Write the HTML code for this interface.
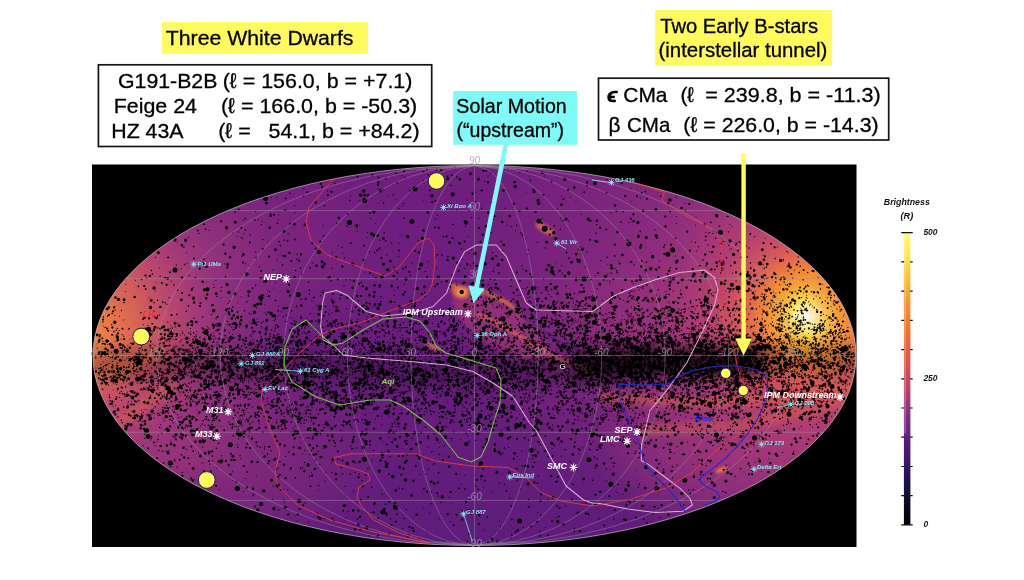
<!DOCTYPE html>
<html><head><meta charset="utf-8"><title>Sky map</title>
<style>
html,body{margin:0;padding:0;background:#fff;}
svg{display:block}
text{font-family:"Liberation Sans","DejaVu Sans",sans-serif;}
.mt text{stroke:#000;stroke-width:0.3px}
.big{font-size:20px;fill:#000}
.wl{font-weight:bold;font-style:italic;font-size:9px;fill:#fff}
.cl{font-style:italic;font-weight:bold;font-size:6px;fill:#7eeeee}
.gl{font-style:italic;font-size:10px;fill:#a79aa8;opacity:0.8}
.cb{font-style:italic;font-weight:bold;font-size:8.5px;fill:#111}
</style></head><body>
<svg width="1024" height="580" viewBox="0 0 1024 580">
<defs>
<clipPath id="ell"><ellipse cx="474.5" cy="355.5" rx="381.5" ry="190"/></clipPath>
<radialGradient id="sun" gradientUnits="userSpaceOnUse" cx="809" cy="316" r="250">
<stop offset="0" stop-color="#fffff4"/>
<stop offset="0.024" stop-color="#fffcc8"/>
<stop offset="0.05" stop-color="#fff080"/>
<stop offset="0.082" stop-color="#fcd448"/>
<stop offset="0.125" stop-color="#f8a832"/>
<stop offset="0.19" stop-color="#f08238"/>
<stop offset="0.27" stop-color="#dc5e58" stop-opacity="0.95"/>
<stop offset="0.38" stop-color="#c0466e" stop-opacity="0.85"/>
<stop offset="0.55" stop-color="#a83878" stop-opacity="0.6"/>
<stop offset="0.75" stop-color="#96307c" stop-opacity="0.3"/>
<stop offset="1" stop-color="#8a2c80" stop-opacity="0"/>
</radialGradient>
<radialGradient id="lglow" gradientUnits="userSpaceOnUse" cx="70" cy="322" r="235">
<stop offset="0" stop-color="#f89038"/>
<stop offset="0.15" stop-color="#f08040"/>
<stop offset="0.3" stop-color="#e06850" stop-opacity="0.97"/>
<stop offset="0.45" stop-color="#c24c6c" stop-opacity="0.88"/>
<stop offset="0.65" stop-color="#a03a7c" stop-opacity="0.58"/>
<stop offset="1" stop-color="#80287e" stop-opacity="0"/>
</radialGradient>
<linearGradient id="base" x1="0" y1="0" x2="0" y2="1">
<stop offset="0" stop-color="#701e7f"/>
<stop offset="0.5" stop-color="#6a1d7d"/>
<stop offset="1" stop-color="#5e1c7a"/>
</linearGradient>
<linearGradient id="band" x1="0" y1="0" x2="0" y2="1">
<stop offset="0" stop-color="#000" stop-opacity="0"/>
<stop offset="0.45" stop-color="#000" stop-opacity="0.45"/>
<stop offset="0.6" stop-color="#000" stop-opacity="0.45"/>
<stop offset="1" stop-color="#000" stop-opacity="0"/>
</linearGradient>
<linearGradient id="cbar" x1="0" y1="1" x2="0" y2="0">
<stop offset="0" stop-color="#000004"/>
<stop offset="0.08" stop-color="#0c0a24"/>
<stop offset="0.18" stop-color="#2a1260"/>
<stop offset="0.28" stop-color="#541a80"/>
<stop offset="0.38" stop-color="#8a2c80"/>
<stop offset="0.46" stop-color="#bc3e6c"/>
<stop offset="0.54" stop-color="#dc5048"/>
<stop offset="0.64" stop-color="#ec6a30"/>
<stop offset="0.75" stop-color="#f59030"/>
<stop offset="0.86" stop-color="#fbc63c"/>
<stop offset="0.94" stop-color="#fdec5a"/>
<stop offset="1" stop-color="#fff87a"/>
</linearGradient>
<filter id="bl3" x="-50%" y="-50%" width="200%" height="200%"><feGaussianBlur stdDeviation="3"/></filter>
<filter id="bl2" x="-50%" y="-50%" width="200%" height="200%"><feGaussianBlur stdDeviation="1.6"/></filter>
<filter id="bl6" x="-50%" y="-50%" width="200%" height="200%"><feGaussianBlur stdDeviation="6"/></filter>
<filter id="bld" filterUnits="userSpaceOnUse" x="80" y="150" width="790" height="410"><feGaussianBlur stdDeviation="0.35"/></filter>
<filter id="blb" filterUnits="userSpaceOnUse" x="60" y="280" width="830" height="160"><feGaussianBlur stdDeviation="7"/></filter>
<g id="st"><path d="M-3.9 0H3.9M0 -3.9V3.9M-2.8 -2.8L2.8 2.8M-2.8 2.8L2.8 -2.8" stroke-width="1.1" fill="none"/><circle r="1.7" stroke="none"/></g>
<g id="cs"><path d="M-3.3 0H3.3M0 -3.3V3.3M-2.5 -2.5L2.5 2.5M-2.5 2.5L2.5 -2.5" stroke-width="0.8" fill="none"/><circle r="1.4" stroke="none"/></g>
</defs>
<rect width="1024" height="580" fill="#fff"/>
<rect x="92" y="164.5" width="764.5" height="382.5" fill="#000"/>

<g clip-path="url(#ell)">
<rect x="90" y="160" width="770" height="390" fill="url(#base)"/>
<rect x="90" y="160" width="770" height="390" fill="url(#lglow)"/>
<radialGradient id="rg1"><stop offset="0" stop-color="#b03c7a" stop-opacity="0.5"/><stop offset="0.5" stop-color="#b03c7a" stop-opacity="0.3"/><stop offset="1" stop-color="#b03c7a" stop-opacity="0"/></radialGradient>
<ellipse cx="180" cy="455" rx="210" ry="120" fill="url(#rg1)"/>
<radialGradient id="rg2"><stop offset="0" stop-color="#c04474" stop-opacity="0.6"/><stop offset="0.5" stop-color="#c04474" stop-opacity="0.36"/><stop offset="1" stop-color="#c04474" stop-opacity="0"/></radialGradient>
<ellipse cx="760" cy="445" rx="170" ry="95" fill="url(#rg2)"/>
<radialGradient id="rg3"><stop offset="0" stop-color="#a0327c" stop-opacity="0.45"/><stop offset="0.5" stop-color="#a0327c" stop-opacity="0.27"/><stop offset="1" stop-color="#a0327c" stop-opacity="0"/></radialGradient>
<ellipse cx="650" cy="325" rx="150" ry="70" fill="url(#rg3)"/>
<radialGradient id="rg4"><stop offset="0" stop-color="#b23e7a" stop-opacity="0.5"/><stop offset="0.5" stop-color="#b23e7a" stop-opacity="0.3"/><stop offset="1" stop-color="#b23e7a" stop-opacity="0"/></radialGradient>
<ellipse cx="800" cy="300" rx="360" ry="250" fill="url(#rg4)"/>
<radialGradient id="rg5"><stop offset="0" stop-color="#a83a7c" stop-opacity="0.35"/><stop offset="0.5" stop-color="#a83a7c" stop-opacity="0.21"/><stop offset="1" stop-color="#a83a7c" stop-opacity="0"/></radialGradient>
<ellipse cx="200" cy="250" rx="200" ry="110" fill="url(#rg5)"/>
<rect x="90" y="160" width="770" height="390" fill="url(#sun)"/>
<radialGradient id="rg6"><stop offset="0" stop-color="#f08838" stop-opacity="0.8"/><stop offset="0.5" stop-color="#f08838" stop-opacity="0.48"/><stop offset="1" stop-color="#f08838" stop-opacity="0"/></radialGradient>
<ellipse cx="856" cy="285" rx="60" ry="75" fill="url(#rg6)"/>
<g filter="url(#bl2)" fill="none" stroke-linecap="round">
<ellipse cx="500" cy="325" rx="55" ry="22" transform="rotate(32 500 325)" fill="#b84078" opacity="0.45"/>
<path d="M452 285.5 L487 293 L508 303 L520 315" stroke="#e8783c" stroke-width="4" opacity="0.8"/>
<path d="M485 295 L518 313 L538 328.6 L557 340 L580 352" stroke="#2c1a70" stroke-width="2.4" opacity="0.75"/>
<path d="M479 315 L504.5 326.6 L522 338.4 L541.6 350 L561 360 L592 371.6" stroke="#e0685a" stroke-width="4.5" opacity="0.7"/>
<ellipse cx="460" cy="292.5" rx="9" ry="5.5" transform="rotate(20 460 292.5)" fill="#e87840" opacity="0.8"/>
<ellipse cx="461.5" cy="292.5" rx="4.5" ry="3.2" fill="#fbaa30" opacity="0.95"/>
<path d="M427 343 L438 350" stroke="#e8784a" stroke-width="4" opacity="0.8"/>
<ellipse cx="545" cy="229" rx="11" ry="4" transform="rotate(30 545 229)" fill="#e0704a" opacity="0.8"/>
<ellipse cx="721" cy="470" rx="6" ry="2" transform="rotate(-25 721 470)" fill="#f58a30" opacity="0.95"/>
</g>
<g filter="url(#bl3)">
<path d="M600 392 L700 398 L800 392 L856 380 L856 392 L800 404 L700 408 L600 402 Z" fill="#d8604c" opacity="0.55"/>
<path d="M640 425 L740 420 L850 395 L850 405 L740 432 L640 436 Z" fill="#d8604c" opacity="0.45"/>
<path d="M92 372 L130 360 L160 350 L170 356 L130 372 L95 385 Z" fill="#e87838" opacity="0.55"/>
<path d="M110 420 L170 380 L180 388 L120 430 Z" fill="#e06a48" opacity="0.4"/>
</g>
<path d="M90.0 364.0L100.0 364.0L110.0 364.0L120.0 364.0L130.0 364.0L140.0 364.0L150.0 364.0L160.0 364.1L170.0 364.3L180.0 364.4L190.0 364.5L200.0 364.7L210.0 364.8L220.0 364.9L230.0 365.1L240.0 365.2L250.0 365.3L260.0 365.5L270.0 365.6L280.0 365.7L290.0 365.9L300.0 366.0L310.0 366.4L320.0 366.8L330.0 367.2L340.0 367.6L350.0 368.0L360.0 368.4L370.0 368.8L380.0 369.2L390.0 369.6L400.0 370.0L410.0 370.4L420.0 370.8L430.0 371.1L440.0 371.5L450.0 371.9L460.0 372.2L470.0 372.6L480.0 373.0L490.0 372.4L500.0 371.8L510.0 371.1L520.0 370.5L530.0 369.9L540.0 369.2L550.0 368.6L560.0 368.0L570.0 367.0L580.0 366.0L590.0 365.0L600.0 364.0L610.0 363.0L620.0 362.8L630.0 362.6L640.0 362.4L650.0 362.2L660.0 362.0L670.0 362.0L680.0 362.0L690.0 362.0L700.0 362.0L710.0 362.0L720.0 362.0L730.0 361.7L740.0 361.3L750.0 361.0L760.0 360.7L770.0 360.3L780.0 360.0L790.0 359.9L800.0 359.8L810.0 359.6L820.0 359.5L830.0 359.4L840.0 359.2L850.0 359.1L860.0 359.0" stroke="#000" stroke-width="30" fill="none" opacity="0.22" filter="url(#blb)"/>
<path d="M575.0 366.5L585.0 365.5L595.0 364.5L605.0 363.5L615.0 362.9L625.0 362.7L635.0 362.5L645.0 362.3L655.0 362.1L665.0 362.0L675.0 362.0L685.0 362.0L695.0 362.0L705.0 362.0L715.0 362.0L725.0 361.8L735.0 361.5L745.0 361.2L755.0 360.8L765.0 360.5" stroke="#000" stroke-width="26" fill="none" opacity="0.62" filter="url(#blb)"/>
<g filter="url(#bld)">
<path d="M747.8 350.8h0M685.1 321.1h0M260.7 400.0h0M715.3 437.0h0M178.6 363.2h0M824.1 340.3h0M554.2 361.0h0M502.1 366.8h0M777.7 339.3h0M326.0 389.0h0M326.9 391.7h0M393.7 412.4h0M716.5 316.9h0M713.3 319.8h0M357.2 387.2h0M270.4 351.0h0M257.2 319.2h0M254.6 368.0h0M182.5 378.3h0M242.7 419.1h0M209.3 365.1h0M450.3 391.5h0M262.2 221.1h0M714.8 358.9h0M407.2 351.7h0M648.6 363.2h0M478.4 338.1h0M480.0 338.8h0M439.7 447.4h0M647.8 333.2h0M476.9 341.4h0M563.7 329.2h0M276.9 197.3h0M553.0 341.7h0M568.5 320.8h0M771.4 373.6h0M662.1 370.1h0M666.4 352.6h0M667.4 355.1h0M778.7 306.7h0M390.3 429.4h0M498.2 386.0h0M402.7 404.3h0M635.3 380.3h0M667.8 359.5h0M564.7 377.1h0M435.7 353.3h0M791.2 364.7h0M767.9 277.9h0M477.2 359.6h0M808.4 333.5h0M306.3 409.7h0M679.3 365.9h0M828.1 404.6h0M231.9 391.8h0M419.7 474.4h0M703.3 366.7h0M620.7 361.4h0M795.6 401.1h0M784.7 384.2h0M538.7 311.4h0M806.1 400.8h0M378.2 380.6h0M528.5 384.6h0M532.1 388.1h0M780.9 430.8h0M622.5 363.6h0M277.2 419.4h0M478.7 343.8h0M616.0 383.0h0M295.4 432.1h0M293.8 431.3h0M195.7 377.7h0M530.9 341.1h0M696.6 333.3h0M144.2 409.5h0M813.2 355.2h0M636.1 423.6h0M786.3 394.4h0M475.2 380.6h0M478.6 384.2h0M217.4 411.6h0M468.8 357.0h0M631.2 201.5h0M501.5 359.2h0M819.5 327.4h0M170.8 325.3h0M764.4 347.0h0M776.9 379.7h0M517.8 295.5h0M680.5 272.7h0M645.3 379.4h0M715.9 370.1h0M709.0 370.7h0M757.6 345.5h0M375.0 223.2h0M671.1 349.7h0M107.8 371.3h0M103.4 372.3h0M642.7 404.6h0M643.8 404.0h0M644.4 402.9h0M645.6 402.1h0M635.2 331.5h0M761.6 471.2h0M546.8 308.6h0M777.0 320.1h0M547.4 425.5h0M321.4 399.4h0M316.6 401.5h0M216.8 358.2h0M535.9 359.5h0M386.6 358.1h0M850.6 344.5h0M247.6 367.8h0M743.1 364.6h0M845.7 335.4h0M531.3 318.7h0M234.0 374.9h0M258.1 220.0h0M418.8 435.2h0M714.3 385.2h0M196.7 403.2h0M199.0 402.0h0M198.9 399.7h0M664.1 311.0h0M397.3 426.3h0M492.2 428.6h0M399.6 392.6h0M301.7 372.8h0M405.7 342.6h0M447.1 209.4h0M211.5 364.5h0M296.4 377.4h0M298.3 375.2h0M294.1 378.3h0M229.3 315.2h0M826.0 330.1h0M417.8 392.2h0M732.7 356.4h0M395.9 199.6h0M572.3 379.3h0M286.9 356.5h0M813.7 345.1h0M773.7 379.1h0M779.6 377.3h0M777.4 377.7h0M740.8 375.7h0M812.9 402.7h0M814.6 402.7h0M127.8 345.2h0M131.7 345.1h0M630.7 345.5h0M418.6 394.1h0M543.3 305.8h0M726.5 355.7h0M522.6 369.1h0M289.5 342.1h0M481.2 382.3h0M731.4 413.9h0M780.9 363.0h0M811.1 371.2h0M249.0 374.2h0M611.0 368.8h0M280.4 373.2h0M277.9 371.6h0M290.9 334.4h0M463.7 318.7h0M492.4 328.1h0M492.9 327.6h0M798.9 342.3h0M798.4 343.2h0M754.8 360.0h0M755.7 353.7h0M675.4 350.6h0M443.1 383.7h0M522.7 313.7h0M707.5 388.2h0M840.8 353.7h0M373.5 358.4h0M177.4 357.6h0M718.9 328.5h0M746.2 308.7h0M745.9 310.4h0M402.6 356.9h0M637.1 363.5h0M631.8 362.6h0M542.7 341.9h0M312.6 344.9h0M693.4 350.6h0M638.2 337.3h0M558.2 301.2h0M216.8 468.1h0M569.9 197.0h0M112.2 369.2h0M110.8 370.4h0M278.2 391.6h0M500.9 318.4h0M453.8 380.0h0M455.6 380.1h0M203.9 354.8h0M280.0 490.3h0M507.4 367.8h0M554.6 275.5h0M452.6 372.9h0M606.7 298.7h0M286.4 408.1h0M395.3 392.7h0M463.8 340.5h0M448.4 380.0h0M700.7 380.1h0M801.4 355.4h0M685.4 417.1h0M364.1 384.9h0M359.0 383.8h0M363.0 385.7h0M228.1 324.3h0M670.0 328.3h0M631.9 408.3h0M233.3 326.9h0M309.0 387.1h0M765.8 384.6h0M585.4 317.7h0M584.6 312.8h0M586.7 314.4h0M127.0 358.3h0M415.0 301.4h0M545.2 527.5h0M560.1 323.8h0M677.3 370.2h0M776.0 347.0h0M360.7 362.3h0M366.3 361.6h0M361.0 359.6h0M754.2 295.0h0M745.2 343.9h0M659.6 296.0h0M467.4 435.3h0M110.9 401.6h0M110.9 404.4h0M113.2 406.7h0M277.6 457.9h0M643.6 377.7h0M465.7 374.5h0M642.1 315.5h0M641.9 317.5h0M728.4 341.4h0M560.1 407.5h0M186.5 372.5h0M264.3 386.4h0M275.2 343.2h0M401.3 359.8h0M726.3 397.4h0M640.1 365.1h0M696.2 393.6h0M299.6 380.2h0M623.4 300.4h0M694.1 398.1h0M234.7 351.0h0M805.4 353.8h0M553.3 407.7h0M554.7 405.7h0M558.9 414.0h0M743.0 362.4h0M852.7 365.6h0M446.8 339.9h0M770.8 409.8h0M773.5 411.7h0M697.0 377.1h0M784.7 372.4h0M346.1 349.2h0M761.0 342.2h0M416.1 397.1h0M825.5 347.7h0M343.7 377.9h0M526.6 323.6h0M174.1 375.3h0M505.3 427.5h0M774.8 309.3h0M777.6 308.6h0M656.5 294.9h0M817.0 354.9h0M821.2 351.0h0M263.7 380.2h0M260.4 372.6h0M264.5 376.6h0M526.8 343.5h0M528.8 342.2h0M297.1 296.0h0M617.2 374.5h0M443.5 324.1h0M282.2 346.6h0M160.5 354.2h0M161.9 351.5h0M163.7 357.3h0M372.4 367.9h0M157.2 441.3h0M451.2 503.8h0M459.9 341.7h0M457.6 343.7h0M417.7 333.4h0M809.5 305.2h0M697.5 349.3h0M700.0 348.8h0M823.9 421.3h0M611.8 332.2h0M321.4 353.1h0M723.4 388.8h0M779.9 406.8h0M553.9 332.7h0M552.0 335.3h0M731.1 372.9h0M654.6 355.5h0M656.3 354.2h0M656.1 356.8h0M326.9 425.3h0M330.2 426.6h0M536.4 412.5h0M625.7 366.8h0M213.0 365.0h0M618.5 359.5h0M511.4 477.2h0M732.8 346.9h0M453.4 359.4h0M326.8 363.7h0M703.0 395.6h0M810.1 362.1h0M810.1 358.2h0M589.9 392.1h0M162.8 375.5h0M116.4 382.0h0M117.8 380.5h0M696.7 251.2h0M566.5 319.2h0M758.9 380.3h0M177.2 242.2h0M189.1 338.5h0M737.0 389.1h0M634.0 429.4h0M432.3 378.8h0M488.0 176.0h0M607.4 325.9h0M494.6 399.9h0M372.1 355.4h0M500.6 526.4h0M554.1 379.1h0M736.3 373.4h0M606.0 381.3h0M650.1 399.3h0M113.5 383.7h0M659.7 363.2h0M827.8 319.1h0M562.4 374.9h0M707.8 426.8h0M706.7 429.5h0M571.7 336.1h0M676.1 357.5h0M563.0 355.3h0M623.8 367.6h0M777.6 247.2h0M257.7 405.9h0M187.7 368.1h0M483.8 367.0h0M624.7 429.6h0M211.8 349.5h0M822.3 395.3h0M652.8 317.2h0M187.4 362.4h0M496.2 300.6h0M347.5 392.3h0M294.0 350.9h0M504.4 360.4h0M705.2 336.1h0M169.1 364.5h0M670.2 310.7h0M456.6 365.6h0M739.0 408.3h0M294.6 367.2h0M501.9 370.9h0M573.0 376.9h0M697.9 366.9h0M578.4 375.6h0M198.7 346.2h0M601.0 423.4h0M277.0 394.1h0M278.2 412.4h0M245.1 421.8h0M248.6 420.1h0M517.9 301.8h0M511.2 301.8h0M831.4 416.3h0M208.6 377.1h0M144.2 373.5h0M267.9 241.3h0M579.0 352.2h0M608.0 317.1h0M552.1 448.4h0M404.0 340.4h0M405.5 340.1h0M616.2 348.4h0M756.5 437.3h0M303.1 341.3h0M479.0 332.3h0M472.8 338.8h0M492.8 349.2h0M754.4 380.0h0M580.3 357.8h0M709.1 315.2h0M424.2 295.1h0M631.9 357.9h0M726.5 371.8h0M810.0 322.8h0M673.7 204.7h0M761.4 379.8h0M567.7 378.3h0M541.9 351.9h0M783.7 379.9h0M668.0 359.8h0M611.3 349.8h0M259.6 380.6h0M764.1 298.2h0M761.4 301.2h0M381.7 416.0h0M652.8 353.1h0M652.4 355.0h0M802.3 372.5h0M185.3 352.0h0M693.7 330.0h0M690.8 331.9h0M837.1 399.6h0M759.2 381.2h0M592.9 358.4h0M414.9 170.5h0M558.5 346.3h0M556.3 349.0h0M253.9 391.3h0M377.7 346.6h0M157.1 368.4h0M277.4 371.5h0M671.5 280.2h0M641.8 348.2h0M617.8 369.4h0M641.1 362.2h0M628.0 351.5h0M198.2 414.0h0M557.7 408.5h0M388.3 384.8h0M832.6 311.1h0M421.5 335.3h0M452.2 391.8h0M636.1 365.9h0M636.3 367.5h0M636.1 367.0h0M112.9 372.9h0M584.0 322.9h0M587.9 320.8h0M799.2 342.5h0M642.0 312.9h0M786.7 348.7h0M790.9 348.8h0M618.5 352.4h0M296.2 357.0h0M507.6 169.2h0M160.4 382.8h0M697.2 340.1h0M316.4 386.1h0M741.5 397.7h0M668.7 328.1h0M370.0 387.9h0M557.9 321.7h0M728.9 358.0h0M595.9 183.0h0M562.4 272.8h0M618.7 260.5h0M583.4 349.2h0M797.8 351.1h0M835.0 382.2h0M721.9 360.8h0M733.1 291.0h0M556.1 316.0h0M669.8 341.9h0M807.3 337.9h0M558.7 410.4h0M558.5 407.7h0M557.8 407.9h0M125.7 413.9h0M131.8 411.5h0M672.8 349.0h0M735.8 333.9h0M768.1 365.2h0M307.4 323.8h0M306.1 321.0h0M771.5 357.8h0M641.1 381.1h0M462.8 327.2h0M494.3 280.1h0M177.0 367.7h0M556.5 262.2h0M670.9 309.5h0M818.4 396.3h0M188.1 386.3h0M416.7 360.7h0M653.2 398.0h0M174.1 401.6h0M239.6 417.1h0M682.6 390.1h0M146.5 366.6h0M115.6 405.3h0M365.4 366.5h0M612.7 409.2h0M610.1 409.0h0M772.8 297.1h0M789.0 322.5h0M718.2 342.4h0M714.3 343.4h0M553.5 306.5h0M610.6 317.6h0M215.1 366.0h0M409.7 397.4h0M407.1 399.7h0M590.4 352.6h0M588.3 353.2h0M686.9 371.7h0M670.2 430.9h0M810.3 383.0h0M326.1 201.1h0M764.4 369.2h0M563.5 301.9h0M321.8 387.1h0M160.5 352.0h0M784.6 289.8h0M701.6 308.4h0M706.1 310.3h0M524.7 323.1h0M347.8 405.9h0M754.1 447.0h0M837.6 409.5h0M578.8 416.8h0M369.7 367.6h0M369.7 370.4h0M258.1 397.5h0M209.4 407.6h0M515.7 384.3h0M518.2 382.1h0M670.5 391.2h0M303.5 403.9h0M776.7 330.7h0M456.2 398.7h0M382.5 441.7h0M564.6 347.9h0M172.7 378.7h0M838.9 324.0h0M808.5 348.9h0M567.8 364.3h0M732.8 359.8h0M238.4 411.8h0M454.9 408.3h0M236.4 363.2h0M641.0 358.2h0M638.3 356.4h0M638.6 356.6h0M643.1 355.5h0M674.4 384.1h0M623.5 356.6h0M625.6 357.6h0M597.4 355.5h0M209.9 426.1h0M234.3 355.3h0M235.3 355.4h0M645.8 447.6h0M226.9 337.9h0M618.4 297.1h0M614.9 297.8h0M290.6 407.1h0M605.8 399.4h0M585.4 348.6h0M567.2 366.1h0M607.1 365.6h0M468.8 379.9h0M791.4 364.4h0M710.0 364.3h0M143.3 324.7h0M136.5 402.2h0M636.3 470.6h0M560.2 374.1h0M242.4 381.1h0M238.7 379.2h0M141.3 416.7h0M679.6 362.0h0M580.3 303.6h0M708.4 367.3h0M709.5 370.0h0M709.3 370.6h0M629.5 505.3h0M164.9 413.7h0M339.3 361.0h0M708.1 365.2h0M817.6 379.1h0M817.1 377.6h0M816.3 375.8h0M680.6 349.0h0M262.3 410.4h0M805.4 389.1h0M812.5 427.1h0M246.0 394.4h0M239.7 394.7h0M596.4 331.8h0M516.8 312.3h0M592.3 369.1h0M599.8 361.3h0M601.2 360.3h0M256.0 344.2h0M840.3 375.5h0M161.0 412.4h0M663.3 346.6h0M466.5 367.3h0M675.9 360.5h0M668.9 301.5h0M370.3 369.7h0M373.7 369.6h0M276.5 335.7h0M818.7 401.7h0M519.3 355.4h0M511.3 351.5h0M574.7 344.9h0M533.9 424.0h0M418.7 353.6h0M193.4 343.1h0M763.3 386.1h0M137.3 383.1h0M729.9 224.4h0M616.0 382.1h0M186.5 252.8h0M472.6 317.8h0M475.6 316.9h0M471.8 318.1h0M219.5 353.2h0M592.2 385.1h0M218.9 339.1h0M206.1 382.9h0M636.4 365.1h0M506.0 408.3h0M507.2 343.7h0M387.7 342.2h0M194.1 355.9h0M197.4 358.3h0M200.0 354.0h0M616.9 377.6h0M589.0 335.9h0M522.9 352.7h0M399.4 401.8h0M149.8 350.1h0M394.2 359.9h0M393.8 362.3h0M398.4 359.7h0M471.4 377.3h0M809.4 379.7h0M433.2 330.9h0M430.6 333.5h0M433.2 334.3h0M185.4 428.5h0M814.4 329.2h0M704.2 391.4h0M729.3 366.9h0M756.7 353.1h0M366.6 398.8h0M502.8 382.8h0M241.8 425.9h0M234.2 426.5h0M318.8 424.5h0M538.8 378.3h0M766.2 415.5h0M759.7 376.9h0M755.4 378.7h0M763.5 376.8h0M330.3 368.8h0M611.6 377.0h0M626.6 321.9h0M324.0 409.7h0M245.3 366.4h0M442.7 455.9h0M761.9 392.3h0M275.6 384.2h0M710.5 361.6h0M122.2 346.1h0M693.2 464.4h0M712.1 354.1h0M766.4 404.3h0M762.1 403.9h0M767.0 406.5h0M767.7 406.2h0M349.5 354.0h0M593.2 391.2h0M209.7 361.9h0M320.2 242.2h0M732.8 343.4h0M648.2 375.9h0M788.2 386.1h0M306.7 411.7h0M304.8 410.7h0M433.1 465.0h0M694.7 356.1h0M553.1 444.6h0M517.5 456.5h0M691.5 351.4h0M313.5 373.3h0M421.8 365.1h0M370.9 365.7h0M369.2 368.2h0M280.5 431.1h0M187.1 263.5h0M785.6 358.5h0M312.0 407.6h0M649.0 396.8h0M647.9 395.3h0M538.6 378.2h0M513.1 369.3h0M757.6 365.2h0M578.7 336.9h0M563.4 405.5h0M666.9 306.9h0M248.1 391.8h0M326.0 364.7h0M629.9 372.2h0M251.1 314.7h0M599.6 338.1h0M598.9 518.2h0M556.9 290.6h0M800.5 359.5h0M692.0 345.4h0M469.1 398.3h0M782.5 392.2h0M779.5 391.7h0M774.5 388.9h0M535.6 428.5h0M808.9 421.7h0M757.0 361.8h0M768.0 347.4h0M487.2 381.5h0M318.6 362.5h0M490.7 343.8h0M690.2 359.0h0M736.2 368.1h0M732.8 345.0h0M300.9 437.3h0M503.9 325.3h0M503.0 324.3h0M708.4 341.4h0M408.2 322.4h0M411.5 321.3h0M626.5 441.3h0M198.6 394.5h0M781.5 325.6h0M782.2 326.6h0M538.4 361.3h0M153.7 387.3h0M811.6 363.5h0M779.7 359.8h0M553.1 367.0h0M551.4 365.7h0M550.4 364.1h0M552.6 362.5h0M739.2 353.4h0M486.1 417.9h0M164.9 364.3h0M496.7 379.1h0M497.5 376.6h0M553.4 266.6h0M590.5 305.6h0M595.3 305.6h0M592.3 307.1h0M609.2 362.6h0M384.8 376.5h0M383.8 377.9h0M602.4 300.7h0M523.2 326.2h0M522.9 329.6h0M643.1 327.0h0M158.3 435.6h0M146.9 364.9h0M209.0 360.5h0M401.1 352.5h0M395.6 351.7h0M635.4 353.6h0M602.2 365.2h0M344.4 390.0h0M725.3 328.9h0M709.3 362.7h0M240.4 458.8h0M228.3 414.8h0M168.7 350.7h0M356.9 323.7h0M357.4 322.7h0M357.0 321.8h0M540.9 358.2h0M543.2 360.1h0M647.2 389.1h0M406.1 347.4h0M537.8 452.2h0M278.1 306.1h0M788.6 394.1h0M242.6 395.1h0M507.0 308.0h0M688.2 432.4h0M241.0 390.6h0M537.8 512.5h0M599.3 367.0h0M164.9 430.5h0M623.7 370.2h0M316.7 369.2h0M309.6 366.0h0M560.6 332.9h0M773.0 302.4h0M774.2 302.4h0M719.7 388.8h0M700.9 362.2h0M420.0 371.6h0M687.6 442.1h0M714.8 399.3h0M215.3 381.6h0M211.3 389.1h0M808.7 286.5h0M425.3 351.0h0M527.8 338.8h0M525.9 335.2h0M647.9 328.7h0M655.2 329.2h0M650.9 330.1h0M653.0 327.0h0M721.1 368.0h0M724.3 367.0h0M721.8 367.9h0M392.5 337.0h0M790.9 399.9h0M154.9 345.4h0M153.0 344.2h0M159.5 344.9h0M569.5 294.9h0M503.4 324.8h0M208.5 403.6h0M478.7 402.4h0M670.1 362.2h0M181.5 416.8h0M704.9 417.6h0M613.1 378.8h0M791.0 364.1h0M795.1 363.5h0M811.5 387.0h0M498.2 347.4h0M224.5 361.7h0M804.4 390.2h0M802.4 393.7h0M389.4 368.8h0M625.8 331.1h0M475.5 358.8h0M654.0 335.5h0M662.1 340.4h0M209.1 230.4h0M473.5 378.8h0M471.6 382.1h0M714.7 350.6h0M716.6 353.8h0M280.4 388.5h0M643.0 377.3h0M592.5 295.5h0M226.1 367.8h0M207.4 326.6h0M204.9 328.5h0M749.8 419.8h0M371.4 389.4h0M165.1 398.5h0M685.0 203.4h0M424.3 411.7h0M144.0 341.6h0M463.6 387.8h0M237.9 406.2h0M717.8 351.1h0M664.5 363.6h0M234.4 411.8h0M454.4 402.0h0M105.8 327.2h0M107.1 329.9h0M103.3 326.1h0M760.3 391.0h0M804.2 317.6h0M770.4 404.2h0M763.2 356.2h0M593.8 348.6h0M592.4 349.6h0M614.5 381.7h0M627.1 361.0h0M800.2 310.5h0M554.4 364.3h0M227.1 311.8h0M546.9 380.4h0M770.0 339.4h0M770.6 336.3h0M662.9 415.8h0M639.9 370.3h0M638.4 366.4h0M217.1 395.1h0M640.4 432.0h0M715.4 337.2h0M711.9 340.0h0M687.9 359.3h0M814.8 344.3h0M602.3 345.5h0M750.7 353.3h0M804.9 340.8h0M585.1 267.3h0M402.5 528.6h0M846.8 367.9h0M783.5 340.7h0M224.6 401.0h0M218.3 382.0h0M471.5 417.3h0M718.0 417.6h0M604.9 340.6h0M477.4 319.0h0M757.9 402.4h0M790.0 360.9h0M493.8 379.4h0M741.8 355.6h0M671.4 343.8h0M515.6 364.1h0M394.7 365.5h0M416.3 346.5h0M575.9 202.2h0M666.9 360.6h0M715.4 329.0h0M714.8 328.1h0M754.3 361.5h0M351.4 408.3h0M525.4 303.2h0M530.5 301.0h0M617.2 380.4h0M612.7 379.5h0M256.4 354.1h0M778.6 330.4h0M776.3 327.1h0M543.5 341.6h0M671.4 325.5h0M658.2 357.2h0M314.2 369.8h0M312.2 371.0h0M574.8 336.4h0M572.4 336.5h0M607.0 371.4h0M695.3 352.8h0M331.2 462.6h0M493.4 268.1h0M610.1 378.7h0M819.9 350.0h0M491.0 316.4h0M488.0 317.6h0M819.9 325.0h0M394.4 339.2h0M818.7 328.3h0M800.1 415.1h0M445.1 435.4h0M755.2 291.2h0M748.5 288.3h0M751.1 290.5h0M696.6 349.0h0M767.5 334.3h0M551.7 318.8h0M506.8 333.6h0M359.6 225.2h0M293.8 358.1h0M698.7 370.2h0M203.5 343.6h0M200.9 343.6h0M202.8 345.6h0M672.3 373.0h0M673.3 373.5h0M674.9 372.7h0M329.9 398.5h0M467.2 236.9h0M515.6 385.6h0M796.8 387.8h0M835.2 347.5h0M533.8 357.5h0M534.9 354.6h0M620.6 324.2h0M594.1 348.0h0M593.3 350.4h0M755.3 369.4h0M345.6 386.3h0M534.7 309.9h0M535.0 312.9h0M535.9 311.7h0M538.1 310.8h0M830.9 330.7h0M398.2 377.0h0M316.6 429.8h0M756.1 350.1h0M729.3 337.7h0M471.4 394.5h0M596.7 398.5h0M597.1 398.5h0M607.0 281.0h0M720.1 394.2h0M643.8 334.1h0M650.7 333.7h0M573.7 360.6h0M128.8 356.5h0M678.0 352.1h0M479.1 394.1h0M783.8 392.4h0M384.1 377.9h0M461.0 439.3h0M640.4 344.3h0M664.8 358.4h0M500.0 326.3h0M493.9 346.7h0M678.1 323.4h0M678.4 327.8h0M741.8 360.4h0M697.4 354.2h0M677.8 317.7h0M631.3 357.9h0M449.7 386.5h0M173.8 339.5h0M180.3 335.2h0M175.6 336.8h0M429.1 195.5h0M297.8 350.1h0M578.3 360.7h0M211.2 375.7h0M338.5 245.8h0M600.3 357.5h0M600.9 359.4h0M595.5 354.4h0M705.2 366.7h0M703.9 367.3h0M773.5 358.1h0M647.4 354.1h0M710.1 319.6h0M641.5 346.2h0M272.9 500.1h0M764.3 383.3h0M405.3 392.5h0M667.2 356.1h0M715.2 382.3h0M514.0 358.9h0M689.0 395.3h0M418.0 331.2h0M433.2 352.9h0M433.1 349.9h0M433.7 352.6h0M423.7 385.6h0M424.0 382.5h0M238.5 371.9h0M653.7 382.6h0M805.5 362.6h0M826.8 360.3h0M768.8 458.6h0M215.4 355.0h0M324.2 351.5h0M476.1 192.1h0M656.9 391.7h0M586.5 345.6h0M279.4 346.4h0M629.7 348.1h0M622.2 333.7h0M586.1 392.0h0M688.9 375.6h0M693.5 378.6h0M689.2 374.8h0M692.4 373.7h0M486.6 232.0h0M301.8 373.3h0M224.5 365.1h0M803.1 310.5h0M176.1 355.9h0M597.7 345.6h0M349.6 332.2h0M387.6 353.1h0M447.0 380.3h0M624.8 357.6h0M183.1 405.4h0M319.9 404.0h0M691.4 418.5h0M378.5 351.3h0M680.1 377.7h0M542.9 381.2h0M702.8 364.4h0M623.1 494.6h0M248.4 427.6h0M251.8 428.3h0M674.2 453.3h0M125.1 394.6h0M347.0 367.3h0M701.0 401.3h0M762.3 345.6h0M664.2 312.3h0M801.0 368.5h0M737.5 351.7h0M731.9 323.7h0M786.1 312.3h0M756.7 372.1h0M664.2 362.4h0M488.0 388.7h0M731.0 350.4h0M731.5 346.9h0M393.5 346.4h0M394.7 345.2h0M201.9 349.7h0M424.9 370.9h0M537.3 422.1h0M695.5 325.9h0M317.9 367.0h0M538.2 369.4h0M158.4 369.1h0M601.6 375.4h0M603.1 373.4h0M725.7 380.9h0M280.7 409.3h0M627.6 386.5h0M608.9 368.2h0M499.4 521.2h0M776.7 361.9h0M752.9 354.5h0M749.6 351.3h0M789.1 394.1h0M179.9 348.2h0M182.3 350.3h0M802.5 323.0h0M574.8 375.4h0M660.6 382.3h0M462.2 411.7h0M707.4 346.7h0M238.4 361.8h0M822.7 302.5h0M500.2 388.7h0M832.3 325.4h0M322.8 424.7h0M471.0 419.5h0M470.5 421.3h0M466.4 420.9h0M607.6 339.3h0M610.4 338.3h0M607.5 340.4h0M395.3 355.5h0M392.3 354.1h0M398.2 357.7h0M529.4 289.9h0M525.7 288.7h0M597.3 426.6h0M793.2 383.5h0M393.9 290.0h0M352.3 352.9h0M624.9 340.5h0M103.1 341.8h0M641.9 355.8h0M556.7 237.8h0M483.7 487.7h0M235.2 359.2h0M487.0 377.2h0M255.3 368.4h0M161.4 357.7h0M162.8 359.0h0M225.9 314.4h0M574.5 378.0h0M496.9 389.8h0M334.9 366.6h0M835.2 333.8h0M828.7 346.4h0M250.8 343.2h0M247.4 344.3h0M818.9 422.1h0M373.7 275.4h0M652.2 363.6h0M619.8 413.7h0M292.5 361.1h0M397.4 419.7h0M561.7 195.8h0M498.6 376.5h0M501.8 374.4h0M574.5 382.6h0M578.8 359.6h0M582.7 361.1h0M579.3 357.5h0M581.9 358.8h0M579.6 359.0h0M704.7 376.9h0M203.7 369.8h0M499.3 352.9h0M499.8 356.1h0M834.7 331.1h0M810.4 360.4h0M618.1 395.9h0M542.4 396.5h0M713.0 412.5h0M303.6 382.0h0M187.5 408.7h0M564.5 347.8h0M562.0 345.7h0M250.1 360.2h0M317.4 338.6h0M294.9 383.2h0M106.2 378.4h0M780.8 341.1h0M818.8 362.0h0M287.5 360.5h0M619.5 377.1h0M605.7 331.1h0M263.9 360.5h0M292.9 335.2h0M289.2 375.8h0M639.9 385.8h0M541.8 350.9h0M536.9 348.6h0M462.1 259.4h0M196.3 371.5h0M191.8 373.6h0M837.1 319.3h0M849.3 362.6h0M621.3 404.5h0M315.8 384.8h0M416.8 384.9h0M562.2 274.6h0M322.5 376.4h0M401.3 359.6h0M404.9 358.0h0M405.6 359.0h0M514.5 336.4h0M512.3 335.2h0M536.9 343.1h0M658.8 382.8h0M364.1 449.9h0M806.7 295.6h0M807.2 298.3h0M551.0 296.5h0M256.9 418.1h0M258.5 415.3h0M319.1 369.2h0M792.0 408.6h0M672.9 345.3h0M588.1 337.7h0M761.6 375.8h0M802.2 355.2h0M267.6 290.3h0M402.4 206.1h0M808.3 361.9h0M808.3 364.5h0M691.1 379.0h0M686.8 374.8h0M111.7 352.7h0M718.3 324.6h0M733.5 415.0h0M222.0 366.7h0M585.9 325.2h0M505.2 378.3h0M410.7 409.5h0M820.0 406.1h0M604.0 358.1h0M753.6 347.4h0M758.0 352.2h0M356.8 367.6h0M733.6 347.7h0M728.1 344.1h0M275.7 373.1h0M616.2 357.7h0M428.4 447.4h0M609.9 352.6h0M684.9 412.5h0M812.3 337.7h0M557.2 208.8h0M834.1 338.9h0M677.1 359.0h0M504.9 366.9h0M243.7 491.5h0M470.9 373.6h0M467.5 370.3h0M696.2 369.3h0M263.9 387.5h0M733.2 352.4h0M353.3 491.3h0M499.1 371.5h0M651.2 382.8h0M801.4 418.9h0M663.6 343.0h0M442.8 350.3h0M492.5 305.0h0M354.9 356.1h0M356.1 358.1h0M726.3 411.5h0M728.6 414.4h0M572.6 382.7h0M421.8 433.1h0M334.1 395.4h0M744.0 472.1h0M378.1 373.6h0M284.7 383.3h0M283.2 382.0h0M197.0 360.9h0M692.9 403.3h0M709.5 385.2h0M421.1 393.4h0M205.9 357.5h0M203.4 358.1h0M747.7 341.1h0M521.5 400.6h0M141.2 357.9h0M705.2 381.8h0M646.4 379.0h0M781.1 379.8h0M842.9 384.0h0M840.9 380.6h0M276.0 342.1h0M571.0 411.8h0M762.5 364.0h0M380.9 328.3h0M320.2 358.3h0M248.0 412.5h0M405.1 343.2h0M176.3 376.6h0M233.5 369.0h0M490.9 369.8h0M513.0 385.7h0M505.9 374.7h0M515.3 230.9h0M637.0 299.2h0M637.5 300.4h0M427.6 378.1h0M192.4 373.6h0M627.9 333.9h0M783.3 311.4h0M342.3 437.7h0M573.4 356.9h0M706.6 331.4h0M448.7 378.2h0M148.8 434.4h0M501.4 316.0h0M500.1 317.3h0M179.2 402.7h0M181.9 401.5h0M181.6 400.9h0M203.4 343.2h0M192.3 372.5h0M194.9 369.7h0M273.0 485.9h0M726.4 351.5h0M797.9 316.8h0M795.4 319.6h0M640.6 198.0h0M832.6 365.1h0M173.2 418.5h0M656.3 326.3h0M789.2 335.6h0M138.8 402.1h0M130.0 339.2h0M407.5 235.8h0M558.8 360.0h0M805.0 336.2h0M302.4 454.0h0M534.6 382.0h0M795.4 411.5h0M413.3 378.2h0M815.1 353.8h0M719.5 348.8h0M242.9 391.0h0M647.1 351.6h0M601.0 342.4h0M641.5 347.7h0M634.2 346.5h0M568.9 399.0h0M98.1 351.2h0M297.1 331.8h0M646.0 400.3h0M165.2 354.2h0M783.1 398.5h0M380.3 399.2h0M228.3 375.3h0M155.0 350.8h0M313.9 378.1h0M365.5 409.1h0M254.7 372.3h0M367.4 339.4h0M540.2 304.8h0M844.3 389.1h0M639.9 413.3h0M790.5 332.9h0M523.5 352.9h0M115.5 382.1h0M799.0 341.1h0M142.5 390.1h0M694.0 405.8h0M840.4 342.8h0M733.5 410.8h0M576.6 391.2h0M194.1 347.2h0M668.7 279.1h0M610.5 379.0h0M531.3 337.4h0M420.8 338.8h0M195.4 348.9h0M616.4 404.0h0M381.2 249.6h0M669.6 339.8h0M783.0 311.2h0M595.3 353.1h0M273.2 371.7h0M281.0 426.6h0M276.8 421.8h0M157.7 380.7h0M675.1 277.4h0M223.1 341.6h0M669.8 361.8h0M562.2 396.3h0M176.5 377.2h0M303.7 341.1h0M294.8 430.7h0M451.0 318.2h0M308.4 359.8h0M601.3 360.2h0M605.0 363.9h0M283.9 341.4h0M162.8 413.8h0M255.4 346.7h0M543.1 376.9h0M537.1 378.9h0M396.9 380.2h0M363.7 384.7h0M362.6 380.7h0M231.7 309.8h0M166.3 340.1h0M584.5 335.7h0M332.3 409.5h0M445.3 396.5h0M290.9 385.7h0M280.4 339.9h0M280.5 341.4h0M638.4 390.7h0M630.2 341.9h0M630.1 345.4h0M737.0 347.4h0M583.9 300.5h0M345.5 382.6h0M295.8 372.7h0M839.9 374.4h0M393.5 329.8h0M757.0 394.3h0M690.3 377.0h0M750.4 337.6h0M758.0 339.1h0M751.5 339.3h0M728.7 216.7h0M813.8 383.0h0M222.1 388.3h0M543.0 385.4h0M539.2 382.3h0M529.3 381.4h0M498.2 379.3h0M496.6 377.1h0M482.8 391.2h0M749.2 342.5h0M370.6 337.6h0M357.1 231.6h0M131.5 343.7h0M513.3 339.1h0M822.3 392.5h0M524.7 345.8h0M831.1 319.5h0M722.5 420.3h0M575.4 354.3h0M576.8 356.6h0M232.6 480.4h0M438.4 429.9h0M417.7 387.7h0M415.7 387.3h0M416.5 321.0h0M744.6 362.7h0M298.6 409.2h0M399.2 413.8h0M835.3 301.2h0M572.8 358.1h0M652.2 475.4h0M338.7 329.4h0M430.9 386.5h0M434.1 389.5h0M644.8 331.7h0M636.8 330.8h0M585.8 375.4h0M793.9 370.8h0M270.9 370.1h0M351.1 280.1h0M598.8 333.0h0M486.2 256.0h0M700.2 341.9h0M124.4 374.0h0M472.9 375.9h0M468.7 377.1h0M643.5 423.4h0M641.9 429.8h0M244.7 358.7h0M240.8 358.5h0M245.4 357.3h0M723.8 354.6h0M278.8 214.8h0M417.8 414.3h0M419.3 411.4h0M424.6 414.9h0M417.9 324.1h0M445.8 314.8h0M674.9 372.6h0M757.9 352.2h0M851.0 365.4h0M307.3 358.5h0M475.4 474.8h0M255.6 368.0h0M373.5 454.3h0M304.9 368.8h0M594.3 382.5h0M716.0 357.7h0M615.8 380.3h0M735.1 310.9h0M282.2 351.6h0M123.9 413.6h0M318.9 365.9h0M667.7 381.4h0M627.8 363.7h0M285.6 456.5h0M212.6 385.1h0M211.1 385.1h0M220.3 391.5h0M151.0 381.4h0M152.9 384.5h0M743.0 368.1h0M573.3 303.2h0M435.6 257.1h0M381.0 366.8h0M181.0 385.7h0M199.3 337.5h0M637.8 370.7h0M129.5 366.8h0M350.6 446.8h0M636.9 380.7h0M378.5 364.3h0M504.0 395.3h0M853.8 361.0h0M390.6 339.2h0M794.0 345.2h0M620.6 362.2h0M621.5 360.1h0M603.0 337.4h0M449.4 314.0h0M173.9 346.1h0M289.6 513.3h0M587.0 327.2h0M655.1 318.6h0M126.2 426.4h0M343.1 253.1h0M668.9 375.6h0M620.9 324.8h0M121.3 360.1h0M124.4 360.3h0M738.9 291.8h0M644.8 371.4h0M214.2 392.6h0M852.7 366.9h0M788.0 252.8h0M267.9 404.1h0M626.7 337.0h0M657.7 383.1h0M739.7 390.8h0M526.1 532.8h0M702.1 418.2h0M340.1 384.0h0M777.1 342.0h0M778.5 339.4h0M777.0 341.5h0M690.2 357.5h0M778.7 343.8h0M307.9 382.4h0M307.7 387.7h0M802.2 406.3h0M332.0 312.7h0M668.8 303.1h0M684.1 360.5h0M725.6 291.0h0M587.4 306.3h0M633.5 353.6h0M707.4 355.0h0M682.8 369.7h0M676.0 346.2h0M673.7 330.4h0M457.6 399.7h0M770.8 381.5h0M686.2 345.2h0M600.2 350.8h0M383.7 352.7h0M660.5 364.2h0M661.8 359.3h0M309.6 358.5h0M689.8 399.3h0M687.6 395.8h0M294.6 381.2h0M409.0 379.7h0M323.5 378.4h0M360.3 436.3h0M406.2 401.1h0M712.1 295.6h0M827.9 400.2h0M582.2 358.5h0M663.5 378.6h0M632.4 373.2h0M508.1 363.0h0M600.7 366.6h0M710.3 411.4h0M188.6 392.6h0M626.9 384.0h0M625.8 386.0h0M691.3 241.6h0M686.3 406.6h0M235.0 381.7h0M277.2 357.7h0M729.1 378.1h0M794.5 380.6h0M731.4 417.4h0M625.9 382.6h0M629.8 377.1h0M664.4 340.8h0M825.5 355.6h0M409.8 452.2h0M281.7 393.6h0M573.3 400.9h0M520.9 315.6h0M520.7 315.6h0M626.3 371.9h0M617.8 374.5h0M177.1 357.7h0M394.8 349.5h0M677.4 343.7h0M112.4 327.9h0M730.0 364.9h0M768.9 343.5h0M609.5 367.5h0M438.2 365.7h0M843.4 316.2h0M671.0 352.7h0M662.6 368.6h0M187.2 416.3h0M194.9 417.4h0M785.0 357.1h0M232.4 316.3h0M552.9 394.2h0M588.4 331.7h0M356.0 388.7h0M303.0 396.5h0M691.3 331.8h0M431.6 392.1h0M433.3 393.3h0M586.6 388.5h0M329.6 394.8h0M326.5 393.1h0M325.1 394.3h0M604.8 370.5h0M249.8 417.9h0M190.7 334.4h0M634.8 382.9h0M679.7 356.8h0M678.6 358.6h0M211.7 334.3h0M459.7 349.7h0M415.8 330.6h0M412.3 328.8h0M439.4 385.3h0M437.6 387.7h0M267.7 401.5h0M802.1 317.4h0M621.3 386.7h0M637.6 372.7h0M543.8 377.3h0M582.1 420.9h0M747.8 355.3h0M367.1 332.6h0M595.9 414.1h0M140.6 333.2h0M191.8 366.4h0M282.4 366.2h0M283.8 362.9h0M216.6 373.3h0M294.3 359.9h0M372.0 376.8h0M743.8 435.9h0M630.2 369.9h0M642.7 301.4h0M229.4 359.2h0M146.8 387.7h0M505.2 382.8h0M715.0 231.6h0M776.4 381.4h0M307.3 333.8h0M223.2 352.4h0M217.1 345.3h0M123.6 320.0h0M272.6 368.0h0M305.7 355.2h0M371.2 512.6h0M628.9 222.6h0M185.3 370.4h0M680.5 355.7h0M834.7 354.3h0M838.5 355.6h0M831.5 350.8h0M834.8 351.5h0M833.1 357.5h0M692.4 367.9h0M841.0 365.0h0M701.8 346.8h0M704.3 347.2h0M853.1 357.8h0M615.1 356.9h0M663.4 352.7h0M533.7 291.0h0M140.9 382.0h0M382.7 393.6h0M788.6 405.6h0M436.6 341.8h0M335.4 362.1h0M327.7 391.1h0M852.7 353.4h0M135.4 359.6h0M186.7 385.9h0M443.3 331.3h0M266.9 368.9h0M160.0 379.5h0M160.1 382.4h0M473.9 361.7h0M730.5 426.0h0M521.7 338.9h0M234.2 329.4h0M747.3 348.1h0M161.0 357.4h0M276.6 386.5h0M745.9 319.5h0M542.7 375.4h0M628.3 430.2h0M448.7 380.2h0M715.1 356.4h0M405.2 343.9h0M409.4 340.8h0M404.9 344.7h0M412.6 413.7h0M409.0 411.7h0M102.2 341.0h0M124.8 395.1h0M187.4 342.9h0M559.5 444.5h0M328.8 400.1h0M703.3 388.7h0M175.7 461.7h0M715.2 352.0h0M208.6 367.2h0M201.3 368.5h0M203.4 368.9h0M751.9 422.5h0M213.3 284.6h0M551.0 394.1h0M613.8 486.3h0M245.4 478.5h0M324.1 331.7h0M705.7 369.0h0M359.4 359.4h0M304.3 323.3h0M299.4 323.2h0M658.4 316.4h0M660.9 316.1h0M607.9 355.5h0M543.8 366.0h0M712.0 372.1h0M819.4 391.2h0M275.5 406.3h0M684.0 312.3h0M222.4 374.2h0M533.7 358.0h0M526.5 362.7h0M222.4 381.6h0M225.5 381.8h0M199.6 349.4h0M526.2 192.2h0M288.0 338.6h0M197.9 381.7h0M446.8 426.8h0M172.3 410.3h0M585.9 335.4h0M198.1 359.8h0M672.7 391.5h0M673.5 394.4h0M113.6 375.4h0M118.9 372.5h0M404.1 284.2h0M122.7 357.0h0M185.0 368.2h0M185.3 369.4h0M184.4 367.7h0M695.4 363.2h0M366.7 237.4h0M523.1 394.0h0M712.3 346.7h0M792.9 353.5h0M420.8 361.3h0M528.7 382.9h0M532.0 382.5h0M430.9 337.9h0M432.7 337.1h0M723.6 294.1h0M706.1 354.5h0M608.0 383.2h0M384.6 332.2h0M639.9 371.2h0M715.3 363.3h0M617.6 382.5h0M495.4 373.0h0M204.9 419.1h0M332.7 373.4h0M360.4 434.1h0M749.3 384.8h0M611.1 370.1h0M504.4 326.8h0M435.9 357.5h0M654.9 343.7h0M294.3 366.2h0M800.8 308.3h0M787.5 406.4h0M644.7 443.1h0M262.1 327.9h0M592.9 414.2h0M841.4 383.0h0M750.8 415.2h0M748.7 416.9h0M763.0 394.7h0M634.2 348.5h0M103.1 361.8h0M775.9 355.3h0M418.0 362.4h0M426.9 361.8h0M424.5 363.6h0M544.8 176.0h0M423.1 370.5h0M523.1 324.6h0M277.9 346.4h0M329.8 372.6h0M315.7 351.8h0M723.6 360.4h0M193.7 287.4h0M257.9 344.7h0M258.3 343.6h0M261.3 340.4h0M747.9 464.5h0M390.7 373.4h0M501.3 429.6h0M313.2 437.3h0M262.7 351.7h0M205.0 393.1h0M644.5 364.9h0M718.8 394.3h0M572.7 393.0h0M690.2 302.3h0M414.5 322.5h0M413.5 327.0h0M762.2 309.5h0M148.7 382.3h0M601.5 404.5h0M607.6 405.6h0M560.9 334.3h0M387.3 384.0h0M212.4 346.3h0M770.7 380.4h0M296.4 358.2h0M237.2 444.5h0M316.9 305.3h0M219.1 344.7h0M556.9 318.5h0M617.0 492.7h0M211.8 406.8h0M818.0 396.2h0M644.9 352.3h0M624.6 381.1h0M168.3 413.2h0M530.5 374.5h0M757.4 317.8h0M136.5 355.2h0M138.9 352.8h0M139.8 354.5h0M139.8 352.7h0M841.1 333.7h0M541.1 414.0h0M630.8 351.4h0M137.7 360.8h0M462.0 393.0h0M798.9 428.4h0M287.0 371.8h0M780.9 328.4h0M781.2 324.8h0M780.7 327.3h0M836.4 351.8h0M796.3 383.6h0M484.3 265.6h0M489.9 364.3h0M263.7 369.6h0M135.6 414.8h0M626.9 369.4h0M363.2 366.4h0M780.4 310.1h0M603.8 357.1h0M574.9 308.0h0M819.3 331.4h0M817.1 329.4h0M684.9 393.5h0M419.5 375.6h0M603.2 399.9h0M606.0 401.3h0M579.6 317.4h0M504.6 365.7h0M500.8 365.4h0M117.1 390.7h0M668.3 332.4h0M670.8 331.4h0M458.6 325.7h0M743.5 370.5h0M612.3 352.1h0M659.8 390.7h0M464.7 475.2h0M520.5 329.9h0M523.0 333.8h0M844.1 331.4h0M675.4 256.0h0M474.1 340.3h0M728.9 402.7h0M673.6 343.6h0M840.2 336.0h0M217.5 407.1h0M571.2 355.0h0M566.8 357.5h0M570.6 355.7h0M614.0 446.6h0M161.5 382.9h0M157.8 387.8h0M631.1 351.1h0M674.9 354.1h0M675.0 353.7h0M574.7 377.2h0M444.8 377.5h0M495.1 350.6h0M398.5 392.2h0M817.8 358.3h0M761.4 425.7h0M139.9 376.0h0M486.1 264.6h0M198.3 370.1h0M429.9 365.6h0M637.0 354.2h0M635.3 357.4h0M700.6 280.9h0M664.3 338.7h0M193.3 363.5h0M224.9 384.3h0M133.0 363.8h0M661.5 357.5h0M660.3 352.9h0M691.4 355.4h0M306.4 392.6h0M460.6 265.8h0M748.1 446.9h0M523.4 379.5h0M420.9 302.6h0M681.6 360.2h0M208.3 327.8h0M821.0 349.1h0M817.8 349.5h0M601.2 392.5h0M665.4 371.8h0M566.9 339.8h0M637.7 349.6h0M517.3 353.9h0M413.9 354.6h0M682.7 406.3h0M680.9 401.6h0M680.1 404.8h0M681.4 405.2h0M493.8 334.0h0M494.4 336.9h0M256.0 360.3h0M775.8 293.4h0M453.2 413.0h0M451.0 416.5h0M160.0 348.8h0M502.2 390.5h0M252.4 381.0h0M297.1 405.3h0M361.6 349.6h0M355.4 325.8h0M580.8 253.8h0M363.6 439.0h0M350.2 196.0h0M341.3 355.2h0M342.4 356.5h0M788.5 369.4h0M423.1 508.6h0M780.8 432.3h0M415.1 357.7h0M652.6 344.0h0M624.7 408.0h0M729.8 349.5h0M180.0 395.4h0M362.6 438.8h0M790.2 366.5h0M506.6 388.6h0M670.7 395.2h0M670.2 381.1h0M294.5 359.2h0M329.4 315.8h0M301.9 333.5h0M368.6 308.6h0M265.2 331.0h0M356.0 412.5h0M271.5 276.6h0M751.0 381.6h0M752.4 382.9h0M249.8 321.8h0M278.5 346.1h0M449.2 497.4h0M541.4 385.9h0M570.2 316.3h0M750.3 467.0h0M356.4 346.1h0M675.1 361.1h0M602.4 336.4h0M450.4 354.8h0M152.0 414.1h0M208.8 348.4h0M215.5 365.7h0M427.9 261.8h0M366.4 341.3h0M583.4 372.7h0M641.9 391.2h0M373.2 395.3h0M501.6 381.5h0M474.4 350.3h0M472.2 351.2h0M474.5 353.1h0M761.3 370.1h0M724.4 329.9h0M795.3 322.0h0M416.1 363.3h0M710.0 348.3h0M546.1 385.4h0M604.4 384.5h0M112.2 376.0h0M185.8 339.6h0M541.0 322.8h0M723.4 376.7h0M720.7 377.6h0M722.8 377.9h0M723.9 377.3h0M268.8 364.2h0M322.9 448.8h0M611.7 387.6h0M666.8 294.4h0M665.9 295.1h0M462.0 388.6h0M717.3 364.4h0M694.1 474.2h0M359.3 389.3h0M359.9 389.3h0M329.8 360.6h0M449.1 321.2h0M427.8 373.7h0M600.8 418.9h0M601.6 419.2h0M268.5 373.9h0M618.1 349.2h0M534.0 380.0h0M118.3 356.1h0M628.5 368.8h0M761.3 338.3h0M609.5 383.4h0M579.5 333.6h0M713.8 385.8h0M569.2 364.2h0M241.0 237.4h0M690.2 356.6h0M688.0 358.8h0M276.7 402.6h0M273.1 402.9h0M697.0 396.0h0M293.5 366.6h0M610.0 284.0h0M332.9 324.6h0M536.0 299.7h0M577.3 416.2h0M729.1 367.2h0M817.9 405.6h0M665.6 374.2h0M666.3 368.9h0M296.8 386.6h0M294.0 389.2h0M296.1 385.8h0M290.7 402.0h0M181.4 369.8h0M499.2 381.1h0M787.7 337.6h0M695.5 225.2h0M704.5 375.6h0M205.2 409.1h0M728.8 341.6h0M731.5 342.9h0M789.2 327.2h0M815.2 360.4h0M748.4 339.9h0M740.4 336.7h0M351.4 449.2h0M132.9 403.9h0M536.1 387.0h0M539.5 383.1h0M628.3 362.3h0M648.2 349.9h0M326.5 393.0h0M584.3 360.4h0M195.7 432.6h0M167.5 364.5h0M793.4 331.9h0M811.8 416.8h0M237.4 302.7h0M175.4 339.2h0M705.3 338.1h0M349.5 345.6h0M694.6 370.9h0M694.1 368.0h0M122.5 375.9h0M680.0 356.6h0M147.0 409.9h0M515.2 352.2h0M517.4 357.3h0M474.0 363.6h0M472.3 365.3h0M277.6 368.5h0M720.8 337.8h0M175.0 373.1h0M179.6 372.7h0M181.3 370.2h0M618.8 326.7h0M492.5 540.2h0M220.3 369.1h0M760.4 343.4h0M203.1 353.1h0M325.0 480.9h0M723.3 394.5h0M699.8 385.9h0M383.3 342.6h0M728.1 357.1h0M364.2 263.5h0M165.1 379.6h0M277.0 259.6h0M664.6 336.1h0M446.5 365.6h0M301.0 443.0h0M393.4 379.7h0M366.4 394.9h0M117.3 338.8h0M121.1 339.0h0M115.1 341.4h0M201.5 403.8h0M200.9 400.0h0M202.6 399.4h0M105.5 374.9h0M359.7 200.4h0M826.6 394.2h0M335.4 412.0h0M481.6 454.1h0M635.8 363.5h0M606.2 416.5h0M607.6 416.0h0M677.5 378.9h0M316.6 409.4h0M223.2 361.7h0M371.5 396.0h0M568.2 364.7h0M561.6 265.8h0M620.8 439.1h0M431.5 332.6h0M848.8 345.8h0M846.7 346.6h0M846.0 346.3h0M680.2 366.8h0M839.4 373.4h0M842.2 372.7h0M538.5 360.6h0M371.4 375.8h0M548.4 358.9h0M612.4 353.5h0M195.3 406.1h0M451.8 441.0h0M243.7 233.9h0M413.5 416.9h0M415.4 314.0h0M826.4 423.2h0M738.3 404.7h0M741.8 405.7h0M833.3 301.7h0M123.9 383.1h0M822.4 284.3h0M343.5 385.7h0M566.7 343.5h0M747.8 349.3h0M749.0 349.0h0M331.4 383.8h0M294.5 205.6h0M626.6 347.2h0M668.2 345.2h0M620.8 340.9h0M633.9 498.6h0M662.4 346.1h0M218.0 381.0h0M214.6 382.9h0M763.6 399.2h0M702.5 373.7h0M701.7 374.3h0M737.4 371.9h0M374.1 348.7h0M323.0 373.3h0M635.2 341.8h0M781.9 358.7h0M656.8 366.2h0M665.2 426.2h0M505.3 358.9h0M501.0 359.9h0M230.6 376.7h0M809.0 388.9h0M633.4 283.7h0M709.6 251.5h0M519.5 414.4h0M718.4 337.9h0M849.4 367.7h0M759.6 306.3h0M244.2 352.2h0M330.7 370.2h0M329.0 373.0h0M287.6 382.6h0M642.3 326.1h0M152.8 388.7h0M700.1 341.9h0M720.0 400.6h0M630.7 404.1h0M780.5 366.7h0M578.5 453.6h0M672.5 358.0h0M124.2 367.4h0M231.3 327.1h0M206.7 282.3h0M797.2 359.4h0M796.1 359.0h0M794.6 357.9h0M792.0 357.1h0M754.7 297.4h0M753.6 297.9h0M672.0 329.4h0M388.1 409.7h0M191.4 362.1h0M190.4 361.9h0M116.5 374.4h0M119.8 374.9h0M834.3 344.5h0M836.3 343.9h0M350.6 394.8h0M630.8 188.8h0M596.3 376.0h0M600.6 376.3h0M176.1 360.8h0M619.7 494.7h0M261.5 326.7h0M429.7 350.4h0M265.8 345.8h0M579.7 304.0h0M579.1 303.7h0M579.8 304.5h0M224.1 390.3h0M535.1 343.7h0M532.5 343.3h0M535.5 344.8h0M526.7 360.6h0M618.2 391.2h0M680.5 410.3h0M143.3 425.5h0M293.9 321.9h0M518.0 354.9h0M196.9 409.9h0M510.1 301.7h0M506.1 299.0h0M558.0 361.9h0M150.4 440.2h0M281.0 311.8h0M235.9 361.7h0M311.1 340.5h0M307.7 337.7h0M311.5 340.9h0M827.2 297.6h0M489.0 360.3h0M631.6 316.3h0M631.4 318.9h0M532.1 344.0h0M824.5 423.5h0M829.3 421.7h0M447.8 402.3h0M629.5 429.4h0M691.9 425.7h0M455.3 385.6h0M406.8 345.9h0M683.4 347.0h0M390.4 404.6h0M393.1 403.9h0M394.8 403.2h0M113.3 389.8h0M775.3 350.9h0M788.2 389.5h0M792.1 389.0h0M432.5 370.5h0M569.4 385.5h0M242.6 359.2h0M471.1 403.3h0M848.9 377.3h0M565.5 331.7h0M540.2 320.7h0M450.6 521.6h0M554.6 353.7h0M324.5 372.8h0M640.2 350.5h0M573.2 322.3h0M575.3 320.6h0M574.9 322.4h0M686.2 357.9h0M770.5 364.9h0M837.0 340.8h0M649.2 429.0h0M653.9 424.2h0M789.2 283.6h0M706.5 396.0h0M795.4 355.5h0M800.6 353.8h0M798.5 353.1h0M802.6 352.1h0M371.5 379.7h0M374.7 382.4h0M666.7 407.6h0M720.6 366.3h0M740.1 400.8h0M633.6 361.4h0M470.4 277.6h0M473.9 349.2h0M745.2 403.7h0M375.5 407.3h0M376.9 405.8h0M699.9 331.2h0M700.1 329.2h0M699.4 331.5h0M138.8 363.5h0M592.5 412.2h0M496.7 362.4h0M521.3 432.0h0M507.5 407.6h0M504.4 408.6h0M501.4 409.4h0M171.8 382.2h0M492.5 352.9h0M280.0 381.5h0M775.4 277.4h0M574.1 359.4h0M643.4 368.9h0M640.6 370.6h0M713.9 423.9h0M506.7 277.3h0M737.2 350.2h0M341.3 424.5h0M544.1 362.6h0M189.2 420.5h0M149.6 418.6h0M150.2 417.9h0M681.3 352.5h0M305.9 391.1h0M574.6 529.7h0M439.8 388.3h0M553.8 313.7h0M554.1 311.9h0M554.7 315.5h0M610.7 366.3h0M734.1 345.7h0M737.5 345.8h0M369.5 314.2h0M561.1 395.4h0M772.3 369.6h0M410.3 355.1h0M553.7 359.8h0M555.0 275.5h0M752.2 386.9h0M749.1 387.8h0M752.5 389.6h0M734.4 378.8h0M343.2 361.0h0M349.1 363.9h0M385.9 369.7h0M650.3 342.8h0M566.0 403.4h0M618.8 413.5h0M771.8 377.4h0M327.3 338.2h0M573.0 306.2h0M410.0 338.8h0M772.0 341.4h0M566.3 343.2h0M428.6 385.4h0M137.9 364.6h0M415.8 389.6h0M408.7 386.8h0M153.7 408.2h0M518.5 367.4h0M512.6 368.4h0M822.2 358.0h0M221.3 370.7h0M559.4 403.6h0M611.6 361.6h0M585.3 370.5h0M588.3 364.5h0M586.5 368.7h0M583.6 365.9h0M368.8 377.7h0M816.4 396.4h0M773.5 398.8h0M588.9 369.7h0M344.6 495.2h0M743.5 281.4h0M211.3 421.8h0M665.5 361.5h0M399.8 377.0h0M310.4 417.8h0M119.4 316.2h0M341.0 343.8h0M676.2 223.3h0M146.9 353.1h0M697.7 426.0h0M590.5 353.7h0M504.6 169.5h0M551.5 363.9h0M463.0 345.9h0M353.5 342.0h0M350.9 330.7h0M248.9 435.9h0M740.1 409.7h0M413.5 372.3h0M407.1 369.7h0M346.3 518.0h0M756.9 338.0h0M434.1 386.3h0M650.1 367.4h0M679.6 356.3h0M502.7 375.8h0M213.1 346.8h0M353.1 372.3h0M578.3 293.7h0M758.0 355.1h0M180.0 384.3h0M392.2 357.7h0M262.5 453.3h0M730.7 367.9h0M733.2 362.2h0M646.3 366.7h0M674.9 358.4h0M673.0 358.8h0M761.2 322.3h0M577.6 344.5h0M578.0 347.8h0M97.0 343.9h0M847.1 337.8h0M786.9 362.1h0M784.0 362.9h0M786.6 360.3h0M755.8 359.5h0M172.1 335.6h0M168.4 332.0h0M170.6 332.9h0M503.7 364.4h0M150.5 329.6h0M144.3 332.5h0M713.8 374.2h0M279.4 339.8h0M373.1 393.7h0M251.9 362.7h0M851.3 355.9h0M231.8 361.8h0M241.1 296.8h0M528.6 371.4h0M419.3 379.7h0M423.0 379.7h0M453.3 369.7h0M423.0 371.5h0M421.0 375.2h0M831.2 321.5h0M727.8 309.6h0M593.2 182.3h0M278.6 367.3h0M831.0 306.6h0M570.9 294.8h0M420.4 420.3h0M419.4 423.1h0M738.6 359.0h0M177.9 389.5h0M174.5 393.9h0M345.6 402.6h0M257.7 379.4h0M485.3 293.1h0M369.2 331.2h0M364.6 371.4h0M582.9 360.5h0M626.8 327.4h0M725.9 334.8h0M125.3 291.6h0M181.4 268.5h0M370.5 405.6h0M746.1 357.7h0M717.3 385.2h0M835.3 333.1h0M472.9 365.8h0M717.6 265.9h0M579.0 365.9h0M575.3 368.2h0M574.8 366.3h0M577.1 358.6h0M598.4 307.8h0M483.2 530.2h0M422.8 201.1h0M301.7 273.1h0M675.5 363.5h0M672.3 363.4h0M177.3 323.1h0M603.2 372.7h0M156.2 282.2h0M800.8 417.2h0M841.7 367.0h0M575.2 381.0h0M705.8 378.5h0M457.9 372.1h0M809.7 358.7h0M785.6 411.4h0M249.5 266.0h0M283.1 362.8h0M354.5 333.3h0M763.1 255.6h0M567.1 384.5h0M791.2 341.8h0M270.7 336.9h0M642.3 396.7h0M512.4 331.3h0M176.0 389.3h0M689.7 366.6h0M310.4 391.2h0M310.5 392.5h0M311.7 393.0h0M573.7 365.8h0M745.3 376.5h0M372.3 371.3h0M275.8 428.3h0M412.6 380.7h0M222.1 358.3h0M445.3 426.0h0M442.8 427.8h0M796.5 350.3h0M795.8 349.3h0M599.5 348.6h0M646.5 389.0h0M237.9 422.1h0M697.1 377.1h0M706.0 373.2h0M578.3 329.2h0M579.6 326.4h0M582.0 326.2h0M388.8 359.2h0M485.2 325.0h0M614.2 409.1h0M770.3 323.7h0M155.3 291.1h0M612.1 365.4h0M607.9 264.3h0M429.0 319.4h0M728.1 419.8h0M801.4 311.9h0M603.8 366.0h0M305.2 416.8h0M634.2 366.0h0M611.1 507.6h0M375.2 387.2h0M376.3 384.7h0M558.1 391.4h0M555.4 397.0h0M471.4 383.4h0M583.4 354.9h0M252.5 371.1h0M208.6 355.7h0M630.6 338.7h0M491.6 313.1h0M340.8 323.5h0M338.2 323.0h0M616.2 397.6h0M614.0 400.4h0M519.9 387.0h0M486.9 390.2h0M617.0 393.5h0M381.7 424.8h0M614.6 357.3h0M729.5 389.8h0M727.2 389.9h0M761.2 384.9h0M646.7 430.4h0M611.1 352.1h0M561.7 365.1h0M606.8 383.1h0M704.1 344.1h0M707.5 344.1h0M706.5 340.2h0M440.7 370.1h0M249.7 355.6h0M252.4 358.5h0M816.8 331.8h0M730.4 382.9h0M732.1 383.0h0M730.0 382.5h0M701.5 363.9h0M692.6 348.0h0M335.1 306.9h0M333.6 306.2h0M396.2 328.4h0M674.5 309.8h0M677.6 311.8h0M672.8 311.0h0M661.9 349.5h0M585.6 383.6h0M614.1 393.6h0M345.0 369.2h0M677.3 464.4h0M640.2 386.1h0M804.9 346.8h0M326.0 407.8h0M205.7 409.2h0M266.1 383.3h0M804.6 304.4h0M667.4 371.8h0M534.9 343.2h0M535.5 341.1h0M733.9 371.0h0M714.6 379.9h0M681.9 367.1h0M610.1 343.8h0M366.2 380.3h0M386.1 363.7h0M667.6 346.2h0M379.5 355.8h0M416.8 363.7h0M468.0 306.4h0M722.4 259.7h0M711.9 381.5h0M745.8 358.4h0M221.0 426.2h0M362.4 379.4h0M713.6 473.1h0M460.3 359.5h0M589.4 358.0h0M114.1 401.8h0M610.6 357.4h0M617.4 347.6h0M612.1 348.4h0M175.9 406.7h0M190.6 328.5h0M281.5 336.7h0M628.1 404.0h0M631.8 403.7h0M738.3 353.0h0M686.0 423.1h0M292.2 349.0h0M293.9 348.3h0M296.3 350.5h0M291.3 343.9h0M650.1 378.6h0M629.0 341.0h0M624.0 342.1h0M621.1 342.3h0M485.8 298.0h0M454.1 361.0h0M410.4 369.0h0M151.9 373.7h0M302.6 373.2h0M677.8 393.1h0M354.0 384.2h0M246.5 326.3h0M496.6 381.3h0M823.6 335.8h0M184.7 383.7h0M147.3 331.1h0M630.1 356.1h0M626.5 355.5h0M625.2 357.6h0M846.2 391.2h0M789.5 359.5h0M141.6 345.3h0M144.7 342.6h0M613.5 420.9h0M606.4 480.9h0M629.7 335.6h0M515.2 475.4h0M174.5 349.2h0M408.6 373.1h0M641.1 377.5h0M637.5 375.8h0M637.1 381.3h0M127.8 404.4h0M151.2 330.5h0M152.9 330.8h0M542.2 218.7h0M636.9 286.5h0M642.9 288.5h0M640.9 287.7h0M727.1 362.3h0M380.0 247.5h0M293.5 340.3h0M100.8 355.0h0M561.1 324.8h0M785.8 370.3h0M423.1 180.8h0M224.1 328.0h0M234.5 362.0h0M621.5 319.9h0M256.3 442.8h0M704.3 318.0h0M710.2 402.1h0M171.7 393.2h0M517.0 339.5h0M520.6 333.5h0M747.0 373.6h0M587.2 366.6h0M713.4 352.2h0M590.5 380.6h0M491.3 350.2h0M318.9 323.3h0M523.4 369.0h0M184.6 335.1h0M240.4 397.2h0M696.5 369.9h0M321.0 344.5h0M138.2 328.7h0M610.5 358.1h0M615.0 353.5h0M198.3 362.9h0M214.9 372.4h0M794.6 400.0h0M231.1 360.8h0M523.7 365.6h0M435.1 378.0h0M447.3 367.6h0M760.8 424.3h0M173.0 390.0h0M543.4 310.0h0M624.8 351.8h0M213.4 361.3h0M666.6 370.0h0M238.2 387.5h0M249.0 382.8h0M323.0 225.6h0M735.8 357.0h0M461.4 483.9h0M793.4 451.4h0M803.4 394.6h0M760.2 365.1h0M202.8 385.7h0M206.6 383.1h0M209.5 386.2h0M682.7 392.3h0M561.8 346.7h0M387.4 323.3h0M387.3 324.6h0M210.8 357.8h0M241.3 421.3h0M284.1 500.8h0M529.3 359.3h0M671.2 408.1h0M801.5 322.2h0M762.8 344.3h0M718.5 408.8h0M716.3 406.9h0M714.3 407.1h0M711.1 407.8h0M633.2 351.8h0M690.3 357.0h0M363.0 401.0h0M684.1 370.0h0M366.7 369.0h0M416.6 404.9h0M542.9 360.7h0M432.9 375.7h0M514.1 356.3h0M598.0 377.2h0M773.1 411.2h0M751.9 358.5h0M251.5 379.4h0M719.4 382.8h0M404.0 356.4h0M494.0 308.1h0M710.1 443.3h0M711.7 441.2h0M560.3 400.6h0M359.1 313.8h0M154.9 442.6h0M755.6 334.6h0M689.0 343.8h0M690.0 345.9h0M691.8 346.3h0M703.0 344.4h0M635.5 374.3h0M680.4 290.4h0M582.5 483.1h0M528.6 325.3h0M533.4 327.7h0M163.4 327.6h0M555.0 375.0h0M669.8 409.6h0M673.0 405.5h0M433.4 351.0h0M585.2 309.1h0M586.9 308.6h0M489.6 467.8h0M301.1 344.2h0M728.8 336.5h0M682.3 343.1h0M507.2 342.9h0M830.4 349.1h0M828.7 349.9h0M818.2 277.4h0M540.4 434.9h0M730.2 365.3h0M199.8 390.2h0M636.4 343.4h0M114.9 315.5h0M665.2 325.5h0M783.8 314.5h0M690.5 396.1h0M687.1 393.1h0M599.3 353.4h0M603.8 352.3h0M138.2 374.5h0M709.1 348.3h0M284.8 502.7h0M163.1 418.3h0M461.2 357.1h0M571.7 336.7h0M852.3 360.0h0M845.8 364.1h0M757.9 434.8h0M604.6 383.6h0M591.5 350.7h0M590.6 351.4h0M482.1 349.4h0M154.2 418.0h0M353.2 377.5h0M687.9 374.4h0M618.5 376.5h0M584.0 360.8h0M734.8 362.2h0M618.6 365.2h0M557.1 344.9h0M393.9 365.3h0M755.5 370.9h0M609.8 367.0h0M491.8 492.7h0M277.6 386.4h0M817.9 363.8h0M152.9 324.0h0M775.3 417.5h0M423.1 403.8h0M475.0 326.8h0M631.1 373.0h0M673.7 378.1h0M583.7 279.1h0M389.0 416.2h0M464.4 268.5h0M682.5 409.5h0M575.7 318.9h0M721.0 391.6h0M500.3 394.8h0M728.5 386.2h0M458.4 320.4h0M571.5 297.8h0M557.8 331.8h0M540.1 364.6h0M614.5 359.4h0M542.3 333.2h0M423.9 383.6h0M702.0 490.0h0M435.7 366.7h0M641.5 361.2h0M160.6 379.8h0M260.6 382.1h0M820.3 373.8h0M738.0 373.7h0M739.3 375.0h0M606.7 351.9h0M603.5 354.0h0M294.7 516.3h0M539.8 377.6h0M791.1 267.1h0M293.9 373.1h0M614.0 353.1h0M768.8 287.4h0M162.9 391.6h0M794.6 373.7h0M797.4 375.7h0M794.3 270.2h0M431.3 356.3h0M687.7 392.7h0M283.7 361.7h0M547.8 407.0h0M220.3 350.1h0M451.1 343.3h0M450.3 344.3h0M753.7 442.8h0M688.0 392.1h0M794.7 333.2h0M568.5 383.1h0M573.2 385.3h0M103.1 389.6h0M541.3 357.0h0M293.8 360.0h0M412.8 414.8h0M628.4 317.3h0M566.8 375.4h0M175.8 413.1h0M707.7 375.9h0M266.3 296.3h0M670.5 335.2h0M368.9 303.1h0M367.0 303.2h0M765.1 285.3h0M135.5 280.3h0M336.1 373.5h0M626.5 398.7h0M510.3 379.8h0M701.3 414.8h0M513.3 207.1h0M622.4 330.5h0M622.3 329.8h0M582.2 400.3h0M576.2 403.1h0M586.4 403.0h0M770.9 361.1h0M414.3 300.6h0M327.7 383.7h0M321.1 390.6h0M200.2 337.0h0M148.8 371.1h0M136.0 371.8h0M730.1 386.2h0M558.1 322.2h0M836.1 331.5h0M253.0 322.7h0M729.0 386.3h0M660.3 384.4h0M657.8 385.9h0M659.0 383.7h0M250.1 351.7h0M248.7 357.3h0M816.2 296.2h0M631.6 307.2h0M600.8 360.6h0M425.3 375.2h0M766.6 368.3h0M452.2 210.0h0M786.3 312.6h0M828.1 353.2h0M815.7 352.1h0M818.0 349.5h0M640.9 276.8h0M505.5 364.7h0M639.9 358.7h0M265.3 361.3h0M718.8 387.0h0M729.6 333.4h0M591.2 399.8h0M812.0 360.2h0M297.4 521.0h0M245.6 272.6h0M231.7 308.8h0M547.0 315.3h0M696.0 352.6h0M721.7 355.3h0M716.9 355.9h0M469.9 306.7h0M718.9 385.5h0M644.8 349.5h0M304.9 450.4h0M399.1 208.8h0M315.2 359.9h0M290.1 317.7h0M275.8 346.9h0M333.6 348.1h0M660.1 463.3h0M585.3 502.2h0M289.8 416.0h0M267.3 352.0h0M266.9 348.9h0M328.7 376.1h0M336.9 353.5h0M633.5 325.3h0M624.8 376.7h0M733.9 407.1h0M733.5 403.3h0M739.3 408.8h0M740.2 406.8h0M653.6 332.8h0M422.9 373.7h0M542.0 332.6h0M787.5 414.7h0M446.0 350.7h0M694.6 357.3h0M645.2 346.1h0M613.8 323.5h0M749.6 361.1h0M650.7 350.2h0M650.6 373.7h0M654.5 372.7h0M428.2 375.1h0M141.5 410.5h0M176.3 361.4h0M642.3 346.1h0M638.8 349.0h0M639.7 347.7h0M614.6 353.7h0M807.0 375.5h0M417.1 382.1h0M430.3 374.6h0M426.5 372.4h0M221.7 298.0h0M574.0 363.9h0M351.9 365.4h0M212.1 336.8h0M239.6 326.9h0M349.7 399.1h0M486.1 368.1h0M121.5 400.3h0M640.4 387.3h0M629.7 362.6h0M121.2 374.0h0M704.5 359.8h0M762.7 371.7h0M148.2 331.3h0M477.8 362.0h0M659.0 367.2h0M659.3 368.9h0M273.8 288.1h0M689.5 373.9h0M530.7 353.2h0M441.6 393.9h0M187.8 360.3h0M414.2 370.3h0M537.9 451.5h0M167.5 363.1h0M684.0 383.1h0M678.3 381.6h0M207.6 360.8h0M248.2 378.1h0M813.8 349.0h0M812.4 348.5h0M507.6 225.6h0M228.7 339.4h0M604.5 319.1h0M214.8 429.9h0M215.0 431.1h0M756.6 345.9h0M527.8 389.2h0M243.0 220.3h0M159.6 370.2h0M156.3 371.3h0M584.4 365.9h0M125.9 284.6h0M630.6 394.7h0M801.1 324.1h0M806.8 322.6h0M277.2 366.0h0M484.5 351.0h0M263.3 376.9h0M651.7 396.5h0M106.6 342.6h0M739.8 354.0h0M469.7 380.2h0M439.7 419.1h0M568.4 221.1h0M598.3 519.3h0M696.9 335.6h0M626.6 389.9h0M395.1 371.9h0M397.6 373.4h0M399.6 369.9h0M839.1 353.4h0M394.2 382.1h0M382.3 365.2h0M128.6 370.5h0M216.4 376.3h0M259.6 363.0h0M332.5 373.2h0M695.5 309.1h0M204.3 339.4h0M169.7 344.6h0M169.1 374.2h0M260.6 341.8h0M726.3 364.3h0M289.9 334.6h0M795.0 362.6h0M798.4 365.2h0M676.0 300.9h0M690.4 311.4h0M356.9 501.6h0M409.0 348.0h0M669.7 347.0h0M619.1 369.6h0M788.2 379.7h0M450.0 343.6h0M697.9 352.7h0M692.5 384.4h0M198.0 428.8h0M537.7 392.6h0M556.5 320.2h0M174.3 409.3h0M793.9 338.7h0M256.3 475.9h0M118.4 373.7h0M345.6 386.5h0M573.5 357.7h0M572.3 358.8h0M232.4 232.9h0M304.3 370.3h0M568.7 372.6h0M677.6 351.5h0M266.3 419.4h0M634.2 299.4h0M360.6 382.3h0M375.3 419.0h0M358.7 345.2h0M805.6 401.1h0M801.6 402.3h0M494.9 385.4h0M503.5 386.7h0M349.8 279.6h0M400.9 328.0h0M400.1 330.4h0M397.9 331.4h0M400.2 331.2h0M401.4 409.6h0M623.0 351.1h0M165.7 389.4h0M112.5 356.3h0M116.0 355.2h0M543.5 381.1h0M672.3 365.0h0M642.6 377.3h0M677.7 381.2h0M406.4 369.3h0M659.0 347.1h0M251.4 323.3h0M252.7 323.5h0M171.2 355.8h0M170.5 356.8h0M140.8 348.4h0M522.8 288.5h0M358.5 376.1h0M811.4 372.1h0M729.3 365.7h0M214.8 362.8h0M783.6 377.5h0M269.3 336.0h0M484.0 394.9h0M644.1 414.3h0M689.0 308.1h0M551.2 317.7h0M705.3 369.5h0M755.1 462.4h0M218.0 382.9h0M278.7 219.4h0M481.0 479.4h0M663.8 321.6h0M198.6 453.1h0M649.2 361.4h0M606.7 360.6h0M495.5 295.8h0M516.8 356.3h0M410.5 386.9h0M344.9 396.4h0M553.4 338.6h0M678.1 378.8h0M681.6 376.7h0M676.5 377.3h0M611.9 380.4h0M736.1 385.2h0M739.5 383.2h0M232.6 471.8h0M413.2 373.7h0M415.3 371.1h0M752.6 333.9h0M170.5 331.4h0M171.3 332.3h0M584.9 348.9h0M594.9 350.1h0M526.4 377.5h0M377.4 374.5h0M214.2 438.6h0M214.6 437.0h0M216.0 440.5h0M602.9 393.0h0M601.4 392.2h0M598.1 391.1h0M602.9 389.0h0M570.3 397.8h0M458.1 355.2h0M663.5 340.1h0M277.3 369.2h0M585.9 331.5h0M437.0 373.2h0M202.1 351.7h0M205.0 351.6h0M168.1 383.1h0M505.5 347.8h0M400.0 234.9h0M844.9 373.3h0M283.4 274.0h0M713.4 345.1h0M269.0 377.8h0M684.0 346.8h0M560.1 330.7h0M558.1 332.3h0M572.1 360.3h0M110.9 351.9h0M646.3 373.9h0M701.5 403.2h0M297.6 343.4h0M206.6 410.3h0M714.4 382.5h0M699.1 388.3h0M571.4 464.0h0M821.7 303.0h0M268.5 371.6h0M105.3 384.6h0M131.7 373.8h0M203.0 340.0h0M828.4 380.3h0M436.4 268.3h0M268.7 377.8h0M266.2 376.7h0M549.0 369.3h0M658.2 374.2h0M139.1 400.4h0M763.2 416.5h0M609.6 367.3h0M610.5 365.3h0M593.2 374.6h0M343.9 356.1h0M162.6 409.3h0M582.8 447.7h0M677.7 371.6h0M667.6 341.3h0M665.7 343.3h0M664.7 347.8h0M276.7 370.8h0M560.3 335.3h0M562.4 337.2h0M560.8 336.5h0M641.3 433.7h0M644.9 342.1h0M242.0 372.7h0M243.0 370.4h0M239.2 375.2h0M739.2 347.9h0M808.7 386.0h0M790.4 371.5h0M403.0 393.1h0M367.5 316.9h0M486.6 324.8h0M760.9 353.6h0M538.7 336.3h0M563.3 413.8h0M248.5 392.8h0M244.2 395.4h0M304.3 440.2h0M307.8 437.7h0M287.9 344.5h0M638.3 389.5h0M634.6 390.6h0M360.2 341.2h0M585.3 320.2h0M237.8 236.3h0M713.4 342.4h0M519.8 172.9h0M795.2 396.9h0M317.9 490.1h0M705.5 232.4h0M404.2 385.8h0M402.1 381.0h0M618.4 345.1h0M466.5 391.9h0M569.9 361.3h0M575.5 362.8h0M664.6 351.0h0M782.5 328.3h0M629.4 363.6h0M750.1 381.6h0M479.8 388.5h0M778.9 344.8h0M548.2 326.2h0M549.1 325.4h0M546.3 326.9h0M351.5 406.1h0M666.8 428.8h0M667.3 430.4h0M664.7 430.5h0M661.0 426.9h0M640.7 450.6h0M311.6 472.4h0M773.8 399.7h0M397.7 367.7h0M219.7 401.0h0M657.6 359.3h0M377.7 382.8h0M374.8 382.6h0M356.5 396.8h0M354.4 396.5h0M326.3 382.2h0M200.0 375.4h0M623.0 375.5h0M610.0 322.0h0M825.0 359.9h0M817.8 357.1h0M252.8 377.4h0M749.5 395.3h0M739.4 365.6h0M437.6 424.2h0M265.2 389.7h0M555.0 382.7h0M671.4 326.2h0M137.7 382.0h0M530.3 336.9h0M302.0 369.0h0M462.4 542.1h0M411.5 402.3h0M529.9 392.1h0M635.0 408.9h0M194.2 390.5h0M439.1 367.8h0M760.6 325.0h0M652.8 325.5h0M178.9 372.0h0M771.3 306.3h0M457.3 340.7h0M459.8 339.7h0M458.3 340.6h0M302.9 413.6h0M458.1 405.5h0M710.0 413.2h0M160.6 424.7h0M319.6 387.9h0M158.1 389.7h0M259.5 384.5h0M598.8 332.2h0M779.5 352.7h0M715.1 360.5h0M439.3 341.1h0M434.5 337.1h0M472.7 362.0h0M334.9 399.2h0M334.3 403.0h0M688.6 279.9h0M220.1 395.2h0M283.3 370.7h0M280.7 372.3h0M791.3 356.8h0M406.4 398.0h0M771.6 324.3h0M696.0 217.7h0M662.0 342.7h0M167.3 373.1h0M653.0 420.7h0M540.4 318.7h0M759.8 366.5h0M764.0 363.4h0M762.4 362.3h0M549.7 327.2h0M540.3 326.1h0M493.0 333.4h0M496.9 333.8h0M799.6 396.3h0M244.3 345.6h0M169.8 341.5h0M313.9 376.5h0M755.8 334.7h0M740.3 431.1h0M561.4 305.9h0M565.5 306.9h0M566.4 304.1h0M565.0 304.7h0M760.2 378.9h0M763.2 374.0h0M335.4 408.7h0M626.9 331.9h0M772.4 391.8h0M691.9 371.1h0M196.8 265.8h0M283.5 499.2h0M475.5 343.6h0M407.9 352.4h0M403.3 355.0h0M717.3 367.5h0M139.0 371.3h0M235.0 292.2h0M823.0 394.0h0M353.4 346.3h0M464.3 324.8h0M489.0 405.0h0M488.7 406.0h0M414.5 379.6h0M775.2 367.9h0M295.0 212.8h0M622.4 315.7h0M513.0 391.2h0M693.3 343.8h0M775.9 345.9h0M657.2 385.2h0M630.6 403.5h0M517.0 382.2h0M147.7 382.4h0M253.2 344.8h0M771.7 318.1h0M753.9 374.1h0M188.2 398.7h0M192.0 399.8h0M195.2 401.8h0M513.8 385.8h0M624.6 338.0h0M741.6 358.4h0M734.6 421.8h0M742.1 419.0h0M737.1 425.8h0M150.0 385.8h0M509.3 377.3h0M563.2 395.7h0M715.8 361.2h0M418.9 389.6h0M420.0 388.4h0M165.2 361.6h0M812.3 306.1h0M159.3 268.1h0M622.1 375.9h0M827.9 365.9h0M236.2 370.7h0M149.0 297.6h0M504.4 368.3h0M732.6 370.5h0M238.2 353.7h0M581.7 403.7h0M175.2 369.9h0M682.2 318.5h0M521.6 390.1h0M133.1 390.7h0M632.6 331.6h0M716.3 361.1h0M568.2 302.9h0M573.0 301.2h0M841.7 394.1h0M163.6 346.9h0M287.2 321.3h0M555.8 517.6h0M150.9 390.4h0M621.4 420.6h0M619.4 420.6h0M675.6 368.3h0M832.7 333.8h0M223.9 354.9h0M229.2 357.1h0M706.2 316.8h0M641.3 343.6h0M548.1 367.9h0M102.8 380.5h0M486.8 326.6h0M225.4 350.5h0M228.4 351.7h0M230.4 353.2h0M804.9 370.5h0M475.8 286.7h0M676.5 466.0h0M590.9 348.2h0M756.3 322.8h0M522.1 300.2h0M239.8 377.7h0M397.9 446.1h0M473.7 360.1h0M719.4 332.8h0M724.5 329.6h0M719.8 329.2h0M641.8 366.8h0M841.8 389.0h0M721.4 436.7h0M272.3 498.7h0M194.7 479.7h0M165.1 363.9h0M611.7 352.6h0M756.4 358.3h0M748.0 421.7h0M306.7 318.1h0M299.5 331.1h0M295.2 331.0h0M297.8 327.8h0M728.9 368.1h0M212.4 414.4h0M272.9 316.5h0M495.3 333.4h0M182.1 331.3h0M768.6 325.8h0M545.0 340.2h0M765.2 238.2h0M113.3 379.8h0M607.6 351.6h0M504.6 321.9h0M596.1 356.1h0M372.9 320.0h0M274.3 435.5h0M701.9 307.2h0M619.1 367.7h0M620.0 369.7h0M780.6 315.0h0M358.0 310.2h0M524.1 341.8h0M697.4 339.1h0M704.9 340.9h0M616.2 416.9h0M702.9 371.1h0M504.8 313.1h0M724.0 330.3h0M353.8 433.0h0M641.4 377.4h0M538.8 371.4h0M584.2 333.5h0M650.2 377.1h0M705.0 400.8h0M687.7 370.8h0M686.2 374.6h0M750.5 309.0h0M476.4 434.9h0M811.6 344.8h0M326.2 407.4h0M546.3 337.5h0M540.1 341.6h0M541.9 339.2h0M499.9 342.5h0M636.3 367.8h0M448.7 331.6h0M442.4 333.0h0M446.3 331.0h0M708.6 344.6h0M573.0 363.3h0M625.4 371.4h0M625.8 368.1h0M759.0 365.8h0M346.1 399.8h0M699.1 375.9h0M698.6 380.1h0M566.6 409.0h0M378.5 378.2h0M226.7 404.6h0M716.0 374.1h0M492.5 369.7h0M211.2 437.2h0M503.0 354.0h0M503.4 355.8h0M328.8 404.9h0M616.6 387.2h0M265.5 312.5h0M550.8 355.0h0M547.8 356.3h0M601.6 417.7h0M600.8 416.1h0M653.5 366.6h0M356.8 368.3h0M361.7 369.8h0M732.1 226.6h0M528.8 341.3h0M469.6 404.7h0M309.8 427.5h0M785.6 395.6h0M554.1 415.4h0M399.5 363.1h0M392.3 364.5h0M297.5 327.0h0M468.6 382.3h0M215.6 331.0h0M583.0 379.0h0M543.0 306.9h0M646.5 357.0h0M651.2 357.3h0M224.3 263.8h0M623.4 343.3h0M272.6 345.7h0M308.7 326.5h0M168.8 450.5h0M497.0 375.5h0M731.0 365.4h0M366.6 370.5h0M523.3 383.1h0M765.8 369.1h0M678.3 350.0h0M625.0 376.2h0M545.7 369.3h0M679.7 357.8h0M529.8 340.0h0M222.6 408.4h0M744.4 359.9h0M736.9 359.3h0M740.2 363.3h0M647.1 376.7h0M402.6 374.2h0M158.9 371.5h0M487.0 362.1h0M777.9 376.8h0M847.3 384.9h0M845.7 384.8h0M845.6 386.8h0M720.5 440.3h0M720.8 438.1h0M260.2 407.6h0M519.3 425.7h0M459.6 347.9h0M534.6 370.0h0M700.4 433.7h0M760.9 409.6h0M168.7 398.4h0M277.1 473.8h0M444.7 540.5h0M814.1 364.8h0M525.1 238.7h0M201.9 369.3h0M747.0 383.3h0M746.0 376.2h0M485.7 336.2h0M812.2 412.1h0M805.8 355.3h0M547.6 348.4h0M787.0 285.1h0M785.3 284.5h0M775.2 338.7h0M775.8 340.1h0M476.4 349.3h0M213.8 357.5h0M225.9 379.9h0M579.1 339.7h0M715.4 392.7h0M632.4 427.4h0M438.9 442.5h0M720.6 429.3h0M539.5 410.0h0M388.6 196.3h0M184.8 372.1h0M281.1 364.2h0M614.4 345.7h0M612.3 343.1h0M773.6 363.6h0M800.2 325.6h0M445.9 385.6h0M682.5 297.3h0M677.7 297.5h0M712.4 361.2h0M711.5 361.4h0M695.6 330.0h0M343.1 440.6h0M174.9 436.3h0M581.3 214.0h0M827.9 374.5h0M250.3 291.5h0M600.5 400.7h0M818.5 384.9h0M95.8 368.1h0M265.0 305.2h0M238.9 383.8h0M685.1 271.3h0M751.4 347.7h0M678.8 376.3h0M429.4 512.7h0M472.7 381.8h0M661.0 367.2h0M318.5 431.7h0M320.4 435.0h0M261.3 401.7h0M424.9 359.6h0M305.7 354.2h0M274.0 387.4h0M236.5 360.9h0M181.8 437.5h0M676.7 216.5h0M785.7 351.3h0M395.1 424.0h0M155.5 364.0h0M587.6 361.0h0M291.9 370.0h0M292.1 367.9h0M294.9 368.9h0M292.6 371.1h0M187.9 375.6h0M239.7 358.5h0M329.7 309.9h0M803.5 293.0h0M218.3 356.7h0M445.2 386.3h0M836.4 372.3h0M393.3 396.9h0M738.7 386.0h0M310.3 344.8h0M450.7 421.7h0M603.8 381.5h0M722.7 373.6h0M676.3 354.3h0M595.5 317.1h0M597.1 320.8h0M685.7 381.8h0M306.1 361.0h0M676.0 343.8h0M672.0 343.1h0M672.8 344.5h0M676.1 343.4h0M695.1 380.5h0M625.7 330.8h0M785.0 361.7h0M483.9 377.3h0M292.0 318.1h0M252.3 334.1h0M349.3 200.9h0M147.8 325.4h0M844.1 314.6h0M383.5 360.9h0M657.0 383.6h0M329.9 388.7h0M331.9 391.3h0M810.4 406.7h0M199.6 365.5h0M287.4 341.3h0M479.2 360.3h0M238.6 344.9h0M681.7 339.0h0M684.5 353.1h0M684.2 349.9h0M820.9 352.0h0M392.8 374.9h0M655.4 298.1h0M653.5 299.1h0M171.6 330.8h0M170.7 328.5h0M628.2 394.1h0M630.2 292.1h0M632.6 362.9h0M631.9 360.9h0M850.9 351.4h0M851.3 354.3h0M783.2 350.2h0M337.4 385.5h0M716.2 329.5h0M213.1 406.7h0M712.8 367.0h0M713.6 366.8h0M503.0 369.3h0M273.0 340.9h0M205.1 380.6h0M821.2 404.8h0" stroke="#000" stroke-width="1" stroke-linecap="round" fill="none"/>
<path d="M646.0 351.0h0M563.6 384.4h0M325.2 347.8h0M751.3 352.7h0M157.4 316.0h0M159.5 315.0h0M228.5 385.7h0M721.2 438.4h0M839.8 345.1h0M467.3 200.2h0M664.0 395.7h0M562.4 383.7h0M142.6 354.7h0M740.4 349.5h0M106.4 377.6h0M580.5 363.0h0M718.1 320.1h0M718.2 318.3h0M469.8 350.0h0M473.5 347.5h0M476.7 349.4h0M209.5 464.1h0M199.5 352.2h0M468.2 364.4h0M142.7 357.1h0M139.5 359.0h0M543.4 363.3h0M493.0 398.5h0M183.8 371.6h0M340.8 354.6h0M681.4 394.7h0M162.0 375.1h0M117.2 380.9h0M479.3 336.5h0M613.6 466.6h0M352.0 365.6h0M323.6 430.1h0M797.5 390.0h0M115.3 309.9h0M646.5 335.9h0M478.5 339.6h0M480.1 342.0h0M553.8 368.3h0M729.0 327.6h0M652.0 397.7h0M506.8 373.2h0M553.7 340.7h0M321.8 456.9h0M771.3 367.5h0M391.5 430.7h0M358.2 341.7h0M636.2 381.1h0M313.4 365.5h0M729.5 384.5h0M488.7 389.2h0M376.2 394.4h0M304.2 363.1h0M425.5 271.5h0M764.3 278.8h0M816.9 364.6h0M526.2 364.8h0M123.7 336.2h0M711.3 304.6h0M708.6 307.2h0M318.2 413.9h0M122.1 334.7h0M821.7 406.3h0M826.6 402.9h0M826.8 404.0h0M708.0 367.0h0M706.9 365.9h0M708.6 367.0h0M310.3 374.2h0M798.9 402.4h0M520.3 359.5h0M726.4 411.0h0M116.7 384.3h0M112.0 400.8h0M110.0 400.5h0M112.4 401.0h0M651.0 366.5h0M785.1 353.3h0M734.4 358.2h0M731.2 354.5h0M737.1 353.3h0M481.5 345.4h0M481.9 344.6h0M478.4 345.7h0M216.9 417.2h0M291.5 432.2h0M811.8 353.0h0M825.6 363.6h0M174.7 437.6h0M473.6 382.4h0M476.8 383.6h0M714.4 333.5h0M365.5 420.6h0M214.0 287.4h0M850.3 347.8h0M817.6 325.3h0M517.5 304.0h0M764.5 346.4h0M598.2 325.3h0M166.0 341.0h0M662.1 430.0h0M154.3 330.4h0M137.4 371.9h0M397.0 389.5h0M715.6 370.9h0M316.1 367.9h0M310.3 366.4h0M830.6 398.2h0M658.2 508.5h0M339.9 353.9h0M652.1 312.4h0M638.7 402.2h0M644.2 402.6h0M636.4 329.8h0M276.2 362.7h0M332.2 368.3h0M728.3 365.5h0M735.7 363.8h0M695.9 360.8h0M669.6 389.8h0M731.7 333.7h0M324.2 401.6h0M322.4 399.0h0M416.2 422.7h0M400.9 393.5h0M244.5 370.8h0M736.4 308.8h0M612.3 352.6h0M591.2 368.8h0M663.2 348.6h0M375.2 361.2h0M373.9 361.3h0M375.2 360.9h0M397.2 395.4h0M404.1 344.9h0M620.0 372.8h0M229.8 314.7h0M460.6 363.9h0M496.2 349.4h0M419.9 391.5h0M570.1 461.4h0M718.9 351.9h0M603.0 421.9h0M568.2 380.8h0M568.0 379.1h0M653.3 357.5h0M305.3 502.9h0M133.3 356.1h0M202.7 447.0h0M812.9 402.8h0M435.5 338.3h0M277.0 368.3h0M130.8 343.0h0M550.1 347.1h0M301.6 348.5h0M423.5 396.0h0M421.8 393.1h0M265.6 389.8h0M731.9 338.1h0M675.7 397.2h0M675.4 400.2h0M217.0 323.8h0M810.9 376.1h0M595.6 392.8h0M634.3 354.5h0M632.2 349.1h0M248.7 373.2h0M556.5 376.7h0M557.5 377.4h0M553.6 377.1h0M272.4 375.3h0M279.6 339.3h0M362.7 286.1h0M719.8 357.1h0M492.6 331.0h0M492.8 329.9h0M492.3 328.0h0M486.1 372.4h0M571.7 324.3h0M274.7 330.9h0M607.6 365.4h0M850.2 378.1h0M688.3 360.6h0M359.4 370.3h0M614.1 340.7h0M475.4 440.5h0M840.8 350.5h0M717.1 324.6h0M742.6 305.7h0M745.6 308.2h0M401.6 352.6h0M633.7 366.7h0M145.9 389.7h0M328.2 384.7h0M704.1 394.6h0M609.6 281.1h0M810.3 361.4h0M111.6 371.6h0M200.5 426.1h0M279.8 393.7h0M665.9 318.1h0M658.4 360.0h0M452.7 377.7h0M450.6 382.7h0M179.2 352.1h0M349.4 356.1h0M752.4 381.2h0M411.4 337.6h0M826.8 315.3h0M641.6 342.7h0M506.3 369.2h0M823.2 376.4h0M793.8 353.2h0M537.2 358.4h0M289.2 410.5h0M447.1 380.8h0M508.0 316.2h0M469.0 253.2h0M486.2 373.1h0M808.7 301.8h0M234.7 337.5h0M761.8 347.9h0M576.3 430.4h0M259.5 266.7h0M683.8 377.7h0M635.4 407.1h0M711.1 395.0h0M528.8 338.1h0M305.9 387.2h0M766.9 305.1h0M584.6 315.3h0M845.8 374.9h0M240.0 455.7h0M687.0 357.3h0M825.2 300.9h0M255.8 252.2h0M783.2 260.7h0M574.1 368.0h0M493.0 342.7h0M777.3 351.5h0M405.1 401.8h0M358.6 360.1h0M361.5 322.3h0M683.7 359.6h0M685.2 360.6h0M682.8 361.6h0M698.1 375.8h0M835.2 355.1h0M520.4 312.5h0M518.9 313.6h0M367.4 232.3h0M614.3 361.8h0M729.8 341.8h0M624.4 319.3h0M191.5 381.7h0M744.2 282.4h0M569.7 320.7h0M164.2 420.6h0M723.1 347.3h0M399.5 426.6h0M784.1 368.1h0M696.7 401.2h0M693.4 397.1h0M367.6 352.5h0M656.5 302.0h0M658.6 358.6h0M775.7 412.0h0M333.3 303.6h0M592.4 367.2h0M597.4 367.9h0M589.6 366.8h0M259.3 423.8h0M781.5 375.3h0M214.5 361.7h0M211.8 352.3h0M210.5 361.0h0M470.0 432.1h0M425.0 296.6h0M252.5 364.0h0M537.4 287.8h0M431.8 366.8h0M775.5 310.0h0M706.3 367.7h0M335.0 183.2h0M820.3 351.7h0M818.4 351.0h0M580.0 361.5h0M556.9 364.6h0M671.2 382.0h0M672.4 387.5h0M545.8 345.2h0M729.2 363.0h0M623.1 374.0h0M261.5 364.6h0M584.2 364.8h0M221.8 359.6h0M162.0 354.2h0M369.2 370.7h0M281.4 375.2h0M102.2 389.0h0M698.7 346.9h0M732.1 370.1h0M612.2 356.5h0M612.0 356.5h0M723.3 241.4h0M658.5 355.8h0M749.9 290.5h0M499.6 399.0h0M231.6 353.2h0M235.8 353.9h0M537.0 407.5h0M534.6 414.0h0M745.1 360.5h0M627.7 367.7h0M211.3 362.9h0M212.3 363.2h0M213.7 364.9h0M800.8 354.4h0M344.9 382.3h0M394.0 266.9h0M398.2 383.0h0M727.7 345.9h0M730.7 371.6h0M707.6 413.4h0M607.0 274.7h0M782.4 389.1h0M696.0 362.2h0M699.8 395.7h0M701.4 390.5h0M808.0 358.2h0M161.4 377.7h0M679.3 367.7h0M331.5 386.5h0M713.1 359.7h0M708.9 362.1h0M707.1 361.0h0M731.7 389.5h0M731.7 390.7h0M378.0 188.6h0M238.2 362.2h0M741.6 365.8h0M739.9 357.6h0M703.2 384.3h0M706.9 382.8h0M460.5 362.1h0M708.6 387.8h0M705.6 392.1h0M631.3 380.0h0M372.4 357.5h0M756.1 357.9h0M369.3 353.4h0M562.6 382.2h0M187.2 386.4h0M159.6 392.8h0M526.6 363.1h0M370.4 356.1h0M196.0 334.8h0M196.8 331.6h0M196.4 336.4h0M190.9 334.5h0M365.7 349.7h0M772.7 388.5h0M150.4 377.8h0M676.3 355.1h0M160.1 276.2h0M634.9 291.1h0M798.9 356.3h0M797.9 355.2h0M800.2 352.3h0M683.7 334.7h0M411.8 388.7h0M657.9 354.2h0M638.6 303.4h0M315.2 357.7h0M188.9 357.8h0M189.5 360.9h0M495.9 389.6h0M187.3 426.8h0M471.6 318.8h0M845.7 360.1h0M842.7 332.4h0M763.0 264.3h0M670.6 312.8h0M271.0 197.7h0M228.6 422.1h0M362.8 404.6h0M362.5 403.0h0M371.1 373.0h0M575.7 378.5h0M204.7 346.1h0M209.1 383.5h0M853.0 353.1h0M680.1 366.5h0M249.2 313.5h0M731.9 370.3h0M734.8 338.3h0M838.8 336.1h0M535.2 311.6h0M142.3 342.8h0M242.3 359.3h0M737.1 418.6h0M614.8 317.5h0M609.8 317.8h0M615.0 320.2h0M214.6 420.5h0M483.0 402.9h0M403.1 338.4h0M727.4 469.6h0M489.8 349.5h0M752.8 382.6h0M733.5 415.3h0M514.8 369.8h0M830.7 300.3h0M268.3 357.3h0M359.2 474.2h0M669.3 359.6h0M668.6 356.2h0M764.5 295.0h0M667.3 402.1h0M301.9 368.1h0M661.9 436.5h0M184.5 354.4h0M184.2 352.6h0M690.0 334.2h0M688.9 333.8h0M667.3 366.8h0M133.3 411.9h0M702.5 367.3h0M830.1 354.0h0M561.9 346.2h0M572.6 356.0h0M251.6 388.6h0M250.6 392.7h0M421.4 355.3h0M175.2 326.7h0M726.0 465.0h0M603.0 391.2h0M608.3 389.3h0M320.1 356.5h0M811.7 351.4h0M206.8 384.5h0M207.4 385.3h0M679.6 331.2h0M357.3 384.2h0M639.7 348.9h0M639.0 342.1h0M640.7 350.4h0M641.4 342.4h0M616.0 371.3h0M97.3 334.0h0M419.1 336.3h0M418.1 337.8h0M703.0 346.2h0M717.1 417.4h0M640.1 367.6h0M788.5 371.8h0M245.4 403.8h0M710.9 341.3h0M707.0 343.6h0M378.1 356.0h0M355.1 472.5h0M640.2 309.9h0M643.4 312.5h0M643.1 312.5h0M614.6 355.3h0M704.2 334.2h0M607.6 372.4h0M186.9 405.2h0M485.6 346.8h0M712.3 358.6h0M495.2 421.5h0M103.2 376.8h0M366.3 374.2h0M440.7 406.4h0M670.7 371.4h0M669.9 370.7h0M477.3 375.7h0M728.9 288.5h0M775.0 362.7h0M543.5 362.1h0M665.8 339.4h0M560.1 409.7h0M507.2 336.1h0M419.5 356.2h0M670.9 354.0h0M674.0 350.0h0M793.9 383.7h0M216.1 376.4h0M640.0 380.6h0M641.7 381.6h0M852.8 347.0h0M761.4 393.8h0M763.5 400.6h0M760.1 395.6h0M764.0 397.9h0M761.2 399.5h0M492.6 252.7h0M175.7 365.4h0M179.0 371.1h0M363.8 379.9h0M685.8 356.6h0M669.0 314.8h0M719.9 328.4h0M683.9 375.0h0M155.4 257.3h0M155.2 445.7h0M413.9 359.7h0M419.4 363.2h0M419.6 365.6h0M825.6 340.5h0M409.1 534.5h0M670.6 378.6h0M228.3 303.6h0M568.3 352.3h0M215.8 338.2h0M784.2 319.1h0M788.9 322.1h0M209.9 389.2h0M714.3 340.9h0M719.1 342.3h0M555.2 305.1h0M727.0 365.8h0M588.6 348.1h0M684.2 367.8h0M688.5 372.4h0M242.0 256.2h0M561.9 303.1h0M322.6 384.7h0M318.3 390.1h0M584.0 391.9h0M156.8 353.1h0M161.5 350.2h0M162.1 350.2h0M225.3 382.1h0M348.1 357.8h0M785.8 288.8h0M707.0 376.5h0M245.4 263.8h0M694.4 355.9h0M513.8 369.9h0M208.1 352.9h0M704.6 313.1h0M344.5 257.8h0M418.5 382.4h0M343.9 405.8h0M350.3 409.1h0M345.1 406.5h0M106.0 340.7h0M667.6 343.4h0M402.7 381.9h0M448.1 361.0h0M318.0 376.9h0M370.5 368.0h0M373.8 366.5h0M515.1 378.7h0M518.5 385.0h0M796.5 365.7h0M669.0 393.3h0M316.7 399.1h0M655.2 308.1h0M727.0 367.9h0M181.3 378.8h0M301.0 396.9h0M689.8 345.0h0M582.5 389.1h0M838.8 325.8h0M836.2 324.6h0M838.0 326.3h0M837.5 321.8h0M423.4 383.3h0M425.4 382.1h0M426.8 379.6h0M681.7 338.4h0M386.6 254.7h0M557.8 374.1h0M610.8 393.3h0M705.4 382.6h0M735.1 370.3h0M653.7 362.8h0M492.9 541.9h0M801.1 357.5h0M528.1 400.5h0M527.6 398.1h0M635.1 357.2h0M626.7 356.4h0M620.4 354.4h0M411.7 371.4h0M601.3 352.1h0M623.5 403.3h0M232.8 355.2h0M620.1 298.6h0M629.8 376.9h0M609.2 398.4h0M611.7 397.7h0M613.3 397.7h0M255.8 389.4h0M156.6 367.0h0M569.4 369.9h0M792.7 366.7h0M786.5 367.8h0M140.1 378.4h0M331.8 354.8h0M491.0 173.0h0M476.5 418.8h0M242.0 378.8h0M241.2 378.1h0M645.9 392.0h0M597.2 288.9h0M143.3 412.3h0M679.0 360.3h0M781.1 334.8h0M405.1 380.0h0M711.4 369.9h0M168.3 409.6h0M512.9 383.4h0M362.5 396.5h0M632.2 358.5h0M398.3 354.7h0M682.0 362.6h0M245.9 397.3h0M741.4 273.0h0M529.2 375.9h0M822.3 301.7h0M255.7 211.3h0M692.4 385.4h0M103.7 353.8h0M108.5 356.4h0M189.7 396.7h0M531.3 475.2h0M640.2 355.9h0M577.0 332.9h0M728.5 353.2h0M588.4 372.4h0M604.3 358.6h0M601.8 356.9h0M605.8 356.5h0M748.6 344.2h0M199.1 440.5h0M689.0 335.7h0M612.9 341.4h0M617.2 387.0h0M373.3 367.3h0M142.5 361.3h0M518.4 354.6h0M351.6 391.1h0M256.4 380.4h0M675.2 358.1h0M658.9 351.7h0M657.8 352.0h0M112.4 364.3h0M539.6 422.4h0M537.1 426.5h0M424.1 405.0h0M759.1 390.6h0M212.4 342.3h0M669.5 379.7h0M177.6 414.8h0M769.0 388.7h0M570.1 360.1h0M639.2 368.2h0M213.2 333.1h0M532.3 351.6h0M766.3 361.7h0M563.7 307.3h0M502.8 406.9h0M504.7 408.6h0M323.9 340.7h0M330.2 342.1h0M720.2 368.2h0M717.6 368.2h0M719.1 365.6h0M597.3 341.8h0M558.8 386.7h0M359.2 363.1h0M390.1 342.8h0M200.5 352.9h0M562.2 328.9h0M525.7 353.4h0M525.7 354.6h0M153.0 351.6h0M745.0 358.4h0M392.3 357.9h0M407.3 414.6h0M411.4 411.3h0M571.8 317.8h0M560.3 218.2h0M563.2 328.0h0M434.5 333.0h0M428.3 334.5h0M360.3 398.8h0M730.6 366.9h0M731.1 365.4h0M195.7 349.1h0M551.4 370.4h0M383.7 190.0h0M785.8 383.7h0M431.6 492.0h0M236.2 426.4h0M541.9 374.3h0M541.0 375.9h0M541.4 375.7h0M764.7 375.6h0M762.4 378.2h0M273.0 381.9h0M205.5 345.6h0M299.8 417.0h0M296.3 416.9h0M300.0 414.7h0M724.1 380.6h0M743.5 319.5h0M155.4 364.9h0M378.4 285.4h0M470.1 414.9h0M576.0 327.1h0M243.1 366.8h0M610.7 325.5h0M758.7 394.7h0M462.8 336.7h0M532.6 358.3h0M124.2 349.4h0M123.8 350.6h0M326.5 356.5h0M635.9 379.9h0M651.0 343.0h0M653.6 345.4h0M711.4 356.2h0M711.8 354.3h0M662.3 417.5h0M801.7 297.6h0M213.4 358.1h0M212.9 360.9h0M452.0 336.4h0M735.1 337.5h0M647.7 372.7h0M505.8 344.8h0M734.2 374.1h0M816.4 424.2h0M523.9 400.1h0M306.0 407.1h0M233.7 409.9h0M401.7 175.8h0M403.2 398.4h0M756.8 373.3h0M399.2 362.7h0M237.8 353.9h0M238.8 356.8h0M370.5 369.3h0M759.0 370.4h0M395.8 320.9h0M308.4 521.9h0M110.4 357.7h0M451.9 419.4h0M662.2 332.2h0M591.4 315.7h0M578.2 419.9h0M734.9 304.8h0M648.5 397.3h0M284.1 388.4h0M388.9 345.1h0M660.7 416.7h0M653.1 367.2h0M258.0 321.9h0M263.4 321.4h0M291.1 384.3h0M293.3 386.4h0M460.7 374.3h0M781.0 391.7h0M781.7 390.4h0M456.6 284.9h0M190.0 361.7h0M760.6 363.5h0M541.6 411.0h0M536.0 413.6h0M538.8 409.6h0M538.6 411.2h0M695.4 242.4h0M679.0 377.3h0M297.2 353.4h0M237.3 412.7h0M242.3 410.2h0M240.4 415.5h0M243.7 412.7h0M320.0 366.9h0M760.6 417.4h0M495.6 341.3h0M497.4 339.1h0M500.5 341.4h0M750.4 327.8h0M737.7 371.2h0M733.5 345.0h0M732.7 347.4h0M590.2 380.8h0M503.2 322.6h0M706.9 343.6h0M410.5 322.3h0M484.6 181.2h0M642.2 382.2h0M728.8 357.5h0M543.6 356.3h0M150.5 386.6h0M530.9 314.7h0M812.3 361.8h0M139.1 348.5h0M372.0 389.1h0M244.2 361.7h0M697.9 317.3h0M726.8 355.4h0M129.3 352.4h0M625.9 362.4h0M624.8 361.8h0M487.0 419.2h0M488.2 415.1h0M489.0 418.6h0M169.1 370.1h0M715.0 430.9h0M496.7 377.1h0M309.4 293.8h0M701.9 396.8h0M696.5 399.3h0M446.2 349.9h0M820.3 320.1h0M311.4 341.8h0M645.0 330.9h0M384.2 413.1h0M536.9 409.3h0M503.5 317.1h0M701.3 364.9h0M392.2 376.5h0M635.3 356.7h0M633.2 356.8h0M419.4 330.7h0M299.4 350.2h0M295.7 426.1h0M413.4 349.5h0M239.6 391.5h0M648.5 353.3h0M601.0 367.0h0M161.7 433.0h0M839.5 357.8h0M191.5 371.1h0M311.8 369.3h0M313.6 367.2h0M352.9 364.1h0M538.1 476.3h0M664.8 354.4h0M304.6 462.6h0M770.6 303.1h0M199.8 377.3h0M761.1 436.5h0M293.2 428.6h0M419.5 369.7h0M415.6 369.2h0M208.5 382.3h0M418.0 269.1h0M645.2 351.1h0M287.9 406.8h0M511.1 399.2h0M427.9 348.7h0M816.1 385.9h0M650.6 329.0h0M726.0 364.6h0M373.4 450.4h0M242.2 378.2h0M625.5 393.2h0M620.4 388.7h0M361.0 371.3h0M756.0 401.9h0M684.1 376.8h0M522.0 265.9h0M557.7 324.4h0M555.5 326.2h0M522.9 361.4h0M242.2 389.0h0M794.0 364.8h0M374.4 504.7h0M361.9 357.9h0M358.7 352.5h0M362.7 354.3h0M383.5 375.6h0M377.6 366.2h0M476.9 358.8h0M417.8 364.5h0M652.6 339.9h0M656.6 339.2h0M657.8 339.5h0M208.0 352.7h0M416.9 401.6h0M716.7 352.1h0M653.1 327.7h0M407.0 359.5h0M809.1 377.7h0M595.9 298.9h0M596.8 297.1h0M464.8 361.9h0M462.7 362.5h0M210.3 485.7h0M786.7 251.3h0M398.7 256.1h0M378.5 369.3h0M239.6 348.5h0M769.0 365.0h0M538.6 432.0h0M423.7 376.6h0M574.5 528.1h0M277.4 394.4h0M423.9 414.4h0M427.0 411.9h0M432.7 411.6h0M710.7 377.1h0M525.3 345.3h0M461.0 377.9h0M456.3 400.0h0M106.7 328.3h0M105.0 327.3h0M686.6 371.7h0M580.0 247.1h0M618.9 406.0h0M767.9 355.2h0M765.1 356.1h0M765.7 358.8h0M724.4 340.4h0M722.4 341.1h0M723.8 338.9h0M722.0 340.7h0M295.9 344.8h0M623.0 358.7h0M623.9 356.0h0M228.5 309.0h0M766.7 337.9h0M392.4 346.5h0M661.9 418.0h0M664.3 415.7h0M641.2 370.7h0M760.5 418.4h0M215.8 394.4h0M364.5 304.6h0M490.5 287.5h0M586.4 314.1h0M176.6 354.2h0M816.2 343.2h0M561.2 332.8h0M593.9 379.3h0M406.3 509.7h0M149.6 373.7h0M770.3 338.6h0M771.6 339.4h0M769.9 338.8h0M799.0 350.1h0M595.7 364.7h0M597.6 339.8h0M388.2 313.1h0M645.2 427.8h0M185.7 390.1h0M784.1 343.2h0M223.3 404.4h0M220.6 384.2h0M219.8 382.9h0M711.8 415.3h0M714.5 415.3h0M713.1 414.4h0M814.1 336.6h0M302.7 467.4h0M782.7 413.2h0M515.6 410.0h0M790.8 359.5h0M793.0 357.6h0M789.6 359.3h0M491.7 382.9h0M495.9 383.0h0M747.3 430.4h0M194.2 372.1h0M521.5 363.2h0M416.5 348.1h0M414.0 349.1h0M418.1 349.0h0M415.4 348.3h0M613.9 180.6h0M712.6 363.6h0M711.7 327.7h0M753.6 360.7h0M309.3 438.3h0M400.3 337.3h0M732.7 426.4h0M615.7 381.2h0M500.9 364.2h0M490.3 354.3h0M267.4 398.3h0M842.4 361.7h0M308.5 374.1h0M313.4 370.6h0M816.5 394.8h0M573.2 332.1h0M608.1 373.8h0M606.7 369.1h0M163.4 355.8h0M488.5 315.9h0M823.6 330.0h0M139.6 357.8h0M612.1 462.9h0M403.7 322.7h0M744.0 387.1h0M510.0 497.9h0M694.9 348.9h0M778.2 353.4h0M547.1 315.9h0M552.0 320.4h0M290.0 332.9h0M395.6 367.4h0M728.7 245.4h0M704.9 368.4h0M703.3 368.8h0M484.3 356.1h0M357.1 227.7h0M561.6 350.5h0M399.8 327.6h0M402.5 327.9h0M632.5 368.3h0M748.4 282.3h0M292.9 348.6h0M534.8 357.4h0M586.1 357.4h0M169.9 272.4h0M594.0 349.1h0M687.6 352.0h0M202.2 366.5h0M197.4 365.8h0M705.7 339.3h0M743.0 348.9h0M756.9 348.5h0M733.6 339.4h0M731.5 336.8h0M730.4 338.9h0M600.2 395.8h0M380.5 317.0h0M634.3 355.3h0M698.1 333.8h0M630.2 341.1h0M125.9 378.1h0M198.9 233.5h0M732.1 321.9h0M483.7 389.9h0M485.7 391.7h0M780.7 393.0h0M505.8 383.8h0M840.3 349.8h0M507.8 327.6h0M787.1 347.8h0M124.6 346.3h0M576.8 359.5h0M712.6 275.3h0M603.7 355.6h0M186.5 416.3h0M554.1 354.2h0M778.0 362.0h0M309.3 321.2h0M733.4 346.7h0M550.1 383.7h0M514.9 360.4h0M831.1 362.2h0M633.4 367.5h0M431.4 353.9h0M431.7 350.8h0M728.8 231.9h0M481.3 386.0h0M422.9 382.8h0M425.4 385.6h0M424.7 385.5h0M771.7 332.9h0M787.6 419.2h0M317.5 336.8h0M652.4 378.5h0M675.3 378.8h0M653.5 395.6h0M507.1 378.5h0M291.8 385.0h0M482.2 356.5h0M816.4 435.0h0M280.3 347.9h0M281.3 347.4h0M279.2 347.9h0M701.9 355.5h0M600.1 393.9h0M676.4 196.8h0M630.5 377.9h0M648.0 363.8h0M748.8 314.1h0M578.8 309.6h0M631.1 331.9h0M355.9 462.8h0M623.4 335.2h0M623.3 332.4h0M619.8 334.7h0M688.7 374.4h0M750.1 371.1h0M359.7 392.2h0M223.9 363.0h0M137.0 368.6h0M846.3 339.0h0M348.0 333.7h0M345.4 328.9h0M391.6 348.7h0M390.8 348.1h0M233.4 352.7h0M178.0 406.2h0M736.1 357.0h0M591.2 337.9h0M543.8 380.9h0M544.4 379.9h0M396.3 431.5h0M715.3 387.2h0M328.7 314.1h0M682.6 442.4h0M579.4 337.2h0M388.9 360.0h0M247.5 429.5h0M249.8 427.6h0M291.6 370.2h0M402.2 335.3h0M346.9 370.3h0M347.2 371.2h0M468.8 443.1h0M609.0 419.9h0M437.9 495.9h0M757.7 346.9h0M656.7 309.1h0M509.6 430.5h0M185.6 399.1h0M435.4 460.8h0M263.7 356.7h0M730.7 346.8h0M390.4 389.1h0M104.3 378.5h0M735.0 352.0h0M654.7 366.7h0M227.7 377.5h0M207.3 348.7h0M636.7 361.0h0M758.0 280.0h0M733.6 380.1h0M736.8 382.3h0M731.9 380.1h0M728.5 386.1h0M729.2 382.1h0M455.7 401.2h0M179.8 373.6h0M183.9 374.0h0M663.0 308.6h0M791.5 393.7h0M479.2 352.3h0M657.7 337.5h0M345.0 486.3h0M662.6 385.3h0M191.3 372.8h0M703.3 347.1h0M704.7 346.5h0M600.4 332.1h0M600.9 334.9h0M549.6 381.3h0M337.9 372.9h0M730.9 403.7h0M821.8 371.9h0M674.7 366.0h0M260.6 412.9h0M262.0 409.7h0M686.8 392.0h0M629.3 346.8h0M776.0 363.2h0M252.6 323.6h0M750.5 337.5h0M748.8 338.6h0M467.1 421.9h0M466.9 419.4h0M382.8 384.0h0M607.5 339.4h0M393.7 357.4h0M701.4 365.0h0M702.6 366.4h0M589.5 424.1h0M503.1 330.3h0M575.2 376.2h0M523.0 269.3h0M566.4 345.6h0M569.9 350.8h0M470.3 265.8h0M294.5 320.3h0M641.3 359.0h0M349.5 381.4h0M694.2 280.9h0M604.7 331.7h0M786.7 335.4h0M838.2 321.0h0M801.4 426.3h0M572.4 378.8h0M579.4 378.2h0M578.4 376.9h0M498.0 393.0h0M835.8 336.8h0M841.1 335.7h0M129.0 383.8h0M246.5 386.1h0M213.7 339.4h0M211.1 335.3h0M211.2 338.7h0M610.9 212.8h0M442.3 391.6h0M246.4 360.1h0M790.0 291.8h0M792.7 278.2h0M324.8 518.5h0M503.3 375.5h0M202.4 462.9h0M705.3 377.5h0M544.3 360.1h0M119.0 374.7h0M124.7 376.9h0M119.4 377.4h0M487.7 386.0h0M485.6 388.2h0M492.2 387.3h0M503.3 356.9h0M502.1 358.8h0M157.8 374.3h0M470.5 288.1h0M661.1 358.3h0M337.6 402.2h0M812.7 367.3h0M811.4 362.2h0M815.3 361.5h0M711.4 415.5h0M293.3 354.6h0M301.9 352.8h0M303.6 386.7h0M351.8 427.7h0M579.9 386.6h0M567.7 419.7h0M354.4 348.3h0M232.9 352.4h0M233.1 338.4h0M559.0 356.9h0M292.4 385.1h0M109.2 377.6h0M107.0 379.1h0M736.2 399.6h0M321.9 364.6h0M288.4 358.0h0M290.0 360.8h0M678.7 384.0h0M479.8 316.7h0M137.9 400.8h0M537.8 349.3h0M540.2 348.6h0M536.5 350.3h0M301.5 328.7h0M296.9 254.2h0M192.9 371.4h0M199.7 373.5h0M657.4 361.5h0M484.8 386.9h0M484.7 383.3h0M100.3 372.5h0M358.3 397.5h0M561.9 322.9h0M319.1 377.6h0M325.9 375.9h0M323.2 379.1h0M319.3 378.9h0M256.3 385.3h0M541.6 339.9h0M539.6 343.1h0M657.2 379.4h0M806.2 297.6h0M255.3 412.5h0M594.7 365.5h0M591.4 363.5h0M547.0 352.0h0M813.4 334.0h0M255.5 363.9h0M676.1 372.3h0M679.8 406.1h0M536.3 305.0h0M675.0 342.0h0M674.2 343.8h0M586.5 335.9h0M571.4 386.7h0M223.3 361.9h0M807.6 368.4h0M809.2 361.8h0M659.2 380.7h0M691.2 376.9h0M262.8 239.5h0M218.1 368.3h0M791.3 366.4h0M232.6 334.5h0M477.7 344.7h0M632.1 221.8h0M524.4 389.0h0M825.4 418.8h0M827.1 418.0h0M825.5 368.1h0M821.1 368.8h0M358.1 367.5h0M360.9 366.3h0M732.9 347.9h0M685.8 411.8h0M683.2 411.2h0M816.7 338.6h0M452.9 358.5h0M461.9 343.5h0M701.0 373.8h0M427.0 531.7h0M708.6 386.9h0M338.5 336.6h0M467.2 373.9h0M463.6 374.7h0M694.1 373.3h0M312.5 326.8h0M300.1 351.9h0M745.6 350.5h0M275.5 282.8h0M581.1 344.3h0M179.9 374.1h0M178.2 376.2h0M594.8 345.4h0M568.4 274.1h0M766.6 296.6h0M389.2 389.4h0M488.6 405.4h0M514.6 344.9h0M636.2 363.0h0M730.6 418.0h0M726.9 413.8h0M382.2 188.7h0M378.5 375.9h0M355.5 384.7h0M288.4 384.2h0M774.2 369.4h0M535.0 347.8h0M765.0 294.3h0M769.4 290.6h0M518.5 372.3h0M627.4 418.8h0M412.3 262.8h0M208.3 358.8h0M485.3 337.1h0M521.2 402.8h0M138.8 354.5h0M143.9 358.1h0M812.9 392.7h0M282.5 375.2h0M645.1 374.5h0M530.1 365.4h0M250.6 334.8h0M158.5 339.8h0M567.9 353.0h0M568.0 355.6h0M569.1 352.5h0M661.5 391.5h0M238.3 429.5h0M377.1 325.0h0M380.8 323.1h0M745.5 354.7h0M511.5 387.2h0M817.8 359.6h0M762.3 319.0h0M638.9 297.7h0M639.5 297.9h0M323.9 445.7h0M374.2 399.4h0M781.7 411.9h0M284.9 427.2h0M278.2 428.5h0M564.7 363.9h0M681.3 402.5h0M441.4 435.1h0M144.5 434.4h0M145.4 431.7h0M770.3 349.7h0M800.8 366.1h0M501.0 320.3h0M178.5 401.6h0M204.3 343.9h0M208.6 347.2h0M580.7 370.6h0M195.1 369.7h0M643.6 370.4h0M747.8 358.7h0M748.9 355.8h0M648.5 354.0h0M724.8 351.9h0M468.9 340.3h0M374.6 358.6h0M394.6 382.1h0M394.1 379.1h0M395.5 379.1h0M796.5 318.1h0M732.5 273.1h0M594.0 316.5h0M265.3 338.5h0M404.3 385.0h0M242.4 238.4h0M654.7 329.4h0M297.8 344.2h0M710.6 353.2h0M706.6 354.2h0M706.6 352.8h0M420.8 249.3h0M720.6 353.3h0M543.9 173.4h0M593.2 386.9h0M641.6 349.7h0M569.0 398.8h0M698.5 352.5h0M390.3 378.6h0M580.2 369.2h0M133.1 399.4h0M543.8 306.5h0M811.1 329.6h0M548.2 291.1h0M608.1 371.3h0M152.1 404.2h0M527.6 347.8h0M583.7 368.3h0M687.1 328.0h0M195.5 350.6h0M249.2 403.8h0M805.1 367.0h0M801.7 367.1h0M558.2 324.6h0M275.0 351.3h0M471.1 249.8h0M594.3 355.7h0M745.2 452.9h0M622.3 356.3h0M370.5 385.1h0M176.3 265.2h0M791.6 392.7h0M696.5 419.8h0M784.4 430.4h0M353.0 448.6h0M177.7 381.7h0M408.8 365.3h0M412.4 360.7h0M408.7 360.4h0M670.2 365.4h0M667.9 362.7h0M669.7 361.4h0M670.0 359.8h0M668.7 362.5h0M696.3 352.3h0M586.3 352.1h0M574.5 386.2h0M625.3 357.7h0M772.7 355.7h0M773.9 357.2h0M175.7 375.5h0M550.4 385.9h0M588.0 367.2h0M786.8 334.6h0M839.9 360.4h0M327.7 191.0h0M188.2 322.7h0M466.7 330.7h0M467.8 331.3h0M462.1 333.8h0M295.6 432.2h0M287.7 489.7h0M606.5 357.6h0M157.6 413.2h0M157.9 415.6h0M735.1 351.7h0M250.5 348.3h0M536.6 379.7h0M397.1 383.8h0M400.3 385.0h0M364.0 385.8h0M414.9 323.1h0M112.5 361.3h0M278.6 343.1h0M141.4 413.8h0M583.5 300.9h0M202.1 424.0h0M389.3 334.2h0M389.2 331.7h0M730.4 313.0h0M736.0 301.0h0M133.5 364.1h0M756.1 339.7h0M688.7 339.6h0M594.6 356.5h0M475.6 390.3h0M215.3 418.5h0M563.6 307.1h0M495.9 374.1h0M494.8 377.7h0M494.5 380.1h0M304.9 393.5h0M723.0 395.4h0M722.3 390.7h0M482.2 389.8h0M483.5 386.2h0M760.4 367.0h0M717.9 368.0h0M469.7 174.5h0M651.5 355.8h0M127.2 348.3h0M509.0 341.0h0M766.2 407.4h0M831.1 318.3h0M293.0 378.9h0M816.2 403.7h0M818.8 405.2h0M818.3 406.7h0M633.2 356.5h0M419.0 390.8h0M725.6 319.8h0M428.1 344.8h0M378.2 376.4h0M642.6 355.3h0M704.9 373.1h0M359.6 390.6h0M572.0 366.6h0M574.1 366.6h0M587.1 251.8h0M696.4 421.5h0M582.7 328.5h0M267.0 372.4h0M265.7 369.3h0M786.8 424.7h0M786.7 424.4h0M370.3 218.3h0M718.1 351.7h0M113.4 379.4h0M694.7 340.1h0M582.2 306.3h0M561.5 329.6h0M315.6 320.9h0M382.1 494.4h0M469.5 377.2h0M244.1 361.8h0M364.9 377.3h0M249.3 418.3h0M419.3 411.2h0M766.0 422.0h0M478.6 218.3h0M326.6 367.6h0M238.4 387.7h0M641.5 380.0h0M307.9 357.4h0M531.8 317.2h0M620.2 355.2h0M398.1 208.1h0M239.8 322.3h0M235.6 318.7h0M300.2 364.1h0M305.2 367.0h0M301.1 363.9h0M814.2 307.4h0M820.9 372.9h0M712.9 359.1h0M768.7 347.3h0M281.7 358.2h0M410.3 275.2h0M286.4 348.1h0M288.8 351.5h0M281.3 344.2h0M286.8 348.6h0M135.7 359.0h0M792.3 317.1h0M318.2 366.6h0M785.5 366.9h0M669.9 351.6h0M601.9 332.6h0M547.5 350.1h0M523.6 363.1h0M352.2 448.4h0M210.9 383.5h0M157.3 387.9h0M446.3 392.6h0M743.2 365.6h0M437.3 215.2h0M849.2 359.9h0M520.3 355.8h0M288.4 233.8h0M420.0 370.7h0M144.5 438.4h0M607.9 530.0h0M312.0 300.9h0M586.1 430.8h0M399.3 364.4h0M183.3 385.3h0M501.9 318.3h0M715.9 279.4h0M830.4 353.3h0M466.0 309.6h0M496.6 265.3h0M407.6 363.7h0M484.5 387.3h0M698.5 415.0h0M697.4 417.2h0M698.3 416.2h0M453.5 330.0h0M533.9 399.4h0M535.8 397.8h0M535.6 397.8h0M537.1 401.3h0M660.1 359.8h0M141.5 347.2h0M624.3 359.1h0M623.8 361.8h0M658.3 289.7h0M449.7 315.9h0M798.0 361.8h0M127.3 426.9h0M115.5 373.6h0M526.5 354.5h0M728.0 360.3h0M476.8 331.7h0M480.3 330.8h0M764.7 357.0h0M143.3 378.5h0M389.3 437.8h0M624.7 425.4h0M121.7 360.5h0M383.2 455.5h0M738.3 292.5h0M723.2 270.6h0M317.6 387.0h0M135.2 396.6h0M136.6 395.0h0M798.2 257.0h0M237.2 374.5h0M241.9 377.2h0M229.5 332.6h0M611.4 295.3h0M322.1 385.0h0M688.0 359.4h0M687.2 364.7h0M810.3 405.7h0M428.4 468.9h0M221.1 360.9h0M675.4 325.2h0M712.8 412.2h0M513.7 342.2h0M817.1 329.2h0M624.7 369.5h0M381.1 348.0h0M385.1 348.3h0M658.6 362.8h0M232.2 364.2h0M656.6 352.2h0M474.0 336.1h0M753.3 349.2h0M407.9 536.9h0M383.9 391.4h0M411.4 377.1h0M328.0 336.6h0M381.6 367.0h0M713.3 295.9h0M522.5 466.0h0M623.4 392.5h0M668.3 377.9h0M579.0 359.8h0M576.3 359.9h0M578.6 359.8h0M822.7 328.5h0M233.6 355.9h0M807.7 272.5h0M242.4 378.9h0M696.0 418.1h0M511.2 375.3h0M616.1 362.0h0M611.0 337.1h0M593.1 441.7h0M703.4 373.2h0M761.8 343.2h0M819.2 372.9h0M171.0 331.7h0M373.7 390.1h0M726.1 380.9h0M765.9 400.9h0M696.6 361.9h0M820.5 333.0h0M661.9 339.0h0M309.7 454.6h0M517.7 309.9h0M622.0 375.4h0M366.0 339.3h0M269.6 291.5h0M440.9 502.4h0M514.6 350.4h0M796.1 328.7h0M344.2 359.1h0M111.8 324.5h0M710.6 353.3h0M278.7 510.0h0M480.0 371.6h0M723.8 337.5h0M686.3 355.4h0M579.4 372.4h0M586.5 364.3h0M325.9 386.2h0M327.1 389.0h0M154.3 378.6h0M194.0 416.8h0M784.3 357.1h0M777.6 358.0h0M238.4 316.8h0M613.5 344.9h0M649.6 333.6h0M496.2 373.4h0M522.6 368.3h0M278.1 467.9h0M545.4 247.9h0M799.4 344.1h0M343.0 382.2h0M344.1 381.4h0M691.7 333.6h0M691.3 337.2h0M742.1 373.0h0M436.3 393.9h0M438.2 392.8h0M279.8 361.1h0M673.7 348.3h0M677.5 360.1h0M462.7 349.3h0M462.6 350.1h0M462.8 347.5h0M390.2 456.4h0M430.8 176.6h0M413.4 330.9h0M440.9 388.0h0M677.4 372.7h0M141.5 367.7h0M679.0 371.3h0M365.6 330.6h0M590.2 415.6h0M594.8 412.2h0M590.5 414.3h0M359.4 388.0h0M173.1 423.1h0M686.0 352.8h0M282.8 366.6h0M217.2 377.4h0M593.8 423.7h0M762.1 341.3h0M158.0 385.5h0M783.7 321.1h0M195.3 396.2h0M191.2 399.5h0M504.5 379.9h0M166.0 386.6h0M230.9 381.8h0M316.8 331.5h0M310.1 335.6h0M696.6 350.5h0M647.2 369.8h0M683.7 388.5h0M396.0 419.2h0M398.8 417.7h0M392.7 334.7h0M659.5 413.7h0M353.9 330.6h0M734.6 337.0h0M736.0 335.9h0M459.8 374.5h0M531.6 337.9h0M270.9 408.5h0M679.0 357.4h0M681.0 357.1h0M589.3 350.3h0M584.4 346.0h0M646.7 345.4h0M724.3 346.4h0M670.3 365.2h0M236.4 363.1h0M485.3 370.6h0M703.3 349.9h0M704.1 351.7h0M322.1 292.4h0M443.6 408.6h0M501.9 307.8h0M473.9 343.1h0M603.4 362.8h0M716.6 332.7h0M527.9 297.9h0M579.9 315.8h0M560.4 324.0h0M563.4 326.4h0M136.4 359.3h0M141.9 365.3h0M137.8 361.9h0M460.1 456.9h0M475.0 362.8h0M475.6 362.6h0M744.8 347.8h0M663.4 368.8h0M803.9 405.9h0M777.9 377.3h0M801.2 408.9h0M413.9 415.8h0M358.9 314.9h0M701.6 380.0h0M486.7 321.4h0M238.7 392.8h0M199.2 366.0h0M200.2 368.2h0M310.8 372.7h0M752.0 423.5h0M749.4 425.6h0M256.2 392.9h0M256.7 392.4h0M330.4 322.3h0M428.1 402.2h0M348.2 353.1h0M722.1 341.3h0M791.9 339.3h0M788.1 337.3h0M849.6 384.0h0M220.1 398.5h0M720.6 273.0h0M711.8 360.5h0M505.7 369.9h0M272.1 407.0h0M684.3 312.0h0M683.2 309.2h0M685.4 311.5h0M678.7 308.9h0M530.6 359.8h0M532.0 361.6h0M533.4 359.6h0M224.2 381.9h0M228.5 356.1h0M680.8 372.4h0M498.1 385.5h0M600.5 308.7h0M286.3 360.4h0M539.8 531.2h0M451.0 423.1h0M755.4 339.8h0M174.8 347.6h0M677.9 393.5h0M680.3 393.1h0M115.7 375.9h0M454.5 350.2h0M452.3 347.6h0M805.1 308.8h0M432.8 393.3h0M792.1 332.2h0M788.5 335.9h0M797.4 353.2h0M794.8 355.1h0M565.7 360.4h0M462.3 338.3h0M439.2 374.9h0M502.7 390.6h0M550.6 365.6h0M514.9 372.1h0M817.3 390.8h0M532.3 384.5h0M433.1 340.8h0M433.6 342.8h0M784.2 347.1h0M706.5 346.9h0M644.0 372.9h0M628.1 297.1h0M367.2 433.1h0M360.5 435.1h0M169.1 297.6h0M787.5 344.0h0M746.0 384.3h0M386.5 410.2h0M389.1 413.1h0M679.6 378.1h0M703.5 378.4h0M677.1 372.0h0M296.1 364.7h0M298.6 364.4h0M373.9 345.9h0M732.5 397.7h0M548.6 294.6h0M758.3 370.9h0M238.5 231.8h0M690.9 363.3h0M782.8 452.3h0M697.2 372.6h0M483.5 309.7h0M107.5 382.6h0M100.9 364.3h0M421.1 365.5h0M117.3 328.4h0M358.3 378.7h0M444.6 445.4h0M467.4 372.3h0M223.8 356.5h0M228.7 372.6h0M238.5 438.8h0M418.1 365.9h0M656.9 385.1h0M826.6 405.6h0M663.3 328.0h0M718.9 358.6h0M258.0 344.9h0M261.6 342.6h0M117.8 340.5h0M771.5 358.1h0M811.4 346.5h0M102.6 379.1h0M491.7 387.7h0M651.9 301.9h0M572.4 395.9h0M131.6 401.3h0M336.2 402.0h0M416.5 323.4h0M693.3 356.5h0M697.2 385.9h0M103.0 368.9h0M99.2 374.9h0M105.0 372.8h0M762.4 314.1h0M767.8 313.1h0M149.4 385.1h0M605.7 407.9h0M664.9 314.9h0M493.9 381.7h0M559.6 333.6h0M603.0 377.3h0M712.8 421.3h0M772.7 378.1h0M216.1 318.7h0M621.8 411.2h0M721.4 316.9h0M270.3 213.4h0M522.7 409.2h0M818.0 400.3h0M366.7 319.5h0M744.6 390.1h0M743.6 387.4h0M757.5 319.0h0M767.5 355.1h0M631.3 356.9h0M141.1 357.0h0M138.7 359.9h0M813.1 270.6h0M489.1 315.4h0M799.7 332.7h0M777.0 323.7h0M777.0 327.4h0M626.7 381.8h0M671.0 403.4h0M137.3 417.1h0M762.2 329.1h0M506.2 370.5h0M782.5 417.5h0M595.4 181.6h0M614.5 326.1h0M819.8 328.8h0M240.2 435.8h0M481.1 366.7h0M537.7 388.7h0M742.0 315.2h0M681.7 392.9h0M679.0 397.7h0M414.8 379.7h0M425.0 377.7h0M420.5 378.5h0M218.5 374.8h0M602.2 399.9h0M442.2 345.2h0M446.7 347.7h0M513.3 374.4h0M505.2 364.2h0M523.5 527.4h0M673.5 333.6h0M554.6 445.7h0M660.5 387.8h0M519.3 334.4h0M351.3 382.9h0M842.8 330.0h0M843.8 332.1h0M845.3 331.9h0M621.8 372.9h0M221.6 287.4h0M280.2 361.7h0M753.7 383.2h0M540.8 345.9h0M215.3 406.0h0M834.7 352.0h0M252.7 406.8h0M571.3 357.1h0M510.3 360.9h0M578.4 249.5h0M564.0 369.9h0M675.5 351.8h0M675.1 350.5h0M673.4 355.7h0M577.5 374.7h0M231.3 355.3h0M493.9 353.8h0M814.9 354.7h0M789.7 343.5h0M658.3 365.0h0M592.2 375.0h0M797.7 317.5h0M525.4 389.9h0M664.0 382.5h0M663.9 335.2h0M792.6 367.3h0M274.3 320.7h0M275.5 319.2h0M277.6 316.2h0M341.5 397.8h0M191.6 382.8h0M537.4 242.6h0M128.8 360.6h0M504.4 371.1h0M662.4 352.7h0M369.2 251.7h0M575.8 354.7h0M168.1 334.9h0M171.1 338.1h0M520.2 488.5h0M223.1 402.8h0M462.1 347.3h0M521.3 359.2h0M605.5 371.1h0M823.0 351.2h0M191.4 343.6h0M830.7 391.0h0M524.6 394.5h0M792.0 352.8h0M379.6 287.5h0M781.4 372.7h0M682.5 407.4h0M544.0 338.8h0M670.7 278.6h0M405.1 177.3h0M720.4 404.4h0M359.2 343.2h0M299.1 415.0h0M295.4 412.6h0M744.5 254.9h0M505.1 392.6h0M626.6 443.5h0M634.2 264.9h0M294.7 340.8h0M467.0 408.5h0M537.6 359.2h0M374.3 347.6h0M627.8 357.5h0M343.0 353.8h0M790.0 366.4h0M791.8 365.0h0M686.3 360.9h0M561.0 317.2h0M806.4 370.4h0M458.0 401.1h0M338.8 372.9h0M538.1 453.2h0M711.3 434.8h0M618.1 409.0h0M733.5 360.9h0M562.8 320.0h0M507.9 388.3h0M562.9 325.4h0M357.2 338.4h0M612.1 457.9h0M294.1 359.9h0M291.9 358.6h0M299.6 355.3h0M416.5 369.8h0M417.1 367.6h0M498.7 531.0h0M813.6 298.9h0M592.0 337.7h0M300.1 399.2h0M701.1 276.3h0M754.1 441.8h0M610.8 458.5h0M122.7 394.0h0M266.7 332.2h0M543.6 359.0h0M469.3 352.4h0M471.2 354.8h0M469.5 353.0h0M121.5 310.5h0M337.8 372.5h0M679.7 385.6h0M247.9 354.5h0M393.3 351.6h0M394.4 295.3h0M497.2 383.1h0M716.6 346.8h0M678.3 359.0h0M288.7 344.9h0M811.1 348.6h0M706.1 373.6h0M225.9 369.9h0M370.0 354.9h0M500.8 412.8h0M158.5 403.7h0M513.7 372.6h0M820.4 339.7h0M319.3 335.9h0M637.1 395.0h0M639.3 395.6h0M373.9 393.5h0M475.6 357.1h0M296.8 350.2h0M734.7 341.4h0M803.2 382.5h0M555.9 467.1h0M408.0 377.1h0M352.6 357.8h0M375.6 334.5h0M114.5 379.8h0M260.7 361.9h0M303.8 397.4h0M342.2 338.5h0M323.0 291.0h0M486.4 381.1h0M666.0 291.7h0M458.2 389.5h0M457.1 384.9h0M694.5 368.2h0M696.8 368.6h0M512.0 329.8h0M755.6 372.9h0M661.4 338.1h0M597.7 342.9h0M769.2 346.7h0M689.2 357.3h0M183.4 429.8h0M630.1 396.9h0M628.9 399.8h0M453.1 324.3h0M757.5 319.3h0M136.8 414.5h0M135.8 415.3h0M137.4 416.6h0M426.2 376.6h0M431.6 376.3h0M603.0 415.0h0M589.5 346.0h0M590.9 342.1h0M631.8 372.7h0M598.5 357.7h0M678.5 363.4h0M715.8 387.6h0M847.9 327.3h0M806.8 388.5h0M303.4 322.9h0M109.3 395.0h0M297.6 390.3h0M297.1 388.3h0M462.3 404.9h0M793.8 333.6h0M794.6 340.9h0M790.6 336.2h0M297.0 402.1h0M338.0 352.3h0M341.6 351.7h0M342.0 355.1h0M713.0 233.4h0M463.1 370.6h0M235.2 363.6h0M235.1 364.0h0M504.6 363.7h0M200.7 394.3h0M598.6 364.5h0M527.4 339.1h0M624.6 340.5h0M208.5 403.6h0M636.8 380.6h0M211.4 314.5h0M525.0 327.6h0M526.7 327.1h0M615.6 336.2h0M510.0 349.2h0M507.8 351.4h0M283.5 316.6h0M744.9 336.4h0M394.2 398.3h0M360.6 327.7h0M358.3 330.3h0M776.5 407.7h0M534.5 385.7h0M536.2 388.3h0M342.4 382.0h0M649.5 352.0h0M731.2 364.3h0M608.7 344.6h0M605.2 339.8h0M559.5 308.0h0M579.2 358.5h0M765.3 354.2h0M655.6 398.9h0M844.4 366.3h0M677.1 380.4h0M190.1 430.9h0M191.0 432.2h0M191.5 434.3h0M689.8 360.7h0M485.2 351.1h0M485.3 356.6h0M611.0 375.6h0M185.7 384.6h0M548.5 385.8h0M277.4 349.2h0M703.5 336.2h0M687.5 371.1h0M217.8 385.3h0M757.9 407.8h0M328.5 367.9h0M681.2 357.4h0M676.6 355.3h0M391.3 242.9h0M673.3 291.1h0M517.9 356.4h0M518.6 355.9h0M521.5 356.5h0M808.8 362.4h0M474.4 364.5h0M839.6 306.8h0M375.8 357.5h0M371.9 360.8h0M709.5 391.9h0M607.8 376.3h0M714.0 292.3h0M654.9 229.8h0M277.2 363.9h0M337.3 459.1h0M395.6 345.8h0M704.9 351.1h0M223.2 406.4h0M753.6 397.5h0M380.6 344.5h0M378.3 342.0h0M97.3 348.1h0M669.7 354.5h0M740.8 339.0h0M166.8 379.4h0M164.2 382.4h0M416.9 343.6h0M167.3 360.7h0M507.0 308.9h0M614.5 346.1h0M611.2 344.1h0M766.9 387.2h0M780.6 358.5h0M439.4 454.2h0M282.7 368.2h0M278.9 367.8h0M202.7 402.1h0M676.8 313.4h0M823.6 314.3h0M441.4 282.2h0M102.3 376.3h0M611.9 411.3h0M743.5 361.8h0M591.8 386.2h0M592.7 382.6h0M589.3 389.9h0M716.2 366.7h0M755.9 361.3h0M716.6 367.4h0M577.0 376.0h0M773.5 291.8h0M421.0 456.6h0M611.2 411.4h0M609.6 411.5h0M684.0 376.0h0M620.5 439.3h0M623.2 440.2h0M725.3 352.9h0M697.0 365.8h0M437.3 336.2h0M843.1 348.0h0M847.7 347.9h0M384.8 346.6h0M143.0 445.8h0M579.3 345.6h0M577.6 345.3h0M682.5 367.5h0M679.6 367.3h0M679.5 368.6h0M840.1 372.6h0M368.8 376.7h0M196.9 404.0h0M432.6 315.9h0M529.4 350.6h0M616.1 359.4h0M332.9 257.1h0M419.3 316.6h0M735.9 405.8h0M357.2 385.4h0M274.1 382.6h0M580.3 301.8h0M578.5 351.1h0M751.2 346.2h0M747.8 347.7h0M669.0 367.2h0M624.2 347.9h0M624.0 347.3h0M734.2 315.0h0M502.5 366.3h0M614.6 341.4h0M617.2 340.7h0M213.6 381.5h0M518.6 357.9h0M106.5 384.0h0M232.4 427.0h0M310.4 382.4h0M637.6 343.1h0M833.5 369.8h0M607.7 388.8h0M580.0 450.2h0M653.3 366.1h0M648.8 369.0h0M741.4 400.8h0M505.5 363.3h0M109.3 363.3h0M806.7 389.5h0M801.9 389.3h0M225.9 357.0h0M186.7 449.4h0M725.5 380.3h0M417.9 391.4h0M795.1 334.6h0M540.9 392.8h0M407.1 436.8h0M532.2 306.5h0M326.7 382.3h0M597.1 296.3h0M798.6 360.9h0M416.4 369.1h0M273.2 341.2h0M331.4 370.0h0M332.2 372.0h0M284.6 377.8h0M434.9 332.0h0M449.2 319.7h0M273.1 380.7h0M740.0 342.2h0M100.1 370.3h0M100.8 371.3h0M102.7 370.7h0M750.7 299.4h0M756.1 298.9h0M755.2 300.1h0M582.0 278.1h0M796.0 328.1h0M119.3 375.6h0M120.5 372.4h0M113.9 376.9h0M716.8 286.1h0M433.5 319.0h0M669.2 377.0h0M391.0 372.5h0M341.2 383.9h0M341.4 384.1h0M426.4 346.6h0M581.6 301.3h0M533.4 344.3h0M618.1 390.7h0M758.0 339.7h0M759.5 337.9h0M629.0 375.6h0M554.3 378.0h0M297.1 346.2h0M816.3 417.2h0M806.5 390.8h0M807.9 391.5h0M806.9 391.8h0M142.5 421.5h0M140.2 421.0h0M138.2 421.1h0M813.5 383.8h0M604.9 371.4h0M296.3 325.7h0M607.1 362.4h0M132.6 357.7h0M388.2 381.8h0M718.7 343.0h0M635.8 451.5h0M234.9 364.6h0M309.3 340.1h0M632.3 380.1h0M559.1 426.8h0M561.1 429.5h0M641.3 378.5h0M453.5 306.1h0M766.3 373.2h0M631.9 318.7h0M573.5 396.7h0M606.7 390.8h0M145.4 373.1h0M827.2 419.8h0M804.9 381.2h0M472.7 306.8h0M580.1 329.2h0M629.4 375.4h0M409.6 343.4h0M797.5 368.1h0M524.2 382.4h0M392.8 194.9h0M199.9 432.1h0M795.5 390.7h0M793.3 391.5h0M724.9 328.1h0M818.2 375.9h0M273.2 269.9h0M655.9 414.6h0M824.5 326.3h0M289.4 359.1h0M326.1 377.3h0M456.8 209.9h0M571.6 321.0h0M618.1 364.7h0M725.0 337.5h0M463.1 319.8h0M656.1 426.0h0M653.4 428.1h0M314.3 389.6h0M708.1 397.8h0M704.5 399.2h0M278.8 393.4h0M372.6 383.1h0M229.9 359.2h0M232.3 356.5h0M549.9 344.1h0M754.8 355.1h0M713.2 332.0h0M771.4 368.2h0M512.9 396.0h0M376.5 408.5h0M701.3 330.4h0M134.9 362.5h0M133.6 363.8h0M419.2 340.4h0M631.8 401.7h0M787.0 359.0h0M715.2 397.4h0M386.3 515.7h0M164.2 394.7h0M745.1 365.0h0M722.9 368.6h0M651.1 369.5h0M275.7 382.6h0M232.2 428.4h0M576.4 360.6h0M644.8 422.9h0M640.9 367.6h0M539.9 397.3h0M740.1 350.6h0M656.9 460.8h0M191.9 419.4h0M583.7 308.3h0M151.4 417.3h0M148.8 419.8h0M385.7 387.3h0M680.7 350.3h0M527.9 423.8h0M189.2 349.4h0M778.0 340.0h0M679.7 328.8h0M734.6 347.2h0M708.0 245.0h0M172.4 363.9h0M172.1 365.1h0M410.4 354.2h0M540.9 389.9h0M554.6 358.0h0M551.3 358.2h0M259.2 331.3h0M815.1 363.2h0M753.6 388.6h0M749.8 385.3h0M735.0 374.7h0M326.2 377.5h0M340.7 358.7h0M449.7 387.0h0M382.1 372.3h0M647.0 347.9h0M643.7 341.8h0M707.0 365.1h0M795.5 314.5h0M689.0 366.2h0M726.0 449.7h0M725.1 303.9h0M470.5 365.7h0M392.1 371.6h0M326.7 340.7h0M356.5 448.0h0M629.8 401.7h0M350.3 474.0h0M557.3 345.8h0M558.6 345.7h0M427.0 385.6h0M426.9 387.6h0M611.4 445.0h0M688.6 354.2h0M407.8 387.2h0M410.4 390.5h0M409.4 389.0h0M808.1 377.5h0M357.7 319.6h0M517.5 370.8h0M438.6 412.8h0M825.8 360.6h0M646.6 390.5h0M193.4 417.0h0M240.2 348.9h0M797.2 352.2h0M207.0 416.5h0M108.1 354.6h0M216.1 395.3h0M736.1 280.9h0M332.5 252.9h0M689.8 427.2h0M308.8 416.7h0M775.7 392.6h0M290.3 469.2h0M617.8 412.5h0M251.3 336.3h0M820.5 358.5h0M697.5 386.3h0M696.7 390.6h0M228.3 366.9h0M128.5 366.9h0M209.1 329.1h0M770.1 373.9h0M740.2 411.7h0M551.4 389.8h0M411.3 371.9h0M783.1 356.9h0M782.7 342.8h0M611.4 373.4h0M611.1 374.0h0M738.1 390.0h0M171.1 281.1h0M275.4 318.5h0M656.1 365.9h0M654.5 366.0h0M654.8 369.4h0M678.4 357.9h0M681.9 358.1h0M216.9 347.6h0M802.5 369.7h0M584.6 345.4h0M341.8 295.2h0M587.3 277.1h0M671.9 357.0h0M556.0 351.8h0M793.9 330.5h0M818.0 377.3h0M99.4 336.8h0M685.2 340.4h0M786.0 359.5h0M583.0 389.9h0M170.8 334.4h0M611.8 298.9h0M612.6 298.8h0M781.9 390.7h0M715.3 376.7h0M734.6 352.0h0M736.3 351.8h0M734.6 349.1h0M735.7 347.4h0M697.3 368.5h0M558.0 330.5h0M742.2 410.5h0M312.2 355.0h0M521.0 387.7h0M522.3 387.4h0M524.2 384.5h0M525.5 387.4h0M727.8 358.5h0M724.0 357.4h0M725.5 356.1h0M397.4 348.8h0M437.8 426.8h0M585.8 381.0h0M306.4 393.4h0M677.0 446.7h0M712.9 230.9h0M643.5 334.6h0M645.0 338.6h0M457.4 370.7h0M455.9 369.1h0M458.7 364.7h0M357.2 387.9h0M422.7 371.7h0M719.4 392.5h0M278.8 368.7h0M660.2 518.0h0M178.6 390.5h0M263.6 384.4h0M722.9 283.0h0M725.9 280.4h0M404.6 463.0h0M731.1 249.0h0M442.0 378.9h0M582.3 359.1h0M584.0 360.5h0M731.6 338.4h0M727.0 336.6h0M480.4 427.2h0M480.9 423.4h0M482.6 425.8h0M555.9 314.6h0M192.0 395.0h0M205.0 425.2h0M659.9 333.5h0M643.9 329.2h0M795.1 369.6h0M548.0 499.7h0M136.4 375.2h0M746.7 358.0h0M746.1 359.0h0M835.7 337.7h0M352.7 372.4h0M478.5 363.9h0M181.7 339.8h0M828.1 332.5h0M584.6 351.2h0M576.8 366.4h0M726.8 364.7h0M532.5 314.9h0M448.7 367.8h0M548.8 333.2h0M772.1 352.7h0M587.6 367.4h0M722.1 403.4h0M667.7 365.2h0M679.9 335.5h0M205.2 361.7h0M603.1 372.3h0M831.6 368.2h0M779.7 284.8h0M837.7 364.0h0M839.5 366.2h0M537.8 343.0h0M499.2 371.4h0M488.1 284.6h0M226.4 342.1h0M563.3 356.6h0M332.3 268.4h0M332.6 342.3h0M281.0 388.2h0M270.1 379.2h0M647.7 299.6h0M557.8 481.2h0M773.7 359.8h0M771.1 361.6h0M772.4 362.5h0M289.9 348.3h0M639.7 352.0h0M449.0 373.0h0M706.6 450.7h0M344.0 285.7h0M318.6 485.4h0M695.5 319.7h0M510.2 330.1h0M511.2 329.1h0M268.0 366.8h0M752.3 384.0h0M686.0 367.5h0M689.9 367.5h0M306.8 394.9h0M681.6 330.5h0M491.2 396.1h0M128.0 405.1h0M276.5 422.9h0M660.8 381.7h0M411.6 381.9h0M723.8 362.8h0M119.3 330.6h0M754.7 294.7h0M214.7 354.1h0M217.2 342.6h0M621.8 379.7h0M502.4 415.7h0M602.8 347.3h0M601.7 349.8h0M647.2 389.3h0M293.7 382.9h0M300.0 386.0h0M383.3 393.8h0M380.3 394.5h0M382.0 396.5h0M396.9 279.0h0M694.9 380.7h0M699.0 381.3h0M579.8 327.1h0M713.4 418.8h0M479.0 385.3h0M196.0 340.7h0M152.9 331.9h0M669.5 397.0h0M706.3 306.0h0M706.5 304.1h0M702.1 306.3h0M783.5 259.4h0M699.2 479.7h0M346.5 360.4h0M263.9 456.8h0M849.3 337.7h0M403.7 203.7h0M288.8 367.5h0M494.5 408.2h0M750.8 369.2h0M756.2 365.5h0M583.3 358.7h0M827.7 373.8h0M829.3 375.2h0M825.8 375.4h0M767.2 290.2h0M635.4 453.4h0M826.3 373.0h0M698.6 413.9h0M695.9 326.2h0M337.4 327.1h0M613.8 398.8h0M495.8 329.8h0M190.2 332.1h0M467.5 367.4h0M425.8 356.5h0M344.0 385.1h0M804.4 365.7h0M563.4 364.1h0M688.4 344.5h0M252.5 358.1h0M726.7 382.3h0M699.9 363.1h0M700.9 367.4h0M562.3 395.9h0M676.0 312.5h0M821.0 339.2h0M438.5 380.7h0M530.8 342.7h0M534.6 373.0h0M322.1 188.2h0M580.9 375.6h0M462.8 395.9h0M805.2 302.9h0M530.7 345.7h0M124.0 377.1h0M640.9 323.0h0M731.9 336.7h0M503.1 331.9h0M674.2 366.1h0M326.5 369.0h0M95.8 355.5h0M629.0 360.4h0M638.6 341.2h0M351.2 352.8h0M333.6 342.4h0M469.7 308.7h0M647.9 367.6h0M346.4 324.1h0M211.1 399.4h0M212.3 358.3h0M207.4 359.9h0M207.0 358.0h0M178.8 417.5h0M368.3 375.3h0M440.1 394.8h0M613.1 350.8h0M610.8 349.2h0M743.0 338.4h0M750.9 370.2h0M736.5 399.6h0M479.2 371.4h0M215.2 262.1h0M631.6 383.3h0M737.7 354.8h0M689.0 426.1h0M617.7 364.1h0M630.6 339.7h0M783.7 276.8h0M382.7 378.9h0M761.1 382.2h0M425.3 347.6h0M803.0 324.5h0M494.5 377.6h0M498.7 379.1h0M774.5 431.4h0M250.3 234.8h0M706.2 465.7h0M408.2 363.9h0M722.1 347.5h0M721.1 348.7h0M726.8 351.3h0M342.2 474.0h0M628.4 356.6h0M752.7 348.2h0M755.7 345.8h0M675.4 369.7h0M501.0 291.1h0M298.4 386.8h0M184.9 427.2h0M845.9 389.7h0M139.5 340.3h0M698.8 331.3h0M382.4 324.9h0M178.2 349.2h0M181.8 363.0h0M737.0 360.2h0M735.8 366.5h0M708.0 386.7h0M404.3 518.7h0M212.7 352.6h0M327.7 369.3h0M327.9 369.7h0M332.8 369.6h0M762.4 353.3h0M441.2 364.1h0M464.1 407.4h0M476.5 355.9h0M762.4 375.7h0M594.6 410.9h0M638.9 289.8h0M558.3 404.6h0M747.0 345.5h0M375.9 408.2h0M788.3 423.2h0M287.8 344.2h0M101.0 356.0h0M101.9 352.4h0M349.3 467.4h0M248.5 357.9h0M248.7 360.7h0M493.5 391.4h0M468.6 370.1h0M468.3 328.5h0M517.9 337.8h0M742.5 369.1h0M745.6 372.1h0M411.1 401.0h0M641.6 367.0h0M130.9 382.0h0M585.5 378.4h0M301.8 323.3h0M840.0 369.2h0M844.4 368.3h0M701.3 436.2h0M489.2 356.4h0M146.7 278.0h0M698.3 370.5h0M612.4 357.3h0M667.2 401.2h0M250.4 389.1h0M499.8 379.1h0M259.1 341.8h0M171.9 391.4h0M169.8 393.1h0M563.6 308.9h0M772.3 322.0h0M239.7 389.4h0M235.3 390.0h0M237.6 387.3h0M272.5 385.5h0M268.9 387.0h0M784.2 305.7h0M627.2 336.3h0M762.0 371.7h0M730.6 355.5h0M733.2 355.4h0M535.6 449.3h0M116.2 335.0h0M117.4 363.2h0M219.4 489.8h0M359.6 394.2h0M205.0 382.4h0M668.5 353.3h0M409.4 360.1h0M659.3 412.1h0M657.5 413.5h0M216.0 280.2h0M790.9 423.7h0M385.8 322.6h0M385.2 325.3h0M704.6 339.6h0M240.0 420.0h0M241.2 421.5h0M241.9 425.2h0M221.1 291.0h0M587.7 383.2h0M587.1 383.5h0M518.8 382.8h0M659.2 362.2h0M605.1 381.2h0M670.0 357.0h0M360.6 371.8h0M418.1 241.0h0M622.8 412.3h0M689.5 372.9h0M584.3 336.5h0M544.3 362.6h0M686.7 340.7h0M667.0 392.6h0M584.5 384.4h0M565.5 505.9h0M720.4 384.0h0M452.2 333.4h0M699.0 361.6h0M675.8 414.3h0M175.2 366.7h0M689.2 348.5h0M692.7 347.6h0M689.0 345.4h0M699.3 343.8h0M636.2 371.4h0M638.6 373.9h0M755.3 384.5h0M527.8 325.6h0M379.6 336.9h0M506.5 324.0h0M823.1 397.8h0M188.6 363.1h0M196.4 370.2h0M671.1 405.6h0M585.2 309.0h0M590.2 312.7h0M127.2 392.1h0M833.1 353.9h0M660.5 324.7h0M666.7 322.8h0M684.6 395.7h0M167.8 322.2h0M597.7 353.2h0M705.0 348.0h0M833.4 303.8h0M603.8 368.5h0M699.9 372.3h0M829.8 325.0h0M461.3 357.3h0M609.4 354.7h0M846.3 361.4h0M847.1 363.8h0M147.8 429.4h0M258.6 411.6h0M759.4 436.1h0M754.2 435.3h0M759.3 438.7h0M528.5 458.9h0M588.6 351.7h0M737.1 344.0h0M732.1 321.6h0M709.7 369.9h0M528.2 349.9h0M587.7 358.5h0M529.9 398.9h0M684.5 321.6h0M618.1 366.7h0M445.2 379.1h0M448.7 380.2h0M577.2 387.0h0M395.1 362.7h0M394.9 361.2h0M531.7 346.6h0M534.7 346.9h0M700.1 341.0h0M775.9 369.2h0M149.4 328.6h0M455.1 310.8h0M412.6 351.0h0M427.8 402.4h0M425.3 403.6h0M649.1 389.9h0M686.9 333.5h0M632.1 375.2h0M212.5 432.8h0M673.5 376.4h0M671.0 373.5h0M577.0 322.1h0M578.4 320.1h0M585.0 320.1h0M580.6 321.6h0M718.0 388.1h0M561.9 306.9h0M612.2 485.3h0M502.5 397.9h0M729.8 384.8h0M727.7 385.5h0M475.1 244.9h0M570.4 295.4h0M644.7 340.1h0M474.8 337.7h0M213.3 426.5h0M753.5 384.6h0M396.3 521.5h0M768.8 423.9h0M728.7 382.0h0M541.7 337.0h0M544.1 336.7h0M722.7 399.5h0M655.0 340.8h0M356.3 403.8h0M788.5 313.4h0M651.1 353.1h0M821.3 378.5h0M606.5 350.1h0M520.1 295.1h0M537.9 377.8h0M538.8 374.8h0M394.9 302.3h0M787.4 266.8h0M788.0 271.0h0M437.6 326.2h0M706.7 431.1h0M161.8 394.8h0M398.0 359.0h0M686.9 341.8h0M220.9 351.0h0M689.2 370.4h0M453.9 344.5h0M453.0 341.3h0M365.1 331.8h0M687.2 394.3h0M731.7 361.8h0M763.3 333.8h0M291.8 377.9h0M243.9 433.6h0M561.8 378.5h0M563.9 375.6h0M414.0 380.7h0M158.7 450.5h0M815.2 340.1h0M498.3 324.4h0M803.5 331.6h0M618.3 328.7h0M580.9 403.6h0M770.8 362.8h0M166.9 304.3h0M654.3 382.5h0M633.5 421.0h0M412.8 303.7h0M716.6 361.1h0M369.0 351.8h0M282.8 489.1h0M725.6 385.3h0M729.2 384.6h0M551.0 324.7h0M558.8 324.5h0M835.7 332.3h0M316.4 336.9h0M529.3 396.5h0M395.7 374.3h0M655.9 386.9h0M634.3 345.7h0M627.4 309.9h0M634.8 307.0h0M214.2 354.7h0M733.7 355.6h0M562.3 402.7h0M519.1 325.1h0M628.3 342.9h0M625.1 338.9h0M624.4 340.7h0M822.0 355.3h0M503.9 333.2h0M498.4 330.3h0M815.4 351.2h0M392.7 354.1h0M843.3 346.8h0M845.7 345.3h0M292.0 417.5h0M640.0 359.1h0M645.1 355.5h0M643.6 382.7h0M379.3 386.9h0M486.2 340.7h0M720.2 354.6h0M467.6 304.4h0M779.9 343.6h0M645.7 350.1h0M642.4 350.2h0M315.6 361.0h0M604.9 330.7h0M221.4 455.8h0M505.2 372.1h0M511.2 377.2h0M515.9 372.7h0M338.5 369.4h0M706.7 381.3h0M333.4 347.4h0M335.7 348.0h0M331.9 347.9h0M233.2 329.7h0M505.6 415.1h0M266.8 352.3h0M264.4 350.4h0M263.1 353.8h0M543.7 332.6h0M792.2 331.6h0M612.5 357.9h0M626.4 324.8h0M631.9 324.2h0M208.6 350.5h0M737.1 406.9h0M700.8 357.5h0M590.8 364.0h0M544.2 335.0h0M542.9 333.2h0M613.9 519.2h0M668.1 335.3h0M666.4 333.4h0M749.3 362.4h0M749.8 363.0h0M619.6 333.2h0M633.7 366.5h0M629.8 364.7h0M698.1 358.5h0M431.4 414.1h0M510.9 226.7h0M582.2 361.3h0M815.8 359.9h0M661.1 381.1h0M495.0 318.9h0M808.4 375.7h0M423.8 371.4h0M696.3 342.7h0M352.3 401.3h0M709.8 325.3h0M609.4 332.1h0M499.3 483.1h0M561.6 524.5h0M657.4 366.1h0M660.7 367.1h0M754.6 236.6h0M719.5 376.0h0M686.9 374.9h0M692.3 373.6h0M657.7 371.7h0M533.2 357.6h0M536.1 352.5h0M531.7 355.4h0M627.4 348.4h0M216.5 353.9h0M173.8 364.6h0M173.7 363.7h0M434.1 434.0h0M710.3 388.2h0M584.2 316.9h0M378.0 377.5h0M225.2 342.5h0M670.8 354.1h0M188.8 333.1h0M757.8 347.3h0M759.3 342.9h0M756.3 344.6h0M148.9 437.5h0M595.3 380.4h0M632.1 363.7h0M720.3 391.1h0M650.9 362.8h0M271.1 450.8h0M611.6 381.9h0M163.2 372.1h0M527.8 363.4h0M797.9 321.3h0M714.5 340.9h0M771.7 367.2h0M816.0 347.3h0M479.4 342.9h0M107.8 344.3h0M706.1 378.1h0M702.9 365.6h0M796.8 345.2h0M586.2 503.4h0M510.8 312.5h0M446.7 418.6h0M696.2 332.5h0M696.9 334.1h0M681.2 353.0h0M618.2 329.1h0M325.8 472.2h0M655.7 395.2h0M468.6 418.6h0M431.8 451.7h0M129.3 364.5h0M132.6 368.7h0M136.4 362.9h0M464.3 419.7h0M361.1 380.3h0M721.7 402.7h0M760.9 400.1h0M292.2 337.2h0M293.1 338.1h0M210.3 334.9h0M576.9 365.5h0M584.2 365.7h0M582.3 363.5h0M342.8 408.1h0M350.9 445.1h0M800.4 365.3h0M765.4 342.3h0M528.0 361.6h0M407.8 346.8h0M409.2 347.2h0M542.2 365.1h0M275.1 354.4h0M261.5 224.6h0M172.6 336.5h0M700.1 350.5h0M193.9 430.7h0M197.4 428.9h0M465.2 226.6h0M504.4 484.3h0M372.1 460.1h0M383.0 361.8h0M474.2 406.6h0M559.2 320.5h0M789.1 327.6h0M620.2 365.8h0M321.4 354.8h0M707.2 357.5h0M606.4 366.6h0M559.7 390.7h0M221.7 369.3h0M814.9 396.0h0M269.5 416.5h0M246.9 365.4h0M540.7 515.2h0M825.9 352.7h0M761.7 343.7h0M466.4 415.2h0M465.4 415.8h0M231.9 324.1h0M201.7 377.5h0M739.4 309.6h0M800.6 401.7h0M799.4 403.3h0M347.8 511.7h0M506.5 381.3h0M125.6 387.3h0M122.0 387.1h0M125.8 386.1h0M522.9 360.1h0M580.8 373.0h0M578.3 371.0h0M288.7 399.3h0M293.6 415.5h0M296.6 416.2h0M298.0 416.1h0M113.6 355.1h0M642.9 405.8h0M502.0 412.3h0M503.6 413.4h0M264.5 449.0h0M674.6 365.3h0M673.4 360.9h0M642.1 375.6h0M253.4 323.3h0M254.6 323.7h0M256.1 322.7h0M475.6 252.3h0M388.5 350.8h0M389.4 354.4h0M487.9 332.3h0M520.2 341.9h0M154.3 413.6h0M454.8 373.7h0M821.6 369.8h0M230.1 360.9h0M230.0 355.5h0M757.7 366.0h0M753.8 367.7h0M671.8 406.9h0M761.1 296.3h0M541.3 322.5h0M592.5 350.1h0M781.0 374.0h0M645.2 362.0h0M345.9 395.6h0M697.7 367.4h0M481.5 208.2h0M413.2 368.8h0M427.8 460.5h0M174.0 333.3h0M725.7 337.6h0M395.3 521.7h0M797.5 359.9h0M837.0 309.1h0M586.5 348.3h0M511.4 269.4h0M353.0 389.2h0M744.8 376.9h0M601.5 392.6h0M601.5 393.6h0M825.2 320.4h0M335.0 446.4h0M434.3 378.1h0M708.5 308.8h0M708.9 309.5h0M204.7 353.3h0M710.9 342.7h0M568.9 377.7h0M702.7 353.1h0M556.5 334.8h0M640.9 423.6h0M641.2 428.3h0M634.5 427.1h0M222.3 383.8h0M322.4 394.5h0M483.8 350.9h0M638.3 487.0h0M706.5 368.4h0M799.4 290.2h0M795.2 291.5h0M798.7 290.6h0M682.3 398.8h0M206.0 394.4h0M696.5 353.8h0M597.7 341.4h0M169.9 362.3h0M355.6 412.7h0M521.7 451.2h0M519.6 385.9h0M695.8 385.4h0M697.3 387.2h0M578.9 279.2h0M792.9 351.1h0M266.5 368.5h0M263.6 367.7h0M108.3 385.0h0M105.0 382.7h0M741.1 353.5h0M269.3 381.0h0M268.4 376.4h0M268.7 379.0h0M745.8 375.4h0M799.4 290.4h0M803.8 289.2h0M678.6 356.9h0M775.0 377.8h0M338.9 402.5h0M761.5 409.8h0M376.1 390.8h0M608.8 362.9h0M817.1 311.5h0M639.4 484.4h0M745.9 376.7h0M767.7 385.0h0M456.3 382.8h0M600.1 306.2h0M399.6 305.5h0M315.5 365.0h0M317.0 361.1h0M734.1 347.6h0M536.4 384.0h0M380.4 240.1h0M825.6 387.2h0M554.4 445.5h0M162.8 407.4h0M167.2 408.4h0M667.8 344.9h0M365.9 385.1h0M213.9 325.0h0M562.2 336.1h0M246.6 351.6h0M637.5 432.2h0M527.3 171.2h0M241.3 374.7h0M171.0 442.0h0M538.3 338.4h0M466.2 346.1h0M307.2 437.7h0M313.0 436.5h0M622.2 382.7h0M366.9 337.9h0M636.5 388.4h0M842.5 366.5h0M151.6 367.9h0M303.7 188.9h0M608.7 360.6h0M797.8 310.8h0M565.8 338.7h0M399.4 378.8h0M397.8 383.7h0M615.4 338.6h0M366.2 424.0h0M364.9 419.3h0M364.0 422.8h0M367.4 422.3h0M600.2 357.7h0M600.4 354.3h0M604.6 356.5h0M328.5 382.3h0M577.0 390.7h0M702.4 273.5h0M571.4 363.1h0M647.4 428.5h0M781.1 331.3h0M782.1 328.3h0M785.8 330.1h0M633.1 390.4h0M630.4 361.6h0M749.5 378.9h0M768.7 381.3h0M713.9 387.2h0M639.1 356.1h0M189.0 275.5h0M665.4 428.7h0M765.7 378.2h0M776.4 401.3h0M833.9 353.5h0M595.1 275.3h0M377.7 377.2h0M380.3 383.7h0M355.8 398.8h0M381.6 454.2h0M723.6 350.6h0M821.2 370.6h0M324.0 381.1h0M296.1 307.1h0M200.4 371.9h0M199.4 375.0h0M236.4 326.9h0M625.6 374.0h0M622.4 371.4h0M568.0 342.8h0M705.2 273.6h0M707.3 406.0h0M349.9 200.3h0M781.2 318.5h0M606.5 322.9h0M648.6 354.0h0M650.0 352.8h0M284.3 416.4h0M408.2 391.1h0M257.2 379.0h0M725.7 368.8h0M128.3 401.8h0M365.4 341.2h0M367.4 338.6h0M788.3 353.4h0M191.6 363.8h0M792.9 349.7h0M365.3 419.7h0M422.1 341.9h0M256.5 308.1h0M348.7 376.6h0M352.9 374.4h0M688.7 365.6h0M296.3 326.5h0M194.7 392.8h0M196.1 390.8h0M789.6 317.3h0M222.7 359.4h0M761.1 327.5h0M765.3 325.4h0M820.7 393.4h0M771.0 305.0h0M776.3 304.4h0M774.4 306.8h0M257.9 360.6h0M626.6 301.8h0M310.2 313.8h0M381.0 296.7h0M624.8 383.4h0M457.4 404.7h0M459.5 400.9h0M717.8 307.6h0M137.6 361.1h0M139.0 359.3h0M365.9 309.8h0M492.6 338.4h0M627.5 371.6h0M560.4 229.5h0M322.8 352.0h0M170.1 365.1h0M453.0 331.9h0M268.9 370.6h0M758.5 387.5h0M437.8 338.3h0M657.0 331.5h0M675.5 389.2h0M676.2 389.1h0M765.5 368.0h0M770.8 346.2h0M179.3 371.1h0M284.6 371.2h0M399.1 243.3h0M406.2 397.9h0M403.4 396.7h0M603.2 353.6h0M623.1 345.3h0M679.9 343.1h0M161.8 374.6h0M166.7 373.9h0M702.7 339.9h0M838.4 369.5h0M659.4 261.1h0M297.6 333.8h0M655.5 415.1h0M313.5 367.5h0M167.6 336.8h0M619.9 349.5h0M614.6 268.6h0M371.7 357.2h0M494.3 332.4h0M551.5 306.8h0M678.8 381.2h0M805.4 376.6h0M764.2 302.3h0M243.7 342.9h0M757.7 334.6h0M762.2 374.3h0M758.0 372.9h0M337.8 409.9h0M211.9 368.1h0M183.8 361.5h0M182.7 359.5h0M187.3 360.0h0M566.5 354.9h0M691.0 370.8h0M331.8 472.7h0M322.9 327.2h0M288.8 452.0h0M371.7 397.2h0M405.1 351.4h0M636.2 360.9h0M838.3 301.5h0M311.1 420.7h0M487.0 408.0h0M487.1 409.2h0M487.4 407.7h0M435.1 218.8h0M419.6 385.6h0M266.0 375.4h0M631.2 319.9h0M446.0 281.0h0M238.2 371.2h0M307.8 380.6h0M306.4 377.0h0M583.9 378.4h0M229.9 373.2h0M227.3 376.3h0M625.8 401.2h0M625.5 404.7h0M582.3 413.2h0M445.8 394.2h0M670.0 365.3h0M672.4 367.1h0M355.0 225.8h0M234.0 366.4h0M250.7 378.8h0M246.4 376.2h0M243.1 380.8h0M517.6 379.7h0M628.0 320.0h0M190.0 401.2h0M698.6 326.1h0M732.0 362.3h0M734.3 360.7h0M747.5 357.9h0M379.3 366.8h0M508.6 447.3h0M741.0 357.6h0M565.4 403.7h0M812.6 324.2h0M370.4 358.7h0M188.6 237.4h0M627.7 349.5h0M709.0 364.1h0M411.9 362.5h0M761.2 420.2h0M493.8 376.0h0M490.2 377.0h0M492.2 379.9h0M626.0 374.5h0M575.0 309.7h0M574.3 312.2h0M575.5 310.5h0M574.7 310.6h0M421.0 387.4h0M416.8 387.3h0M726.9 365.7h0M170.4 363.9h0M290.7 370.9h0M291.8 370.9h0M296.3 369.4h0M212.4 460.9h0M432.5 323.3h0M810.7 304.1h0M814.2 307.9h0M744.2 417.3h0M829.7 366.9h0M830.0 366.0h0M782.8 300.3h0M723.9 359.7h0M563.0 356.9h0M265.4 381.0h0M309.0 359.5h0M657.9 419.8h0M643.8 346.9h0M504.9 336.6h0M824.9 376.3h0M764.6 353.6h0M305.8 333.5h0M147.6 388.0h0M148.6 387.9h0M143.8 388.6h0M119.7 397.3h0M501.4 359.5h0M698.6 246.6h0M710.7 331.1h0M654.6 374.0h0M651.3 372.5h0M750.4 341.7h0M527.1 361.0h0M301.5 274.5h0M832.9 334.3h0M830.1 333.6h0M343.6 399.7h0M721.7 270.6h0M498.4 297.2h0M556.9 407.2h0M277.7 377.2h0M712.7 402.2h0M284.2 240.0h0M609.7 363.0h0M529.7 362.7h0M587.7 323.5h0M592.1 326.9h0M588.0 324.3h0M236.8 348.1h0M499.1 410.9h0M514.8 365.1h0M551.3 366.4h0M614.3 336.6h0M240.6 356.3h0M332.3 374.8h0M229.7 345.8h0M804.3 367.2h0M668.5 388.0h0M462.7 373.3h0M782.5 381.2h0M838.9 389.4h0M277.6 336.9h0M277.1 337.3h0M742.1 367.3h0M522.9 295.4h0M301.5 342.8h0M625.6 373.5h0M687.2 369.0h0M721.1 329.9h0M722.7 328.9h0M439.2 518.8h0M596.0 361.2h0M601.1 360.3h0M495.4 362.0h0M496.2 363.5h0M495.2 358.9h0M587.9 358.9h0M205.9 380.7h0M719.7 438.5h0M722.6 440.6h0M310.8 410.4h0M362.3 322.0h0M248.7 380.9h0M748.4 399.3h0M745.0 400.5h0M164.1 362.4h0M590.7 317.8h0M380.3 399.7h0M613.0 353.3h0M616.8 353.8h0M645.6 337.8h0M297.4 329.0h0M677.7 377.6h0M727.5 370.0h0M729.3 368.1h0M211.0 355.2h0M211.8 416.4h0M212.0 414.0h0M414.0 289.2h0M351.6 243.0h0M730.5 389.0h0M732.6 391.0h0M644.4 362.8h0M508.5 352.2h0M115.1 379.4h0M285.6 321.4h0M728.5 345.8h0M701.9 306.3h0M623.0 371.5h0M626.5 369.6h0M620.8 372.0h0M625.7 370.3h0M781.9 319.9h0M783.8 347.2h0M578.4 359.0h0M634.5 441.6h0M680.9 406.7h0M527.0 340.6h0M704.2 339.6h0M629.8 340.3h0M292.4 416.0h0M619.3 418.6h0M618.4 418.9h0M702.8 370.3h0M789.8 364.5h0M261.4 377.5h0M821.2 373.9h0M716.8 232.7h0M585.9 328.3h0M582.3 329.5h0M782.7 331.5h0M704.6 401.6h0M700.2 403.0h0M686.0 372.9h0M756.3 308.7h0M756.4 308.9h0M253.7 348.3h0M249.4 351.8h0M819.8 386.5h0M543.8 335.9h0M477.6 280.8h0M369.2 536.0h0M635.8 312.6h0M364.8 382.2h0M692.2 385.6h0M252.8 340.2h0M640.3 369.8h0M639.4 368.5h0M319.9 464.6h0M793.8 300.7h0M517.4 378.3h0M234.6 406.3h0M499.8 343.5h0M530.4 417.9h0M176.5 407.3h0M178.6 407.5h0M368.0 468.5h0M429.3 361.4h0M529.9 296.8h0M483.7 317.3h0M489.8 316.6h0M629.4 372.6h0M757.0 364.5h0M757.3 365.3h0M642.1 342.9h0M696.7 377.8h0M600.2 260.6h0M224.3 403.3h0M641.7 387.6h0M595.2 315.8h0M596.4 314.9h0M313.1 374.7h0M488.5 424.5h0M269.1 312.1h0M266.4 314.5h0M663.1 335.2h0M759.6 282.7h0M620.9 351.6h0M645.8 325.9h0M192.5 373.6h0M190.9 372.3h0M652.9 366.4h0M652.5 366.0h0M655.1 360.4h0M621.5 374.3h0M672.6 477.9h0M361.4 369.4h0M165.1 369.8h0M606.7 180.0h0M777.0 309.8h0M520.7 359.5h0M721.0 364.4h0M310.5 428.3h0M734.7 357.2h0M285.1 336.2h0M600.1 385.7h0M397.1 366.8h0M468.5 380.7h0M467.8 380.0h0M153.8 329.3h0M665.5 353.8h0M688.8 379.0h0M553.0 352.3h0M646.1 352.8h0M831.6 366.4h0M680.3 415.1h0M306.6 323.0h0M303.9 325.3h0M822.2 331.0h0M312.8 262.8h0M846.1 356.0h0M342.1 247.2h0M825.5 383.9h0M827.3 381.2h0M828.1 385.7h0M716.0 291.9h0M606.6 378.7h0M603.5 382.4h0M459.0 422.4h0M692.5 371.6h0M495.9 343.1h0M225.7 380.8h0M833.2 392.2h0M351.1 321.2h0M172.5 349.5h0M843.6 382.1h0M721.1 439.1h0M746.6 415.5h0M276.1 355.3h0M616.8 369.4h0M534.1 368.2h0M812.6 411.3h0M221.7 353.9h0M309.5 368.4h0M700.5 431.5h0M596.6 224.7h0M784.0 365.7h0M676.3 371.7h0M170.7 395.8h0M164.3 397.2h0M780.4 311.6h0M190.8 387.6h0M729.7 387.2h0M745.3 379.7h0M747.2 375.6h0M259.4 384.6h0M431.8 359.3h0M547.8 346.2h0M547.7 347.7h0M608.7 375.1h0M789.0 286.5h0M790.0 284.1h0M776.8 339.6h0M651.0 374.7h0M579.6 370.7h0M688.9 356.9h0M645.5 359.1h0M722.1 361.7h0M339.4 459.3h0M160.8 382.6h0M162.8 385.1h0M412.9 434.6h0M180.2 341.7h0M561.1 456.1h0M682.4 454.5h0M600.4 383.9h0M705.7 359.0h0M280.0 363.9h0M610.8 345.1h0M386.9 371.4h0M780.8 357.9h0M377.7 326.7h0M679.8 297.4h0M712.0 360.2h0M459.7 358.6h0M592.1 352.4h0M98.7 368.5h0M402.8 376.0h0M237.5 378.8h0M725.7 394.1h0M675.0 371.2h0M766.3 398.6h0M220.0 379.8h0M217.5 380.7h0M597.0 364.0h0M603.5 367.1h0M636.3 443.4h0M536.1 351.6h0M329.3 334.8h0M533.6 315.9h0M144.1 357.3h0M157.1 366.4h0M826.9 334.2h0M685.5 375.7h0M177.1 466.9h0M293.7 370.3h0M499.4 407.8h0M604.7 435.3h0M639.0 391.3h0M636.6 393.4h0M248.3 294.3h0M748.5 338.1h0M749.3 338.5h0M400.2 395.2h0M401.4 391.9h0M567.1 368.3h0M747.3 326.3h0M732.3 364.4h0M552.5 424.8h0M679.4 324.5h0M499.4 385.7h0M252.9 422.0h0M346.5 308.8h0M469.2 440.9h0M779.0 343.5h0M598.9 387.0h0M674.7 344.9h0M666.3 339.1h0M157.8 328.0h0M213.9 384.5h0M504.9 208.2h0M454.9 375.7h0M746.8 280.6h0M611.4 398.1h0M627.6 363.5h0M363.1 391.3h0M660.7 327.8h0M709.5 368.1h0M389.1 362.3h0M383.3 363.1h0M134.9 366.4h0M332.9 391.8h0M816.6 363.4h0M335.5 413.0h0M198.5 364.8h0M518.9 389.5h0M272.7 382.0h0M476.0 358.2h0M679.6 354.4h0M818.7 351.8h0M821.2 352.3h0M686.1 338.4h0M655.5 295.8h0M652.4 299.2h0M396.5 380.1h0M402.7 379.0h0M455.4 410.2h0M630.7 358.1h0M632.7 361.9h0M846.9 352.2h0M781.7 350.5h0M276.4 470.0h0M689.5 360.1h0M707.4 308.2h0M713.9 364.4h0M711.2 368.7h0M710.5 368.6h0M125.0 396.7h0M272.1 341.9h0M268.4 343.6h0M468.4 342.1h0M454.6 369.7h0M589.8 403.3h0M587.9 403.8h0" stroke="#000" stroke-width="1.3" stroke-linecap="round" fill="none"/>
<path d="M750.7 351.1h0M157.3 316.3h0M159.7 427.5h0M716.8 440.3h0M717.0 438.5h0M751.5 420.8h0M794.6 371.5h0M647.9 390.3h0M601.2 417.8h0M662.4 399.1h0M527.9 249.6h0M355.7 344.0h0M571.6 365.2h0M325.4 392.5h0M827.0 287.4h0M585.8 331.9h0M639.1 347.5h0M472.7 349.4h0M269.7 348.3h0M269.8 346.9h0M658.8 397.0h0M665.8 371.2h0M205.5 354.3h0M151.1 362.0h0M721.2 341.9h0M652.8 364.7h0M401.9 353.9h0M407.3 354.2h0M481.3 337.7h0M481.9 335.4h0M324.4 427.5h0M642.4 359.5h0M467.2 541.2h0M791.5 307.1h0M790.0 304.1h0M563.0 328.5h0M765.7 367.0h0M767.1 368.0h0M552.4 362.1h0M585.1 305.1h0M806.4 308.4h0M228.5 350.8h0M594.2 322.8h0M660.9 342.0h0M611.2 404.6h0M634.2 381.0h0M631.7 381.7h0M633.9 381.1h0M124.0 302.5h0M489.9 392.0h0M303.7 363.6h0M676.8 318.7h0M679.9 315.2h0M151.4 438.5h0M677.2 353.2h0M765.5 275.6h0M766.6 278.5h0M148.5 402.1h0M707.2 305.8h0M712.3 308.1h0M711.5 306.8h0M825.9 404.3h0M572.6 432.4h0M573.1 431.0h0M711.0 366.7h0M709.4 367.1h0M666.2 387.3h0M702.3 360.9h0M795.1 401.8h0M793.8 399.1h0M107.8 353.4h0M640.0 448.4h0M791.5 384.2h0M789.4 384.0h0M670.3 267.8h0M526.7 386.3h0M527.0 385.6h0M110.4 403.5h0M112.1 404.5h0M778.3 433.2h0M779.1 432.0h0M781.6 432.8h0M246.8 326.8h0M247.6 273.5h0M548.6 305.0h0M479.9 345.0h0M738.7 370.2h0M296.4 431.1h0M294.9 432.1h0M294.2 434.1h0M524.7 339.9h0M589.8 431.4h0M591.6 434.5h0M817.7 354.2h0M262.8 397.6h0M827.4 365.0h0M430.5 352.1h0M325.7 346.3h0M209.2 380.5h0M782.7 397.0h0M213.5 415.9h0M217.4 416.3h0M216.4 418.7h0M266.1 352.8h0M449.3 327.9h0M814.8 333.8h0M126.7 380.8h0M761.0 347.9h0M153.8 329.2h0M154.0 329.9h0M187.7 395.7h0M400.4 384.5h0M713.6 372.7h0M712.6 371.4h0M695.7 363.0h0M276.2 324.9h0M668.6 351.9h0M663.7 353.0h0M667.7 355.0h0M106.3 369.0h0M104.2 375.3h0M300.7 370.0h0M385.7 240.7h0M103.4 366.7h0M825.7 342.8h0M618.7 366.1h0M729.4 314.9h0M658.7 347.3h0M181.5 455.1h0M693.0 356.3h0M322.3 402.3h0M221.3 358.0h0M218.0 358.9h0M683.0 411.0h0M244.4 369.3h0M244.3 371.4h0M479.2 378.0h0M622.9 399.7h0M817.3 435.9h0M180.9 373.8h0M183.2 374.8h0M354.3 403.1h0M246.5 327.8h0M199.1 401.4h0M379.6 374.5h0M575.1 442.2h0M231.8 370.4h0M377.6 361.6h0M404.6 344.1h0M704.9 378.9h0M617.7 370.1h0M296.7 380.2h0M294.9 376.5h0M721.9 420.4h0M146.7 354.0h0M403.9 356.0h0M799.2 345.2h0M142.4 350.1h0M268.5 364.8h0M567.8 379.0h0M133.7 359.0h0M559.2 437.6h0M815.1 401.4h0M814.0 403.8h0M436.3 336.7h0M436.7 334.2h0M673.8 332.2h0M738.3 350.7h0M421.5 394.7h0M422.2 393.6h0M207.9 386.0h0M407.2 440.5h0M478.1 429.4h0M479.3 432.0h0M584.7 371.3h0M717.7 378.9h0M675.4 399.1h0M812.9 370.0h0M636.5 349.4h0M556.3 379.6h0M506.8 313.3h0M279.0 341.1h0M276.8 340.1h0M275.5 338.2h0M274.2 336.9h0M278.2 334.3h0M273.9 335.4h0M271.5 330.0h0M610.7 364.7h0M611.6 363.1h0M615.0 362.9h0M801.5 341.0h0M799.2 340.1h0M620.9 222.1h0M665.4 398.0h0M229.6 395.9h0M402.2 354.0h0M400.3 351.2h0M401.5 354.9h0M326.3 403.5h0M634.7 369.0h0M649.1 325.0h0M269.7 387.2h0M683.2 319.1h0M717.0 288.0h0M240.1 337.3h0M682.3 405.3h0M112.9 365.8h0M160.7 381.2h0M174.6 241.0h0M281.4 392.3h0M648.3 366.1h0M754.6 381.2h0M511.5 367.3h0M287.5 411.7h0M286.6 409.6h0M774.1 333.5h0M490.0 372.9h0M489.8 376.1h0M850.1 368.8h0M358.8 382.9h0M358.9 384.7h0M763.7 347.0h0M759.0 345.6h0M427.3 380.3h0M683.3 376.5h0M629.6 408.6h0M628.5 406.8h0M712.7 394.7h0M309.5 385.8h0M310.7 385.4h0M656.6 356.9h0M258.7 420.5h0M767.4 385.9h0M767.8 380.8h0M769.7 308.0h0M767.4 304.2h0M768.4 303.4h0M319.7 402.3h0M401.1 357.3h0M410.2 302.5h0M411.3 303.2h0M831.9 373.9h0M791.4 345.0h0M352.1 356.2h0M576.7 366.5h0M575.7 362.7h0M813.1 367.7h0M495.2 346.1h0M363.3 361.7h0M304.0 423.0h0M566.5 329.4h0M747.6 343.5h0M750.5 342.7h0M697.5 375.1h0M600.6 355.8h0M701.6 371.6h0M112.3 401.9h0M110.1 404.2h0M703.4 475.0h0M517.8 311.0h0M522.1 311.7h0M383.2 364.1h0M228.7 369.2h0M639.2 315.6h0M643.6 317.2h0M209.2 350.3h0M492.3 387.3h0M730.4 338.5h0M732.1 337.0h0M480.9 403.5h0M128.9 366.6h0M755.4 423.3h0M418.4 456.5h0M298.6 379.8h0M745.2 345.5h0M663.8 247.4h0M564.0 337.0h0M669.0 339.3h0M653.5 300.3h0M659.4 301.3h0M669.9 320.9h0M555.7 406.2h0M649.0 412.4h0M656.9 353.5h0M736.3 362.5h0M772.0 412.9h0M695.5 378.0h0M696.3 379.1h0M534.5 360.3h0M595.3 370.2h0M786.2 370.9h0M780.7 368.3h0M212.2 353.1h0M212.8 354.9h0M532.8 455.4h0M700.8 282.1h0M822.6 386.5h0M529.1 325.5h0M525.1 326.0h0M772.4 312.0h0M774.0 315.1h0M692.8 359.3h0M527.7 346.8h0M530.0 340.6h0M505.3 363.3h0M255.5 285.2h0M620.3 374.0h0M618.6 373.9h0M421.7 384.7h0M116.7 397.0h0M325.9 404.6h0M162.0 354.7h0M160.5 353.3h0M763.8 327.1h0M378.2 371.4h0M375.1 372.4h0M373.2 369.2h0M192.9 348.4h0M789.3 307.6h0M179.9 360.3h0M179.8 362.7h0M617.7 332.8h0M778.4 409.8h0M781.4 405.9h0M782.9 406.0h0M554.4 335.6h0M549.8 334.6h0M548.7 368.2h0M729.1 296.9h0M601.0 360.2h0M540.9 338.5h0M328.0 425.4h0M327.2 425.8h0M232.3 356.3h0M582.3 362.9h0M537.8 409.8h0M629.2 367.1h0M626.1 367.3h0M210.0 367.3h0M594.6 457.0h0M304.2 332.3h0M173.1 418.2h0M758.8 407.5h0M308.5 282.2h0M603.8 382.4h0M730.1 346.8h0M454.4 361.6h0M452.1 356.7h0M704.7 413.8h0M848.3 355.5h0M146.4 382.7h0M569.6 360.8h0M295.6 342.3h0M451.7 376.8h0M162.6 451.3h0M271.6 374.9h0M184.6 264.6h0M809.0 363.3h0M161.7 375.8h0M163.6 373.3h0M164.4 381.8h0M116.8 381.5h0M568.2 323.1h0M708.4 362.4h0M712.9 386.4h0M736.8 389.7h0M733.8 388.4h0M506.4 490.9h0M395.8 172.9h0M705.5 383.2h0M787.4 371.2h0M506.0 362.1h0M481.6 410.7h0M176.4 339.2h0M179.0 366.2h0M177.6 367.6h0M179.2 368.7h0M371.0 357.6h0M528.0 361.2h0M472.3 394.0h0M285.0 420.9h0M284.1 419.9h0M607.2 334.1h0M545.8 323.8h0M548.2 423.2h0M188.9 383.3h0M667.3 307.2h0M692.7 333.6h0M209.6 348.2h0M676.9 356.1h0M673.8 358.8h0M597.1 322.2h0M696.2 300.1h0M147.2 414.9h0M719.7 325.5h0M778.6 414.2h0M511.4 279.8h0M617.4 295.7h0M692.5 427.2h0M330.2 358.0h0M826.6 355.8h0M605.6 320.2h0M479.3 372.8h0M737.0 399.8h0M706.1 266.0h0M121.4 391.5h0M190.5 422.5h0M188.3 425.8h0M498.2 345.6h0M708.1 332.5h0M707.0 335.1h0M514.4 392.4h0M840.1 332.2h0M844.7 332.0h0M263.6 399.6h0M195.4 368.7h0M315.0 375.2h0M336.0 425.3h0M482.1 368.0h0M176.8 335.9h0M562.5 375.6h0M702.3 325.5h0M541.6 292.8h0M834.3 295.6h0M359.4 400.3h0M573.2 377.7h0M580.2 377.6h0M200.5 343.5h0M539.9 535.9h0M672.0 308.6h0M150.6 396.0h0M802.3 414.5h0M249.8 424.1h0M248.3 420.6h0M197.5 355.8h0M511.9 310.6h0M675.7 367.1h0M616.6 330.1h0M576.1 312.9h0M325.4 394.8h0M731.8 415.1h0M736.5 414.6h0M672.3 317.4h0M612.7 318.4h0M637.4 355.8h0M473.0 335.3h0M490.8 350.3h0M752.0 380.5h0M624.7 368.4h0M474.9 363.3h0M742.3 383.8h0M510.8 286.2h0M728.0 326.4h0M636.8 358.2h0M635.9 357.0h0M564.5 348.8h0M759.8 393.3h0M669.2 359.4h0M725.8 365.1h0M419.5 336.1h0M696.2 343.4h0M754.8 286.1h0M754.2 286.4h0M755.1 286.2h0M763.9 296.7h0M693.7 355.0h0M798.9 383.9h0M653.5 355.2h0M762.1 294.0h0M672.3 366.0h0M666.4 367.1h0M412.2 351.4h0M758.2 382.8h0M760.5 377.9h0M620.2 407.1h0M591.7 367.5h0M489.5 327.2h0M130.1 360.9h0M794.4 392.7h0M746.9 341.7h0M557.8 470.9h0M615.6 366.2h0M619.5 366.2h0M620.0 371.6h0M418.0 354.5h0M153.3 382.7h0M618.6 352.5h0M423.6 337.0h0M645.4 343.1h0M706.6 340.9h0M648.1 364.4h0M257.6 412.5h0M451.6 438.5h0M587.0 320.2h0M650.7 291.5h0M843.9 331.9h0M224.8 370.4h0M642.9 313.7h0M644.4 312.6h0M179.9 356.5h0M618.4 355.2h0M617.4 349.2h0M613.5 354.4h0M474.4 347.2h0M776.0 278.4h0M277.5 223.4h0M710.4 362.4h0M609.1 386.9h0M743.6 396.8h0M574.4 359.3h0M375.1 381.7h0M498.1 418.0h0M493.5 419.8h0M583.7 352.2h0M619.9 358.2h0M669.9 375.3h0M666.8 371.1h0M496.7 363.6h0M132.9 397.6h0M729.4 291.9h0M605.9 392.6h0M226.6 350.7h0M665.8 336.3h0M728.4 357.3h0M478.5 297.4h0M557.6 407.5h0M559.3 410.7h0M128.5 414.1h0M511.3 506.1h0M773.5 443.9h0M502.9 383.2h0M486.6 339.4h0M756.7 407.1h0M642.6 379.9h0M658.8 404.6h0M180.5 370.0h0M788.3 351.8h0M361.1 381.5h0M363.1 380.4h0M687.3 356.9h0M664.6 309.1h0M324.5 205.6h0M688.6 378.8h0M681.0 374.0h0M552.6 376.0h0M158.0 439.3h0M173.1 406.4h0M372.1 362.5h0M424.9 473.7h0M209.1 388.9h0M713.3 411.0h0M273.9 358.1h0M624.4 373.1h0M556.4 307.9h0M551.7 306.4h0M797.4 372.2h0M643.4 370.9h0M587.8 351.5h0M496.1 402.0h0M671.8 428.6h0M531.5 314.0h0M792.8 342.0h0M321.9 387.7h0M321.8 391.0h0M458.4 368.2h0M122.2 348.4h0M722.3 432.9h0M783.2 289.9h0M749.1 352.3h0M436.5 361.1h0M517.2 367.5h0M518.5 367.0h0M516.2 368.7h0M655.8 364.3h0M106.0 341.1h0M278.0 476.5h0M448.2 362.5h0M450.7 358.4h0M371.4 365.7h0M521.7 346.3h0M588.8 322.6h0M731.1 376.3h0M303.9 356.6h0M549.7 382.8h0M422.8 378.7h0M680.9 358.3h0M670.2 354.4h0M310.6 486.4h0M635.4 338.2h0M623.2 331.9h0M298.0 422.1h0M326.3 421.9h0M525.5 401.2h0M526.2 393.5h0M527.2 402.4h0M228.6 363.7h0M684.1 380.5h0M691.7 380.5h0M644.5 354.1h0M599.7 353.9h0M521.5 425.1h0M516.8 427.1h0M211.9 424.6h0M648.5 352.7h0M355.0 368.4h0M230.9 352.6h0M690.8 373.0h0M680.2 343.8h0M367.1 321.6h0M293.3 410.5h0M295.5 409.0h0M609.9 398.3h0M632.2 350.3h0M614.6 255.9h0M726.7 356.6h0M568.6 369.0h0M564.5 368.3h0M141.6 382.9h0M146.5 373.7h0M139.8 416.6h0M139.7 416.8h0M574.3 293.5h0M676.9 363.9h0M163.1 410.4h0M517.2 387.0h0M228.1 398.5h0M561.2 324.5h0M201.5 390.4h0M454.1 357.7h0M102.2 343.7h0M788.6 364.2h0M788.6 364.0h0M790.8 362.1h0M790.5 361.0h0M323.9 391.5h0M249.6 394.8h0M822.0 364.9h0M246.7 389.4h0M244.4 391.9h0M242.8 391.3h0M706.2 341.8h0M325.4 360.3h0M343.7 421.7h0M591.9 372.0h0M595.3 373.3h0M596.5 373.9h0M319.6 364.8h0M842.5 351.4h0M830.6 330.1h0M615.0 410.8h0M654.0 339.9h0M409.0 355.5h0M708.3 303.0h0M707.2 302.5h0M363.9 353.6h0M337.3 378.7h0M676.6 357.2h0M116.9 374.5h0M372.4 365.6h0M216.7 356.7h0M333.3 394.2h0M516.9 351.5h0M572.3 342.3h0M575.3 342.2h0M545.4 385.6h0M656.6 350.6h0M595.1 364.6h0M438.5 472.9h0M801.2 416.6h0M530.1 352.9h0M526.9 352.8h0M407.3 312.9h0M218.7 443.2h0M324.6 342.8h0M329.7 344.6h0M200.4 354.0h0M761.9 432.4h0M524.7 354.1h0M397.0 360.6h0M134.0 373.8h0M733.2 366.5h0M260.5 343.6h0M313.7 401.1h0M312.7 397.7h0M525.4 365.0h0M761.6 379.3h0M274.4 386.0h0M300.7 356.5h0M248.9 345.2h0M558.8 341.7h0M294.0 390.2h0M721.7 377.5h0M699.5 373.9h0M734.6 368.4h0M245.9 363.3h0M330.1 377.8h0M693.8 344.2h0M122.8 350.7h0M722.9 364.0h0M232.9 307.0h0M130.2 391.1h0M658.7 343.0h0M709.4 354.2h0M711.4 354.1h0M714.1 352.3h0M320.4 295.8h0M634.7 365.2h0M689.3 395.2h0M438.4 324.1h0M591.7 392.1h0M590.2 392.7h0M590.6 392.2h0M588.4 394.5h0M455.7 402.4h0M192.5 435.1h0M691.7 376.7h0M225.6 276.8h0M729.9 343.1h0M735.2 339.4h0M650.3 376.1h0M649.8 380.1h0M764.7 404.0h0M661.6 361.8h0M303.2 404.7h0M490.4 360.1h0M713.0 445.5h0M716.4 315.0h0M569.8 382.2h0M234.4 410.1h0M234.3 405.4h0M397.8 378.1h0M397.3 379.5h0M790.3 368.0h0M237.2 353.3h0M365.3 366.7h0M367.2 367.8h0M136.2 369.7h0M699.0 394.1h0M140.9 312.7h0M471.0 387.7h0M186.2 311.2h0M589.2 440.9h0M295.6 270.5h0M195.8 377.1h0M335.8 362.3h0M664.6 418.7h0M660.4 418.3h0M662.5 308.6h0M674.4 370.5h0M595.7 340.3h0M261.4 323.0h0M105.1 344.4h0M180.3 375.6h0M191.9 361.2h0M190.9 358.3h0M757.6 363.1h0M830.6 343.4h0M827.6 345.9h0M244.6 414.5h0M323.4 365.9h0M689.1 328.6h0M498.4 379.4h0M531.1 317.4h0M710.6 341.1h0M407.3 327.6h0M512.3 374.5h0M779.9 329.2h0M227.6 321.5h0M761.9 300.5h0M149.5 377.6h0M530.2 350.7h0M533.1 352.1h0M716.5 354.5h0M582.7 341.1h0M205.1 341.3h0M687.9 371.4h0M676.5 363.4h0M192.8 322.8h0M194.0 318.3h0M627.9 364.1h0M627.8 363.8h0M133.1 382.3h0M493.4 379.2h0M501.2 376.5h0M621.0 410.7h0M590.3 306.3h0M588.5 305.4h0M524.2 327.1h0M521.8 328.1h0M175.8 396.4h0M641.2 325.4h0M445.5 414.5h0M398.1 351.6h0M399.9 349.2h0M731.8 445.4h0M635.0 357.2h0M601.2 403.4h0M599.9 364.6h0M166.5 451.0h0M494.7 397.7h0M356.3 325.0h0M618.7 294.4h0M371.3 345.3h0M597.1 368.8h0M671.3 331.6h0M741.8 391.0h0M312.8 368.5h0M350.6 363.9h0M359.3 390.1h0M267.6 454.1h0M664.2 343.9h0M213.4 385.7h0M423.2 348.1h0M122.1 388.1h0M458.7 338.5h0M122.5 375.5h0M524.0 331.6h0M691.3 334.2h0M650.0 327.1h0M606.2 361.3h0M650.8 424.1h0M611.6 402.6h0M624.9 393.1h0M548.6 377.6h0M343.0 425.4h0M486.7 364.7h0M323.8 235.8h0M635.4 413.2h0M331.4 351.7h0M328.4 383.8h0M656.1 322.5h0M577.8 337.7h0M543.7 370.2h0M393.8 385.8h0M277.9 326.6h0M279.9 461.8h0M362.8 356.0h0M386.3 371.0h0M337.8 352.6h0M556.1 333.2h0M475.7 486.0h0M476.9 360.6h0M476.5 358.1h0M659.1 340.8h0M591.1 364.0h0M361.7 394.9h0M276.5 389.0h0M267.8 385.7h0M688.6 368.1h0M351.0 399.2h0M592.5 300.9h0M784.2 282.1h0M373.0 363.8h0M206.3 330.1h0M314.3 433.9h0M536.0 432.6h0M395.7 397.0h0M430.7 411.3h0M430.4 410.7h0M292.0 403.9h0M646.7 379.4h0M682.2 358.5h0M282.5 255.7h0M355.3 351.5h0M488.6 345.5h0M805.4 319.9h0M321.2 350.7h0M723.4 340.7h0M594.4 349.6h0M579.4 350.4h0M229.2 308.4h0M162.3 356.5h0M769.3 342.2h0M714.7 332.8h0M733.4 358.5h0M675.8 366.2h0M222.5 368.7h0M370.0 303.8h0M704.8 402.8h0M774.3 247.1h0M570.3 363.6h0M450.6 185.5h0M650.2 323.9h0M684.6 356.6h0M764.6 366.3h0M769.9 360.8h0M498.0 379.4h0M767.6 339.4h0M739.9 382.1h0M596.6 367.0h0M597.6 364.8h0M388.9 313.1h0M375.3 339.8h0M781.3 342.4h0M781.9 344.1h0M219.1 400.6h0M688.3 342.0h0M757.4 345.5h0M537.5 483.1h0M830.5 368.4h0M119.8 393.2h0M667.5 444.0h0M794.8 360.5h0M491.4 383.2h0M491.9 384.0h0M664.1 356.3h0M770.6 389.5h0M742.5 351.7h0M521.0 233.0h0M598.2 376.3h0M711.7 331.5h0M740.1 386.6h0M369.0 369.0h0M756.6 359.5h0M371.7 330.1h0M356.6 407.6h0M817.8 378.5h0M531.0 303.0h0M778.2 329.7h0M749.6 465.5h0M547.1 338.5h0M810.2 424.7h0M483.0 360.0h0M164.1 358.4h0M617.6 340.2h0M312.1 372.2h0M311.3 371.8h0M607.8 372.7h0M257.2 446.1h0M821.8 326.0h0M819.1 324.2h0M694.0 346.9h0M597.1 346.1h0M408.1 343.8h0M434.2 412.1h0M396.7 370.8h0M322.3 342.0h0M702.1 369.9h0M483.4 355.3h0M493.8 389.1h0M668.9 374.2h0M672.1 374.8h0M703.3 438.1h0M820.2 323.8h0M619.3 353.7h0M832.1 377.5h0M832.0 347.2h0M592.3 353.1h0M591.1 351.4h0M170.6 466.6h0M753.2 365.5h0M195.3 390.9h0M101.2 367.7h0M492.2 359.2h0M217.0 326.0h0M195.4 277.7h0M198.6 363.8h0M529.3 308.7h0M829.0 333.7h0M823.7 330.1h0M418.0 389.0h0M568.5 372.3h0M191.5 346.0h0M630.9 377.1h0M641.4 336.1h0M486.1 170.9h0M648.9 337.2h0M650.7 335.9h0M572.6 361.1h0M577.1 361.3h0M576.5 361.7h0M574.4 361.8h0M632.2 382.6h0M366.0 375.2h0M782.4 392.2h0M782.9 391.2h0M563.9 392.7h0M177.6 290.3h0M212.5 456.0h0M513.5 389.1h0M715.3 386.2h0M815.2 347.0h0M677.1 323.5h0M682.8 324.0h0M391.5 350.1h0M675.3 316.8h0M678.0 319.0h0M663.8 382.9h0M122.7 352.7h0M123.0 344.6h0M107.8 316.1h0M600.3 353.7h0M765.1 289.9h0M625.5 383.8h0M357.7 353.5h0M547.8 407.1h0M610.0 383.1h0M601.9 337.1h0M403.5 354.0h0M513.0 358.3h0M594.7 402.9h0M406.3 373.5h0M808.4 369.1h0M701.9 351.7h0M760.1 369.9h0M791.5 364.3h0M631.9 291.0h0M629.2 293.2h0M651.4 394.0h0M257.6 406.7h0M661.2 358.5h0M484.2 356.5h0M480.0 355.0h0M583.3 346.4h0M804.5 381.5h0M312.1 391.1h0M362.9 341.7h0M744.4 342.3h0M749.0 342.5h0M745.9 343.5h0M749.7 389.4h0M479.3 542.1h0M775.7 282.1h0M568.1 401.4h0M323.1 389.0h0M564.1 370.3h0M213.3 418.8h0M841.7 341.6h0M725.7 492.4h0M439.9 331.6h0M389.4 349.9h0M389.7 349.4h0M379.3 364.8h0M181.0 405.8h0M180.0 404.5h0M636.0 372.8h0M764.2 363.6h0M493.2 271.1h0M180.4 372.1h0M703.6 360.3h0M637.8 333.0h0M252.2 427.4h0M735.4 416.4h0M723.3 377.5h0M437.1 397.4h0M479.1 515.8h0M760.5 348.8h0M382.3 330.3h0M663.9 280.7h0M803.0 367.7h0M817.4 291.9h0M568.6 378.9h0M263.9 281.6h0M756.4 370.3h0M755.5 368.2h0M606.5 354.6h0M851.1 353.5h0M851.1 354.9h0M853.5 352.8h0M849.2 354.5h0M852.4 353.7h0M346.1 279.7h0M204.2 343.9h0M541.2 415.8h0M303.7 196.1h0M159.8 371.8h0M168.3 369.9h0M468.7 339.2h0M374.6 333.2h0M736.0 380.5h0M724.5 381.5h0M727.7 381.0h0M752.4 357.0h0M752.9 353.2h0M787.8 397.3h0M184.5 354.3h0M181.2 348.7h0M182.0 353.7h0M184.2 354.7h0M720.0 328.9h0M695.1 452.6h0M757.2 383.0h0M670.3 378.6h0M828.4 361.9h0M451.3 312.7h0M598.5 332.6h0M196.9 434.0h0M194.7 435.1h0M196.7 430.9h0M418.8 371.9h0M519.5 378.5h0M764.2 268.3h0M744.7 402.0h0M406.3 353.9h0M297.5 365.9h0M774.2 272.6h0M261.6 408.6h0M263.6 408.1h0M282.6 265.1h0M747.8 337.3h0M384.9 386.9h0M383.2 385.3h0M393.3 355.2h0M398.1 356.3h0M725.8 380.9h0M746.2 457.6h0M527.4 287.4h0M532.8 292.6h0M699.9 365.3h0M702.0 368.6h0M700.4 369.6h0M599.3 424.3h0M797.4 336.7h0M98.2 352.8h0M569.7 351.5h0M437.2 254.8h0M510.6 537.4h0M708.1 298.4h0M377.7 351.3h0M264.4 362.7h0M695.7 278.7h0M256.1 369.6h0M257.9 367.4h0M259.8 368.4h0M254.6 368.7h0M147.6 370.5h0M609.8 330.4h0M565.9 391.6h0M167.0 353.5h0M838.5 324.3h0M839.4 325.7h0M648.8 365.0h0M584.3 367.0h0M496.9 393.1h0M835.7 333.8h0M720.7 310.4h0M372.6 370.1h0M244.9 344.2h0M394.6 422.0h0M633.6 362.5h0M578.9 360.9h0M707.7 381.0h0M703.3 381.8h0M121.2 375.2h0M403.7 218.2h0M490.3 387.7h0M631.4 369.4h0M647.6 364.1h0M778.3 307.5h0M517.2 480.2h0M838.1 348.8h0M549.7 334.9h0M613.2 393.2h0M610.3 390.5h0M708.4 415.5h0M296.1 354.4h0M293.1 355.5h0M302.1 356.1h0M305.0 384.8h0M524.1 347.9h0M211.1 481.2h0M731.0 393.4h0M383.9 330.2h0M232.7 350.7h0M730.5 338.2h0M560.5 347.7h0M838.4 352.3h0M836.6 352.4h0M838.3 352.1h0M834.4 350.0h0M626.3 365.6h0M470.5 330.3h0M821.9 355.2h0M517.6 319.4h0M529.4 345.2h0M286.0 315.3h0M819.3 363.5h0M600.1 331.1h0M601.3 329.3h0M374.7 252.7h0M735.8 245.1h0M669.8 398.7h0M305.7 325.6h0M304.8 328.0h0M302.1 326.5h0M299.4 325.1h0M240.7 389.6h0M604.4 330.9h0M711.2 346.1h0M484.5 387.9h0M638.6 333.6h0M685.9 425.5h0M619.9 404.7h0M621.5 406.0h0M308.8 382.6h0M310.9 384.5h0M531.9 310.7h0M326.1 379.1h0M517.0 336.1h0M517.7 338.9h0M516.2 337.8h0M705.8 296.3h0M656.9 383.6h0M284.2 369.3h0M259.0 416.4h0M264.2 416.7h0M592.7 364.6h0M285.5 374.9h0M300.6 268.0h0M275.6 300.5h0M842.1 367.1h0M675.5 345.4h0M234.4 378.9h0M273.6 344.9h0M800.3 357.8h0M349.8 320.1h0M678.1 362.9h0M403.0 343.1h0M358.3 370.9h0M564.0 391.9h0M841.2 341.9h0M691.4 372.1h0M627.3 383.8h0M683.6 350.8h0M203.3 346.3h0M300.6 468.4h0M820.8 406.6h0M820.1 406.7h0M505.8 414.0h0M671.6 345.9h0M828.1 415.3h0M824.5 415.9h0M702.9 260.1h0M528.4 370.1h0M301.9 345.5h0M814.6 368.8h0M754.9 348.1h0M612.3 384.0h0M359.4 367.7h0M357.6 368.2h0M662.5 364.0h0M730.7 347.3h0M158.6 413.7h0M235.4 384.5h0M715.6 238.3h0M245.3 230.0h0M681.1 410.7h0M813.8 339.3h0M225.4 407.3h0M452.1 358.2h0M140.3 342.5h0M367.8 377.4h0M468.4 374.8h0M631.7 327.7h0M699.4 372.8h0M390.6 518.7h0M634.6 401.3h0M713.6 352.8h0M260.4 387.7h0M268.0 388.5h0M826.8 348.3h0M408.5 349.4h0M179.3 373.5h0M178.8 371.4h0M209.5 367.8h0M661.8 365.0h0M736.2 350.4h0M543.3 317.6h0M801.7 418.4h0M803.2 405.1h0M492.4 300.7h0M494.3 299.5h0M356.1 357.8h0M536.4 332.0h0M815.7 349.3h0M195.6 359.7h0M725.3 374.9h0M483.0 316.8h0M659.1 336.3h0M550.5 386.3h0M563.4 366.8h0M192.8 373.0h0M335.0 399.1h0M383.1 373.9h0M383.1 372.8h0M287.1 381.0h0M716.9 266.5h0M768.5 288.9h0M668.7 383.9h0M755.4 391.7h0M199.9 360.0h0M656.9 385.9h0M417.2 382.8h0M524.6 397.4h0M634.3 501.8h0M278.2 310.9h0M282.1 375.6h0M648.4 380.0h0M785.7 377.9h0M845.2 382.0h0M586.1 379.1h0M717.7 306.0h0M718.7 305.4h0M208.7 362.4h0M197.1 393.9h0M571.9 355.4h0M367.2 331.8h0M165.0 302.8h0M382.4 329.6h0M173.2 376.6h0M511.9 519.6h0M489.5 373.1h0M488.8 374.2h0M735.2 339.8h0M759.3 369.7h0M508.0 375.8h0M508.7 378.8h0M244.5 310.8h0M805.2 354.2h0M639.3 388.0h0M628.6 371.3h0M635.3 320.1h0M840.8 328.3h0M341.5 440.1h0M726.5 257.8h0M210.9 470.7h0M593.9 383.5h0M413.2 409.9h0M492.6 384.7h0M148.4 434.9h0M268.6 340.3h0M500.7 319.7h0M180.4 401.7h0M551.5 289.6h0M189.1 372.3h0M191.0 369.3h0M192.0 370.4h0M751.9 355.9h0M192.3 321.1h0M722.5 349.7h0M724.9 351.9h0M725.7 347.9h0M470.8 341.8h0M693.9 353.8h0M846.5 372.1h0M264.7 446.7h0M230.3 376.5h0M839.7 349.2h0M219.7 333.8h0M837.1 364.1h0M663.7 469.5h0M169.9 419.6h0M122.2 422.8h0M456.9 176.9h0M786.1 362.1h0M652.8 325.0h0M297.4 341.0h0M707.2 350.7h0M337.6 370.1h0M336.8 367.4h0M338.5 370.1h0M345.9 346.1h0M276.4 409.8h0M413.2 380.7h0M718.9 350.0h0M758.9 339.7h0M779.6 292.6h0M565.1 398.4h0M755.9 368.0h0M699.1 352.2h0M697.7 351.0h0M519.6 323.1h0M588.1 366.9h0M431.3 503.8h0M664.2 350.7h0M362.4 406.5h0M544.7 305.3h0M289.7 193.2h0M539.8 379.9h0M601.7 369.9h0M167.7 402.6h0M543.6 278.6h0M134.2 404.3h0M570.0 348.6h0M697.1 404.6h0M299.4 387.8h0M121.3 420.3h0M643.2 365.2h0M543.4 400.4h0M260.0 447.3h0M489.4 364.6h0M582.2 375.2h0M546.7 343.9h0M825.5 386.2h0M179.0 370.1h0M420.4 340.4h0M812.4 360.6h0M196.7 352.4h0M624.5 410.8h0M189.0 416.3h0M802.4 367.4h0M101.1 356.7h0M112.2 313.5h0M568.9 258.4h0M327.3 352.2h0M190.6 422.4h0M662.7 336.8h0M321.4 367.5h0M595.9 354.4h0M534.0 321.9h0M276.1 370.7h0M276.2 371.5h0M281.5 424.9h0M734.9 388.5h0M359.9 349.0h0M542.6 324.2h0M667.0 362.7h0M670.6 361.8h0M511.1 412.6h0M774.7 357.3h0M711.9 336.4h0M765.1 358.8h0M350.9 367.5h0M532.5 458.6h0M745.2 362.9h0M468.3 328.9h0M296.0 434.3h0M294.3 433.0h0M359.4 355.7h0M634.4 417.7h0M722.9 309.2h0M781.6 277.8h0M159.9 415.2h0M417.8 408.2h0M688.2 367.2h0M537.6 375.0h0M744.3 317.2h0M160.8 392.7h0M204.2 387.8h0M400.0 385.6h0M330.1 407.2h0M117.3 382.6h0M674.9 368.8h0M848.0 376.6h0M630.1 345.3h0M627.8 344.8h0M638.2 336.6h0M586.4 303.5h0M582.6 301.1h0M580.0 304.7h0M437.9 389.7h0M753.1 395.2h0M633.9 377.4h0M678.4 341.9h0M709.1 232.8h0M545.4 388.0h0M542.8 389.3h0M311.3 360.5h0M691.4 344.9h0M483.6 391.6h0M128.1 350.2h0M513.7 345.3h0M247.7 365.5h0M824.7 391.2h0M396.9 514.2h0M699.1 351.9h0M291.3 422.1h0M758.2 397.9h0M628.7 352.7h0M193.6 246.7h0M811.1 407.6h0M817.9 405.4h0M230.0 366.6h0M331.6 365.9h0M632.4 352.2h0M635.4 358.0h0M632.6 352.6h0M418.4 390.7h0M355.4 337.5h0M380.3 377.5h0M776.9 345.7h0M699.3 346.5h0M707.6 365.7h0M276.1 468.7h0M740.0 355.2h0M775.1 258.5h0M436.1 384.7h0M644.1 416.0h0M203.2 420.7h0M349.2 350.3h0M643.4 332.5h0M216.0 356.6h0M374.1 389.8h0M695.5 371.9h0M783.5 425.3h0M788.2 421.4h0M500.7 454.4h0M752.9 378.7h0M598.9 338.9h0M695.0 342.9h0M646.3 262.3h0M484.1 327.1h0M466.6 376.2h0M643.8 428.1h0M244.0 357.3h0M820.5 289.1h0M114.5 306.8h0M199.7 373.1h0M824.6 322.0h0M166.9 351.8h0M640.1 340.1h0M425.0 292.5h0M645.7 362.5h0M642.1 359.1h0M202.6 342.3h0M809.1 341.7h0M547.3 388.0h0M234.6 386.5h0M238.3 384.8h0M525.4 362.5h0M693.3 489.8h0M304.5 358.1h0M312.0 362.2h0M713.3 358.8h0M347.3 415.2h0M205.5 229.2h0M769.8 348.1h0M281.7 355.6h0M642.0 344.8h0M131.4 358.9h0M132.4 358.5h0M208.8 338.2h0M622.0 365.9h0M623.5 367.8h0M285.2 346.4h0M206.5 370.0h0M208.8 387.1h0M209.7 384.6h0M488.0 385.0h0M525.0 380.6h0M624.1 379.8h0M151.7 383.6h0M149.4 386.8h0M741.8 366.1h0M345.2 390.2h0M454.5 355.1h0M442.0 405.9h0M618.1 484.5h0M589.4 425.5h0M182.8 384.5h0M664.7 418.9h0M309.4 290.4h0M123.9 370.1h0M504.4 394.3h0M538.4 402.5h0M340.9 430.3h0M330.5 363.2h0M716.9 215.4h0M599.1 338.3h0M600.0 337.0h0M713.4 368.3h0M451.3 316.9h0M529.0 382.9h0M136.1 379.3h0M725.1 410.5h0M655.6 319.4h0M656.6 316.5h0M662.2 342.3h0M111.8 371.9h0M112.7 367.8h0M544.9 326.9h0M238.9 366.7h0M171.2 401.2h0M118.0 417.0h0M744.8 381.6h0M151.4 270.5h0M636.8 359.5h0M638.9 364.3h0M347.4 226.1h0M599.2 396.5h0M131.2 398.3h0M443.2 385.7h0M789.1 412.7h0M594.6 371.4h0M297.8 367.1h0M612.9 294.1h0M283.3 361.2h0M620.1 299.0h0M286.3 384.9h0M561.6 344.7h0M537.5 341.4h0M626.7 362.1h0M358.3 360.5h0M695.7 373.0h0M676.4 326.6h0M709.7 416.8h0M442.4 353.9h0M460.6 400.6h0M457.2 396.2h0M544.7 369.6h0M543.8 371.0h0M771.9 372.3h0M693.7 337.8h0M359.6 385.4h0M112.3 357.6h0M385.1 349.8h0M666.1 362.9h0M550.9 385.5h0M692.9 397.2h0M435.8 331.1h0M584.1 397.9h0M675.1 374.5h0M382.6 388.9h0M641.7 367.8h0M414.8 374.8h0M326.2 341.9h0M324.8 338.6h0M409.1 400.1h0M711.5 294.0h0M202.5 317.0h0M669.6 380.8h0M577.3 356.6h0M823.6 328.3h0M830.7 329.6h0M235.2 353.6h0M369.1 399.6h0M371.1 399.6h0M502.5 250.9h0M733.7 393.0h0M800.2 365.7h0M780.8 368.5h0M317.2 345.5h0M603.5 330.9h0M655.2 368.2h0M369.1 388.0h0M840.2 311.0h0M627.7 380.7h0M662.6 341.6h0M269.9 363.3h0M452.2 362.5h0M652.4 328.7h0M744.8 403.8h0M647.9 316.6h0M819.2 353.2h0M661.8 370.3h0M322.4 389.7h0M712.1 342.7h0M192.3 416.4h0M779.6 357.3h0M784.8 362.7h0M496.6 371.3h0M802.6 359.4h0M784.5 342.4h0M237.0 376.3h0M436.7 392.0h0M433.3 390.6h0M287.0 368.8h0M332.5 392.4h0M331.5 396.7h0M740.2 411.9h0M440.5 396.2h0M291.3 351.8h0M610.1 298.1h0M710.8 222.4h0M678.7 360.8h0M786.3 406.2h0M534.8 371.4h0M462.4 350.5h0M459.4 352.2h0M752.6 364.6h0M496.9 328.6h0M701.0 415.0h0M265.5 348.0h0M572.9 352.6h0M442.5 389.0h0M393.2 399.4h0M540.6 365.1h0M384.2 232.9h0M789.1 263.2h0M113.9 331.6h0M473.5 406.8h0M353.1 393.0h0M362.5 334.0h0M685.2 400.8h0M174.6 459.9h0M157.6 300.2h0M723.6 344.0h0M220.5 375.2h0M528.6 499.5h0M728.5 382.9h0M529.0 394.9h0M632.0 371.2h0M779.8 321.1h0M592.8 370.2h0M739.8 375.3h0M810.1 323.7h0M503.3 381.9h0M123.8 407.1h0M648.8 375.6h0M189.0 415.1h0M702.2 351.0h0M698.7 350.1h0M703.2 351.8h0M803.0 279.7h0M398.7 418.1h0M354.8 335.9h0M734.8 340.5h0M741.3 339.5h0M735.4 339.0h0M400.6 371.3h0M540.0 412.6h0M243.1 382.7h0M778.3 369.1h0M699.6 386.2h0M683.1 356.6h0M581.2 345.4h0M579.4 343.1h0M531.5 325.4h0M478.1 489.3h0M285.7 198.4h0M328.5 335.5h0M284.5 210.3h0M273.5 399.6h0M541.5 401.0h0M718.9 342.1h0M733.2 377.1h0M382.2 392.7h0M387.7 394.1h0M708.7 366.8h0M516.6 468.6h0M707.3 316.0h0M790.9 328.4h0M563.4 328.3h0M141.8 361.3h0M656.2 342.5h0M379.6 331.9h0M362.3 480.5h0M156.3 378.5h0M163.1 382.1h0M474.9 362.3h0M499.6 305.7h0M744.4 347.3h0M494.6 448.8h0M779.5 368.5h0M255.1 331.5h0M544.8 375.6h0M801.4 312.4h0M491.5 383.1h0M405.7 341.4h0M414.5 412.1h0M413.3 412.9h0M629.5 399.6h0M699.0 459.6h0M210.0 366.9h0M212.9 368.8h0M789.7 341.9h0M251.8 392.5h0M331.5 326.9h0M331.8 323.5h0M327.3 321.2h0M330.5 325.0h0M451.5 379.9h0M121.8 348.3h0M843.6 351.7h0M842.9 352.3h0M152.3 274.1h0M296.2 321.9h0M301.2 324.2h0M298.9 324.1h0M724.2 346.4h0M720.8 348.9h0M719.3 344.4h0M652.5 318.1h0M327.4 342.4h0M790.2 337.0h0M784.3 335.7h0M805.0 344.3h0M224.8 382.7h0M681.5 310.3h0M245.4 218.8h0M698.3 372.0h0M528.8 361.3h0M226.0 383.4h0M296.5 410.4h0M487.6 399.5h0M423.3 396.9h0M683.2 375.2h0M371.9 402.3h0M809.5 413.8h0M802.7 407.9h0M428.3 175.1h0M453.4 422.1h0M450.0 422.8h0M341.6 341.4h0M161.9 353.6h0M216.4 448.3h0M201.2 352.9h0M434.5 353.6h0M173.9 285.0h0M507.5 394.0h0M788.1 334.0h0M300.2 369.0h0M527.5 381.0h0M430.4 342.1h0M669.1 395.2h0M710.2 347.3h0M392.4 423.7h0M454.7 397.1h0M471.5 217.6h0M366.9 432.6h0M268.2 366.4h0M561.3 367.4h0M272.8 338.1h0M551.6 368.4h0M747.4 381.8h0M747.3 389.4h0M747.3 386.6h0M386.5 406.4h0M757.8 334.8h0M615.4 366.7h0M823.7 401.0h0M518.3 349.9h0M371.6 344.1h0M486.9 406.5h0M560.2 333.9h0M608.8 402.4h0M593.1 343.2h0M552.3 319.6h0M795.0 378.0h0M695.2 362.4h0M694.5 361.0h0M838.5 382.9h0M750.6 415.8h0M468.1 378.5h0M590.5 339.7h0M105.3 365.6h0M596.1 339.2h0M425.0 363.8h0M390.0 272.4h0M505.3 368.3h0M418.1 367.6h0M422.6 371.6h0M584.1 356.7h0M217.0 296.5h0M389.0 353.3h0M425.7 368.2h0M427.3 376.5h0M469.3 210.8h0M724.0 358.6h0M724.8 358.1h0M726.1 359.6h0M260.3 341.4h0M101.8 375.5h0M102.4 383.4h0M98.7 378.1h0M269.4 380.5h0M178.8 382.0h0M573.7 391.2h0M134.7 401.1h0M250.7 364.0h0M539.2 298.8h0M798.0 348.9h0M419.6 324.0h0M415.8 322.5h0M145.6 354.9h0M700.0 388.4h0M672.5 466.7h0M766.8 311.9h0M841.4 390.3h0M453.7 432.1h0M554.7 332.2h0M771.0 376.7h0M292.6 357.4h0M297.0 356.7h0M719.8 261.1h0M693.6 306.7h0M246.8 301.7h0M733.5 431.6h0M564.4 389.5h0M818.3 394.9h0M812.0 399.0h0M818.5 396.9h0M725.1 364.7h0M727.2 364.0h0M521.2 308.2h0M746.6 384.7h0M744.6 385.4h0M750.5 262.9h0M782.8 347.6h0M148.1 361.0h0M742.0 372.6h0M214.6 414.7h0M631.5 354.0h0M139.1 360.3h0M483.3 316.1h0M486.4 313.4h0M607.0 257.3h0M410.0 190.9h0M791.3 385.8h0M798.2 384.2h0M796.5 384.0h0M631.8 338.8h0M472.0 284.6h0M295.4 403.3h0M330.6 349.9h0M481.3 387.9h0M134.6 416.0h0M303.8 349.5h0M804.6 329.0h0M439.3 353.6h0M803.5 306.8h0M382.0 383.6h0M797.8 325.0h0M214.0 354.2h0M686.8 397.3h0M424.3 379.3h0M606.8 400.1h0M443.9 344.4h0M579.6 316.2h0M267.1 326.7h0M135.1 356.0h0M744.4 372.2h0M658.3 385.6h0M843.4 329.6h0M645.5 271.9h0M283.0 361.6h0M281.9 365.0h0M280.2 364.1h0M282.0 365.9h0M787.9 348.9h0M575.6 357.9h0M569.7 357.6h0M158.4 383.5h0M192.4 352.3h0M544.3 387.2h0M548.6 386.0h0M533.1 348.4h0M779.0 366.3h0M204.9 372.3h0M478.5 299.3h0M757.7 365.4h0M817.8 353.3h0M818.6 355.5h0M331.1 280.8h0M334.0 351.4h0M491.3 368.6h0M797.5 316.9h0M798.2 314.7h0M796.2 318.6h0M339.5 364.2h0M516.8 346.4h0M639.0 355.5h0M817.0 377.9h0M513.1 397.6h0M291.6 310.9h0M609.4 387.7h0M200.4 372.1h0M501.1 372.2h0M662.0 354.3h0M669.1 370.4h0M269.9 354.9h0M536.5 364.4h0M368.6 401.2h0M333.6 366.6h0M599.8 376.2h0M603.1 376.1h0M831.3 389.1h0M442.1 348.5h0M722.9 335.1h0M712.0 362.0h0M685.5 364.5h0M493.5 335.8h0M340.9 333.6h0M296.6 378.5h0M455.0 412.7h0M454.1 415.9h0M502.8 391.6h0M380.9 379.3h0M614.3 180.8h0M540.0 354.2h0M587.7 335.2h0M371.9 349.1h0M641.4 355.3h0M344.4 352.8h0M599.7 368.0h0M588.6 375.4h0M481.6 305.3h0M601.3 362.4h0M415.1 358.1h0M157.0 385.7h0M620.3 406.7h0M621.3 406.1h0M732.2 347.1h0M335.9 373.5h0M318.1 451.2h0M504.8 390.4h0M503.8 388.5h0M198.9 378.3h0M293.3 359.0h0M297.7 357.9h0M596.0 233.3h0M515.9 372.0h0M356.7 226.7h0M776.5 340.1h0M753.6 444.9h0M299.6 357.8h0M368.8 312.3h0M368.3 311.8h0M620.3 440.1h0M270.2 333.9h0M263.5 376.7h0M471.2 354.9h0M639.7 372.0h0M353.1 414.8h0M371.1 374.3h0M798.6 406.2h0M296.8 306.0h0M743.2 372.4h0M434.1 463.9h0M189.5 463.7h0M670.7 361.8h0M279.1 241.6h0M603.1 397.4h0M611.2 273.2h0M337.3 347.7h0M636.6 393.3h0M638.4 392.1h0M697.5 341.7h0M192.3 345.9h0M376.7 393.7h0M378.4 394.3h0M183.6 357.8h0M503.0 381.5h0M674.7 370.5h0M377.4 337.2h0M583.6 344.2h0M111.9 381.1h0M394.6 367.6h0M725.6 378.3h0M537.9 298.5h0M262.2 360.4h0M263.4 366.5h0M350.0 341.2h0M307.8 394.4h0M501.9 417.4h0M669.1 294.5h0M696.3 365.4h0M693.4 368.0h0M511.7 328.2h0M505.4 333.0h0M190.3 351.5h0M518.0 325.0h0M626.1 369.5h0M629.4 398.9h0M154.9 357.1h0M215.1 370.3h0M262.7 373.2h0M403.0 360.5h0M429.8 377.6h0M639.0 365.7h0M603.1 420.5h0M624.6 352.5h0M621.3 351.2h0M635.2 369.8h0M598.6 355.0h0M598.3 355.4h0M599.3 353.9h0M569.3 334.2h0M688.7 359.1h0M268.8 404.0h0M367.8 381.8h0M235.2 415.3h0M329.6 323.9h0M331.0 324.4h0M219.4 371.3h0M542.2 301.3h0M569.7 413.2h0M573.0 413.1h0M689.0 340.9h0M803.1 384.5h0M807.0 384.4h0M257.6 370.1h0M730.1 316.3h0M297.1 387.2h0M834.3 300.8h0M796.3 332.3h0M242.1 349.9h0M483.0 376.7h0M234.4 361.5h0M552.2 369.9h0M618.2 345.4h0M205.2 408.0h0M641.8 358.6h0M728.8 344.1h0M730.0 341.2h0M741.2 257.2h0M690.9 351.3h0M521.8 328.4h0M722.6 316.5h0M370.5 327.9h0M359.0 326.6h0M535.7 388.8h0M535.0 389.2h0M625.2 381.6h0M649.7 350.1h0M183.8 247.1h0M261.2 336.8h0M576.6 355.0h0M601.1 372.5h0M192.6 431.3h0M688.0 357.7h0M485.7 359.8h0M490.2 354.2h0M484.7 353.7h0M676.0 383.7h0M635.0 347.0h0M811.7 417.2h0M368.1 194.5h0M276.4 347.4h0M280.2 350.4h0M573.7 386.8h0M678.8 421.0h0M562.5 374.5h0M440.1 381.6h0M690.2 367.1h0M515.5 354.9h0M468.3 363.8h0M703.6 359.5h0M301.1 423.4h0M350.5 425.5h0M609.6 383.5h0M237.8 345.4h0M246.6 408.8h0M315.3 460.1h0M213.7 409.9h0M643.1 363.5h0M496.0 255.9h0M721.7 410.2h0M775.0 417.3h0M222.6 407.8h0M225.3 406.9h0M377.6 343.9h0M800.2 266.2h0M466.0 433.2h0M669.1 364.3h0M671.5 356.2h0M664.2 336.1h0M638.2 377.2h0M767.6 386.8h0M768.4 390.5h0M478.0 401.9h0M371.8 487.4h0M337.7 350.4h0M279.1 371.3h0M278.7 367.9h0M283.0 369.4h0M205.1 399.9h0M816.8 309.9h0M549.6 383.8h0M750.3 351.9h0M304.9 367.8h0M822.8 380.2h0M685.4 210.4h0M638.6 380.8h0M638.1 381.4h0M641.5 377.4h0M745.1 362.3h0M772.3 361.3h0M589.0 383.5h0M382.1 396.2h0M334.5 409.3h0M336.6 406.8h0M336.4 409.6h0M730.2 429.4h0M402.7 397.9h0M680.1 378.6h0M677.8 378.6h0M580.3 362.0h0M623.5 364.1h0M589.1 306.3h0M299.0 329.6h0M785.7 348.6h0M562.8 362.6h0M625.6 441.7h0M623.2 437.0h0M730.8 346.6h0M497.4 413.6h0M490.9 232.9h0M845.7 346.2h0M413.3 372.2h0M411.2 371.1h0M411.1 373.1h0M411.1 372.6h0M628.3 347.9h0M444.0 333.5h0M680.5 369.6h0M840.7 370.1h0M790.3 395.6h0M182.4 472.5h0M372.5 375.0h0M372.3 376.8h0M192.9 401.2h0M196.0 402.5h0M518.0 303.2h0M143.8 387.8h0M419.4 315.5h0M417.0 313.0h0M519.7 326.9h0M110.5 404.5h0M688.4 400.0h0M538.6 373.2h0M625.7 348.2h0M626.5 347.8h0M557.5 412.4h0M621.5 367.7h0M765.6 329.6h0M580.4 342.3h0M612.1 344.8h0M737.0 372.2h0M634.2 338.7h0M786.0 364.7h0M607.0 387.4h0M605.2 388.3h0M651.7 367.1h0M748.1 401.6h0M151.7 436.6h0M503.8 361.6h0M803.7 389.1h0M357.5 518.9h0M499.8 373.6h0M823.5 347.2h0M820.3 350.1h0M821.2 352.4h0M735.0 476.2h0M326.8 384.6h0M385.9 333.1h0M167.8 353.6h0M341.3 376.9h0M532.6 390.4h0M290.4 381.6h0M735.4 338.9h0M737.2 340.8h0M383.0 274.9h0M721.4 344.6h0M768.6 399.7h0M333.5 366.1h0M389.6 362.0h0M425.6 427.0h0M727.9 373.4h0M766.8 404.4h0M796.5 357.8h0M837.5 343.7h0M596.6 379.0h0M599.0 380.9h0M582.2 345.3h0M340.2 383.0h0M426.0 346.6h0M249.5 432.1h0M241.0 380.2h0M532.2 339.1h0M621.0 394.1h0M764.6 339.5h0M634.4 380.1h0M132.7 418.1h0M645.4 191.4h0M804.3 395.5h0M808.7 390.8h0M811.5 383.1h0M650.9 376.8h0M616.4 397.2h0M723.0 491.5h0M809.4 345.5h0M294.7 323.9h0M289.8 329.7h0M292.2 323.9h0M511.3 301.1h0M503.3 304.0h0M513.2 299.1h0M702.1 358.5h0M235.8 358.4h0M236.2 363.2h0M235.4 360.9h0M313.4 342.4h0M188.5 352.4h0M389.0 409.1h0M336.6 223.4h0M535.0 372.7h0M560.2 431.4h0M722.6 372.8h0M816.6 352.4h0M766.8 369.1h0M496.2 256.5h0M630.8 320.5h0M632.8 319.9h0M633.3 317.1h0M358.7 314.3h0M183.4 410.8h0M826.7 421.8h0M821.1 418.1h0M519.2 391.0h0M406.1 343.1h0M399.2 488.2h0M577.0 328.2h0M578.2 329.6h0M401.2 368.1h0M190.6 402.9h0M394.7 402.5h0M483.2 469.1h0M383.7 203.2h0M263.8 383.6h0M796.1 390.3h0M729.6 330.0h0M728.5 331.9h0M193.0 339.4h0M683.8 504.8h0M759.6 360.5h0M495.5 397.9h0M572.5 328.6h0M730.8 330.4h0M431.9 366.2h0M479.9 339.0h0M326.9 358.3h0M833.1 335.1h0M245.7 374.4h0M209.0 368.4h0M555.1 354.4h0M556.6 354.5h0M328.7 375.3h0M537.7 376.2h0M674.1 341.5h0M620.1 363.1h0M566.0 358.9h0M655.9 425.5h0M704.5 397.7h0M373.5 384.9h0M229.3 359.1h0M231.1 360.3h0M231.5 358.1h0M109.5 397.4h0M749.1 385.5h0M473.1 385.1h0M530.4 180.2h0M376.9 407.5h0M698.7 329.7h0M768.8 354.5h0M664.6 245.1h0M365.7 475.0h0M652.1 370.0h0M504.5 412.8h0M626.6 343.4h0M616.7 270.8h0M803.4 337.3h0M277.1 381.7h0M554.2 225.7h0M429.8 356.1h0M230.3 424.4h0M644.4 369.3h0M639.0 368.7h0M428.3 438.4h0M374.2 401.6h0M306.3 391.0h0M301.1 389.2h0M251.9 367.1h0M581.3 377.9h0M169.9 369.1h0M853.0 364.4h0M714.8 269.4h0M736.6 349.4h0M173.1 364.5h0M176.7 365.7h0M169.1 364.7h0M168.6 363.5h0M410.0 354.3h0M550.4 358.4h0M557.1 361.5h0M751.2 385.8h0M737.2 380.9h0M736.4 376.4h0M340.9 355.6h0M441.8 254.9h0M385.7 375.3h0M232.5 378.0h0M723.5 306.8h0M751.8 403.8h0M702.8 314.9h0M265.5 405.2h0M586.2 409.5h0M842.1 392.7h0M322.0 335.6h0M189.8 389.8h0M811.4 291.8h0M182.8 358.6h0M183.0 357.4h0M163.5 463.1h0M186.2 425.4h0M559.2 348.1h0M422.1 385.7h0M536.0 293.3h0M657.3 374.3h0M750.8 427.8h0M614.9 314.0h0M336.1 412.4h0M574.5 309.6h0M575.7 304.9h0M585.2 421.1h0M306.5 420.0h0M824.5 357.5h0M610.6 358.3h0M611.8 361.1h0M587.3 369.8h0M583.2 369.8h0M707.7 388.0h0M421.8 329.2h0M774.3 395.1h0M560.2 329.9h0M136.1 353.5h0M487.7 406.4h0M657.1 342.5h0M205.9 416.6h0M206.2 419.1h0M208.1 420.1h0M208.8 420.0h0M310.8 417.2h0M310.3 413.9h0M613.4 360.5h0M320.9 368.0h0M638.2 417.9h0M176.9 314.4h0M375.7 375.4h0M229.8 368.0h0M665.4 511.6h0M365.4 415.0h0M494.8 279.8h0M621.7 333.8h0M742.4 410.5h0M416.0 369.1h0M411.1 374.3h0M507.7 340.0h0M762.3 344.0h0M566.0 363.1h0M650.1 369.1h0M684.0 361.3h0M682.4 360.6h0M749.0 248.0h0M561.0 384.6h0M280.3 245.6h0M585.4 342.5h0M582.2 340.4h0M584.7 343.0h0M580.0 333.3h0M579.8 291.7h0M583.8 288.1h0M580.9 291.8h0M582.3 292.1h0M660.7 361.9h0M600.3 371.7h0M565.1 449.5h0M408.2 343.3h0M641.3 365.3h0M733.4 361.5h0M670.8 361.5h0M404.7 327.5h0M501.4 435.8h0M134.0 405.1h0M239.3 408.8h0M786.6 363.1h0M739.3 371.3h0M693.6 375.0h0M169.6 334.1h0M610.6 299.4h0M784.0 392.1h0M145.9 332.8h0M145.7 331.0h0M709.1 375.8h0M735.6 353.3h0M493.1 335.2h0M386.7 444.4h0M794.9 301.6h0M249.3 365.0h0M249.4 364.1h0M418.1 360.6h0M521.3 386.3h0M246.4 347.4h0M722.7 357.7h0M722.9 357.9h0M731.7 359.3h0M700.6 366.5h0M352.5 369.1h0M501.4 324.9h0M329.0 424.7h0M436.6 350.0h0M580.9 332.7h0M793.2 326.0h0M573.1 397.0h0M254.8 219.9h0M689.8 378.3h0M520.6 376.5h0M453.1 367.1h0M451.5 367.1h0M407.5 455.2h0M270.9 369.4h0M398.0 346.6h0M229.4 403.1h0M419.7 336.9h0M668.8 310.6h0M421.5 420.3h0M180.0 392.1h0M502.7 453.2h0M258.9 382.2h0M258.1 381.6h0M719.7 360.8h0M351.1 354.5h0M371.5 366.9h0M363.8 372.0h0M609.3 312.6h0M291.2 323.2h0M583.5 360.0h0M816.6 348.6h0M663.8 335.2h0M750.6 358.1h0M412.3 359.5h0M633.6 402.1h0M833.3 332.4h0M830.6 336.1h0M754.4 325.7h0M479.6 363.9h0M515.8 317.3h0M574.3 531.5h0M252.9 495.7h0M732.3 382.9h0M666.2 352.7h0M672.8 364.2h0M657.1 407.4h0M722.1 357.9h0M203.4 329.6h0M838.1 365.4h0M167.6 339.7h0M271.9 352.0h0M706.3 377.1h0M708.3 377.0h0M785.2 409.7h0M724.7 341.2h0M703.1 363.7h0M700.2 280.1h0M720.6 374.8h0M646.8 297.5h0M716.8 370.0h0M714.9 372.3h0M772.9 357.6h0M769.0 363.2h0M354.3 332.3h0M353.4 332.3h0M358.6 332.3h0M221.4 395.8h0M360.5 351.8h0M737.2 356.8h0M719.4 416.2h0M649.5 381.3h0M693.0 318.2h0M692.5 316.8h0M235.2 398.4h0M586.1 324.8h0M265.1 364.4h0M267.1 366.3h0M174.5 388.1h0M308.2 395.3h0M423.9 384.2h0M801.7 375.1h0M730.8 265.6h0M568.4 383.5h0M271.5 425.5h0M404.8 378.6h0M407.3 376.6h0M647.7 369.2h0M456.7 328.9h0M795.8 348.6h0M728.0 373.0h0M617.2 272.7h0M758.9 458.5h0M716.8 365.7h0M601.5 344.4h0M647.5 383.9h0M119.4 374.6h0M358.1 421.5h0M354.9 419.5h0M357.2 419.7h0M293.0 383.6h0M484.9 338.5h0M700.2 381.2h0M406.3 379.7h0M449.4 379.5h0M641.7 260.9h0M492.7 326.5h0M727.5 366.9h0M527.0 373.9h0M420.8 352.1h0M185.0 373.0h0M345.9 413.8h0M195.8 339.5h0M195.9 338.9h0M195.7 340.8h0M831.1 295.2h0M638.1 350.4h0M703.8 305.1h0M616.9 387.4h0M331.9 434.5h0M426.0 370.8h0M607.8 368.0h0M217.2 409.1h0M664.0 339.7h0M314.9 377.4h0M208.4 366.6h0M162.6 302.1h0M794.0 309.9h0M797.4 310.8h0M721.0 253.5h0M688.8 490.3h0M734.8 382.1h0M280.6 401.2h0M377.9 387.2h0M474.1 325.9h0M309.5 476.2h0M631.5 338.9h0M635.2 339.8h0M617.6 402.7h0M613.4 397.6h0M564.4 359.7h0M205.4 407.6h0M564.8 377.6h0M385.8 178.8h0M443.0 356.0h0M725.7 390.0h0M729.1 390.5h0M571.6 351.1h0M286.0 344.2h0M567.5 364.2h0M563.6 363.8h0M699.5 338.7h0M437.2 372.2h0M627.8 359.4h0M816.4 332.3h0M815.8 333.4h0M702.0 356.6h0M731.3 380.1h0M706.5 366.0h0M337.7 307.8h0M336.2 306.4h0M697.4 433.1h0M824.8 372.0h0M807.4 310.5h0M775.9 310.6h0M712.9 330.4h0M632.9 410.5h0M612.7 341.5h0M730.1 332.1h0M766.7 413.4h0M206.9 409.0h0M205.6 407.8h0M207.0 409.5h0M802.5 305.9h0M805.9 300.2h0M666.5 368.9h0M535.3 345.6h0M675.8 356.7h0M675.9 357.4h0M677.0 357.7h0M116.7 379.1h0M124.8 379.0h0M737.0 446.4h0M608.0 402.6h0M365.6 383.8h0M367.7 379.7h0M749.7 353.1h0M787.6 368.4h0M523.9 339.5h0M464.6 304.4h0M702.7 380.2h0M290.8 412.5h0M274.1 365.9h0M616.9 371.6h0M206.4 355.2h0M364.3 375.2h0M363.4 375.5h0M366.1 375.0h0M612.7 351.3h0M611.1 348.2h0M640.8 357.6h0M592.2 364.0h0M484.9 373.2h0M534.0 351.4h0M737.8 353.3h0M686.5 425.6h0M690.2 423.7h0M618.2 361.0h0M614.2 364.9h0M618.8 362.3h0M688.0 367.5h0M687.8 369.5h0M687.8 369.0h0M687.1 367.8h0M483.2 301.0h0M675.5 238.4h0M694.1 313.5h0M331.4 299.3h0M221.8 381.4h0M853.0 369.9h0M814.9 400.8h0M118.2 408.4h0M706.8 336.7h0M756.4 350.8h0M758.5 345.0h0M754.1 347.6h0M700.2 386.6h0M381.1 392.9h0M534.4 364.4h0M767.5 359.1h0M142.1 338.8h0M143.8 338.1h0M176.8 354.9h0M186.7 397.0h0M796.0 357.2h0M623.7 358.7h0M704.7 304.4h0M773.2 343.1h0M820.7 356.3h0M740.5 468.8h0M150.8 331.2h0M295.3 477.8h0M392.1 426.6h0M642.9 286.9h0M673.9 382.6h0M680.5 381.8h0M686.2 353.2h0M486.4 310.5h0M205.6 360.9h0M289.7 343.1h0M98.1 354.5h0M512.0 372.7h0M466.1 389.9h0M496.8 321.3h0M731.1 369.0h0M216.5 348.5h0M250.1 358.1h0M294.8 325.1h0M293.6 330.6h0M606.0 313.8h0M612.1 377.3h0M406.6 369.3h0M406.5 370.9h0M405.9 371.5h0M406.9 370.9h0M643.5 385.2h0M358.3 300.7h0M173.2 393.4h0M744.1 369.3h0M410.1 398.2h0M407.5 398.1h0M312.6 381.6h0M699.6 383.9h0M638.8 360.4h0M744.6 448.6h0M302.5 324.4h0M320.8 323.6h0M842.3 371.1h0M839.4 371.5h0M522.3 370.3h0M422.8 381.4h0M341.4 467.6h0M547.7 408.9h0M748.2 360.8h0M100.0 334.5h0M697.6 366.8h0M695.6 366.1h0M101.3 380.1h0M317.7 513.2h0M758.0 428.6h0M758.1 427.2h0M504.3 448.0h0M139.1 350.8h0M273.2 390.2h0M566.1 286.0h0M672.5 360.2h0M541.4 347.2h0M734.5 356.6h0M733.9 356.5h0M604.4 348.5h0M144.0 371.2h0M642.1 308.7h0M658.9 412.0h0M790.4 368.2h0M660.2 341.3h0M450.4 203.9h0M387.5 325.9h0M558.8 516.5h0M667.3 414.3h0M665.1 411.6h0M666.4 408.6h0M586.1 387.6h0M762.3 324.8h0M607.1 379.1h0M605.1 381.8h0M152.1 323.6h0M756.4 341.0h0M202.1 346.8h0M465.1 383.2h0M713.8 409.7h0M719.0 410.6h0M784.2 374.5h0M508.6 426.7h0M290.9 354.2h0M609.1 335.8h0M348.0 376.7h0M341.0 295.4h0M682.7 351.1h0M685.6 370.1h0M542.6 360.8h0M598.5 374.5h0M596.0 376.5h0M602.5 376.2h0M366.6 363.5h0M774.9 338.9h0M776.0 390.4h0M714.9 440.2h0M631.3 377.5h0M452.3 325.4h0M765.8 439.0h0M363.0 312.5h0M363.7 312.6h0M767.6 371.6h0M348.1 378.5h0M698.4 342.3h0M639.0 372.9h0M642.0 374.9h0M637.9 373.1h0M420.8 350.2h0M503.9 325.1h0M186.4 363.1h0M188.9 367.4h0M667.9 406.0h0M585.6 311.2h0M301.0 384.6h0M823.6 351.0h0M370.2 444.9h0M461.5 248.7h0M478.3 361.9h0M233.2 435.7h0M446.9 412.3h0M661.8 322.0h0M651.1 369.2h0M728.5 415.2h0M632.3 347.5h0M687.4 395.8h0M532.1 327.2h0M455.8 358.0h0M464.1 361.8h0M574.7 419.7h0M670.7 372.6h0M421.3 362.2h0M750.2 304.0h0M570.7 333.1h0M846.5 362.8h0M850.4 363.7h0M603.0 382.7h0M599.2 380.4h0M553.8 322.8h0M485.5 352.7h0M486.2 348.2h0M489.5 346.9h0M484.6 348.4h0M570.5 362.1h0M573.4 376.8h0M589.5 358.3h0M620.0 365.8h0M616.7 363.5h0M618.1 362.3h0M289.5 380.8h0M292.7 376.2h0M290.1 378.3h0M341.4 325.4h0M444.5 380.6h0M448.8 379.6h0M535.9 346.1h0M773.9 418.1h0M767.4 421.5h0M680.1 359.7h0M815.5 338.7h0M841.7 325.7h0M417.4 349.6h0M428.6 403.0h0M630.3 374.7h0M385.5 504.2h0M574.7 355.1h0M332.2 325.9h0M339.9 298.6h0M681.4 334.5h0M237.8 447.2h0M730.4 399.2h0M731.7 382.3h0M253.7 494.2h0M570.5 298.3h0M605.9 383.8h0M709.3 349.9h0M790.9 306.3h0M620.3 381.8h0M537.6 334.6h0M539.8 330.5h0M421.0 381.1h0M380.8 352.5h0M382.9 368.2h0M487.4 516.9h0M100.1 368.3h0M700.6 474.5h0M738.3 372.8h0M543.1 377.2h0M543.2 376.7h0M158.2 395.1h0M101.5 353.6h0M212.3 365.0h0M215.1 364.1h0M214.9 365.4h0M690.6 301.0h0M241.6 346.2h0M210.0 480.1h0M796.9 373.3h0M669.7 367.3h0M653.0 513.8h0M300.9 371.0h0M216.9 355.2h0M168.2 345.8h0M285.2 365.0h0M286.9 362.9h0M285.1 362.8h0M219.2 349.3h0M214.2 349.0h0M534.6 462.4h0M452.6 337.9h0M446.2 343.9h0M680.7 394.3h0M626.8 352.5h0M635.0 399.4h0M466.1 367.4h0M236.2 325.8h0M514.9 328.9h0M473.4 358.0h0M468.2 356.7h0M472.4 356.8h0M568.0 376.4h0M568.9 373.8h0M202.3 364.0h0M824.4 368.1h0M825.1 365.7h0M824.6 369.0h0M627.2 376.2h0M458.8 488.4h0M366.4 302.7h0M680.6 387.2h0M685.7 409.0h0M361.2 282.7h0M422.1 317.0h0M218.6 402.3h0M556.9 392.8h0M797.8 330.5h0M620.1 331.4h0M182.6 333.3h0M770.1 362.4h0M564.7 339.0h0M623.1 211.7h0M509.8 365.5h0M511.7 370.1h0M415.2 302.9h0M411.8 306.8h0M652.0 380.5h0M370.5 350.1h0M160.1 343.2h0M808.6 394.5h0M140.3 367.6h0M802.4 353.5h0M633.1 373.1h0M630.7 375.0h0M155.4 406.7h0M726.6 383.6h0M731.0 384.4h0M729.1 385.0h0M783.4 374.8h0M628.0 331.9h0M837.8 334.6h0M839.0 333.1h0M694.1 353.0h0M743.4 349.0h0M529.5 318.6h0M223.6 368.1h0M301.2 299.3h0M252.0 355.8h0M540.8 362.8h0M443.5 236.8h0M548.8 364.4h0M671.2 338.0h0M826.5 356.3h0M821.1 355.6h0M679.7 354.0h0M747.4 334.4h0M641.9 357.0h0M641.2 354.4h0M174.4 357.6h0M655.2 348.8h0M799.2 272.6h0M738.6 365.3h0M693.0 341.0h0M718.4 354.6h0M466.3 304.2h0M533.1 355.7h0M111.0 347.7h0M592.6 480.3h0M834.5 368.8h0M644.9 345.5h0M698.0 420.7h0M665.2 344.7h0M637.4 314.6h0M604.2 410.1h0M627.5 348.4h0M755.6 359.7h0M709.3 352.1h0M191.4 396.9h0M481.6 335.0h0M632.1 323.2h0M700.6 353.0h0M703.0 356.7h0M218.2 373.3h0M207.9 364.4h0M616.7 335.5h0M651.6 331.8h0M830.6 382.9h0M668.8 335.0h0M664.8 332.7h0M708.2 441.6h0M630.6 416.9h0M118.2 356.6h0M749.7 360.9h0M745.2 357.7h0M280.0 474.7h0M651.0 371.6h0M655.7 378.9h0M334.0 353.6h0M752.4 359.1h0M637.6 349.7h0M726.0 320.7h0M126.2 374.2h0M718.4 329.6h0M293.5 371.3h0M595.3 468.1h0M656.7 310.1h0M162.3 337.0h0M808.5 375.0h0M809.2 375.9h0M812.4 376.3h0M416.6 385.5h0M418.8 381.6h0M420.2 383.9h0M141.6 279.5h0M591.7 296.7h0M683.4 316.5h0M814.1 399.9h0M539.0 341.5h0M354.5 400.0h0M284.2 412.8h0M262.5 380.7h0M516.6 225.3h0M695.2 364.0h0M648.6 394.1h0M265.2 364.6h0M836.6 341.6h0M607.8 395.9h0M157.2 357.1h0M408.1 339.1h0M623.6 440.1h0M145.2 328.2h0M706.1 400.9h0M654.9 366.4h0M402.5 488.7h0M489.5 382.5h0M687.5 371.6h0M311.2 450.5h0M635.4 345.2h0M631.2 343.0h0M785.2 366.1h0M171.1 363.6h0M678.4 383.0h0M815.8 351.7h0M814.2 348.1h0M196.1 395.5h0M520.5 328.1h0M771.3 300.2h0M422.7 350.1h0M217.7 431.3h0M213.2 432.2h0M213.3 434.3h0M620.4 386.6h0M827.2 401.5h0M798.6 326.1h0M800.0 324.9h0M113.1 381.3h0M413.9 401.9h0M802.5 324.9h0M805.1 324.2h0M756.2 398.3h0M104.9 343.8h0M742.2 357.4h0M740.9 357.8h0M528.3 254.1h0M439.1 416.8h0M441.0 416.3h0M774.7 396.0h0M332.2 518.2h0M133.4 367.6h0M492.0 368.5h0M697.1 305.8h0M280.6 490.1h0M593.6 363.2h0M609.9 340.7h0M289.9 332.1h0M244.9 406.6h0M410.2 405.0h0M342.4 405.5h0M824.6 366.6h0M801.6 365.0h0M718.6 391.0h0M603.8 376.2h0M711.9 350.9h0M409.9 347.0h0M589.9 449.5h0M467.1 410.9h0M734.1 380.7h0M244.5 397.6h0M727.1 216.5h0M583.4 339.0h0M191.0 430.4h0M769.4 435.9h0M814.9 324.2h0M473.5 409.1h0M473.0 408.4h0M555.7 322.6h0M634.5 310.3h0M117.2 353.3h0M555.2 325.5h0M282.8 350.8h0M621.1 360.4h0M336.3 385.1h0M787.0 343.7h0M297.5 380.9h0M573.4 361.4h0M577.0 357.9h0M621.0 407.6h0M620.6 408.5h0M224.3 349.4h0M628.5 322.2h0M170.1 371.8h0M303.9 373.2h0M188.4 305.9h0M268.2 421.4h0M365.8 383.7h0M656.0 425.7h0M834.5 305.0h0M737.2 330.2h0M470.1 418.4h0M508.8 383.3h0M232.5 324.1h0M159.6 375.4h0M798.9 402.1h0M499.8 381.4h0M121.4 387.3h0M524.2 360.2h0M520.6 359.4h0M522.0 359.9h0M103.2 317.1h0M102.9 322.0h0M405.4 327.5h0M765.4 329.3h0M275.5 328.1h0M615.4 359.0h0M116.6 357.4h0M570.8 376.1h0M753.3 346.4h0M639.4 377.6h0M388.3 463.2h0M209.2 380.9h0M727.9 340.8h0M173.7 354.8h0M389.6 349.5h0M387.7 351.7h0M386.6 352.8h0M570.9 398.3h0M710.1 381.2h0M363.6 379.7h0M361.9 379.0h0M361.6 380.2h0M639.4 342.0h0M209.6 384.7h0M357.8 383.3h0M355.7 382.2h0M327.1 384.1h0M166.6 345.8h0M645.8 344.3h0M146.2 380.1h0M747.2 346.4h0M258.4 386.4h0M604.2 525.4h0M509.6 391.1h0M246.0 347.5h0M283.0 339.9h0M622.6 349.5h0M848.9 365.7h0M470.1 462.2h0M345.7 392.0h0M346.1 395.6h0M612.1 306.8h0M675.8 374.9h0M806.6 341.6h0M613.4 383.7h0M739.2 383.0h0M735.5 387.1h0M740.2 383.8h0M195.1 341.9h0M419.0 368.9h0M169.7 336.6h0M172.7 334.8h0M804.4 366.7h0M835.1 412.7h0M384.3 335.9h0M626.6 506.3h0M470.8 283.6h0M638.5 381.0h0M708.1 310.5h0M711.6 308.8h0M739.2 372.8h0M804.5 374.1h0M714.1 345.4h0M193.7 342.9h0M471.3 314.1h0M555.5 335.1h0M557.1 331.9h0M206.6 394.0h0M820.9 315.6h0M799.6 290.5h0M250.6 399.2h0M720.6 352.0h0M308.3 406.5h0M296.7 259.2h0M217.6 399.7h0M694.8 370.6h0M660.9 321.1h0M138.4 286.4h0M658.7 464.1h0M545.6 436.0h0M505.0 369.0h0M624.2 339.6h0M727.3 390.0h0M608.4 381.9h0M718.6 329.2h0M264.6 366.2h0M266.7 366.5h0M667.6 360.7h0M645.1 365.7h0M548.4 390.1h0M760.1 369.9h0M603.7 279.9h0M777.5 405.5h0M805.7 287.0h0M807.6 285.4h0M804.4 288.4h0M805.7 286.3h0M670.2 211.6h0M144.9 403.2h0M143.4 402.2h0M764.6 410.2h0M763.1 411.9h0M611.8 367.7h0M581.8 428.5h0M793.8 347.1h0M495.4 324.7h0M663.3 363.1h0M401.7 306.9h0M567.7 374.6h0M363.4 383.6h0M315.9 365.9h0M510.3 346.3h0M596.1 348.3h0M193.6 332.8h0M226.7 355.5h0M619.7 347.5h0M167.2 408.0h0M665.8 348.2h0M215.3 325.2h0M743.4 280.7h0M564.9 335.6h0M242.5 367.3h0M540.2 336.0h0M246.2 370.3h0M744.8 358.1h0M636.1 387.2h0M635.7 388.6h0M117.7 333.0h0M621.2 360.1h0M704.9 296.4h0M677.5 382.5h0M677.2 379.9h0M605.5 361.3h0M399.9 381.8h0M781.2 392.7h0M605.9 355.8h0M600.2 355.2h0M784.5 326.9h0M633.2 363.6h0M631.6 363.2h0M643.6 519.3h0M446.6 392.4h0M712.7 383.4h0M204.3 354.1h0M199.1 356.2h0M170.2 338.6h0M501.7 356.5h0M789.4 404.2h0M795.2 405.6h0M788.3 404.8h0M369.3 359.5h0M776.8 400.1h0M649.5 390.3h0M380.6 381.2h0M826.2 378.7h0M355.4 397.0h0M813.8 417.3h0M827.5 338.3h0M172.2 382.4h0M326.2 381.8h0M327.8 383.7h0M369.1 385.0h0M200.5 375.7h0M201.2 372.8h0M603.2 373.2h0M535.5 376.0h0M623.7 376.9h0M710.3 402.3h0M713.3 403.3h0M476.2 393.5h0M686.6 388.9h0M647.4 354.0h0M447.2 368.2h0M516.5 418.5h0M621.9 398.9h0M815.8 359.9h0M243.8 360.1h0M367.4 338.8h0M649.0 316.2h0M760.6 374.6h0M545.5 287.6h0M665.3 378.0h0M689.1 365.2h0M689.1 366.2h0M621.1 322.9h0M584.2 192.1h0M784.6 353.0h0M194.1 392.4h0M190.4 390.7h0M614.4 405.4h0M762.8 327.0h0M291.7 357.0h0M651.5 327.4h0M649.1 327.2h0M458.1 341.9h0M458.1 343.4h0M410.0 365.8h0M598.4 377.6h0M689.8 348.1h0M479.8 514.9h0M821.3 366.7h0M640.3 231.2h0M660.9 196.3h0M533.2 398.6h0M453.0 329.6h0M456.3 330.2h0M182.9 345.2h0M738.1 379.1h0M812.6 357.5h0M419.2 423.1h0M656.7 329.2h0M655.8 330.0h0M337.8 401.4h0M694.5 335.6h0M431.3 384.3h0M768.5 349.0h0M618.2 355.1h0M184.0 369.6h0M184.3 371.3h0M279.5 374.1h0M282.4 374.3h0M362.2 419.7h0M799.7 349.7h0M708.9 335.4h0M492.6 401.4h0M166.7 377.3h0M444.7 323.4h0M653.4 318.2h0M673.8 408.9h0M548.3 326.7h0M814.3 334.2h0M497.4 330.8h0M495.2 328.4h0M553.1 303.0h0M556.6 302.6h0M694.0 364.7h0M684.7 337.0h0M478.5 325.5h0M194.4 336.8h0M753.5 332.9h0M764.1 374.8h0M761.7 376.9h0M211.6 363.9h0M689.5 371.3h0M794.7 300.4h0M191.9 366.8h0M710.3 356.1h0M310.0 267.9h0M314.1 383.2h0M646.1 351.2h0M512.9 383.6h0M627.8 314.6h0M629.7 316.4h0M270.8 350.9h0M455.4 385.4h0M307.9 378.6h0M231.5 372.7h0M229.8 376.5h0M358.2 366.5h0M652.7 387.7h0M765.1 405.5h0M311.0 359.2h0M804.9 367.4h0M244.5 380.2h0M244.4 378.6h0M249.5 377.1h0M515.9 384.1h0M806.1 343.4h0M436.3 357.8h0M733.3 362.3h0M734.2 361.9h0M747.0 357.4h0M705.6 240.2h0M733.2 423.5h0M149.0 389.4h0M154.0 389.3h0M561.5 401.6h0M562.0 400.7h0M760.3 421.6h0M758.9 421.3h0M581.0 310.0h0M747.5 319.4h0M168.0 364.3h0M559.4 392.8h0M350.6 362.4h0M636.4 355.3h0M830.3 363.8h0M795.4 356.9h0M502.6 350.3h0M421.8 349.2h0M690.8 303.0h0M436.6 375.0h0M436.1 374.6h0M722.6 413.7h0M595.2 323.6h0M130.2 396.1h0M568.9 302.6h0M572.6 298.8h0M511.8 342.4h0M661.4 374.7h0M609.8 300.1h0M151.6 387.0h0M144.6 389.0h0M790.9 399.1h0M212.8 420.5h0M503.4 357.4h0M662.7 344.3h0M663.9 344.4h0M658.9 342.8h0M661.7 342.9h0M450.6 447.9h0M649.3 372.7h0M307.4 369.8h0M146.2 355.6h0M784.8 305.2h0M620.7 417.5h0M621.6 417.3h0M221.0 463.0h0M827.4 336.9h0M224.8 355.9h0M226.9 356.7h0M528.4 440.1h0M521.1 410.3h0M500.4 296.7h0M497.1 297.3h0M343.6 363.3h0M589.6 323.1h0M346.8 361.3h0M495.7 411.5h0M499.0 412.2h0M240.7 381.3h0M551.8 367.2h0M552.6 365.8h0M627.8 484.8h0M225.6 348.6h0M408.1 372.0h0M274.1 337.2h0M411.7 438.3h0M524.0 297.8h0M688.3 371.0h0M814.7 327.4h0M813.0 329.0h0M814.2 327.1h0M734.7 347.3h0M636.0 378.7h0M719.6 331.7h0M600.9 359.0h0M644.0 367.6h0M724.2 437.3h0M167.2 370.6h0M743.5 401.5h0M164.5 363.4h0M409.2 348.2h0M491.9 414.4h0M210.8 472.3h0M318.6 344.9h0M423.7 348.3h0M297.8 329.9h0M677.1 372.4h0M177.9 405.6h0M311.2 360.4h0M775.4 327.2h0M214.1 416.9h0M425.3 352.9h0M538.7 373.6h0M542.1 350.0h0M112.6 381.0h0M205.0 434.1h0M597.2 358.8h0M616.9 424.2h0M573.1 484.4h0M154.1 302.7h0M704.3 300.6h0M702.9 305.7h0M616.7 365.9h0M781.9 319.4h0M782.0 349.6h0M524.1 343.5h0M526.2 340.2h0M702.7 340.6h0M757.9 377.7h0M617.5 415.2h0M790.3 364.0h0M312.4 393.7h0M460.4 321.7h0M514.6 375.6h0M593.7 379.4h0M598.2 348.8h0M585.0 330.2h0M678.9 367.6h0M679.1 364.6h0M705.2 400.5h0M688.4 374.7h0M679.1 361.0h0M619.3 360.3h0M247.4 351.0h0M712.6 399.2h0M715.0 397.3h0M713.9 391.5h0M451.5 282.7h0M854.0 360.9h0M475.6 201.7h0M819.9 298.0h0M744.0 331.6h0M638.7 367.3h0M617.2 349.5h0M684.9 386.4h0M785.4 383.7h0M606.4 469.1h0M458.4 382.1h0M819.8 400.7h0M689.6 354.4h0M533.8 417.4h0M533.1 417.3h0M536.1 417.9h0M177.3 407.2h0M758.7 428.2h0M583.3 346.6h0M780.2 336.5h0M525.8 317.8h0M215.9 398.0h0M626.8 371.8h0M591.6 300.1h0M755.1 365.0h0M695.0 378.5h0M666.5 371.1h0M224.3 400.3h0M645.9 386.4h0M642.3 388.1h0M639.5 386.9h0M602.5 315.0h0M500.2 356.8h0M506.5 353.9h0M573.8 366.5h0M153.8 311.4h0M483.7 424.7h0M490.3 426.5h0M329.5 404.9h0M327.7 402.3h0M543.2 355.7h0M605.4 417.3h0M194.8 374.2h0M658.0 366.5h0M653.8 360.0h0M818.5 373.5h0M469.9 365.3h0M552.1 418.2h0M169.5 398.7h0M176.1 346.3h0M584.9 374.0h0M734.4 339.0h0M364.9 368.2h0M364.5 369.2h0M468.4 390.1h0M589.8 386.1h0M574.2 379.4h0M772.9 308.7h0M772.9 311.0h0M774.6 310.4h0M777.0 307.2h0M547.9 456.9h0M310.6 430.6h0M309.3 428.2h0M307.9 428.5h0M781.8 397.3h0M691.9 362.3h0M532.1 374.0h0M312.3 371.6h0M107.8 315.7h0M391.4 369.0h0M391.4 365.4h0M625.6 357.3h0M468.4 378.3h0M213.5 328.2h0M219.0 329.4h0M324.6 397.6h0M622.0 384.6h0M540.0 304.9h0M204.0 259.4h0M547.8 349.5h0M641.3 367.2h0M830.8 363.6h0M833.9 363.2h0M408.8 347.3h0M410.8 344.3h0M407.8 348.5h0M238.1 361.3h0M302.4 323.8h0M721.8 406.0h0M713.9 385.5h0M112.3 344.7h0M111.9 345.6h0M611.2 349.5h0M746.0 338.0h0M527.2 383.1h0M528.3 383.7h0M523.1 381.9h0M529.7 380.5h0M526.6 379.7h0M791.1 365.6h0M492.6 359.7h0M604.6 378.5h0M700.8 374.6h0M462.3 424.9h0M711.1 358.4h0M210.3 395.0h0M169.9 345.5h0M173.1 348.3h0M835.6 302.5h0M605.7 386.0h0M608.4 384.4h0M606.6 388.0h0M842.9 384.8h0M534.0 363.5h0M750.4 412.9h0M749.1 414.1h0M211.9 404.0h0M235.1 211.9h0M691.6 306.5h0M551.1 362.3h0M529.8 373.1h0M286.2 343.1h0M702.3 434.0h0M698.6 434.6h0M701.9 429.1h0M703.9 434.9h0M404.1 381.2h0M116.4 330.2h0M784.6 370.7h0M169.8 356.1h0M783.7 308.2h0M781.8 308.5h0M501.2 241.6h0M214.3 336.0h0M350.5 243.3h0M574.1 394.2h0M828.7 382.5h0M367.9 344.2h0M549.1 350.3h0M229.9 301.3h0M277.1 346.8h0M787.5 284.9h0M771.1 340.7h0M779.3 341.0h0M778.7 341.0h0M217.5 360.2h0M723.1 390.6h0M801.5 345.8h0M723.9 365.0h0M718.6 360.6h0M672.4 368.8h0M622.5 341.9h0M95.7 357.7h0M165.1 384.0h0M681.3 374.3h0M639.0 457.5h0M636.7 308.7h0M453.2 224.6h0M278.5 360.3h0M279.6 363.8h0M460.0 353.4h0M612.5 342.7h0M124.0 393.8h0M712.3 366.8h0M708.9 371.3h0M173.1 436.2h0M599.8 358.6h0M819.9 385.5h0M723.1 393.7h0M730.1 393.0h0M727.7 396.3h0M116.8 365.7h0M304.2 420.0h0M468.1 386.8h0M533.9 344.7h0M320.1 433.1h0M766.4 267.1h0M820.4 393.4h0M363.0 394.6h0M181.0 435.0h0M784.2 349.9h0M284.6 369.1h0M750.2 451.7h0M142.7 360.0h0M143.5 358.1h0M680.8 505.6h0M824.0 341.2h0M651.4 338.2h0M597.2 458.8h0M565.3 331.8h0M296.9 342.5h0M602.5 436.3h0M601.5 436.2h0M758.0 337.0h0M636.8 392.6h0M367.1 421.1h0M369.3 424.1h0M748.0 337.3h0M748.0 334.5h0M278.4 402.4h0M404.3 392.4h0M404.7 393.1h0M406.5 391.6h0M452.5 370.9h0M210.4 451.5h0M596.1 319.2h0M596.0 318.6h0M598.8 319.6h0M595.4 317.4h0M791.3 391.8h0M663.2 484.0h0M798.4 333.4h0M707.6 360.2h0M694.7 382.1h0M465.8 387.9h0M747.2 340.6h0M784.5 365.4h0M784.3 366.4h0M676.7 380.2h0M710.4 372.6h0M419.2 539.0h0M751.2 277.2h0M748.0 274.3h0M579.8 384.0h0M481.7 343.3h0M566.0 364.0h0M133.1 368.5h0M128.5 367.3h0M789.1 364.2h0M585.3 340.5h0M648.4 373.8h0M719.4 226.2h0M271.6 382.6h0M478.4 359.0h0M235.8 347.5h0M294.9 353.8h0M654.7 315.8h0M831.7 343.5h0M396.8 367.8h0M157.8 362.5h0M817.6 355.5h0M738.2 377.9h0M741.4 375.4h0M682.6 334.9h0M686.1 338.0h0M684.2 336.3h0M649.0 301.8h0M172.4 328.0h0M397.5 377.0h0M397.7 376.7h0M492.2 289.7h0M529.0 301.2h0M847.8 350.1h0M783.6 349.8h0M779.2 350.5h0M774.3 369.1h0M255.8 374.9h0M253.8 369.5h0M668.4 276.4h0M269.4 342.4h0M271.1 343.7h0M270.7 344.6h0M208.7 376.2h0M363.9 440.4h0M692.3 364.3h0M586.2 404.8h0" stroke="#000" stroke-width="1.6" stroke-linecap="round" fill="none"/>
<path d="M417.9 409.5h0M261.7 346.7h0M145.7 289.1h0M659.7 397.3h0M343.5 425.6h0M628.1 423.7h0M827.6 349.1h0M359.1 283.8h0M101.5 370.0h0M456.5 392.7h0M557.5 344.2h0M481.2 336.8h0M314.1 403.4h0M162.8 396.5h0M199.2 352.8h0M339.7 395.6h0M552.5 360.0h0M553.5 362.3h0M719.6 368.4h0M763.6 366.8h0M726.7 385.1h0M669.9 484.3h0M235.8 352.7h0M552.0 429.8h0M645.0 433.4h0M542.2 317.8h0M671.7 383.3h0M796.1 403.3h0M397.4 272.6h0M222.4 388.2h0M438.7 357.8h0M478.6 346.9h0M295.5 431.5h0M272.5 357.1h0M592.1 434.0h0M594.5 434.5h0M810.5 355.0h0M827.1 362.5h0M218.8 410.7h0M255.6 358.7h0M763.8 346.7h0M765.6 346.8h0M597.3 325.1h0M663.0 391.1h0M685.0 309.1h0M336.9 342.2h0M637.8 336.4h0M631.5 327.4h0M634.2 331.1h0M409.0 411.7h0M283.4 308.2h0M215.6 358.4h0M182.6 377.5h0M256.4 325.0h0M711.1 473.7h0M493.1 430.3h0M232.0 371.3h0M400.0 395.7h0M741.2 377.3h0M248.2 421.6h0M267.9 463.6h0M136.9 357.4h0M136.1 359.8h0M647.5 337.7h0M614.5 463.1h0M434.5 330.8h0M574.4 446.8h0M557.8 353.6h0M259.2 352.8h0M634.5 349.1h0M230.8 443.3h0M494.3 331.4h0M572.0 499.4h0M841.3 352.5h0M334.5 416.8h0M549.2 366.0h0M280.6 394.9h0M750.7 380.4h0M726.9 353.6h0M440.1 408.4h0M434.0 312.9h0M726.5 354.8h0M757.0 349.6h0M642.0 359.4h0M663.8 375.2h0M591.8 351.5h0M389.6 363.9h0M399.0 456.1h0M532.8 466.8h0M824.6 375.4h0M696.4 379.1h0M600.5 355.8h0M111.7 403.3h0M231.5 369.8h0M643.7 377.2h0M165.3 277.6h0M368.0 401.7h0M727.5 340.9h0M515.8 311.8h0M684.7 303.9h0M524.3 326.0h0M692.4 398.2h0M216.1 485.7h0M553.1 409.1h0M852.8 364.1h0M692.2 378.0h0M254.9 506.5h0M529.1 324.6h0M262.6 432.2h0M315.8 376.5h0M543.9 346.0h0M543.3 343.7h0M548.5 346.0h0M262.2 378.4h0M285.6 346.4h0M533.7 340.8h0M717.8 420.1h0M728.8 365.5h0M690.9 315.7h0M374.0 369.6h0M782.1 383.4h0M456.0 347.7h0M613.2 332.8h0M617.0 357.2h0M501.6 397.9h0M499.7 398.3h0M499.7 397.5h0M469.1 353.6h0M176.9 399.2h0M442.9 364.5h0M313.8 297.5h0M706.4 413.0h0M266.6 376.5h0M699.3 392.8h0M563.4 199.3h0M822.7 371.8h0M296.3 404.1h0M738.6 359.8h0M703.8 382.8h0M597.4 449.8h0M709.0 391.7h0M637.2 378.3h0M649.3 354.2h0M301.6 374.3h0M787.6 348.6h0M536.9 346.3h0M234.0 398.3h0M219.6 385.0h0M511.9 535.1h0M375.9 277.7h0M190.4 425.7h0M708.9 335.7h0M695.8 367.3h0M788.5 297.3h0M683.2 368.7h0M680.3 368.5h0M639.6 415.0h0M246.6 419.4h0M517.6 303.4h0M479.6 398.9h0M576.5 358.1h0M302.4 344.3h0M681.7 316.0h0M492.8 350.8h0M674.0 359.7h0M754.2 286.8h0M763.4 297.3h0M801.3 376.4h0M799.0 376.6h0M799.1 374.1h0M183.0 354.2h0M326.5 365.6h0M755.5 355.6h0M552.5 456.2h0M571.4 346.3h0M729.0 357.1h0M605.0 390.7h0M256.2 257.6h0M752.2 355.7h0M748.2 342.4h0M800.1 287.5h0M727.7 388.9h0M346.1 353.8h0M255.1 416.7h0M576.1 378.1h0M784.5 348.4h0M368.8 366.7h0M495.0 418.4h0M414.7 362.6h0M191.6 359.4h0M651.0 440.2h0M728.1 288.4h0M750.0 275.7h0M255.8 373.9h0M306.3 321.4h0M637.6 383.5h0M644.6 380.4h0M415.8 465.7h0M153.9 442.5h0M415.4 360.5h0M745.6 245.7h0M175.7 400.3h0M176.0 398.8h0M834.6 363.4h0M354.6 388.9h0M347.1 384.6h0M506.6 361.1h0M478.8 523.9h0M405.0 291.8h0M613.5 362.5h0M619.4 403.8h0M420.1 375.0h0M679.5 384.0h0M679.3 345.0h0M176.0 439.5h0M673.8 393.0h0M672.6 397.0h0M620.5 370.1h0M426.6 380.1h0M642.5 376.5h0M816.0 341.3h0M675.9 381.3h0M338.2 324.1h0M129.1 328.7h0M436.2 360.8h0M258.8 345.1h0M208.5 425.4h0M441.9 411.8h0M785.2 367.7h0M789.2 367.1h0M815.5 339.5h0M485.6 444.0h0M240.6 378.7h0M167.6 411.5h0M166.4 410.9h0M513.5 388.6h0M817.0 378.1h0M809.7 377.0h0M723.6 469.8h0M258.6 421.0h0M322.7 385.0h0M325.5 386.4h0M789.2 380.2h0M190.6 398.4h0M185.1 395.1h0M506.6 349.6h0M600.2 360.0h0M740.0 398.3h0M704.6 302.6h0M678.4 362.3h0M212.0 365.7h0M334.0 392.0h0M334.3 394.7h0M680.2 368.0h0M415.3 340.3h0M513.2 353.6h0M135.6 401.4h0M540.6 422.6h0M256.5 429.6h0M217.3 352.0h0M608.9 381.2h0M526.7 349.8h0M474.6 318.4h0M387.0 397.9h0M131.4 424.8h0M690.3 493.7h0M152.1 348.5h0M413.4 411.4h0M827.6 308.0h0M248.5 399.3h0M370.4 364.8h0M667.5 274.0h0M318.9 425.4h0M618.9 381.9h0M274.7 385.8h0M276.0 383.4h0M285.7 210.1h0M297.7 418.9h0M631.6 321.8h0M213.6 342.0h0M537.6 359.5h0M765.2 407.1h0M274.2 363.0h0M665.5 422.5h0M665.5 420.8h0M588.8 389.5h0M629.7 338.0h0M635.2 355.8h0M725.5 390.4h0M374.0 356.5h0M308.3 409.9h0M471.6 296.4h0M699.6 266.0h0M721.5 437.3h0M225.5 348.6h0M478.6 427.1h0M783.8 384.6h0M648.7 394.0h0M624.8 360.2h0M756.7 366.0h0M384.1 374.8h0M370.0 441.3h0M778.8 395.4h0M536.5 424.6h0M585.3 413.1h0M760.4 365.3h0M825.9 341.8h0M833.1 341.0h0M830.8 297.8h0M690.7 358.5h0M732.6 345.6h0M707.6 338.5h0M712.6 342.5h0M409.9 324.7h0M360.8 499.8h0M795.8 332.7h0M528.4 347.4h0M485.8 417.0h0M496.8 377.4h0M333.1 293.9h0M383.9 377.4h0M619.8 263.5h0M197.0 356.6h0M594.5 433.3h0M401.0 349.5h0M362.7 286.4h0M298.2 349.3h0M301.1 349.0h0M540.3 358.0h0M407.8 345.4h0M409.4 344.4h0M654.8 428.5h0M604.4 370.7h0M599.2 369.3h0M237.4 369.9h0M772.3 300.6h0M425.4 348.3h0M266.4 340.2h0M618.7 394.3h0M623.6 395.0h0M639.7 276.1h0M635.7 393.1h0M794.7 365.4h0M406.3 453.7h0M141.0 389.3h0M782.6 400.8h0M609.5 396.8h0M202.4 328.1h0M203.3 332.4h0M207.1 330.0h0M535.7 434.9h0M394.5 397.1h0M476.9 341.2h0M592.6 388.1h0M107.1 328.4h0M835.2 399.4h0M213.3 395.4h0M335.1 442.9h0M368.6 308.5h0M612.6 377.7h0M597.8 382.8h0M764.7 364.3h0M471.7 343.7h0M387.8 313.6h0M663.1 370.7h0M789.1 409.6h0M788.0 414.7h0M791.0 361.0h0M492.0 383.1h0M385.2 383.8h0M614.6 378.5h0M776.3 328.8h0M736.2 372.4h0M822.3 325.5h0M715.0 404.2h0M496.5 425.3h0M749.1 288.9h0M698.4 351.9h0M729.7 396.3h0M400.3 324.7h0M520.1 280.9h0M296.1 356.8h0M735.6 326.4h0M541.8 223.0h0M799.7 364.2h0M551.8 366.1h0M825.4 367.7h0M755.6 347.6h0M195.7 353.6h0M495.7 369.0h0M469.6 425.1h0M532.4 332.2h0M640.7 345.7h0M500.9 326.6h0M590.4 350.8h0M682.2 325.8h0M323.6 292.9h0M124.8 347.5h0M601.1 359.3h0M632.1 281.4h0M776.6 357.2h0M659.8 379.2h0M291.4 260.9h0M645.9 356.5h0M724.1 401.6h0M630.3 295.7h0M679.9 368.9h0M818.1 427.2h0M283.4 348.7h0M346.7 399.0h0M705.8 311.9h0M684.7 372.4h0M210.9 397.2h0M326.0 376.4h0M593.7 310.8h0M288.1 514.7h0M408.3 366.4h0M414.4 332.0h0M372.7 351.4h0M377.9 387.2h0M545.0 381.1h0M612.1 351.8h0M818.2 292.7h0M758.0 370.4h0M849.0 355.2h0M732.2 349.6h0M734.6 347.2h0M433.5 177.8h0M393.7 345.6h0M737.9 381.0h0M740.5 377.7h0M336.1 311.3h0M599.0 376.3h0M687.4 366.7h0M178.1 373.5h0M185.4 374.2h0M757.0 358.4h0M757.5 381.6h0M397.1 344.6h0M639.7 310.6h0M347.4 377.1h0M748.4 341.2h0M382.4 387.8h0M610.5 339.9h0M749.9 358.7h0M314.7 383.1h0M599.9 422.6h0M570.1 348.8h0M568.4 347.7h0M237.7 312.1h0M235.2 361.7h0M604.7 329.3h0M347.5 368.9h0M249.3 343.6h0M736.4 243.4h0M377.7 416.0h0M397.6 419.4h0M764.2 304.4h0M451.1 396.0h0M642.4 348.3h0M692.9 350.7h0M613.5 393.8h0M837.3 351.8h0M110.8 376.7h0M813.2 436.0h0M284.9 358.3h0M289.3 357.5h0M681.3 382.3h0M333.6 440.6h0M679.5 370.5h0M251.0 416.2h0M513.4 372.2h0M544.4 317.7h0M565.4 355.4h0M608.0 391.1h0M513.6 385.4h0M456.9 381.6h0M798.4 352.8h0M801.8 353.3h0M808.8 364.1h0M723.3 261.0h0M819.2 406.9h0M822.8 420.6h0M825.4 368.1h0M814.6 337.4h0M700.7 373.2h0M681.2 294.5h0M699.4 299.4h0M737.6 353.2h0M763.4 360.2h0M488.9 298.8h0M696.0 363.1h0M269.3 344.0h0M303.0 398.6h0M353.4 408.2h0M377.7 372.5h0M379.5 373.4h0M289.9 385.0h0M122.9 346.0h0M143.7 356.8h0M647.2 375.5h0M228.7 465.4h0M843.7 381.4h0M818.5 358.3h0M470.7 383.8h0M609.2 496.3h0M282.3 429.2h0M285.6 428.4h0M341.0 440.9h0M698.0 313.8h0M748.6 284.0h0M395.0 379.4h0M397.2 379.5h0M792.3 316.8h0M641.7 192.7h0M838.3 366.1h0M172.1 420.6h0M712.7 341.7h0M604.5 276.3h0M756.6 280.4h0M530.2 274.1h0M620.3 341.9h0M566.2 395.7h0M337.8 451.2h0M307.3 192.1h0M368.7 344.1h0M533.2 430.7h0M710.2 478.8h0M197.5 347.4h0M555.1 320.4h0M646.8 285.1h0M231.1 453.8h0M413.4 364.2h0M319.4 387.7h0M774.8 358.0h0M435.0 286.4h0M803.6 270.0h0M111.8 367.2h0M397.6 383.4h0M297.0 376.7h0M331.6 408.3h0M332.2 407.1h0M645.1 442.8h0M281.3 339.0h0M558.8 402.6h0M623.8 344.3h0M117.5 365.6h0M388.6 332.6h0M752.7 395.0h0M753.1 342.5h0M754.0 334.9h0M544.6 386.8h0M596.3 367.0h0M748.8 474.2h0M651.0 365.3h0M754.4 361.7h0M540.3 444.6h0M828.6 392.6h0M827.7 389.9h0M560.1 311.4h0M634.7 354.9h0M745.1 362.9h0M827.9 303.3h0M652.3 339.1h0M228.7 464.8h0M574.2 365.7h0M577.8 367.0h0M491.1 377.6h0M606.3 229.4h0M773.9 370.6h0M378.9 248.7h0M472.5 376.6h0M470.9 376.5h0M641.7 425.1h0M244.1 436.7h0M439.7 315.3h0M207.8 335.0h0M311.6 358.9h0M259.5 370.2h0M302.6 363.7h0M252.6 288.1h0M522.0 329.2h0M407.3 361.9h0M211.7 383.7h0M746.9 365.6h0M423.7 312.2h0M441.6 321.1h0M443.4 407.5h0M440.3 406.6h0M441.3 407.9h0M586.5 429.1h0M477.3 345.5h0M554.1 360.0h0M588.2 514.3h0M126.5 367.6h0M682.2 352.7h0M699.4 409.2h0M536.1 398.5h0M453.3 313.3h0M550.4 229.0h0M126.2 426.9h0M125.2 425.4h0M603.5 320.1h0M329.3 440.5h0M224.2 430.2h0M310.3 384.1h0M309.2 384.9h0M241.0 366.5h0M634.2 374.5h0M737.0 378.8h0M355.5 359.3h0M361.7 361.8h0M360.5 355.8h0M401.5 402.7h0M616.1 326.7h0M676.6 328.9h0M580.6 333.2h0M305.1 364.3h0M707.9 415.0h0M709.8 415.3h0M459.9 397.8h0M297.9 331.9h0M542.3 369.5h0M826.1 349.3h0M746.7 362.3h0M550.1 371.5h0M689.3 399.0h0M248.6 295.8h0M382.5 388.9h0M381.7 387.4h0M384.8 390.8h0M412.1 376.8h0M409.5 374.7h0M229.6 324.7h0M392.2 442.2h0M405.8 408.0h0M708.6 291.0h0M708.6 292.9h0M372.9 400.2h0M587.1 320.7h0M649.5 341.8h0M697.3 420.6h0M593.8 393.3h0M381.0 301.6h0M615.0 509.8h0M624.0 385.8h0M312.5 367.4h0M170.2 272.3h0M280.8 359.6h0M276.4 359.2h0M369.5 389.1h0M724.4 382.4h0M654.9 350.5h0M644.5 379.4h0M363.7 391.3h0M451.0 363.8h0M214.9 392.4h0M568.4 421.8h0M323.1 390.2h0M771.1 243.7h0M247.5 443.7h0M403.2 268.7h0M495.9 374.0h0M824.3 361.0h0M518.4 365.5h0M682.4 381.6h0M790.2 410.0h0M447.8 256.6h0M532.0 276.7h0M265.8 427.5h0M582.5 360.6h0M747.7 357.5h0M778.1 320.0h0M782.2 321.7h0M504.5 382.8h0M179.6 459.7h0M309.3 331.9h0M676.4 268.7h0M398.3 417.0h0M192.1 288.8h0M745.5 392.0h0M577.7 346.2h0M835.8 353.0h0M725.6 378.6h0M195.8 356.7h0M191.7 355.5h0M542.4 372.5h0M777.8 376.9h0M453.9 525.1h0M405.8 341.3h0M368.2 496.6h0M713.2 362.7h0M786.4 334.2h0M529.8 325.0h0M163.6 373.6h0M675.6 375.2h0M806.7 411.9h0M814.5 412.0h0M821.5 320.5h0M375.3 379.9h0M451.0 420.6h0M772.7 341.0h0M447.6 348.6h0M455.3 348.0h0M450.9 348.1h0M788.7 338.6h0M795.4 350.1h0M322.1 186.7h0M643.5 377.3h0M750.7 268.2h0M802.2 340.3h0M362.7 434.4h0M605.4 360.2h0M609.8 358.9h0M606.9 359.4h0M774.0 295.6h0M481.2 297.1h0M742.3 383.4h0M389.2 411.6h0M609.7 365.0h0M791.4 273.9h0M145.2 371.0h0M355.9 378.0h0M654.2 393.7h0M694.0 359.7h0M428.6 362.1h0M181.3 433.4h0M249.8 242.4h0M522.6 235.2h0M100.2 379.0h0M573.8 391.4h0M163.6 354.1h0M413.6 324.4h0M104.4 371.8h0M153.2 384.7h0M735.4 405.7h0M564.6 333.5h0M556.6 330.2h0M150.9 348.3h0M667.6 383.3h0M321.9 309.9h0M325.8 306.6h0M321.9 308.7h0M336.2 391.3h0M642.2 354.7h0M726.0 361.9h0M728.6 364.1h0M456.5 514.8h0M638.4 379.2h0M556.9 383.8h0M214.4 427.1h0M780.0 418.8h0M421.1 409.1h0M136.9 358.3h0M656.2 350.6h0M505.2 393.2h0M134.7 415.8h0M817.6 327.7h0M819.8 326.3h0M498.9 273.1h0M582.2 316.7h0M503.6 362.9h0M488.7 401.9h0M455.0 406.1h0M521.8 329.9h0M371.2 369.6h0M436.5 438.3h0M161.7 385.0h0M756.2 368.1h0M447.4 176.5h0M584.9 360.3h0M641.9 352.4h0M645.4 357.3h0M654.7 308.5h0M695.6 388.0h0M748.6 463.2h0M500.6 320.0h0M819.6 353.5h0M833.9 393.6h0M577.1 259.4h0M506.1 362.1h0M593.8 384.2h0M361.8 343.8h0M601.8 445.2h0M453.7 412.3h0M452.8 416.0h0M106.8 364.8h0M500.1 392.0h0M374.6 351.8h0M663.8 322.9h0M123.5 380.8h0M774.8 247.4h0M407.5 352.2h0M618.6 411.1h0M316.2 352.5h0M504.4 359.4h0M171.2 358.0h0M678.9 298.0h0M259.2 385.2h0M599.8 324.8h0M332.7 372.7h0M337.2 370.6h0M751.5 378.2h0M752.4 382.8h0M683.7 348.2h0M498.1 372.2h0M161.9 282.9h0M373.6 396.3h0M507.1 381.1h0M471.6 349.6h0M245.5 385.9h0M405.0 425.3h0M376.6 331.7h0M262.2 363.7h0M266.8 367.1h0M171.8 364.5h0M306.8 393.1h0M454.8 342.1h0M624.5 370.3h0M354.4 388.2h0M822.6 336.5h0M130.8 415.8h0M645.6 372.7h0M841.6 394.0h0M208.5 451.4h0M598.9 353.2h0M271.8 401.1h0M233.9 349.0h0M295.3 363.3h0M299.6 367.7h0M140.5 379.3h0M555.9 481.7h0M830.9 343.6h0M335.5 325.6h0M536.2 299.0h0M574.1 414.7h0M537.3 301.3h0M376.9 250.4h0M671.1 369.7h0M785.8 334.0h0M312.3 243.2h0M549.2 321.9h0M213.1 405.9h0M307.2 374.8h0M471.7 388.0h0M277.3 377.6h0M507.5 351.1h0M695.8 431.3h0M220.8 377.8h0M640.6 376.2h0M648.1 349.0h0M748.9 354.4h0M563.9 305.7h0M234.3 374.1h0M684.7 357.1h0M277.7 349.2h0M278.7 349.0h0M598.6 357.4h0M774.8 296.9h0M676.6 358.3h0M108.1 330.7h0M773.1 325.7h0M350.0 424.4h0M346.6 424.0h0M668.5 342.3h0M590.5 221.0h0M511.1 405.7h0M663.9 384.2h0M674.7 423.2h0M236.2 481.6h0M606.4 414.2h0M552.1 521.1h0M728.0 348.5h0M727.3 349.3h0M382.5 457.5h0M360.8 364.8h0M415.6 400.4h0M678.9 366.2h0M835.1 372.5h0M198.6 402.0h0M701.2 364.9h0M437.2 493.3h0M417.4 313.3h0M839.6 330.0h0M748.9 349.4h0M262.5 369.9h0M620.4 369.8h0M438.7 326.7h0M637.2 340.8h0M635.5 339.9h0M652.8 368.7h0M665.3 426.0h0M740.7 399.8h0M744.7 403.3h0M626.1 311.4h0M423.9 488.6h0M432.2 201.9h0M197.2 355.5h0M737.3 340.2h0M772.7 334.7h0M795.0 359.4h0M188.8 355.7h0M831.7 344.8h0M840.0 345.3h0M596.6 379.5h0M427.3 347.9h0M122.5 328.8h0M761.2 337.3h0M798.4 261.7h0M803.5 367.0h0M807.2 394.5h0M397.2 278.8h0M462.2 365.2h0M577.6 352.8h0M513.7 458.8h0M646.8 522.9h0M664.2 380.6h0M825.1 420.4h0M620.1 333.6h0M197.8 230.5h0M562.3 363.5h0M378.6 407.5h0M134.3 360.2h0M171.7 416.3h0M701.2 370.2h0M369.9 212.9h0M391.7 524.9h0M753.2 367.9h0M577.3 358.9h0M574.0 358.8h0M740.6 351.9h0M740.3 348.8h0M252.0 327.8h0M658.5 347.9h0M737.2 346.3h0M551.6 181.7h0M427.2 277.0h0M184.7 359.1h0M647.3 427.8h0M710.0 290.0h0M425.0 388.8h0M535.1 413.4h0M648.9 365.1h0M577.1 309.2h0M562.8 345.0h0M626.1 433.1h0M609.3 360.5h0M802.0 405.4h0M317.3 394.3h0M177.6 406.4h0M516.9 272.5h0M311.7 417.9h0M266.3 371.6h0M699.2 388.3h0M144.0 389.1h0M776.2 369.5h0M636.9 196.3h0M833.7 339.7h0M607.5 373.7h0M652.7 368.6h0M678.6 359.4h0M166.9 396.0h0M401.4 474.6h0M684.0 409.5h0M808.5 439.4h0M168.1 257.4h0M608.1 365.5h0M671.1 362.0h0M574.8 345.7h0M102.3 338.3h0M99.8 339.4h0M786.4 390.0h0M786.5 393.2h0M251.1 364.4h0M219.2 338.5h0M545.7 391.2h0M115.2 379.7h0M296.9 378.3h0M424.2 379.3h0M644.1 333.0h0M624.3 359.2h0M445.4 368.5h0M420.0 422.2h0M254.7 383.8h0M719.9 363.3h0M150.9 359.9h0M492.7 294.5h0M490.1 293.5h0M367.2 366.0h0M588.9 360.6h0M471.3 364.0h0M473.6 363.8h0M830.9 331.6h0M829.9 332.2h0M196.7 356.3h0M639.1 361.0h0M607.2 374.7h0M109.1 314.8h0M788.8 411.8h0M645.6 298.2h0M731.1 356.5h0M692.5 318.2h0M693.7 317.7h0M122.8 379.7h0M301.9 418.0h0M207.7 344.0h0M320.1 241.4h0M408.1 379.7h0M409.2 379.3h0M647.1 391.0h0M781.8 313.9h0M354.3 419.9h0M294.7 384.7h0M590.7 444.0h0M193.9 258.4h0M489.6 325.5h0M627.5 446.3h0M527.8 371.5h0M478.0 383.9h0M480.2 383.3h0M693.4 356.1h0M668.1 316.4h0M327.9 435.4h0M613.0 316.8h0M195.6 366.3h0M375.6 385.8h0M193.2 451.1h0M585.3 357.2h0M585.8 357.0h0M716.6 432.9h0M232.2 350.1h0M342.6 460.4h0M738.8 337.4h0M606.9 319.1h0M150.7 341.5h0M731.7 399.4h0M314.7 366.8h0M255.4 356.0h0M429.8 190.4h0M336.4 309.7h0M674.0 310.1h0M769.1 376.2h0M299.7 509.1h0M672.4 501.1h0M205.2 408.5h0M204.0 384.1h0M668.4 373.0h0M665.2 370.6h0M614.1 343.7h0M648.1 396.2h0M253.1 331.5h0M129.1 415.0h0M452.6 238.1h0M367.7 195.6h0M306.6 324.1h0M799.8 359.6h0M486.3 304.4h0M233.5 418.3h0M286.8 421.7h0M284.6 423.3h0M283.3 422.0h0M285.1 425.4h0M176.0 397.6h0M747.3 257.1h0M739.5 242.1h0M727.0 351.2h0M727.9 350.2h0M630.1 356.9h0M630.8 218.7h0M738.3 365.2h0M323.2 370.4h0M269.0 359.4h0M637.8 287.0h0M101.8 354.2h0M843.4 366.9h0M573.4 310.0h0M407.3 370.2h0M563.4 220.4h0M587.2 185.6h0M172.1 394.8h0M299.5 325.3h0M321.8 319.2h0M320.6 320.8h0M523.9 367.7h0M519.4 368.8h0M844.5 348.8h0M844.2 348.4h0M754.9 427.7h0M171.9 391.7h0M237.1 388.6h0M621.4 384.5h0M589.3 387.5h0M524.6 438.1h0M339.8 370.4h0M279.5 274.2h0M477.4 358.2h0M104.1 343.6h0M405.0 357.0h0M402.9 360.8h0M451.3 327.0h0M362.9 311.3h0M260.2 378.6h0M295.4 382.0h0M590.0 321.4h0M528.9 328.7h0M175.2 352.2h0M827.5 351.2h0M372.3 387.5h0M415.4 406.4h0M500.6 380.0h0M666.7 368.9h0M568.4 335.5h0M447.9 376.1h0M616.7 365.8h0M534.5 343.2h0M676.2 262.8h0M149.4 329.2h0M347.7 214.0h0M421.7 403.7h0M366.4 429.4h0M626.5 504.7h0M721.2 391.3h0M730.1 386.2h0M728.0 389.3h0M606.5 319.4h0M820.1 374.4h0M604.5 354.3h0M269.4 339.1h0M156.8 393.5h0M389.0 474.3h0M466.6 356.9h0M393.4 352.7h0M423.5 171.7h0M113.9 307.5h0M489.9 315.7h0M579.5 302.6h0M715.6 354.6h0M761.2 283.8h0M590.3 331.3h0M398.9 250.6h0M800.4 328.3h0M620.6 329.2h0M580.1 402.3h0M576.2 402.7h0M287.6 240.8h0M692.4 392.7h0M771.4 380.5h0M671.3 364.7h0M839.1 337.2h0M596.4 349.1h0M445.6 335.8h0M400.3 354.0h0M640.5 388.2h0M634.8 308.8h0M239.4 435.8h0M154.8 398.0h0M843.6 349.2h0M594.5 313.7h0M534.9 347.2h0M464.0 305.9h0M514.0 409.6h0M395.2 269.9h0M798.4 362.9h0M225.2 335.6h0M510.9 376.1h0M333.9 345.7h0M403.8 361.5h0M649.4 335.6h0M733.5 340.3h0M670.1 329.3h0M750.3 234.0h0M650.3 372.5h0M670.4 278.2h0M655.0 376.3h0M417.6 383.5h0M425.7 373.1h0M359.4 364.3h0M425.6 395.3h0M366.1 365.6h0M345.9 400.8h0M348.5 399.2h0M669.8 449.4h0M482.2 345.9h0M480.1 349.3h0M343.3 510.7h0M378.8 376.9h0M277.0 402.3h0M217.7 354.8h0M595.5 494.8h0M761.6 360.9h0M174.0 412.1h0M835.6 341.2h0M222.9 341.0h0M406.0 403.9h0M209.5 364.4h0M397.3 182.5h0M315.5 389.0h0M159.7 370.8h0M800.6 322.9h0M796.6 326.4h0M207.2 403.7h0M485.1 480.5h0M741.9 353.4h0M703.4 378.5h0M693.8 334.0h0M331.0 323.9h0M133.9 366.3h0M257.2 340.7h0M490.3 279.0h0M388.5 451.2h0M582.4 362.7h0M464.7 488.9h0M367.2 382.2h0M451.9 345.9h0M302.6 357.4h0M557.0 322.2h0M174.8 366.7h0M474.5 323.7h0M475.7 327.9h0M475.1 324.8h0M624.2 410.1h0M310.1 370.6h0M285.2 399.9h0M632.0 298.5h0M633.4 296.5h0M262.8 248.9h0M361.4 383.2h0M519.9 356.0h0M115.3 358.9h0M504.0 411.2h0M505.4 414.0h0M675.9 360.3h0M178.6 355.9h0M502.0 222.0h0M543.4 195.0h0M477.2 265.8h0M798.4 406.8h0M229.3 362.8h0M104.6 382.0h0M358.4 510.6h0M258.9 353.4h0M536.4 319.6h0M417.4 372.4h0M172.8 333.5h0M692.5 380.2h0M364.0 245.8h0M789.5 315.5h0M736.0 401.2h0M563.8 333.3h0M637.4 427.1h0M456.1 473.7h0M630.2 368.7h0M629.9 343.9h0M566.8 387.6h0M800.7 291.3h0M784.8 311.8h0M247.2 471.9h0M393.8 359.8h0M313.5 359.5h0M188.3 458.1h0M191.8 290.0h0M702.8 386.6h0M292.0 328.3h0M267.1 366.6h0M476.9 479.9h0M630.1 502.2h0M144.7 401.7h0M750.2 377.6h0M289.5 360.1h0M164.8 407.9h0M571.6 409.4h0M641.5 434.5h0M409.3 387.3h0M366.6 374.1h0M559.1 376.3h0M371.7 404.1h0M532.9 334.4h0M740.6 357.6h0M747.8 358.5h0M714.7 361.2h0M752.9 356.0h0M345.9 378.2h0M221.2 221.3h0M602.1 361.6h0M752.1 382.7h0M203.9 224.2h0M587.9 339.3h0M792.5 405.0h0M775.3 397.8h0M835.7 350.2h0M709.8 405.8h0M646.6 377.6h0M510.3 383.8h0M829.7 376.2h0M347.2 373.9h0M348.9 374.9h0M689.3 367.0h0M555.2 375.7h0M194.1 394.9h0M477.8 312.2h0M489.7 416.1h0M174.6 353.5h0M378.6 177.5h0M454.5 405.4h0M622.4 395.9h0M253.5 343.1h0M268.9 296.2h0M356.6 399.4h0M204.4 408.9h0M776.5 355.8h0M337.8 403.3h0M149.4 362.9h0M166.2 373.5h0M761.0 361.6h0M458.2 372.8h0M545.1 325.6h0M649.9 332.4h0M700.4 323.6h0M611.6 356.2h0M123.6 366.8h0M764.9 321.1h0M400.1 311.4h0M206.5 345.4h0M659.2 267.5h0M774.3 362.6h0M699.9 362.3h0M394.0 409.1h0M631.1 313.7h0M148.2 448.3h0M580.3 389.7h0M656.0 384.0h0M671.5 383.2h0M451.7 175.3h0M658.3 276.9h0M333.6 520.5h0M733.7 359.8h0M707.7 478.5h0M735.0 422.5h0M751.6 407.0h0M512.7 379.3h0M335.5 414.1h0M315.6 400.4h0M771.6 372.6h0M758.0 398.8h0M657.2 467.7h0M118.0 388.8h0M649.3 377.6h0M417.5 455.5h0M609.6 337.4h0M168.0 364.6h0M817.3 363.3h0M829.0 364.7h0M833.0 365.2h0M750.5 379.7h0M627.2 240.3h0M128.6 394.9h0M134.5 393.4h0M656.3 440.0h0M158.3 376.9h0M503.9 355.5h0M651.9 371.7h0M618.1 421.0h0M620.8 417.3h0M832.2 332.9h0M705.0 314.3h0M238.8 426.6h0M589.7 327.4h0M287.4 383.8h0M566.5 252.5h0M547.6 368.9h0M230.1 350.1h0M650.6 348.2h0M519.8 355.5h0M406.9 435.9h0M408.7 435.4h0M706.1 357.3h0M368.2 367.0h0M495.4 359.7h0M485.6 359.6h0M613.6 352.3h0M753.0 423.5h0M676.5 374.4h0M676.4 372.5h0M295.0 239.4h0M290.1 365.3h0M482.7 359.7h0M223.0 382.0h0M114.0 380.9h0M596.5 359.0h0M700.2 452.1h0M464.8 363.9h0M452.3 275.8h0M785.9 316.7h0M785.1 348.8h0M526.3 343.6h0M766.7 444.3h0M521.4 316.7h0M293.5 447.2h0M675.4 366.6h0M544.7 337.2h0M533.4 409.7h0M715.5 398.8h0M288.1 413.9h0M765.4 383.4h0M687.2 356.5h0M482.7 280.3h0M268.4 312.5h0M204.0 381.7h0M192.1 372.3h0M170.2 388.8h0M777.8 312.4h0M559.6 346.3h0M782.8 390.7h0M831.1 341.8h0M338.5 310.8h0M547.8 535.2h0M781.9 325.3h0M828.2 368.1h0M411.7 348.3h0M215.0 395.0h0M515.7 531.6h0M578.7 403.5h0M284.3 344.9h0M284.6 344.0h0M786.0 369.1h0M781.7 369.1h0M785.5 366.1h0M167.3 394.3h0M164.8 396.6h0M686.8 369.1h0M191.4 446.5h0M458.1 355.1h0M502.2 372.4h0M650.3 314.1h0M404.0 380.5h0M841.4 309.4h0M720.6 359.3h0M795.5 357.0h0M356.6 337.7h0M678.1 302.9h0M705.9 236.4h0M167.7 431.3h0M825.3 384.2h0M822.3 388.9h0M237.5 385.2h0M307.6 393.4h0M549.9 386.6h0M832.9 320.2h0M215.8 377.8h0M179.8 437.1h0M146.0 357.6h0M805.9 403.6h0M230.6 474.4h0M601.0 435.3h0M448.7 456.8h0M367.7 424.2h0M746.9 338.3h0M279.2 407.8h0M547.5 424.1h0M596.8 357.5h0M728.6 360.4h0M442.0 385.5h0M564.8 368.3h0M578.8 449.0h0M294.7 438.5h0M784.8 362.6h0M400.0 437.0h0M463.1 283.5h0M761.7 379.9h0M201.7 371.8h0M765.9 384.4h0M238.2 344.6h0M590.2 239.8h0M216.9 377.6h0M624.1 381.2h0M491.4 287.8h0M213.5 325.4h0M241.9 415.5h0M434.8 227.4h0M588.3 404.0h0" stroke="#000" stroke-width="1.9" stroke-linecap="round" fill="none"/>
<path d="M154.2 316.6h0M357.6 176.6h0M551.4 377.3h0M323.9 389.5h0M772.1 411.2h0M273.0 346.9h0M516.6 362.0h0M135.9 357.1h0M649.2 367.2h0M300.9 342.5h0M321.8 430.8h0M649.0 336.3h0M786.7 304.7h0M790.6 302.7h0M665.4 370.4h0M673.2 362.9h0M550.6 363.6h0M766.0 313.1h0M487.3 391.6h0M487.1 390.0h0M694.3 348.2h0M764.4 275.1h0M736.0 272.4h0M789.3 340.4h0M788.7 382.7h0M525.7 386.5h0M116.0 399.0h0M779.2 432.8h0M733.5 354.1h0M766.3 356.6h0M591.0 435.9h0M809.5 353.0h0M415.3 250.9h0M785.6 395.8h0M623.2 385.7h0M454.9 167.6h0M451.2 340.4h0M678.2 282.9h0M708.1 460.3h0M183.4 392.3h0M186.7 390.3h0M316.8 367.8h0M534.3 482.4h0M575.5 385.8h0M528.9 327.5h0M232.8 373.1h0M664.4 254.0h0M665.4 349.2h0M659.5 347.6h0M541.2 494.2h0M727.3 367.9h0M726.0 370.0h0M736.8 308.5h0M458.6 271.1h0M180.9 372.5h0M612.0 355.0h0M844.8 366.3h0M491.7 426.1h0M401.9 345.1h0M623.2 372.3h0M620.5 373.0h0M228.6 312.0h0M232.1 310.9h0M655.3 401.0h0M669.7 420.4h0M755.3 366.3h0M135.1 357.6h0M137.7 358.9h0M656.3 377.2h0M368.1 384.7h0M565.2 325.6h0M227.3 267.5h0M178.1 354.8h0M599.0 446.6h0M248.0 370.6h0M245.3 369.2h0M279.2 339.1h0M684.1 334.0h0M792.9 365.2h0M611.6 360.4h0M744.8 320.0h0M784.0 408.4h0M166.8 405.5h0M739.4 308.8h0M669.8 363.6h0M588.1 384.0h0M182.3 475.9h0M114.0 372.1h0M278.9 390.6h0M448.9 376.6h0M441.3 322.0h0M576.6 431.6h0M633.7 403.0h0M713.3 394.5h0M343.0 404.7h0M582.8 310.9h0M257.5 462.1h0M411.3 301.0h0M494.6 345.1h0M493.4 343.1h0M517.6 311.3h0M519.1 309.0h0M207.9 377.0h0M644.0 378.4h0M646.6 377.6h0M303.0 381.7h0M665.2 216.6h0M206.1 333.2h0M526.9 327.4h0M619.1 372.2h0M457.7 338.6h0M264.1 386.2h0M222.3 342.8h0M176.2 362.3h0M612.3 333.2h0M599.8 436.2h0M732.3 372.1h0M734.4 369.2h0M612.7 359.1h0M211.2 363.3h0M166.4 378.2h0M115.8 382.2h0M563.8 324.6h0M706.7 396.5h0M567.7 313.8h0M471.3 344.0h0M178.8 369.4h0M513.6 292.9h0M283.1 423.5h0M645.5 340.3h0M436.4 169.3h0M794.9 377.8h0M571.9 335.4h0M799.2 342.0h0M820.5 329.1h0M487.9 373.8h0M639.5 349.3h0M751.6 326.6h0M186.5 358.5h0M336.2 479.3h0M679.3 369.5h0M559.5 508.2h0M643.7 300.2h0M751.9 381.2h0M752.3 383.3h0M311.2 381.2h0M680.9 358.7h0M655.1 352.2h0M669.8 358.5h0M764.6 299.5h0M188.3 355.0h0M713.4 345.4h0M557.3 344.4h0M254.3 393.4h0M269.0 256.7h0M163.5 377.5h0M753.2 355.5h0M638.7 367.9h0M588.6 317.2h0M781.0 348.0h0M783.9 349.6h0M245.0 373.1h0M690.7 397.9h0M761.3 384.7h0M169.8 363.2h0M743.1 400.0h0M733.8 308.5h0M729.0 396.7h0M495.4 421.2h0M266.7 344.0h0M584.0 344.9h0M586.1 348.0h0M203.3 398.4h0M671.5 370.7h0M666.5 373.0h0M669.6 352.7h0M671.8 350.9h0M481.0 348.5h0M669.8 315.9h0M670.5 357.6h0M728.6 347.3h0M225.8 460.9h0M510.3 373.4h0M166.6 284.8h0M516.4 350.5h0M783.3 289.1h0M787.2 289.3h0M349.0 407.5h0M483.9 357.4h0M233.7 360.1h0M318.4 517.1h0M291.0 468.2h0M665.9 345.5h0M678.5 350.9h0M366.9 366.3h0M371.2 365.3h0M808.0 322.8h0M725.3 374.0h0M519.6 378.4h0M674.6 394.3h0M557.8 396.7h0M837.0 324.2h0M656.2 483.3h0M528.9 408.5h0M686.4 380.1h0M622.6 356.4h0M601.3 354.8h0M426.5 313.1h0M622.0 290.1h0M486.9 338.5h0M141.3 379.6h0M478.5 419.6h0M477.8 421.3h0M676.6 362.3h0M165.6 411.8h0M516.0 387.9h0M815.4 378.0h0M450.1 286.6h0M742.2 274.1h0M634.0 396.0h0M336.9 375.7h0M413.7 531.1h0M693.5 380.9h0M385.5 461.8h0M333.7 391.5h0M658.5 351.2h0M440.1 423.1h0M527.3 349.6h0M530.0 349.7h0M805.5 338.3h0M472.0 320.6h0M488.1 182.3h0M407.6 413.7h0M446.6 236.3h0M361.6 398.3h0M358.9 394.9h0M614.9 244.5h0M728.8 363.6h0M578.6 361.6h0M400.9 342.3h0M312.6 401.4h0M312.7 400.2h0M702.0 357.1h0M695.7 281.5h0M421.0 432.5h0M541.4 374.4h0M298.4 417.1h0M300.8 418.0h0M725.0 379.9h0M626.7 321.5h0M466.2 402.3h0M172.0 463.9h0M494.4 216.2h0M341.9 373.4h0M648.0 373.2h0M806.8 444.0h0M308.8 410.1h0M306.2 413.3h0M398.7 379.1h0M343.8 421.3h0M312.5 371.6h0M317.4 374.5h0M316.0 371.9h0M240.4 354.9h0M232.4 371.9h0M627.9 453.3h0M619.7 363.2h0M366.9 357.9h0M645.8 396.8h0M647.9 396.0h0M459.2 373.6h0M756.7 363.1h0M755.5 366.9h0M660.9 417.1h0M646.6 372.2h0M671.1 244.7h0M823.5 345.1h0M243.5 410.6h0M321.5 364.3h0M297.8 514.4h0M409.4 527.0h0M505.9 323.2h0M695.9 375.9h0M364.3 347.6h0M410.3 321.0h0M811.8 359.5h0M485.3 418.4h0M169.2 367.0h0M471.5 513.7h0M383.3 379.2h0M357.0 407.6h0M569.1 326.6h0M593.0 434.6h0M357.1 322.1h0M735.8 395.5h0M238.1 394.6h0M556.9 464.5h0M602.8 369.6h0M519.6 211.1h0M414.4 380.3h0M762.3 437.6h0M763.2 438.9h0M112.2 334.8h0M420.8 370.8h0M637.9 389.6h0M231.6 459.8h0M479.1 228.1h0M526.2 271.2h0M134.7 392.6h0M265.1 368.4h0M558.6 327.4h0M794.8 364.6h0M643.1 412.9h0M243.7 466.0h0M801.4 392.2h0M380.3 368.9h0M474.6 358.4h0M232.0 349.8h0M302.7 365.7h0M185.9 366.9h0M803.6 342.9h0M149.1 318.4h0M532.2 436.1h0M395.7 400.1h0M395.7 397.2h0M567.2 384.7h0M671.0 308.3h0M331.6 191.8h0M453.8 399.6h0M645.0 297.8h0M625.8 356.4h0M413.4 480.7h0M218.9 394.8h0M414.0 310.3h0M514.2 340.9h0M727.6 344.4h0M638.7 306.2h0M715.4 338.4h0M719.1 335.4h0M717.0 338.4h0M815.8 344.7h0M766.1 359.4h0M771.1 340.0h0M387.7 313.9h0M337.7 279.2h0M145.4 275.5h0M242.9 262.6h0M745.9 352.6h0M765.0 256.4h0M199.5 412.4h0M368.2 321.6h0M756.2 361.6h0M350.5 408.3h0M719.6 332.5h0M781.2 329.6h0M507.5 372.6h0M656.8 237.7h0M161.7 338.9h0M570.8 439.2h0M570.3 339.6h0M170.1 426.4h0M546.6 318.1h0M349.5 332.2h0M315.8 202.7h0M699.7 367.7h0M636.1 517.6h0M596.0 347.3h0M408.0 378.9h0M239.2 367.9h0M634.1 331.4h0M533.3 309.2h0M447.6 411.5h0M808.9 328.4h0M403.5 468.7h0M648.9 361.4h0M507.5 390.0h0M645.3 344.5h0M504.4 329.3h0M613.5 279.1h0M257.8 407.5h0M676.3 321.5h0M120.6 347.8h0M581.6 359.8h0M791.5 444.7h0M778.8 362.6h0M831.8 341.1h0M346.3 414.4h0M595.7 373.0h0M647.3 354.6h0M818.2 433.1h0M591.1 279.4h0M157.0 458.1h0M744.6 344.9h0M268.6 384.1h0M635.2 338.5h0M227.4 362.3h0M844.8 339.6h0M141.3 383.1h0M265.5 334.2h0M387.8 348.7h0M517.1 289.8h0M250.3 342.7h0M412.6 328.2h0M344.9 358.1h0M724.8 358.9h0M550.1 382.7h0M703.5 358.5h0M735.8 380.6h0M264.1 392.2h0M684.0 454.3h0M800.9 370.8h0M359.8 402.9h0M767.9 346.9h0M536.7 422.9h0M738.0 379.1h0M633.4 214.3h0M568.2 409.7h0M432.9 369.2h0M183.1 375.9h0M790.1 396.9h0M746.4 413.6h0M658.8 373.9h0M706.5 347.2h0M623.1 408.5h0M195.3 431.3h0M192.5 434.5h0M690.9 378.3h0M665.5 226.4h0M590.6 354.9h0M316.7 384.4h0M312.9 384.9h0M700.7 365.8h0M593.5 423.7h0M380.6 460.4h0M575.4 375.5h0M204.3 471.2h0M792.9 324.0h0M645.4 351.6h0M231.6 362.9h0M231.9 361.2h0M691.0 280.5h0M382.8 374.1h0M165.8 359.4h0M843.0 321.5h0M839.1 324.3h0M720.7 243.6h0M322.6 408.8h0M500.8 373.0h0M328.1 363.8h0M709.5 376.9h0M229.7 341.2h0M275.2 369.6h0M136.0 395.9h0M303.8 385.5h0M727.6 355.6h0M520.7 397.6h0M750.6 350.5h0M219.3 420.5h0M404.1 171.2h0M241.0 375.9h0M678.2 385.0h0M813.0 343.2h0M408.2 304.8h0M480.4 388.9h0M557.8 476.8h0M617.0 407.2h0M579.9 369.2h0M514.4 337.9h0M257.4 414.8h0M480.6 241.9h0M169.8 416.3h0M330.2 351.9h0M679.5 343.1h0M800.5 356.5h0M423.2 340.2h0M796.8 264.6h0M191.5 376.7h0M563.6 344.1h0M826.0 419.1h0M757.6 347.1h0M676.3 317.1h0M398.0 287.5h0M103.0 319.6h0M669.1 328.0h0M260.8 278.2h0M648.5 382.6h0M490.0 301.8h0M531.2 318.3h0M487.8 314.0h0M317.1 445.9h0M619.0 418.2h0M496.0 318.0h0M769.9 289.3h0M490.1 312.9h0M361.0 296.0h0M479.5 465.3h0M524.8 466.3h0M138.8 359.4h0M498.6 357.6h0M701.8 334.6h0M283.9 378.2h0M649.2 378.3h0M136.2 336.3h0M600.4 448.0h0M382.5 325.6h0M771.2 293.2h0M479.4 373.6h0M487.6 369.7h0M512.4 386.8h0M819.1 359.5h0M506.5 374.9h0M481.7 190.5h0M319.4 377.1h0M530.3 412.2h0M190.3 354.3h0M745.0 357.7h0M353.9 436.9h0M672.1 351.9h0M465.5 338.2h0M695.0 337.2h0M771.6 367.0h0M99.2 340.1h0M464.3 282.7h0M780.6 279.4h0M606.5 193.0h0M777.4 363.8h0M563.6 397.7h0M567.3 398.1h0M696.5 351.7h0M313.6 423.6h0M717.1 216.6h0M359.9 406.3h0M367.7 340.6h0M200.5 303.2h0M448.3 341.0h0M426.1 338.4h0M614.3 372.3h0M293.6 454.4h0M558.3 327.4h0M654.6 506.8h0M779.4 320.1h0M497.4 372.0h0M278.5 426.3h0M472.4 193.6h0M381.4 257.8h0M672.9 360.7h0M754.0 386.5h0M463.3 327.6h0M468.2 332.4h0M298.3 431.7h0M425.8 402.4h0M631.3 377.3h0M204.5 339.2h0M162.9 413.0h0M399.2 346.7h0M755.7 393.5h0M378.6 343.5h0M569.1 381.5h0M421.9 294.1h0M485.8 393.7h0M511.6 342.6h0M240.2 363.2h0M568.3 349.1h0M582.8 343.0h0M769.9 387.8h0M744.9 358.4h0M406.3 345.8h0M715.2 383.9h0M728.8 341.7h0M430.8 384.5h0M433.7 386.4h0M261.1 271.0h0M639.6 334.4h0M724.1 362.0h0M207.6 354.6h0M230.9 389.7h0M201.2 344.9h0M450.6 491.8h0M342.4 266.6h0M269.1 446.8h0M256.5 368.7h0M254.4 366.5h0M253.5 374.8h0M462.0 383.8h0M221.7 370.3h0M571.7 338.2h0M483.5 170.7h0M618.2 365.1h0M743.9 364.9h0M377.9 185.2h0M677.5 396.9h0M662.2 338.6h0M165.1 345.9h0M691.8 408.6h0M182.0 388.5h0M556.9 286.5h0M636.9 379.8h0M631.3 380.5h0M698.5 417.7h0M199.7 268.6h0M127.5 426.1h0M575.5 369.6h0M142.1 376.1h0M143.1 376.6h0M759.7 415.0h0M438.7 227.9h0M733.4 288.8h0M736.7 288.3h0M115.5 414.6h0M802.5 331.3h0M448.6 381.8h0M766.1 332.3h0M213.8 440.1h0M308.1 376.1h0M320.7 183.8h0M295.0 332.4h0M285.7 478.1h0M533.9 306.9h0M833.5 350.0h0M689.5 397.9h0M659.5 351.0h0M658.8 350.0h0M748.7 374.8h0M596.6 429.8h0M553.5 274.0h0M405.8 424.4h0M327.9 336.5h0M756.2 336.5h0M549.8 234.6h0M373.9 400.3h0M301.0 254.3h0M833.4 350.7h0M533.3 436.0h0M600.8 356.5h0M682.9 389.1h0M452.4 363.6h0M355.7 307.1h0M112.4 327.4h0M209.2 460.9h0M663.5 369.8h0M322.6 386.9h0M632.9 386.4h0M151.4 380.5h0M747.8 272.1h0M474.6 360.0h0M98.9 341.8h0M344.7 342.3h0M821.3 364.2h0M824.9 361.0h0M404.5 398.5h0M733.5 346.6h0M809.6 395.5h0M753.0 365.3h0M200.0 306.0h0M411.1 329.4h0M567.4 321.3h0M363.3 374.6h0M597.3 418.7h0M592.3 409.2h0M280.3 364.7h0M216.7 378.4h0M401.6 413.3h0M160.8 334.2h0M779.5 318.6h0M179.8 405.9h0M636.5 371.7h0M474.3 372.2h0M308.5 331.9h0M737.4 337.2h0M362.9 486.3h0M262.6 295.1h0M164.6 361.9h0M700.9 348.5h0M442.6 406.7h0M444.7 407.3h0M137.5 364.9h0M597.5 361.0h0M574.4 391.3h0M194.5 358.2h0M779.2 324.4h0M273.9 214.8h0M144.2 286.0h0M349.6 344.0h0M748.6 422.7h0M724.8 396.6h0M281.7 413.8h0M531.0 526.5h0M268.5 368.2h0M762.2 375.1h0M482.9 447.3h0M284.7 445.7h0M687.6 370.7h0M712.2 252.2h0M182.8 359.9h0M675.5 390.5h0M323.9 315.9h0M715.9 402.7h0M641.8 370.0h0M640.8 373.9h0M608.1 360.0h0M799.3 297.9h0M384.9 411.7h0M609.2 366.9h0M610.5 349.8h0M369.9 347.0h0M611.9 368.3h0M697.1 363.9h0M845.4 383.0h0M743.8 414.0h0M750.7 414.0h0M419.2 372.0h0M418.5 368.4h0M422.6 370.4h0M429.3 374.5h0M427.7 373.3h0M347.7 344.5h0M726.4 360.8h0M438.0 482.5h0M606.4 410.8h0M104.0 380.4h0M131.3 404.5h0M735.9 303.7h0M566.7 422.4h0M729.7 359.4h0M322.5 306.3h0M759.1 369.8h0M239.5 389.9h0M850.4 362.0h0M813.6 271.1h0M489.1 315.9h0M489.6 313.3h0M369.8 422.1h0M141.5 369.6h0M171.5 315.0h0M473.7 263.3h0M340.0 357.5h0M294.6 391.0h0M820.9 330.4h0M163.6 356.2h0M668.8 330.1h0M316.1 454.2h0M161.1 384.7h0M545.3 389.7h0M198.4 342.7h0M592.1 380.1h0M678.1 432.6h0M676.8 355.5h0M583.7 373.6h0M287.7 281.7h0M815.2 352.6h0M156.9 401.5h0M665.1 353.3h0M781.8 382.2h0M827.3 391.9h0M366.2 403.1h0M367.3 404.0h0M171.7 336.5h0M171.2 334.0h0M754.7 319.6h0M601.9 377.4h0M832.4 394.4h0M831.7 391.2h0M738.7 354.3h0M560.9 393.6h0M703.7 375.2h0M497.1 307.3h0M373.7 512.5h0M584.5 353.5h0M362.3 345.4h0M299.3 412.9h0M755.1 341.9h0M502.5 392.7h0M728.6 442.5h0M662.7 325.8h0M795.1 362.7h0M795.2 324.3h0M618.9 406.6h0M462.2 519.6h0M366.7 308.8h0M366.5 306.4h0M286.9 364.0h0M800.7 320.7h0M752.3 421.8h0M676.2 357.8h0M296.6 336.8h0M625.7 330.6h0M568.3 317.1h0M739.1 315.2h0M712.5 352.9h0M232.6 362.3h0M721.1 379.7h0M137.0 366.0h0M307.6 394.1h0M304.7 393.2h0M459.0 386.1h0M389.4 502.1h0M168.8 339.4h0M625.0 369.6h0M600.3 227.8h0M355.6 387.9h0M358.7 390.6h0M430.1 375.6h0M629.4 370.1h0M599.7 353.0h0M672.8 487.6h0M810.6 361.6h0M686.0 359.3h0M271.9 401.9h0M593.3 382.9h0M805.5 387.7h0M796.8 333.5h0M477.4 287.2h0M238.0 365.8h0M830.7 355.3h0M274.7 380.5h0M345.5 392.5h0M298.5 334.6h0M113.3 381.6h0M745.6 337.3h0M495.9 287.6h0M812.5 270.8h0M607.9 341.7h0M487.3 441.4h0M576.0 361.4h0M579.0 358.1h0M190.9 432.2h0M489.1 355.7h0M628.5 421.2h0M677.7 358.8h0M777.3 455.9h0M728.0 430.1h0M670.5 452.2h0M182.1 293.0h0M554.2 418.1h0M375.6 342.8h0M508.8 337.9h0M427.2 491.6h0M515.8 308.5h0M609.5 343.8h0M204.6 368.2h0M640.3 325.4h0M281.2 367.1h0M117.4 340.4h0M559.3 315.7h0M616.6 211.0h0M676.2 367.5h0M639.2 382.6h0M742.1 362.7h0M336.6 408.6h0M717.2 370.9h0M701.4 359.5h0M500.0 355.6h0M604.8 378.2h0M614.6 310.4h0M411.9 374.2h0M687.9 412.6h0M197.4 403.9h0M290.0 295.5h0M477.9 419.2h0M800.4 437.9h0M212.4 349.5h0M217.5 316.8h0M418.7 313.4h0M736.0 402.6h0M735.5 405.4h0M849.1 352.4h0M595.4 345.5h0M635.0 347.2h0M456.2 348.4h0M393.0 362.8h0M627.7 347.4h0M661.6 505.2h0M215.2 385.4h0M696.0 371.7h0M711.3 370.7h0M738.3 371.2h0M738.3 369.6h0M605.4 384.7h0M226.0 398.9h0M822.7 348.4h0M326.8 383.0h0M530.2 309.2h0M289.3 252.9h0M330.5 375.4h0M317.5 356.4h0M721.2 404.3h0M298.1 342.2h0M325.6 312.1h0M520.3 371.1h0M341.9 382.6h0M531.9 340.9h0M378.3 350.6h0M384.9 348.4h0M758.2 367.8h0M721.0 284.0h0M284.4 308.4h0M496.5 402.4h0M577.2 327.6h0M592.0 374.8h0M403.9 365.7h0M193.9 381.3h0M795.8 389.8h0M727.7 308.1h0M647.1 198.8h0M212.2 451.4h0M618.7 363.6h0M763.5 243.0h0M772.3 370.6h0M230.5 358.6h0M724.6 352.9h0M157.3 373.9h0M535.6 211.9h0M139.3 364.0h0M353.8 384.2h0M656.0 374.4h0M651.8 370.6h0M275.5 383.9h0M232.6 424.3h0M638.9 367.8h0M738.8 355.3h0M608.3 358.5h0M192.4 418.6h0M113.1 311.3h0M472.1 301.2h0M336.2 257.2h0M775.3 274.2h0M381.4 368.8h0M383.5 370.1h0M246.3 447.5h0M759.2 286.2h0M466.3 377.1h0M510.3 437.2h0M575.0 310.5h0M574.2 309.9h0M576.4 311.9h0M388.3 269.9h0M516.0 372.1h0M803.5 368.1h0M609.9 359.5h0M244.9 365.5h0M194.4 342.6h0M106.7 353.9h0M104.6 353.4h0M677.9 363.5h0M761.2 322.6h0M761.2 325.1h0M760.1 323.9h0M241.2 227.8h0M313.6 417.7h0M630.6 366.5h0M440.0 408.5h0M274.3 459.9h0M580.9 249.8h0M164.4 338.3h0M328.0 195.1h0M849.6 346.6h0M313.0 357.2h0M614.5 377.3h0M211.8 346.0h0M428.8 332.4h0M576.9 345.5h0M99.7 336.2h0M655.1 357.0h0M145.3 332.4h0M145.6 331.0h0M711.6 373.9h0M711.5 370.6h0M250.3 365.7h0M668.4 514.6h0M438.9 352.6h0M436.8 353.6h0M143.2 319.0h0M207.2 376.2h0M707.8 334.4h0M313.1 448.4h0M456.8 365.9h0M299.9 420.1h0M537.8 300.8h0M186.9 360.9h0M382.5 392.9h0M487.7 542.2h0M721.0 362.2h0M489.9 292.1h0M745.0 359.0h0M725.3 280.7h0M625.2 195.9h0M481.4 424.6h0M662.1 333.3h0M744.6 359.0h0M818.0 363.4h0M776.6 363.3h0M293.1 382.8h0M586.0 513.5h0M673.0 363.1h0M276.0 347.9h0M684.3 403.0h0M559.6 270.8h0M301.1 317.7h0M309.2 364.9h0M277.0 440.9h0M669.4 375.6h0M711.1 372.2h0M374.7 503.3h0M733.4 348.2h0M510.3 328.8h0M479.0 358.4h0M688.7 367.5h0M224.9 330.4h0M846.9 330.9h0M295.1 384.4h0M696.1 382.8h0M487.7 327.0h0M526.9 208.6h0M731.0 434.6h0M479.6 384.0h0M332.3 436.7h0M550.4 394.1h0M191.1 478.6h0M831.5 375.2h0M626.5 340.6h0M615.5 398.0h0M495.6 337.9h0M563.1 366.5h0M444.3 370.9h0M795.0 333.5h0M252.4 358.9h0M254.7 354.9h0M258.4 364.6h0M487.2 366.4h0M680.7 313.4h0M805.3 309.7h0M806.8 310.5h0M801.5 310.7h0M713.3 365.4h0M231.5 388.5h0M150.3 345.5h0M801.8 304.6h0M669.7 458.3h0M671.0 371.8h0M665.6 373.3h0M639.9 363.8h0M678.6 355.3h0M120.2 375.4h0M120.7 379.1h0M311.3 343.3h0M465.4 306.9h0M273.1 366.4h0M631.8 372.4h0M209.7 362.0h0M360.1 516.9h0M366.4 376.1h0M288.0 391.9h0M296.2 344.4h0M268.6 338.8h0M617.2 362.9h0M485.8 306.6h0M726.0 350.6h0M230.1 388.4h0M177.6 354.6h0M737.8 367.4h0M640.1 376.1h0M794.8 303.6h0M676.7 381.9h0M305.8 298.9h0M290.6 330.5h0M500.9 297.5h0M743.0 372.6h0M408.0 397.7h0M700.8 382.3h0M644.5 359.9h0M576.1 278.6h0M577.8 512.7h0M482.8 234.7h0M170.2 391.4h0M821.4 402.1h0M518.1 311.8h0M374.1 428.7h0M817.2 311.9h0M607.3 379.5h0M286.8 384.3h0M409.2 271.9h0M610.6 335.6h0M605.3 336.8h0M312.1 475.7h0M804.6 366.0h0M261.0 300.5h0M687.0 376.1h0M819.0 343.7h0M504.8 324.3h0M510.5 325.1h0M674.4 407.4h0M769.2 453.4h0M352.4 311.5h0M605.7 354.7h0M592.9 350.0h0M486.5 351.9h0M615.8 378.4h0M289.4 378.3h0M738.9 310.0h0M686.8 318.2h0M169.3 357.0h0M728.9 387.5h0M186.6 403.6h0M188.8 365.7h0M819.5 388.2h0M448.4 374.2h0M835.0 326.9h0M420.6 384.0h0M200.7 384.4h0M145.9 336.0h0M822.2 374.6h0M736.7 372.3h0M592.4 385.0h0M159.0 395.1h0M218.1 349.4h0M215.8 353.9h0M347.5 405.5h0M834.6 360.1h0M721.5 412.8h0M840.8 367.6h0M619.4 331.7h0M566.1 387.6h0M597.0 358.6h0M512.9 367.3h0M464.8 241.5h0M312.4 397.6h0M371.6 352.1h0M144.7 374.3h0M680.8 293.8h0M662.5 386.8h0M257.3 353.8h0M627.3 311.4h0M687.2 231.7h0M820.3 358.0h0M821.0 349.2h0M358.6 477.4h0M619.0 336.4h0M642.1 506.2h0M720.8 448.7h0M463.8 305.5h0M766.7 357.0h0M316.6 360.1h0M823.3 350.8h0M789.4 389.4h0M795.2 301.1h0M428.1 436.5h0M167.1 359.4h0M160.8 339.4h0M702.1 355.6h0M118.0 333.6h0M539.7 335.2h0M469.2 533.9h0M344.2 385.0h0M647.5 374.6h0M573.5 423.4h0M635.9 346.5h0M353.9 362.0h0M357.4 360.5h0M762.4 387.3h0M772.5 387.7h0M447.6 514.2h0M148.8 329.4h0M840.9 374.2h0M534.0 356.3h0M631.9 345.8h0M586.2 428.2h0M218.9 354.1h0M225.3 253.7h0M223.9 339.5h0M596.7 309.3h0M604.5 347.9h0M270.4 382.7h0M515.4 362.0h0M160.6 368.9h0M507.0 307.5h0M803.6 320.0h0M663.6 447.8h0M572.4 405.9h0M509.7 311.8h0M511.5 311.8h0M405.2 441.2h0M557.1 506.0h0M572.4 347.6h0M264.4 362.4h0M701.3 305.9h0M584.8 359.9h0M344.1 408.3h0M734.7 387.2h0M608.0 369.2h0M319.0 353.3h0M475.9 324.0h0M596.2 390.4h0M372.1 372.7h0M270.8 418.1h0M268.7 417.3h0M268.3 421.3h0M649.0 354.8h0M800.8 401.7h0M541.1 494.3h0M806.5 398.2h0M805.1 374.7h0M115.6 357.9h0M502.3 416.1h0M689.9 250.6h0M676.0 340.0h0M233.3 394.3h0M745.8 290.9h0M758.7 364.4h0M353.1 439.7h0M763.3 368.9h0M541.8 320.3h0M744.7 346.0h0M346.3 395.2h0M626.7 419.5h0M716.5 357.4h0M591.1 346.6h0M804.6 369.5h0M215.1 437.2h0M211.1 438.5h0M206.1 346.6h0M329.7 276.9h0M560.8 391.8h0M626.5 383.6h0M569.1 353.4h0M714.1 346.1h0M714.8 344.1h0M636.8 407.9h0M413.9 410.7h0M797.5 293.6h0M847.9 331.3h0M252.5 350.5h0M192.5 361.7h0M101.7 383.4h0M614.5 364.6h0M829.6 379.4h0M827.2 381.3h0M829.0 380.7h0M694.1 349.9h0M669.8 289.1h0M633.7 221.0h0M578.1 370.5h0M719.1 359.6h0M290.1 223.8h0M163.3 411.5h0M671.7 344.1h0M212.8 324.6h0M213.7 326.8h0M363.8 373.9h0M243.7 394.6h0M312.7 438.6h0M535.1 373.5h0M746.3 355.3h0M631.0 386.2h0M573.1 363.3h0M632.3 367.3h0M768.6 381.1h0M763.6 381.8h0M480.6 333.4h0M479.8 335.1h0M786.8 406.0h0M659.4 362.3h0M244.7 405.4h0M237.5 405.7h0M195.4 441.7h0M711.0 407.2h0M456.4 311.4h0M612.4 325.3h0M732.3 413.5h0M255.6 377.5h0M746.3 353.1h0M523.7 419.2h0M228.7 341.5h0M550.7 284.0h0M546.1 289.6h0M327.9 388.1h0M688.4 361.3h0M689.5 366.2h0M690.7 366.0h0M612.1 395.1h0M306.4 354.5h0M458.4 341.5h0M139.6 361.0h0M778.8 358.6h0M656.9 328.9h0M674.2 389.3h0M341.1 399.0h0M774.3 347.4h0M774.8 347.9h0M774.1 347.4h0M443.3 412.0h0M183.9 368.7h0M203.7 442.3h0M738.0 250.5h0M161.9 372.2h0M372.5 175.2h0M761.7 360.0h0M250.2 448.1h0M604.0 368.6h0M137.1 354.5h0M205.0 367.4h0M185.8 361.8h0M566.8 334.9h0M828.9 287.6h0M378.1 518.3h0M563.1 346.0h0M692.1 312.0h0M628.3 301.6h0M537.1 521.7h0M543.6 380.7h0M626.0 403.9h0M160.7 398.4h0M476.0 376.7h0M733.6 362.5h0M744.6 358.2h0M336.6 342.0h0M510.6 379.4h0M567.1 401.4h0M305.5 375.2h0M226.2 310.1h0M635.6 349.1h0M174.3 354.6h0M291.0 387.5h0M579.9 311.9h0M687.9 364.7h0M598.0 273.0h0M299.1 260.7h0M740.0 342.9h0M576.9 301.5h0M826.0 371.5h0M504.0 358.8h0M502.0 359.3h0M647.4 310.4h0M702.4 357.8h0M707.7 315.4h0M498.3 298.9h0M467.2 264.4h0M229.8 402.0h0M485.0 327.3h0M486.5 326.1h0M483.0 327.8h0M276.7 339.4h0M626.7 324.0h0M610.7 369.8h0M274.7 363.2h0M495.9 359.6h0M243.1 339.9h0M730.0 392.2h0M205.2 440.9h0M595.5 359.7h0M181.4 375.1h0M780.8 347.7h0M189.3 295.3h0M500.9 353.5h0M702.4 375.7h0M839.8 390.4h0M676.7 365.8h0M705.1 405.5h0M688.2 370.2h0M255.3 350.2h0M716.0 393.2h0M714.1 393.9h0M817.8 349.4h0M530.8 414.8h0M276.7 392.0h0M668.7 343.6h0M486.1 320.1h0M758.4 361.4h0M510.5 357.3h0M485.6 428.9h0M639.3 453.0h0M629.4 396.7h0M581.0 371.4h0M586.1 375.6h0M733.4 335.0h0M752.1 474.3h0M540.0 306.7h0M554.7 353.2h0M238.7 209.5h0M692.7 269.1h0M493.2 358.1h0M256.5 442.3h0M182.0 423.5h0M460.2 422.3h0M210.2 397.9h0M603.1 386.6h0M223.6 244.6h0M453.7 327.1h0M716.6 353.1h0M533.4 375.0h0M535.3 371.8h0M780.3 306.4h0M741.7 392.2h0M240.4 405.3h0M669.3 320.9h0M644.2 324.1h0M358.9 395.9h0M124.1 339.0h0M790.4 284.2h0M435.4 200.8h0M721.2 360.8h0M441.0 170.2h0M672.1 364.0h0M218.9 394.2h0M628.6 482.2h0M249.1 355.4h0M612.3 348.0h0M167.7 379.5h0M395.0 324.1h0M637.1 337.8h0M98.8 373.1h0M730.6 396.7h0M206.1 380.7h0M670.6 375.2h0M316.5 431.8h0M221.6 375.6h0M182.1 438.7h0M641.6 367.7h0M671.7 471.1h0M601.7 437.8h0M745.8 335.7h0M280.9 410.9h0M490.8 408.6h0M631.0 423.3h0M427.9 353.4h0M462.7 340.8h0M159.9 328.8h0M570.2 362.9h0M273.1 385.8h0M788.7 318.5h0M237.8 346.9h0M362.8 333.3h0M680.6 352.4h0M736.5 379.2h0M389.1 359.2h0M728.9 354.5h0M495.5 287.7h0M380.0 395.3h0M303.2 505.5h0M204.2 380.5h0M205.4 379.1h0M766.9 369.3h0" stroke="#000" stroke-width="2.2" stroke-linecap="round" fill="none"/>
<path d="M753.5 352.8h0M747.0 355.2h0M455.5 326.1h0M718.6 440.7h0M717.7 441.6h0M326.8 389.4h0M533.6 189.7h0M478.7 348.5h0M270.8 351.7h0M638.5 309.4h0M201.4 353.4h0M502.2 260.1h0M617.9 352.7h0M655.4 366.9h0M828.9 294.0h0M771.5 385.1h0M649.8 337.0h0M480.2 337.5h0M555.5 340.4h0M553.5 340.2h0M768.9 365.1h0M660.8 370.1h0M662.6 368.9h0M579.5 389.4h0M636.6 378.7h0M707.7 413.7h0M303.1 363.9h0M351.3 328.6h0M802.0 419.3h0M489.0 289.8h0M336.2 320.3h0M737.6 401.4h0M527.2 342.7h0M812.5 348.2h0M816.6 355.6h0M242.8 434.0h0M539.5 411.2h0M447.5 260.1h0M403.6 371.5h0M624.5 385.5h0M623.5 387.8h0M759.7 346.5h0M594.5 320.9h0M312.2 367.5h0M539.3 375.9h0M648.5 424.3h0M814.9 411.9h0M732.8 309.9h0M532.2 311.0h0M608.6 352.0h0M722.5 268.6h0M434.1 483.5h0M494.0 425.6h0M376.9 362.3h0M576.2 340.4h0M228.7 313.2h0M234.0 315.3h0M491.8 538.5h0M569.8 294.4h0M418.7 391.7h0M584.8 326.1h0M778.7 381.0h0M218.7 461.4h0M813.9 398.3h0M133.0 343.7h0M284.7 372.3h0M575.9 280.1h0M538.0 353.0h0M245.9 370.9h0M245.0 373.2h0M356.3 383.8h0M352.8 384.8h0M354.3 383.5h0M309.8 445.1h0M549.0 413.8h0M611.6 361.8h0M666.7 341.6h0M283.6 380.3h0M754.6 358.1h0M843.8 351.2h0M406.2 355.3h0M591.8 353.4h0M452.6 364.0h0M113.7 371.2h0M458.4 344.3h0M174.0 365.2h0M629.2 361.8h0M447.6 380.1h0M756.2 349.9h0M545.9 298.4h0M758.9 347.7h0M311.7 321.3h0M575.8 433.6h0M680.6 378.0h0M708.2 396.2h0M352.6 287.8h0M349.4 421.2h0M600.3 491.8h0M414.7 305.4h0M725.2 347.2h0M464.7 364.9h0M268.0 412.2h0M321.8 359.4h0M687.4 362.4h0M228.5 371.8h0M485.3 353.0h0M642.8 377.0h0M843.0 358.3h0M643.3 316.8h0M658.5 379.7h0M824.3 383.9h0M698.4 416.6h0M445.9 369.4h0M521.8 402.0h0M658.8 359.2h0M592.0 369.9h0M624.3 519.6h0M817.0 352.6h0M563.7 325.9h0M737.3 375.9h0M327.2 423.6h0M792.1 292.7h0M235.1 355.6h0M536.3 409.1h0M477.7 305.4h0M448.9 359.5h0M851.5 357.2h0M849.1 360.2h0M230.7 401.0h0M269.6 375.6h0M808.0 361.8h0M807.2 361.1h0M560.4 324.0h0M708.8 363.3h0M434.4 384.9h0M531.0 363.7h0M533.7 391.4h0M696.1 378.9h0M167.7 278.6h0M557.6 293.6h0M231.9 318.4h0M289.0 284.9h0M246.7 487.6h0M230.1 257.1h0M191.0 426.0h0M190.5 423.2h0M674.2 310.6h0M669.2 307.1h0M542.1 173.0h0M694.1 444.8h0M406.4 372.1h0M698.7 368.7h0M471.7 357.3h0M245.9 338.1h0M774.5 273.7h0M554.6 307.4h0M486.8 439.3h0M728.7 310.0h0M300.8 343.6h0M305.0 343.4h0M581.5 285.1h0M783.0 386.7h0M655.6 309.3h0M748.3 355.9h0M212.5 304.9h0M183.8 350.0h0M334.5 322.5h0M605.0 391.2h0M603.6 389.2h0M356.7 225.3h0M208.1 385.0h0M205.5 383.9h0M754.0 354.4h0M753.9 350.9h0M637.9 346.9h0M573.5 366.4h0M710.8 340.8h0M255.4 414.4h0M255.4 374.5h0M172.8 370.2h0M717.3 361.4h0M294.7 276.9h0M764.4 298.1h0M766.5 403.8h0M546.2 359.0h0M730.4 289.3h0M710.7 359.6h0M672.2 349.8h0M839.4 378.0h0M763.8 400.1h0M346.2 369.2h0M687.4 354.0h0M685.5 358.8h0M670.8 315.0h0M684.6 381.4h0M605.1 322.6h0M179.8 425.0h0M614.4 409.3h0M409.2 399.2h0M374.6 395.9h0M587.1 351.9h0M687.1 368.6h0M673.3 428.0h0M675.5 426.4h0M674.1 430.3h0M320.2 387.2h0M162.9 351.1h0M325.3 413.3h0M248.6 405.1h0M703.6 311.4h0M585.8 297.8h0M359.3 383.6h0M107.4 341.4h0M106.8 340.6h0M668.2 343.1h0M583.6 479.1h0M426.0 408.3h0M741.4 363.6h0M282.7 405.0h0M500.4 347.6h0M288.8 372.1h0M695.3 351.2h0M235.9 360.7h0M601.1 356.4h0M606.4 355.0h0M259.6 394.8h0M325.5 370.9h0M290.2 405.3h0M291.2 409.4h0M565.0 276.3h0M142.0 415.8h0M352.5 298.9h0M442.8 369.7h0M789.2 360.9h0M246.5 395.6h0M742.4 273.4h0M742.3 273.8h0M646.6 434.7h0M640.6 352.4h0M707.6 432.8h0M104.9 352.5h0M105.3 354.9h0M140.7 428.2h0M594.7 373.7h0M280.2 373.6h0M666.1 345.9h0M668.7 346.4h0M674.5 360.7h0M528.2 293.7h0M280.1 444.2h0M180.6 379.2h0M572.0 344.5h0M574.8 343.1h0M661.2 353.0h0M537.4 423.0h0M620.3 329.3h0M690.2 357.5h0M497.3 541.4h0M673.3 404.7h0M503.2 411.3h0M571.4 262.3h0M390.1 346.9h0M206.2 298.2h0M498.1 288.7h0M439.6 343.3h0M461.6 397.9h0M401.7 359.1h0M669.1 270.8h0M500.1 170.7h0M269.1 461.1h0M724.2 374.2h0M528.9 507.1h0M540.3 374.2h0M271.8 382.5h0M273.5 384.9h0M631.9 321.8h0M244.6 364.9h0M757.1 398.3h0M729.3 384.9h0M735.8 377.4h0M770.3 463.3h0M629.9 374.7h0M705.0 358.9h0M365.9 388.8h0M235.9 358.4h0M240.6 358.1h0M174.9 393.4h0M694.8 349.8h0M423.5 230.6h0M833.2 314.3h0M759.0 363.6h0M355.0 529.6h0M260.0 332.4h0M291.3 385.3h0M803.7 317.6h0M798.8 343.0h0M835.6 357.0h0M757.7 365.7h0M500.2 374.1h0M389.7 406.1h0M501.0 340.1h0M140.3 369.2h0M635.8 385.0h0M427.8 212.5h0M733.5 366.7h0M734.4 347.4h0M846.3 380.6h0M706.9 263.6h0M293.0 434.9h0M531.9 353.1h0M442.6 417.0h0M191.1 321.5h0M553.4 363.1h0M742.2 257.7h0M627.8 365.5h0M697.3 398.5h0M383.5 372.5h0M522.2 328.4h0M460.5 421.6h0M593.3 433.6h0M598.7 365.1h0M202.6 281.8h0M475.6 362.5h0M513.6 203.8h0M168.7 430.4h0M315.5 367.5h0M350.1 363.3h0M374.7 285.2h0M516.9 439.1h0M854.1 355.6h0M391.7 285.9h0M420.6 368.9h0M352.8 409.0h0M144.0 428.9h0M657.6 358.8h0M579.8 358.7h0M624.7 393.6h0M801.5 389.6h0M382.0 366.2h0M688.3 407.8h0M556.9 409.3h0M284.0 393.6h0M701.9 460.5h0M675.6 328.8h0M511.7 398.9h0M376.3 375.4h0M491.6 367.2h0M700.0 424.9h0M456.4 398.7h0M684.3 408.5h0M228.0 309.1h0M664.8 414.6h0M805.9 365.7h0M217.0 397.5h0M216.8 392.1h0M474.7 334.9h0M686.6 359.3h0M818.3 345.5h0M723.3 444.9h0M771.2 362.3h0M754.1 270.5h0M607.4 361.4h0M389.2 314.6h0M314.9 469.0h0M220.7 380.8h0M611.3 265.5h0M502.3 221.9h0M315.7 418.1h0M522.6 362.2h0M418.6 348.8h0M778.3 327.6h0M543.9 340.1h0M245.8 341.0h0M819.6 327.6h0M752.9 293.0h0M747.7 291.0h0M765.2 370.2h0M551.6 323.6h0M784.2 359.8h0M393.0 368.9h0M675.4 372.8h0M269.6 352.8h0M360.2 529.2h0M825.2 336.3h0M757.5 348.7h0M599.0 398.3h0M562.5 426.4h0M631.2 261.9h0M672.3 320.4h0M176.8 334.2h0M572.9 363.5h0M700.7 365.7h0M659.6 363.6h0M246.9 363.0h0M425.4 381.7h0M563.7 524.3h0M841.7 338.5h0M767.5 344.7h0M802.5 313.7h0M625.7 520.1h0M498.0 375.1h0M276.3 389.6h0M596.5 465.4h0M701.0 302.7h0M489.0 390.8h0M622.9 371.6h0M705.2 254.6h0M348.1 328.8h0M416.4 331.9h0M702.6 359.8h0M758.4 345.0h0M660.3 310.6h0M194.2 375.6h0M814.0 292.3h0M713.4 246.8h0M698.3 359.7h0M536.3 420.4h0M284.9 256.1h0M797.5 341.6h0M728.8 302.4h0M287.8 411.5h0M494.9 444.5h0M643.1 210.8h0M752.1 470.9h0M192.8 435.2h0M704.5 224.5h0M529.2 291.3h0M599.9 423.7h0M760.5 382.6h0M374.5 292.3h0M602.4 327.7h0M579.3 378.5h0M692.5 379.3h0M491.1 300.9h0M269.7 227.8h0M437.3 439.7h0M791.8 371.5h0M398.4 423.6h0M296.0 356.7h0M565.5 372.2h0M498.0 375.5h0M698.8 369.3h0M119.3 375.3h0M780.4 365.0h0M577.6 330.2h0M196.4 419.8h0M265.9 411.8h0M617.0 397.0h0M304.2 387.8h0M708.2 364.3h0M817.9 361.5h0M674.6 383.5h0M678.3 384.6h0M700.4 418.2h0M540.6 352.0h0M195.7 375.9h0M420.6 361.2h0M307.3 382.7h0M535.3 343.3h0M422.3 403.1h0M232.6 389.6h0M584.7 337.9h0M802.2 352.3h0M160.4 307.1h0M692.4 377.4h0M222.5 370.2h0M335.1 426.3h0M851.6 357.0h0M641.4 266.6h0M212.6 382.8h0M772.9 360.7h0M538.6 442.1h0M680.2 371.9h0M680.3 407.7h0M464.9 361.0h0M467.6 368.7h0M696.4 371.6h0M403.5 371.2h0M575.3 376.8h0M154.1 364.7h0M801.7 417.1h0M334.7 373.3h0M545.8 393.0h0M682.7 257.4h0M443.1 459.9h0M204.1 367.5h0M306.2 349.3h0M789.2 376.9h0M609.7 375.6h0M716.8 306.9h0M524.5 309.7h0M234.9 293.6h0M504.6 379.2h0M707.6 349.3h0M707.8 371.2h0M395.8 490.3h0M720.2 352.6h0M363.9 260.2h0M750.5 355.5h0M403.2 367.1h0M395.1 379.3h0M714.8 355.6h0M583.8 390.4h0M299.7 340.3h0M688.8 385.9h0M788.8 328.2h0M380.2 438.2h0M648.3 352.1h0M647.3 349.9h0M276.4 412.8h0M615.0 205.6h0M464.0 381.5h0M259.3 428.1h0M257.6 346.9h0M421.5 336.7h0M439.4 389.1h0M599.3 306.4h0M279.6 373.0h0M183.5 447.7h0M671.0 362.9h0M668.0 362.2h0M176.5 379.7h0M176.8 377.8h0M698.7 345.1h0M352.8 442.0h0M450.2 355.5h0M533.3 411.2h0M686.6 287.4h0M445.9 373.2h0M591.5 377.4h0M669.4 381.8h0M835.5 374.3h0M437.4 284.2h0M667.7 436.4h0M274.4 370.0h0M283.1 371.1h0M513.6 371.2h0M129.8 347.7h0M828.7 392.5h0M519.0 309.6h0M833.1 315.7h0M829.5 317.4h0M835.6 317.9h0M572.9 355.4h0M619.4 404.9h0M384.3 374.5h0M785.7 346.7h0M837.0 302.4h0M660.7 390.3h0M743.5 336.0h0M190.3 345.2h0M222.3 360.3h0M574.1 366.8h0M273.0 373.0h0M668.3 391.1h0M736.2 417.6h0M705.3 381.3h0M742.4 387.2h0M690.1 361.3h0M677.1 331.1h0M642.5 358.3h0M307.2 357.1h0M450.5 366.4h0M241.1 320.3h0M546.5 269.7h0M353.5 461.4h0M771.3 350.1h0M145.5 350.2h0M102.7 379.9h0M304.9 224.7h0M375.1 331.8h0M625.2 367.4h0M439.5 405.5h0M640.4 247.4h0M734.5 372.1h0M595.0 315.0h0M505.6 395.1h0M504.2 391.6h0M695.3 414.3h0M453.8 318.8h0M453.4 385.1h0M654.6 317.6h0M241.1 434.8h0M481.2 332.8h0M140.8 377.8h0M457.1 323.7h0M726.0 358.8h0M589.2 297.5h0M780.1 338.9h0M382.6 396.1h0M448.2 384.7h0M134.3 370.9h0M611.9 293.1h0M619.4 333.2h0M565.1 387.0h0M527.8 343.0h0M252.4 357.0h0M369.1 370.4h0M486.8 381.2h0M345.0 380.3h0M330.2 351.3h0M278.6 476.5h0M329.4 336.9h0M324.6 263.8h0M569.2 347.3h0M740.9 391.6h0M579.2 356.5h0M561.4 394.9h0M706.3 451.0h0M168.8 407.9h0M264.9 456.5h0M524.8 427.6h0M417.0 455.1h0M305.1 354.1h0M451.8 366.7h0M405.2 462.2h0M809.2 387.4h0M182.0 277.7h0M661.2 367.2h0M529.3 332.2h0M241.2 316.8h0M533.1 405.6h0M227.2 352.7h0M326.7 393.8h0M359.6 461.7h0M394.4 389.8h0M682.8 363.5h0M806.5 291.4h0M741.4 352.9h0M621.7 183.1h0M821.3 405.7h0M357.2 296.1h0M307.7 350.0h0M551.1 476.0h0M191.8 325.1h0M659.1 361.0h0M553.5 304.6h0M806.4 341.6h0M192.9 395.5h0M510.5 378.6h0M107.7 350.4h0M311.4 376.8h0M511.9 367.8h0M640.5 392.5h0M701.5 350.8h0M699.3 349.7h0M380.1 285.4h0M709.7 343.9h0M389.7 391.8h0M201.2 385.9h0M746.3 362.6h0M756.1 398.5h0M689.2 203.9h0M495.7 284.0h0M780.4 377.1h0M626.7 338.0h0M234.4 460.1h0M758.0 427.2h0M333.7 321.6h0M699.9 289.5h0M797.0 328.3h0M595.1 368.0h0M272.4 406.0h0M560.4 364.2h0M221.8 383.7h0M225.5 382.8h0M847.2 370.1h0M579.4 372.7h0M668.8 367.0h0M599.9 381.6h0M278.0 326.8h0M134.6 297.1h0M781.8 372.6h0M522.0 389.3h0M724.6 349.6h0M606.8 365.7h0M796.4 352.9h0M530.6 380.6h0M435.8 370.6h0M640.1 427.2h0M642.8 369.3h0M275.2 458.9h0M365.3 434.2h0M608.4 359.2h0M645.3 488.0h0M678.4 379.1h0M376.0 349.3h0M304.3 471.3h0M710.4 460.9h0M760.6 339.1h0M648.5 365.6h0M699.9 280.1h0M428.1 372.6h0M429.6 373.7h0M732.6 375.3h0M141.5 417.8h0M108.9 307.5h0M514.5 181.9h0M204.1 372.5h0M702.5 391.3h0M622.5 255.1h0M95.9 371.4h0M763.7 311.6h0M767.2 315.1h0M602.5 407.0h0M560.8 331.1h0M769.0 379.6h0M297.1 350.2h0M768.7 374.8h0M651.1 371.1h0M640.7 349.5h0M640.9 349.7h0M727.1 363.8h0M696.5 363.1h0M140.3 354.5h0M135.7 356.8h0M137.5 361.7h0M671.2 341.3h0M759.4 379.1h0M834.1 337.8h0M605.4 399.5h0M636.6 356.4h0M761.3 358.5h0M163.8 343.3h0M746.7 370.3h0M692.3 323.6h0M660.5 386.4h0M657.7 385.4h0M215.7 408.2h0M307.2 382.5h0M578.5 374.6h0M628.4 500.4h0M271.3 405.5h0M734.8 262.6h0M403.4 294.6h0M796.2 318.6h0M799.3 321.2h0M588.1 404.7h0M614.1 406.3h0M790.4 267.6h0M490.8 421.4h0M134.1 360.6h0M598.1 361.8h0M164.8 334.5h0M272.6 316.0h0M629.1 367.0h0M278.1 276.8h0M207.2 294.6h0M784.2 381.6h0M538.5 403.5h0M820.0 283.9h0M772.1 277.3h0M595.5 240.9h0M229.7 393.3h0M701.8 464.0h0M642.3 317.7h0M343.9 352.8h0M154.1 390.0h0M196.3 358.0h0M412.3 360.9h0M811.1 357.6h0M792.2 363.9h0M414.4 369.4h0M708.4 328.5h0M411.2 448.9h0M354.6 412.4h0M337.0 370.5h0M353.8 410.4h0M676.5 360.5h0M295.7 357.7h0M238.9 378.2h0M695.9 344.8h0M377.3 394.9h0M675.6 369.9h0M674.7 374.6h0M538.8 371.0h0M492.9 356.0h0M823.1 324.2h0M116.3 380.7h0M115.8 381.3h0M268.7 363.4h0M561.6 441.4h0M426.9 168.8h0M547.6 359.8h0M608.2 437.9h0M454.0 386.6h0M510.6 330.6h0M415.4 374.3h0M624.8 368.1h0M845.3 346.2h0M579.6 411.3h0M406.5 443.8h0M629.1 374.6h0M266.4 203.0h0M711.5 387.8h0M276.8 405.8h0M293.8 365.7h0M145.0 424.1h0M295.2 402.2h0M732.1 339.1h0M236.9 367.5h0M236.6 367.0h0M790.9 401.5h0M727.6 341.1h0M276.0 379.0h0M273.3 380.2h0M524.1 346.7h0M361.2 397.0h0M851.5 372.0h0M117.5 378.0h0M646.9 350.3h0M601.2 342.4h0M563.0 307.4h0M115.5 297.5h0M808.7 414.0h0M276.8 342.8h0M707.2 336.3h0M791.2 362.0h0M692.9 368.8h0M192.8 480.4h0M386.5 513.7h0M243.4 254.6h0M718.7 375.7h0M320.7 457.1h0M560.0 430.3h0M184.4 419.5h0M501.3 367.7h0M229.2 395.1h0M503.7 244.7h0M794.7 376.0h0M674.4 357.1h0M673.0 358.8h0M668.1 356.6h0M166.9 380.6h0M509.2 312.1h0M117.9 339.6h0M204.9 402.8h0M821.1 312.2h0M635.8 379.1h0M215.6 402.0h0M166.9 445.4h0M308.1 464.7h0M645.6 355.0h0M624.8 440.0h0M436.7 331.7h0M697.3 388.7h0M583.6 346.8h0M747.5 377.6h0M832.7 402.6h0M527.9 466.5h0M173.3 394.0h0M738.9 407.3h0M748.5 350.8h0M672.2 363.9h0M678.4 431.9h0M178.2 427.6h0M276.3 378.6h0M193.9 371.7h0M617.9 371.1h0M623.6 369.0h0M224.2 353.6h0M298.7 422.0h0M429.0 351.2h0M245.9 370.5h0M634.0 339.2h0M603.8 389.0h0M551.2 417.8h0M667.2 421.3h0M804.1 387.1h0M675.3 336.6h0M837.1 365.1h0M705.8 363.4h0M288.7 380.5h0M763.8 259.8h0M734.6 338.9h0M645.3 372.6h0M316.5 265.7h0M690.3 346.0h0M370.1 272.7h0M534.0 384.9h0M117.8 372.0h0M575.5 399.5h0M335.9 474.0h0M140.3 419.3h0M769.5 388.5h0M183.5 377.5h0M286.9 308.0h0M574.3 187.4h0M434.2 365.9h0M558.1 426.3h0M662.2 358.2h0M362.3 432.3h0M449.2 466.5h0M604.6 439.1h0M410.3 344.1h0M760.1 386.9h0M403.9 366.5h0M395.2 404.9h0M539.8 321.8h0M727.9 329.4h0M711.3 269.4h0M573.8 410.6h0M799.9 351.5h0M372.2 383.7h0M180.4 387.4h0M542.2 379.2h0M701.7 330.2h0M377.8 536.1h0M503.8 408.5h0M429.5 405.6h0M273.7 382.1h0M514.4 368.7h0M576.3 361.1h0M739.9 352.3h0M186.3 418.7h0M189.9 421.1h0M642.7 506.1h0M682.2 351.7h0M576.5 391.8h0M540.5 500.8h0M543.0 326.5h0M641.0 244.9h0M839.2 390.0h0M160.6 446.1h0M647.1 342.9h0M645.3 343.0h0M350.1 404.3h0M476.4 266.1h0M324.1 338.5h0M184.2 457.4h0M187.7 358.4h0M738.2 322.4h0M804.8 381.8h0M730.7 332.3h0M424.8 384.9h0M576.4 254.3h0M522.3 367.2h0M167.6 369.7h0M209.1 453.3h0M769.6 395.8h0M353.3 345.7h0M313.5 455.0h0M648.1 359.1h0M761.4 324.6h0M177.0 378.0h0M230.1 367.9h0M230.0 365.8h0M337.7 361.8h0M760.7 420.1h0M492.3 202.2h0M636.5 280.6h0M534.3 368.9h0M278.5 398.4h0M741.3 375.8h0M681.6 207.9h0M585.7 340.7h0M583.9 291.4h0M211.5 374.1h0M739.6 362.8h0M378.3 182.4h0M325.7 423.9h0M321.8 383.3h0M147.9 340.0h0M352.6 346.7h0M536.8 373.0h0M186.4 366.0h0M393.6 276.1h0M273.7 368.3h0M610.6 439.0h0M419.0 420.0h0M716.3 384.4h0M490.6 292.3h0M724.3 283.9h0M368.8 364.8h0M324.3 446.4h0M658.1 333.1h0M353.2 510.5h0M742.3 361.2h0M540.9 360.8h0M479.7 367.2h0M574.3 368.9h0M112.5 378.4h0M253.1 488.7h0M729.2 396.0h0M586.7 320.4h0M729.4 408.4h0M721.7 348.7h0M781.8 317.8h0M782.1 410.7h0M594.5 385.6h0M305.0 341.2h0M354.2 331.9h0M403.9 314.8h0M203.0 410.1h0M261.5 362.7h0M688.9 366.5h0M320.3 409.8h0M301.0 405.3h0M442.5 427.1h0M442.7 429.7h0M644.8 387.6h0M382.3 395.9h0M483.7 328.1h0M520.2 369.8h0M197.0 340.5h0M418.5 399.4h0M649.1 345.4h0M628.6 342.5h0M341.7 323.5h0M838.3 362.7h0M732.6 383.0h0M149.8 276.0h0M714.3 364.3h0M470.8 392.6h0M388.1 326.5h0M803.6 302.5h0M534.2 343.5h0M633.8 337.0h0M388.9 534.4h0M604.0 402.4h0M606.2 342.7h0M514.7 453.3h0M168.2 336.0h0M542.3 344.1h0M206.6 365.6h0M540.2 346.7h0M626.4 399.5h0M461.5 374.5h0M680.5 368.1h0M629.5 340.8h0M486.3 301.8h0M211.9 371.1h0M753.7 346.6h0M804.3 356.1h0M162.2 361.6h0M173.5 350.8h0M151.2 334.3h0M620.4 353.5h0M316.8 400.5h0M526.5 367.2h0M814.2 330.0h0M104.5 352.3h0M407.0 370.9h0M688.6 390.3h0M696.9 383.9h0M745.8 367.1h0M590.2 379.8h0M483.5 391.4h0M814.3 368.3h0M813.1 366.8h0M813.9 365.7h0M658.0 311.2h0M749.5 377.1h0M621.1 324.6h0M369.4 295.2h0M644.8 364.6h0M204.8 389.2h0M204.5 387.8h0M387.4 321.3h0M638.1 356.5h0M240.7 423.2h0M668.7 414.1h0M687.1 380.7h0M419.3 268.7h0M699.6 370.5h0M589.4 384.4h0M775.5 404.3h0M761.4 341.0h0M610.5 337.9h0M683.9 371.6h0M688.5 370.5h0M107.8 340.9h0M720.3 383.4h0M710.7 442.4h0M694.4 340.7h0M530.2 327.1h0M530.0 325.6h0M190.1 364.7h0M825.4 349.2h0M144.4 317.8h0M845.5 358.9h0M663.8 322.2h0M647.5 423.4h0M526.1 465.6h0M603.5 359.6h0M597.0 220.8h0M574.3 332.9h0M678.0 312.8h0M480.1 280.7h0M478.5 355.6h0M323.8 361.1h0M572.8 454.6h0M410.3 350.4h0M716.4 380.1h0M631.1 374.9h0M589.7 313.9h0M728.1 397.8h0M731.2 399.8h0M728.1 400.4h0M566.8 294.5h0M707.3 355.8h0M225.2 354.0h0M446.0 365.6h0M495.6 367.8h0M609.4 353.2h0M264.1 392.4h0M668.0 203.6h0M343.8 406.4h0M810.7 344.6h0M762.8 283.2h0M251.9 438.4h0M784.6 278.7h0M393.5 413.9h0M799.9 329.3h0M373.9 296.6h0M765.7 363.2h0M144.8 421.2h0M738.2 389.8h0M372.1 349.8h0M561.3 204.8h0M766.1 434.8h0M668.9 398.6h0M328.6 277.7h0M631.4 372.6h0M559.0 323.0h0M835.8 331.1h0M702.7 437.7h0M587.1 182.3h0M660.1 384.7h0M316.0 248.7h0M693.9 476.8h0M760.3 393.6h0M628.2 375.9h0M501.4 333.2h0M840.1 349.1h0M568.2 189.9h0M644.3 352.4h0M714.7 353.0h0M643.5 348.5h0M315.5 360.4h0M600.0 445.3h0M508.0 438.6h0M354.2 331.8h0M750.3 391.3h0M733.8 406.5h0M648.7 331.7h0M535.2 332.5h0M149.8 398.0h0M224.1 367.4h0M637.6 348.4h0M414.9 370.5h0M617.4 232.1h0M533.3 351.4h0M482.2 349.0h0M687.7 371.8h0M241.3 432.6h0M215.4 357.4h0M171.0 363.2h0M662.8 345.3h0M757.5 297.4h0M758.2 344.7h0M650.1 371.1h0M406.7 460.7h0M703.2 379.1h0M831.7 377.7h0M802.7 378.0h0M510.0 314.1h0M506.8 313.5h0M698.0 450.9h0M628.4 405.7h0M292.4 336.7h0M745.1 321.2h0M583.0 362.2h0M138.5 356.6h0M240.4 324.3h0M509.8 216.0h0M194.1 302.4h0M466.0 501.4h0M783.4 370.5h0M506.0 332.4h0M780.6 303.5h0M197.0 429.3h0M557.9 321.7h0M320.7 355.2h0M397.2 446.4h0M235.4 323.2h0M235.9 327.7h0M580.5 367.6h0M292.9 414.8h0M175.4 356.3h0M284.8 368.0h0M358.2 383.0h0M673.1 342.6h0M330.2 382.6h0M137.4 415.7h0M185.9 435.5h0M793.2 453.7h0M462.4 510.9h0M663.4 472.5h0M343.7 397.9h0M277.7 382.6h0M606.7 382.2h0M326.8 343.7h0M807.2 367.0h0M438.2 380.8h0M294.4 415.7h0M837.5 347.2h0M692.4 434.6h0M636.6 426.5h0M690.8 367.9h0M720.3 373.3h0M384.2 509.0h0M805.1 388.0h0M706.3 350.2h0M489.2 320.8h0M486.2 383.6h0M161.7 379.0h0M641.6 435.3h0M639.6 434.5h0M446.9 281.2h0M341.1 402.3h0M602.3 338.6h0M679.4 384.4h0M779.8 330.9h0M748.9 382.3h0M640.7 446.1h0M769.4 397.9h0M656.2 269.6h0M775.2 399.4h0M833.7 353.2h0M769.9 395.5h0M380.5 383.2h0M648.8 354.2h0M408.0 312.1h0M821.9 359.7h0M632.7 392.2h0M595.1 399.6h0M546.7 287.3h0M330.0 393.2h0M761.3 323.6h0M537.2 333.1h0M765.2 349.9h0M474.8 422.7h0M152.8 391.9h0M735.3 444.6h0M302.1 362.6h0M433.1 342.5h0M766.3 367.2h0M284.7 372.4h0M705.6 373.5h0M403.1 456.0h0M105.6 348.8h0M490.7 336.6h0M548.1 306.6h0M314.5 365.4h0M341.6 409.6h0M340.4 409.0h0M189.1 360.1h0M198.6 377.0h0M443.1 374.3h0M406.5 349.0h0M503.5 190.5h0M230.2 377.4h0M813.0 376.4h0M670.7 369.0h0M393.6 432.6h0M768.5 472.1h0M337.3 343.6h0M148.7 389.6h0M623.4 381.8h0M405.9 267.2h0M562.9 404.5h0M130.1 371.4h0M761.6 419.6h0M761.3 420.3h0M489.3 379.0h0M196.3 322.1h0M416.4 386.6h0M415.3 386.7h0M832.5 362.9h0M291.0 375.4h0M412.3 355.7h0M432.5 375.4h0M508.5 341.2h0M586.3 361.8h0M504.0 356.6h0M662.1 342.5h0M658.2 342.5h0M328.1 325.7h0M705.8 336.2h0M227.9 358.2h0M494.1 299.3h0M659.3 362.1h0M554.7 369.5h0M484.0 329.2h0M276.0 341.4h0M406.8 434.4h0M706.1 345.0h0M364.4 354.0h0M604.1 463.5h0M686.7 367.4h0M493.3 360.9h0M608.4 372.9h0M160.8 362.9h0M742.6 447.5h0M783.9 309.8h0M740.3 357.4h0M746.3 430.8h0M214.8 414.8h0M213.1 415.4h0M181.9 245.2h0M200.0 441.6h0M782.6 348.3h0M782.8 346.0h0M525.9 341.6h0M699.0 338.5h0M622.9 417.1h0M703.5 374.0h0M833.1 395.7h0M598.2 400.0h0M643.0 383.5h0M655.7 377.6h0M685.6 370.9h0M752.3 308.5h0M785.4 401.7h0M416.8 514.8h0M656.4 460.0h0M444.5 333.6h0M176.8 408.7h0M283.9 464.7h0M629.2 373.6h0M274.6 354.5h0M758.5 363.7h0M512.3 346.7h0M697.4 377.2h0M596.6 315.8h0M328.1 405.2h0M603.6 418.3h0M735.9 338.1h0M355.4 371.5h0M786.3 392.2h0M407.0 331.4h0M682.8 356.9h0M217.6 330.3h0M492.4 219.0h0M541.2 305.8h0M552.0 352.0h0M648.6 358.0h0M649.1 374.8h0M411.4 495.4h0M306.4 324.2h0M495.2 356.8h0M301.2 305.6h0M179.8 422.1h0M182.8 421.7h0M520.6 382.0h0M461.6 425.5h0M747.0 359.1h0M209.3 473.1h0M531.5 367.9h0M785.6 369.9h0M171.2 396.7h0M393.0 373.9h0M215.6 357.7h0M438.6 363.6h0M225.7 379.8h0M431.3 481.7h0M519.7 426.0h0M781.2 354.5h0M586.0 298.9h0M441.2 431.4h0M619.9 416.0h0M237.6 385.0h0M472.3 386.4h0M467.3 381.4h0M217.5 376.9h0M182.9 435.2h0M181.6 437.8h0M736.9 424.7h0M786.8 351.6h0M251.8 461.7h0M793.3 323.4h0M580.0 530.9h0M155.2 362.8h0M354.0 280.8h0M350.0 414.6h0M601.9 437.4h0M637.2 396.3h0M661.3 400.2h0M206.4 266.7h0M239.5 339.5h0M412.5 528.2h0M549.5 427.8h0M327.6 377.5h0M162.0 327.4h0M597.0 241.5h0M383.6 362.5h0M784.2 365.8h0M268.3 370.5h0M203.1 364.5h0M669.5 285.5h0M684.7 380.5h0M443.3 362.2h0M735.7 379.5h0M652.1 298.4h0M395.4 376.9h0M622.2 367.0h0M338.9 217.9h0M627.6 367.8h0M631.2 365.3h0M846.0 350.3h0M783.1 347.6h0M256.9 372.5h0M465.1 276.4h0M701.4 471.9h0M517.9 312.2h0M691.9 383.2h0M711.9 368.3h0M635.1 364.9h0M587.8 408.5h0M588.6 407.0h0" stroke="#000" stroke-width="2.5" stroke-linecap="round" fill="none"/>
<path d="M156.4 318.1h0M261.7 340.0h0M202.4 397.9h0M127.6 407.2h0M201.5 350.7h0M170.9 444.1h0M474.7 343.8h0M598.3 369.2h0M566.2 329.4h0M661.1 367.9h0M390.4 430.6h0M389.0 432.2h0M304.1 365.0h0M504.5 380.3h0M572.2 429.9h0M590.1 411.1h0M777.0 431.1h0M235.0 294.1h0M294.3 224.2h0M816.6 330.3h0M702.9 272.3h0M396.2 383.6h0M108.8 371.7h0M343.4 333.7h0M614.9 355.9h0M230.7 370.1h0M733.4 329.8h0M354.9 356.2h0M566.6 380.4h0M131.0 424.7h0M340.3 407.9h0M736.0 408.2h0M419.5 389.8h0M478.6 429.3h0M477.7 433.7h0M218.1 366.7h0M190.7 405.2h0M232.9 456.3h0M437.8 430.8h0M721.5 329.2h0M721.8 325.8h0M633.9 366.9h0M166.4 398.8h0M390.9 301.7h0M358.4 524.8h0M489.9 376.0h0M748.9 364.5h0M517.8 530.2h0M364.4 384.1h0M456.2 349.4h0M383.3 238.6h0M598.8 353.9h0M257.6 304.3h0M230.5 346.8h0M250.4 427.9h0M744.8 354.5h0M546.6 242.1h0M795.3 438.8h0M693.4 403.9h0M780.0 372.9h0M216.2 293.7h0M543.9 343.8h0M499.0 366.0h0M748.2 415.7h0M732.5 373.6h0M630.1 369.2h0M713.1 354.6h0M705.0 381.5h0M693.3 371.8h0M670.7 340.4h0M796.4 442.0h0M502.4 361.6h0M569.1 387.3h0M551.5 368.7h0M326.0 372.1h0M680.2 368.0h0M682.8 368.6h0M705.5 276.5h0M736.1 414.0h0M670.1 282.3h0M581.1 317.0h0M705.6 387.1h0M578.0 358.5h0M496.0 355.9h0M366.1 444.0h0M553.0 357.4h0M141.2 425.2h0M331.8 428.8h0M284.0 231.3h0M661.4 354.6h0M714.7 365.9h0M743.2 399.0h0M586.6 358.7h0M673.8 370.6h0M362.9 386.4h0M504.2 328.3h0M549.9 308.1h0M631.1 369.2h0M365.7 399.0h0M561.8 303.1h0M159.2 349.0h0M787.7 387.6h0M628.6 485.7h0M185.4 410.4h0M671.3 339.2h0M712.2 321.5h0M376.7 408.7h0M141.1 363.7h0M716.7 386.2h0M299.8 419.6h0M715.5 401.6h0M684.3 380.2h0M623.5 358.8h0M515.8 428.0h0M719.0 360.8h0M761.0 392.0h0M295.9 409.0h0M611.1 398.9h0M767.2 264.1h0M222.5 340.3h0M479.5 424.0h0M478.9 422.6h0M205.1 453.5h0M515.2 385.4h0M516.0 386.2h0M419.6 458.0h0M369.5 369.0h0M336.3 393.3h0M228.7 380.5h0M717.6 370.3h0M393.7 343.3h0M727.4 334.9h0M134.0 411.5h0M270.8 215.6h0M318.8 314.4h0M280.2 348.8h0M650.3 376.6h0M549.5 369.1h0M313.3 371.4h0M370.1 365.7h0M170.7 333.6h0M657.8 416.6h0M662.5 313.6h0M599.2 337.8h0M535.5 413.2h0M347.1 341.0h0M448.7 389.4h0M524.3 325.9h0M639.0 323.8h0M524.4 316.4h0M597.1 435.1h0M632.3 420.3h0M457.1 375.7h0M641.0 356.2h0M422.1 370.2h0M496.9 472.4h0M425.5 349.5h0M729.2 325.8h0M155.5 371.6h0M688.2 394.3h0M475.5 376.1h0M812.0 382.9h0M345.8 364.1h0M538.0 429.5h0M480.8 340.0h0M228.8 366.4h0M767.6 357.8h0M718.7 342.6h0M531.9 310.5h0M641.9 371.9h0M786.7 305.9h0M768.5 337.4h0M389.2 315.8h0M219.9 381.5h0M687.6 364.7h0M715.5 413.7h0M829.9 292.0h0M747.2 350.3h0M727.8 472.7h0M711.7 330.7h0M355.4 410.8h0M374.2 408.9h0M611.7 371.2h0M111.8 380.6h0M598.0 401.3h0M440.7 387.9h0M246.6 325.9h0M107.1 308.9h0M648.9 396.4h0M735.0 347.2h0M737.4 341.7h0M667.4 359.8h0M705.9 364.8h0M539.0 422.1h0M792.6 397.6h0M747.2 339.7h0M750.0 338.2h0M565.2 346.5h0M693.1 276.3h0M714.2 497.7h0M580.4 379.2h0M545.0 451.1h0M329.4 331.7h0M615.0 355.9h0M124.4 377.2h0M599.9 284.2h0M257.4 350.5h0M300.4 354.0h0M473.1 283.3h0M106.4 378.8h0M818.9 364.1h0M814.3 360.9h0M291.4 358.6h0M716.6 262.8h0M143.6 380.4h0M678.2 345.5h0M410.1 356.7h0M755.2 350.3h0M823.4 366.8h0M359.6 367.1h0M742.2 359.3h0M724.8 349.2h0M731.4 348.0h0M449.4 358.0h0M800.1 417.9h0M491.5 301.5h0M481.6 476.3h0M353.2 358.2h0M193.1 468.5h0M483.1 312.3h0M299.7 447.9h0M766.5 290.7h0M206.5 361.4h0M523.3 369.6h0M648.7 377.1h0M567.5 350.1h0M479.9 369.1h0M291.5 341.4h0M637.2 299.6h0M825.1 397.7h0M499.7 319.7h0M520.7 371.9h0M838.6 387.8h0M706.4 354.4h0M675.4 435.0h0M722.3 264.7h0M719.1 350.4h0M678.5 364.4h0M267.6 360.4h0M280.6 381.2h0M361.2 407.6h0M363.1 408.3h0M369.2 341.9h0M656.3 416.1h0M175.2 239.7h0M599.1 349.8h0M120.2 360.4h0M759.7 461.2h0M254.3 350.2h0M398.6 385.9h0M274.8 349.9h0M235.9 384.0h0M805.1 397.0h0M360.8 364.1h0M251.2 344.3h0M700.6 343.2h0M260.8 303.8h0M561.9 374.3h0M114.6 411.6h0M625.1 365.4h0M330.9 354.5h0M714.0 359.0h0M718.4 361.8h0M284.0 357.1h0M97.1 335.1h0M625.5 279.7h0M319.0 363.9h0M275.1 436.6h0M732.0 419.1h0M147.8 403.1h0M117.2 368.7h0M132.1 391.7h0M308.0 386.0h0M614.8 297.4h0M710.6 415.1h0M461.5 399.5h0M298.8 330.8h0M187.8 324.7h0M382.8 392.9h0M330.7 334.1h0M213.1 380.9h0M668.2 380.4h0M238.3 353.2h0M755.8 388.8h0M209.5 337.2h0M658.7 368.2h0M189.9 416.6h0M821.3 360.5h0M468.4 510.1h0M124.1 299.8h0M567.6 297.5h0M367.5 362.8h0M284.8 360.1h0M404.5 428.2h0M654.2 362.6h0M631.8 371.6h0M194.3 396.5h0M702.0 350.8h0M625.0 362.6h0M457.5 262.9h0M201.3 367.4h0M256.9 395.9h0M841.7 349.5h0M304.1 323.8h0M218.3 395.6h0M811.8 411.7h0M810.2 412.5h0M168.2 329.9h0M226.7 310.0h0M758.9 334.8h0M594.1 341.5h0M736.2 335.7h0M573.6 391.8h0M160.0 349.7h0M553.8 301.8h0M419.0 252.5h0M319.5 309.2h0M449.5 242.4h0M420.5 442.3h0M747.0 444.5h0M220.4 382.4h0M725.1 402.6h0M118.1 371.5h0M683.2 396.5h0M423.4 378.9h0M452.3 361.7h0M509.5 472.9h0M745.2 372.5h0M653.6 384.8h0M281.9 365.8h0M665.0 334.2h0M506.1 371.9h0M600.4 377.0h0M749.7 352.0h0M655.5 332.4h0M726.8 351.8h0M337.6 371.0h0M791.3 366.6h0M788.8 364.6h0M751.0 443.0h0M468.9 413.1h0M365.7 309.8h0M266.2 328.7h0M468.4 353.5h0M232.4 358.3h0M307.9 396.4h0M673.5 302.5h0M451.1 325.2h0M453.3 321.1h0M134.6 418.0h0M429.2 377.1h0M174.3 445.2h0M330.2 324.0h0M341.2 353.1h0M270.7 374.5h0M416.6 444.2h0M265.7 281.4h0M409.7 333.0h0M685.4 385.8h0M705.5 335.4h0M227.6 264.6h0M383.1 341.8h0M488.4 212.6h0M556.0 335.0h0M738.1 393.2h0M741.4 363.8h0M740.7 360.3h0M714.2 369.5h0M655.9 209.7h0M417.3 369.8h0M631.9 344.2h0M553.0 497.5h0M712.0 356.6h0M579.6 345.8h0M168.1 453.0h0M840.4 371.2h0M201.4 378.4h0M235.3 222.3h0M614.5 339.6h0M736.9 372.4h0M509.3 362.8h0M637.1 340.8h0M292.3 376.5h0M783.7 354.5h0M429.6 362.2h0M275.5 249.7h0M191.7 356.0h0M340.0 382.6h0M578.6 306.1h0M448.0 178.9h0M768.9 372.7h0M739.1 320.7h0M709.9 360.5h0M152.7 380.9h0M660.2 314.4h0M786.2 367.9h0M650.4 370.5h0M278.6 379.9h0M306.1 392.2h0M308.2 392.5h0M436.9 427.6h0M271.7 480.3h0M645.6 270.2h0M158.4 252.8h0M841.1 392.4h0M701.7 404.0h0M740.1 330.5h0M375.0 304.8h0M710.3 358.2h0M571.7 343.7h0M721.9 339.9h0M612.6 296.0h0M711.6 377.7h0M249.5 376.4h0M438.0 352.1h0M361.7 433.9h0M720.1 362.0h0M373.9 235.7h0M587.6 359.5h0M576.6 370.3h0M373.8 235.0h0M745.6 353.1h0M802.2 402.6h0M644.7 338.3h0M284.1 362.4h0M647.5 300.5h0M697.2 317.2h0M753.0 347.1h0M178.1 388.3h0M686.2 364.9h0M311.0 392.4h0M151.2 300.4h0M673.4 373.4h0M399.1 361.6h0M703.8 305.4h0M788.9 265.6h0M802.2 382.3h0M628.2 338.8h0M793.9 429.3h0M342.5 324.9h0M322.0 261.8h0M588.2 369.2h0M681.7 321.8h0M532.5 342.1h0M180.9 409.7h0M114.4 377.0h0M762.3 249.8h0M481.2 320.2h0M465.3 304.8h0M384.0 350.8h0M731.0 395.2h0M535.9 354.4h0M590.1 374.1h0M297.9 346.0h0M359.1 310.5h0M237.7 317.4h0M495.1 380.7h0M599.5 313.5h0M179.1 349.8h0M803.1 400.5h0M302.6 325.1h0M843.4 369.2h0M616.4 359.0h0M351.9 323.0h0M200.3 442.0h0M636.0 351.7h0M206.8 386.9h0M690.2 381.2h0M760.2 340.1h0M205.1 434.4h0M607.8 334.5h0M311.6 373.3h0M181.4 299.9h0M448.2 329.9h0M698.4 339.7h0M207.4 362.3h0M185.3 363.6h0M602.6 357.4h0M364.7 195.3h0M239.5 335.9h0M216.7 395.4h0M394.7 503.2h0M450.7 380.4h0M200.5 456.0h0M212.3 364.7h0M308.5 355.7h0M106.2 383.1h0M449.9 309.1h0M288.3 361.9h0M343.5 403.9h0M470.1 357.9h0M592.2 424.7h0M399.7 467.2h0M362.4 306.1h0M558.1 439.1h0M253.5 355.6h0M842.4 347.6h0M702.2 343.8h0M470.7 173.7h0M377.6 235.6h0M363.0 366.5h0M155.0 327.4h0M629.1 327.7h0M815.3 360.8h0M386.7 464.2h0M750.5 361.8h0M810.9 380.8h0M478.4 179.4h0M555.5 368.2h0M534.9 329.0h0M492.5 258.7h0M776.0 454.3h0M244.9 432.0h0M757.8 451.1h0M216.8 430.7h0M735.6 319.5h0M110.3 344.2h0M114.0 412.3h0M552.4 362.0h0M681.6 443.4h0M407.1 348.6h0M700.8 348.6h0M725.3 388.7h0M548.7 265.2h0M605.8 276.6h0M365.2 382.4h0M234.4 323.5h0M236.6 325.1h0M611.7 268.3h0M128.0 424.1h0M254.7 323.0h0M219.0 371.6h0M588.7 347.4h0M806.3 368.1h0M806.8 366.9h0M202.2 367.4h0M199.7 350.5h0M199.3 350.6h0M424.3 379.1h0M700.0 399.8h0M640.4 333.0h0M488.7 321.5h0M492.7 322.6h0M459.5 243.4h0M182.1 427.9h0M572.9 341.5h0M750.9 365.5h0M610.7 369.3h0M536.3 396.4h0M604.0 359.6h0M276.0 375.1h0M710.6 381.5h0M713.2 380.7h0M713.1 382.6h0M660.9 429.2h0M187.2 342.3h0M172.6 378.6h0M591.3 434.4h0M179.2 325.7h0M459.9 179.4h0M656.1 323.0h0M465.0 221.5h0M458.0 404.3h0M140.5 360.2h0M655.5 331.0h0M767.4 368.9h0M175.0 323.4h0M424.6 286.9h0M544.1 324.3h0M690.9 375.4h0M447.7 360.2h0M405.3 351.0h0M731.1 474.1h0M387.3 269.9h0M305.1 380.5h0M332.9 301.8h0M514.2 376.4h0M493.3 380.9h0M331.6 373.3h0M825.1 377.5h0M651.4 371.9h0M649.4 375.0h0M248.1 356.1h0M236.0 384.6h0M704.1 315.3h0M739.4 335.9h0M805.7 369.2h0M566.2 219.3h0M406.4 434.1h0M128.6 378.7h0M523.8 325.1h0M591.8 315.6h0M791.3 362.2h0M842.3 355.4h0M684.2 355.0h0M520.9 423.2h0M118.0 409.8h0M699.3 376.3h0M488.9 426.1h0M513.9 396.8h0M308.0 429.8h0M638.8 356.1h0M829.1 383.7h0M359.0 357.1h0M486.1 226.4h0M171.8 350.5h0M225.0 380.2h0M162.7 384.3h0M535.6 455.8h0M144.3 336.0h0M176.0 434.7h0M248.8 291.8h0M821.9 385.9h0M824.1 385.0h0M605.0 359.6h0M601.4 365.1h0M494.2 331.0h0M436.5 402.0h0M150.2 358.8h0M495.0 450.7h0M291.6 370.0h0M637.5 377.9h0M511.2 416.9h0M165.2 330.1h0M163.8 326.7h0M750.1 278.6h0M655.4 473.4h0M653.1 340.9h0M687.3 354.9h0M739.1 375.1h0M743.2 432.5h0M847.2 348.1h0M450.6 352.6h0M578.6 363.4h0M672.3 346.9h0" stroke="#000" stroke-width="2.9" stroke-linecap="round" fill="none"/>
<path d="M329.9 392.2h0M617.4 377.6h0M713.5 318.3h0M370.3 394.6h0M653.2 364.8h0M712.0 482.4h0M533.7 381.8h0M608.7 337.0h0M480.0 343.0h0M474.9 253.5h0M658.3 367.0h0M676.8 319.8h0M677.8 321.9h0M528.1 484.0h0M812.8 385.2h0M762.3 276.9h0M790.5 357.9h0M708.8 307.0h0M597.6 370.6h0M747.8 376.1h0M527.3 384.9h0M591.6 435.9h0M830.1 366.8h0M333.0 459.8h0M557.7 521.6h0M687.6 361.8h0M515.3 186.5h0M564.8 179.2h0M245.7 370.3h0M596.8 361.9h0M640.2 360.8h0M435.9 335.1h0M275.6 373.9h0M277.1 371.5h0M275.9 342.4h0M743.7 399.4h0M424.3 341.8h0M580.1 379.0h0M366.6 288.6h0M150.6 307.5h0M813.7 361.0h0M457.7 379.7h0M780.4 367.0h0M507.9 365.1h0M484.2 371.9h0M414.0 306.0h0M362.0 360.4h0M423.4 392.5h0M224.6 369.5h0M727.8 337.6h0M168.7 359.4h0M445.5 437.2h0M659.3 299.5h0M476.8 404.9h0M593.9 369.0h0M781.8 373.3h0M254.9 305.6h0M729.6 362.2h0M180.3 362.9h0M273.3 386.4h0M498.5 399.5h0M624.0 370.4h0M754.7 275.4h0M731.0 346.2h0M730.8 346.5h0M454.7 357.3h0M740.9 436.4h0M152.0 411.2h0M281.9 421.0h0M708.2 426.1h0M202.5 345.0h0M517.3 302.0h0M432.2 195.9h0M737.9 417.3h0M733.4 416.3h0M612.4 313.4h0M402.1 341.5h0M488.9 346.8h0M753.3 384.4h0M493.5 380.7h0M752.9 285.6h0M422.4 238.3h0M755.6 378.0h0M755.1 354.0h0M689.3 359.9h0M637.4 366.7h0M704.2 341.2h0M614.6 352.5h0M168.4 372.0h0M737.7 399.4h0M381.9 277.3h0M613.2 474.2h0M599.2 365.2h0M686.0 374.4h0M167.1 429.1h0M713.8 414.7h0M713.3 414.9h0M637.0 355.6h0M683.7 369.0h0M329.3 404.8h0M285.3 507.5h0M745.5 360.1h0M390.6 388.1h0M671.5 393.0h0M465.5 387.7h0M688.8 338.1h0M518.9 425.6h0M455.5 346.5h0M637.9 222.6h0M686.5 363.1h0M676.1 360.3h0M711.5 372.5h0M845.8 360.1h0M511.0 355.3h0M741.2 274.1h0M720.2 397.4h0M383.8 345.8h0M595.8 503.4h0M661.5 350.8h0M661.8 352.0h0M408.6 315.5h0M611.0 382.3h0M261.9 371.4h0M333.7 331.5h0M326.6 343.1h0M326.5 340.1h0M658.0 340.8h0M200.3 355.7h0M394.5 326.6h0M614.6 307.3h0M615.9 306.7h0M652.6 256.7h0M557.2 380.6h0M682.3 279.6h0M250.0 362.8h0M246.9 363.6h0M681.9 493.4h0M577.8 430.2h0M180.7 386.4h0M394.8 321.2h0M666.6 307.6h0M189.7 360.8h0M539.0 410.6h0M714.4 485.2h0M500.4 326.3h0M540.4 362.4h0M151.8 390.5h0M555.3 362.1h0M792.7 299.9h0M594.9 306.9h0M670.1 361.7h0M635.2 357.0h0M238.7 393.4h0M738.2 341.5h0M203.2 263.7h0M392.8 476.5h0M793.0 364.5h0M576.0 469.6h0M163.8 354.8h0M478.0 357.7h0M442.3 496.9h0M488.5 392.2h0M716.5 353.0h0M707.9 352.5h0M467.2 363.7h0M534.9 429.5h0M670.8 444.3h0M455.6 401.9h0M493.9 361.4h0M673.3 278.7h0M355.2 411.2h0M127.3 395.2h0M390.4 261.1h0M601.1 371.5h0M366.8 527.7h0M702.9 366.0h0M481.3 354.4h0M481.8 360.8h0M572.0 320.1h0M752.1 364.7h0M193.3 362.2h0M219.3 395.8h0M778.3 391.7h0M308.1 465.1h0M631.8 358.4h0M779.3 359.8h0M775.0 361.8h0M512.2 355.2h0M664.4 363.5h0M278.0 351.5h0M672.6 311.2h0M555.2 287.8h0M225.1 364.1h0M843.6 398.6h0M186.8 338.2h0M229.0 292.4h0M507.8 420.5h0M249.1 428.7h0M346.0 368.2h0M758.8 348.0h0M669.9 200.0h0M755.3 370.6h0M538.1 420.4h0M605.2 372.1h0M238.7 422.0h0M663.1 382.5h0M774.2 352.0h0M306.7 338.0h0M255.2 370.1h0M407.5 236.5h0M834.3 358.2h0M671.2 341.4h0M209.7 338.8h0M425.8 342.0h0M620.3 377.5h0M492.0 385.8h0M403.7 393.3h0M616.9 392.6h0M564.7 347.0h0M819.2 365.5h0M194.9 376.3h0M616.3 404.0h0M589.3 364.8h0M623.7 441.3h0M689.9 375.4h0M666.5 332.4h0M246.8 274.3h0M196.0 397.2h0M263.7 490.9h0M342.1 372.8h0M665.2 297.4h0M541.1 423.3h0M181.2 371.8h0M394.1 338.1h0M804.5 413.8h0M204.0 343.6h0M120.7 368.8h0M650.8 268.8h0M337.0 395.2h0M331.8 397.2h0M120.1 344.4h0M521.2 403.6h0M277.9 399.8h0M841.1 380.8h0M749.8 361.0h0M638.3 297.6h0M485.0 263.7h0M843.7 349.2h0M417.3 288.5h0M412.5 378.0h0M706.3 370.8h0M636.5 350.7h0M166.2 416.5h0M363.9 404.8h0M696.9 403.3h0M344.5 505.6h0M593.6 353.8h0M668.8 363.2h0M613.7 348.6h0M297.9 432.6h0M253.5 352.4h0M245.9 375.9h0M154.1 288.0h0M334.4 410.6h0M196.9 376.6h0M543.0 389.7h0M718.7 393.1h0M126.9 351.0h0M638.2 356.0h0M743.7 363.0h0M434.5 389.1h0M694.6 339.2h0M663.7 353.2h0M118.5 299.4h0M721.8 333.9h0M420.5 415.9h0M442.7 314.9h0M502.2 339.2h0M769.7 346.0h0M281.5 355.0h0M130.2 359.2h0M671.0 381.2h0M525.7 327.4h0M768.2 379.7h0M504.9 397.6h0M561.4 350.2h0M125.8 428.8h0M733.9 389.5h0M483.4 331.8h0M517.3 309.4h0M444.1 342.5h0M507.9 428.8h0M677.4 327.3h0M460.0 402.6h0M144.3 375.9h0M687.9 401.8h0M509.0 349.6h0M657.4 350.0h0M825.9 422.1h0M410.3 377.3h0M370.9 398.9h0M697.8 414.4h0M545.2 321.1h0M273.9 508.6h0M676.2 354.9h0M450.9 361.3h0M452.8 365.0h0M114.8 322.3h0M664.2 367.0h0M151.8 376.9h0M499.1 452.3h0M684.6 337.6h0M642.7 455.1h0M672.5 249.3h0M213.6 310.7h0M534.0 191.5h0M502.4 382.2h0M165.8 385.9h0M574.2 391.3h0M438.3 276.9h0M159.3 380.6h0M541.8 375.4h0M215.5 403.6h0M210.2 365.9h0M259.0 395.4h0M788.0 385.9h0M722.9 344.3h0M273.2 406.0h0M551.6 443.4h0M786.5 337.0h0M595.0 183.6h0M532.8 317.7h0M234.2 247.3h0M654.1 366.8h0M641.7 375.7h0M469.1 357.1h0M655.2 446.0h0M373.0 346.5h0M524.3 425.9h0M320.2 518.4h0M742.5 323.3h0M258.6 351.5h0M796.9 366.4h0M648.5 442.9h0M580.3 312.4h0M732.9 393.9h0M774.2 362.9h0M705.5 274.9h0M598.3 384.6h0M649.9 382.7h0M386.4 466.5h0M221.6 460.9h0M274.2 315.7h0M489.3 403.3h0M808.7 362.2h0M589.4 371.9h0M454.5 336.9h0M151.3 381.0h0M551.8 268.0h0M660.4 323.4h0M568.8 273.0h0M504.8 351.2h0M672.5 309.5h0M706.7 353.0h0M587.8 384.6h0M335.4 369.6h0M649.7 362.1h0M635.4 395.5h0M771.0 404.7h0M602.9 419.1h0M288.1 291.6h0M555.6 377.6h0M270.4 366.1h0M582.9 339.0h0M204.6 406.9h0M272.1 377.7h0M279.4 337.6h0M254.5 312.3h0M567.5 306.5h0M688.3 354.6h0M810.1 418.9h0M730.0 241.0h0M379.3 471.0h0M379.7 304.5h0M364.4 371.7h0M471.2 362.1h0M819.5 411.2h0M225.2 409.1h0M165.8 381.0h0M661.3 335.9h0M104.8 375.1h0M740.5 362.7h0M592.8 384.7h0M414.7 432.6h0M337.0 407.3h0M682.3 380.9h0M785.0 392.0h0M477.0 395.4h0M372.6 373.4h0M266.7 320.1h0M676.3 365.8h0M616.2 341.6h0M336.4 353.7h0M409.1 360.0h0M808.0 389.5h0M410.9 315.4h0M203.1 357.1h0M754.1 297.7h0M426.7 381.0h0M654.7 362.7h0M600.5 381.2h0M764.4 340.5h0M811.7 383.8h0M372.6 316.2h0M323.6 395.2h0M408.8 345.1h0M393.7 401.7h0M136.9 363.0h0M514.4 364.8h0M149.3 415.8h0M150.3 418.7h0M735.9 380.5h0M381.5 371.3h0M706.2 388.3h0M326.8 338.0h0M498.4 264.8h0M562.0 346.5h0M646.3 237.6h0M517.4 302.2h0M703.3 341.2h0M325.4 446.7h0M743.6 366.6h0M348.5 402.0h0M586.3 344.4h0M667.4 357.7h0M784.3 358.6h0M785.3 394.8h0M406.0 279.1h0M185.5 360.6h0M417.8 420.3h0M780.7 260.4h0M478.4 426.6h0M476.6 424.3h0M248.8 364.1h0M285.0 361.4h0M281.3 360.1h0M765.9 359.5h0M227.1 284.5h0M294.7 385.6h0M652.3 378.8h0M580.1 325.7h0M528.1 368.1h0M193.9 342.2h0M593.4 309.1h0M377.1 387.7h0M750.2 367.6h0M731.0 339.5h0M570.2 335.2h0M259.2 408.1h0M710.5 365.1h0M131.6 384.3h0M208.3 410.9h0M607.7 399.6h0M319.7 341.3h0M332.5 371.8h0M363.1 447.4h0M628.3 402.2h0M484.5 303.8h0M437.5 427.1h0M498.3 379.8h0M720.4 326.5h0M132.8 397.2h0M347.3 463.5h0M382.4 356.4h0M674.8 384.0h0M319.1 320.9h0M842.3 370.4h0M172.0 392.9h0M845.1 348.1h0M450.0 413.3h0M762.4 423.4h0M238.3 390.9h0M703.6 355.7h0M617.5 385.0h0M619.2 381.9h0M733.0 353.2h0M689.7 383.7h0M587.9 382.5h0M608.7 334.7h0M215.2 410.2h0M507.0 413.6h0M322.6 266.7h0M597.1 373.7h0M650.9 290.9h0M507.1 327.3h0M558.1 361.8h0M553.8 232.7h0M701.4 346.2h0M608.0 380.8h0M605.9 379.2h0M589.2 361.3h0M482.8 285.2h0M199.1 390.2h0M632.1 377.6h0M675.2 380.3h0M450.6 355.7h0M382.0 454.2h0M419.5 383.2h0M479.7 338.6h0M347.6 404.1h0M571.6 382.9h0M465.0 355.8h0M185.6 240.2h0M716.6 215.6h0M762.9 354.7h0M373.8 211.9h0M538.7 203.5h0M729.4 362.2h0M305.4 376.9h0M508.4 366.2h0M186.9 350.6h0M558.9 323.5h0M533.6 367.7h0M455.9 363.8h0M311.6 404.1h0M424.8 399.3h0M640.4 279.2h0M724.9 356.6h0M515.4 376.1h0M333.5 347.5h0M658.3 384.2h0M411.4 346.0h0M787.2 390.5h0M538.8 332.2h0M347.0 422.6h0M588.3 219.2h0M657.1 368.3h0M652.5 381.2h0M625.6 346.8h0M243.1 433.3h0M610.6 302.5h0M233.1 374.6h0M475.0 399.8h0M478.5 512.9h0M697.4 333.3h0M582.5 249.2h0M370.7 388.1h0M583.3 376.0h0M458.2 384.9h0M352.7 264.0h0M253.6 320.1h0M763.0 345.5h0M192.2 430.7h0M380.3 190.8h0M226.5 227.8h0M472.7 409.0h0M380.1 372.6h0M670.4 380.3h0M463.0 415.1h0M281.8 362.0h0M733.6 254.5h0M499.6 411.3h0M671.5 342.2h0M512.0 368.5h0M335.8 397.4h0M311.7 356.1h0M636.9 348.3h0M676.2 375.8h0M538.2 200.4h0M436.9 376.9h0M603.3 337.8h0M314.7 429.4h0M694.1 274.1h0M365.9 441.5h0M220.7 346.8h0M698.4 388.6h0M746.6 345.7h0M378.1 308.4h0M204.6 289.7h0M453.3 258.1h0M826.4 376.6h0M348.6 363.3h0M266.5 379.1h0M399.6 306.9h0M843.7 366.7h0M142.3 343.5h0M364.7 378.0h0M748.8 360.3h0M347.8 297.5h0M193.5 298.3h0M707.3 373.6h0M202.1 358.0h0M555.8 238.7h0M484.0 328.9h0M790.7 406.3h0M601.4 379.2h0M199.0 375.1h0M710.4 406.2h0M390.1 347.9h0M137.5 394.1h0M139.1 360.4h0M455.3 330.0h0M597.2 335.8h0M336.3 401.3h0M760.4 364.6h0M771.5 390.5h0M690.6 374.3h0M587.3 331.3h0M345.5 336.6h0M770.6 348.9h0M231.1 375.1h0M424.5 338.7h0M746.3 357.4h0M117.3 336.9h0M656.2 235.7h0M721.6 283.0h0M360.7 195.1h0M709.9 426.6h0M260.0 388.5h0M587.4 375.1h0M223.4 356.8h0M366.1 357.8h0M587.0 327.8h0M802.0 361.8h0M248.0 387.4h0M214.3 411.3h0M533.7 429.7h0M202.8 440.7h0M638.4 236.3h0M584.6 333.9h0M343.4 390.5h0M625.9 490.0h0M635.9 365.2h0M271.1 313.4h0M725.9 481.1h0M669.1 314.6h0M379.3 344.2h0M464.0 380.0h0M469.2 379.5h0M540.3 306.8h0M659.8 364.3h0M649.7 355.7h0M828.8 412.7h0M112.6 347.1h0M206.5 397.0h0M383.5 264.1h0M281.1 342.0h0M748.9 378.5h0M363.7 190.9h0M617.9 324.9h0M405.5 479.9h0M210.5 377.3h0M636.3 383.5h0M406.3 354.6h0M316.5 434.2h0M677.0 261.1h0M658.8 339.6h0M741.5 403.2h0M257.7 510.0h0M518.4 305.7h0M679.6 410.7h0M493.3 322.4h0M631.6 363.6h0M395.3 439.1h0M371.5 233.9h0M251.9 374.0h0" stroke="#000" stroke-width="3.4" stroke-linecap="round" fill="none"/>
<path d="M297.9 385.8h0M748.6 283.1h0M628.0 446.0h0M671.6 352.6h0M827.6 406.4h0M578.9 260.9h0M586.3 415.9h0M308.8 390.5h0M466.4 395.8h0M599.6 355.4h0M324.6 339.6h0M473.1 296.8h0M775.1 410.5h0M628.2 342.0h0M698.7 394.4h0M630.9 376.2h0M670.5 356.6h0M780.8 371.4h0M595.1 367.7h0M578.7 357.5h0M355.4 387.9h0M211.3 428.1h0M669.1 337.9h0M685.7 354.5h0M706.1 370.5h0M481.0 463.3h0M207.6 289.3h0M627.9 343.1h0M127.2 371.9h0M277.8 485.6h0M534.5 427.6h0M758.3 363.0h0M735.5 372.6h0M702.5 401.8h0M398.9 351.1h0M674.4 377.9h0M792.8 375.0h0M424.8 348.8h0M215.6 371.1h0M479.4 346.9h0M475.1 344.2h0M305.4 397.5h0M540.1 321.8h0M538.0 367.7h0M762.3 370.5h0M304.0 383.7h0M211.9 361.8h0M556.5 323.8h0M156.5 354.2h0M331.4 409.5h0M696.3 342.7h0M847.4 355.4h0M423.1 375.4h0M732.2 444.3h0M409.1 400.5h0M404.4 401.5h0M746.6 367.0h0M577.0 354.8h0M630.7 373.8h0M749.9 355.4h0M453.0 366.1h0M433.1 402.4h0M639.8 350.4h0M707.1 348.0h0M466.2 444.1h0M681.2 399.6h0M368.2 402.5h0M368.1 403.6h0M726.1 346.1h0M219.3 324.7h0M696.7 344.9h0M299.2 500.9h0M689.5 356.0h0M672.9 378.9h0M760.1 263.4h0M618.7 368.8h0M749.3 414.8h0M494.7 366.2h0M191.1 355.7h0M812.5 382.7h0M607.8 339.8h0M319.0 252.1h0M261.1 504.2h0M213.3 365.9h0M605.7 337.6h0M731.9 284.8h0M657.1 336.7h0M761.1 330.3h0M273.0 427.6h0M503.5 355.4h0M479.1 323.2h0M562.7 366.1h0M582.2 372.8h0M713.5 362.9h0M635.9 373.1h0M532.0 336.0h0M776.1 374.2h0M421.0 264.7h0M646.1 467.2h0M629.1 374.4h0M602.3 352.4h0M499.7 356.3h0M693.1 328.5h0M617.4 328.4h0M552.1 271.8h0M240.2 434.6h0M237.7 433.3h0M407.7 346.8h0M799.5 399.5h0M466.0 222.6h0M360.6 380.2h0M590.6 350.6h0M706.3 323.2h0M826.0 415.7h0M672.4 396.7h0M745.3 376.3h0M722.6 263.8h0M619.2 343.6h0M174.6 379.3h0M139.6 362.5h0M741.6 300.5h0M320.1 307.2h0M230.9 337.9h0M335.3 341.2h0M524.5 368.7h0M452.7 194.3h0M778.7 359.0h0M653.9 354.9h0M658.2 388.2h0M367.4 423.5h0M673.3 342.9h0M747.6 275.4h0" stroke="#000" stroke-width="4.2" stroke-linecap="round" fill="none"/>
<path d="M546.8 381.2h0M452.3 352.5h0M533.4 288.3h0M584.1 279.0h0M667.8 254.2h0M206.0 332.3h0M684.7 480.2h0M587.3 316.6h0M639.6 319.9h0M116.1 351.3h0M659.0 355.9h0M554.0 311.3h0M198.5 342.4h0M693.9 335.8h0M503.1 319.0h0M711.1 376.8h0M516.7 425.5h0M101.0 353.3h0M503.2 405.9h0M724.4 376.1h0M364.8 200.5h0M758.5 366.6h0M596.7 336.3h0M574.2 384.1h0M531.2 450.3h0M230.3 444.7h0M594.1 298.9h0M512.4 407.3h0M695.4 350.1h0M629.0 244.1h0M781.5 393.3h0M634.2 359.6h0M598.8 375.6h0M237.3 488.4h0M294.7 384.8h0M709.7 404.0h0M446.9 393.8h0M148.9 334.6h0M592.7 358.1h0M146.5 430.7h0M148.1 436.5h0M501.1 434.3h0M317.3 341.7h0M412.4 382.5h0M648.1 345.5h0M804.2 365.9h0M349.6 222.5h0M395.5 507.2h0M273.8 372.1h0M382.9 511.9h0M458.6 394.6h0M738.0 288.0h0M640.7 358.0h0M307.7 383.5h0M439.3 362.5h0M621.6 374.7h0M170.3 463.0h0M720.5 232.5h0M341.2 384.7h0M677.9 359.3h0M168.1 387.9h0M353.6 333.4h0M659.6 317.2h0M712.7 346.7h0M386.8 412.3h0M789.0 414.2h0M700.4 351.4h0M387.9 373.5h0M538.9 220.9h0M364.5 459.3h0M736.8 384.2h0M580.4 358.3h0M680.5 406.7h0M342.9 337.3h0M611.0 484.3h0M380.4 396.5h0M617.6 344.7h0M758.7 337.9h0M459.9 358.9h0M480.1 416.1h0M765.6 346.8h0M832.0 386.6h0M610.9 362.1h0M137.7 379.1h0M260.9 297.7h0M672.7 250.0h0M594.3 322.4h0M719.8 368.2h0M656.9 488.6h0M476.2 353.8h0M716.4 435.0h0M734.8 356.1h0M621.6 339.9h0M298.3 294.6h0M265.5 198.4h0M169.8 391.9h0M579.0 409.4h0M754.6 438.0h0M706.1 299.6h0M231.5 388.4h0M148.5 329.3h0M632.1 347.5h0M760.9 348.5h0M445.5 370.3h0M714.3 393.5h0M603.7 358.4h0M304.7 373.3h0M636.4 377.9h0M588.9 459.7h0M738.5 385.5h0M415.1 373.9h0M589.2 350.8h0M391.1 391.8h0M640.0 358.8h0M364.0 339.4h0M781.5 354.9h0M411.9 221.4h0M206.8 367.2h0M184.2 359.0h0M692.9 371.2h0M491.1 408.2h0M426.1 322.3h0M414.9 188.9h0M745.1 402.1h0M638.3 365.8h0M177.2 406.5h0M519.6 521.1h0M504.9 380.7h0M379.8 348.9h0M785.9 363.9h0M175.0 270.1h0" stroke="#000" stroke-width="5" stroke-linecap="round" fill="none"/>
</g>
<circle cx="461.7" cy="292" r="2.2" fill="#000"/><circle cx="544.7" cy="228.7" r="3" fill="#000"/>
<path d="M227.6 500.4H721.4M125.5 432.3H823.5M93.0 355.5H856.0M125.5 278.7H823.5M227.6 210.6H721.4M474.5 545.5L540.3 541.4L578.1 535.1L609.0 527.7L635.7 519.3L659.2 510.1L680.2 500.4L699.0 490.0L715.8 479.2L730.7 468.0L743.9 456.4L755.4 444.5L765.3 432.3L773.6 419.8L780.4 407.2L785.7 394.4L789.4 381.5L791.7 368.5L792.4 355.5L791.7 342.5L789.4 329.5L785.7 316.6L780.4 303.8L773.6 291.2L765.3 278.7L755.4 266.5L743.9 254.6L730.7 243.0L715.8 231.8L699.0 221.0L680.2 210.6L659.2 200.9L635.7 191.7L609.0 183.3L578.1 175.9L540.3 169.6L474.5 165.5M474.5 545.5L527.1 541.4L557.4 535.1L582.1 527.7L603.5 519.3L622.3 510.1L639.1 500.4L654.1 490.0L667.5 479.2L679.5 468.0L690.0 456.4L699.2 444.5L707.2 432.3L713.8 419.8L719.2 407.2L723.4 394.4L726.4 381.5L728.2 368.5L728.8 355.5L728.2 342.5L726.4 329.5L723.4 316.6L719.2 303.8L713.8 291.2L707.2 278.7L699.2 266.5L690.0 254.6L679.5 243.0L667.5 231.8L654.1 221.0L639.1 210.6L622.3 200.9L603.5 191.7L582.1 183.3L557.4 175.9L527.1 169.6L474.5 165.5M474.5 545.5L514.0 541.4L536.7 535.1L555.2 527.7L571.2 519.3L585.3 510.1L597.9 500.4L609.2 490.0L619.3 479.2L628.2 468.0L636.1 456.4L643.1 444.5L649.0 432.3L654.0 419.8L658.1 407.2L661.2 394.4L663.5 381.5L664.8 368.5L665.2 355.5L664.8 342.5L663.5 329.5L661.2 316.6L658.1 303.8L654.0 291.2L649.0 278.7L643.1 266.5L636.1 254.6L628.2 243.0L619.3 231.8L609.2 221.0L597.9 210.6L585.3 200.9L571.2 191.7L555.2 183.3L536.7 175.9L514.0 169.6L474.5 165.5M474.5 545.5L500.8 541.4L515.9 535.1L528.3 527.7L539.0 519.3L548.4 510.1L556.8 500.4L564.3 490.0L571.0 479.2L577.0 468.0L582.3 456.4L586.9 444.5L590.8 432.3L594.2 419.8L596.9 407.2L599.0 394.4L600.5 381.5L601.4 368.5L601.7 355.5L601.4 342.5L600.5 329.5L599.0 316.6L596.9 303.8L594.2 291.2L590.8 278.7L586.9 266.5L582.3 254.6L577.0 243.0L571.0 231.8L564.3 221.0L556.8 210.6L548.4 200.9L539.0 191.7L528.3 183.3L515.9 175.9L500.8 169.6L474.5 165.5M474.5 545.5L487.7 541.4L495.2 535.1L501.4 527.7L506.7 519.3L511.4 510.1L515.6 500.4L519.4 490.0L522.8 479.2L525.7 468.0L528.4 456.4L530.7 444.5L532.7 432.3L534.3 419.8L535.7 407.2L536.7 394.4L537.5 381.5L537.9 368.5L538.1 355.5L537.9 342.5L537.5 329.5L536.7 316.6L535.7 303.8L534.3 291.2L532.7 278.7L530.7 266.5L528.4 254.6L525.7 243.0L522.8 231.8L519.4 221.0L515.6 210.6L511.4 200.9L506.7 191.7L501.4 183.3L495.2 175.9L487.7 169.6L474.5 165.5M474.5 545.5L474.5 541.4L474.5 535.1L474.5 527.7L474.5 519.3L474.5 510.1L474.5 500.4L474.5 490.0L474.5 479.2L474.5 468.0L474.5 456.4L474.5 444.5L474.5 432.3L474.5 419.8L474.5 407.2L474.5 394.4L474.5 381.5L474.5 368.5L474.5 355.5L474.5 342.5L474.5 329.5L474.5 316.6L474.5 303.8L474.5 291.2L474.5 278.7L474.5 266.5L474.5 254.6L474.5 243.0L474.5 231.8L474.5 221.0L474.5 210.6L474.5 200.9L474.5 191.7L474.5 183.3L474.5 175.9L474.5 169.6L474.5 165.5M474.5 545.5L461.3 541.4L453.8 535.1L447.6 527.7L442.3 519.3L437.6 510.1L433.4 500.4L429.6 490.0L426.2 479.2L423.3 468.0L420.6 456.4L418.3 444.5L416.3 432.3L414.7 419.8L413.3 407.2L412.3 394.4L411.5 381.5L411.1 368.5L410.9 355.5L411.1 342.5L411.5 329.5L412.3 316.6L413.3 303.8L414.7 291.2L416.3 278.7L418.3 266.5L420.6 254.6L423.3 243.0L426.2 231.8L429.6 221.0L433.4 210.6L437.6 200.9L442.3 191.7L447.6 183.3L453.8 175.9L461.3 169.6L474.5 165.5M474.5 545.5L448.2 541.4L433.1 535.1L420.7 527.7L410.0 519.3L400.6 510.1L392.2 500.4L384.7 490.0L378.0 479.2L372.0 468.0L366.7 456.4L362.1 444.5L358.2 432.3L354.8 419.8L352.1 407.2L350.0 394.4L348.5 381.5L347.6 368.5L347.3 355.5L347.6 342.5L348.5 329.5L350.0 316.6L352.1 303.8L354.8 291.2L358.2 278.7L362.1 266.5L366.7 254.6L372.0 243.0L378.0 231.8L384.7 221.0L392.2 210.6L400.6 200.9L410.0 191.7L420.7 183.3L433.1 175.9L448.2 169.6L474.5 165.5M474.5 545.5L435.0 541.4L412.3 535.1L393.8 527.7L377.8 519.3L363.7 510.1L351.1 500.4L339.8 490.0L329.7 479.2L320.8 468.0L312.9 456.4L305.9 444.5L300.0 432.3L295.0 419.8L290.9 407.2L287.8 394.4L285.5 381.5L284.2 368.5L283.8 355.5L284.2 342.5L285.5 329.5L287.8 316.6L290.9 303.8L295.0 291.2L300.0 278.7L305.9 266.5L312.9 254.6L320.8 243.0L329.7 231.8L339.8 221.0L351.1 210.6L363.7 200.9L377.8 191.7L393.8 183.3L412.3 175.9L435.0 169.6L474.5 165.5M474.5 545.5L421.9 541.4L391.6 535.1L366.9 527.7L345.5 519.3L326.7 510.1L309.9 500.4L294.9 490.0L281.5 479.2L269.5 468.0L259.0 456.4L249.8 444.5L241.8 432.3L235.2 419.8L229.8 407.2L225.6 394.4L222.6 381.5L220.8 368.5L220.2 355.5L220.8 342.5L222.6 329.5L225.6 316.6L229.8 303.8L235.2 291.2L241.8 278.7L249.8 266.5L259.0 254.6L269.5 243.0L281.5 231.8L294.9 221.0L309.9 210.6L326.7 200.9L345.5 191.7L366.9 183.3L391.6 175.9L421.9 169.6L474.5 165.5M474.5 545.5L408.7 541.4L370.9 535.1L340.0 527.7L313.3 519.3L289.8 510.1L268.8 500.4L250.0 490.0L233.2 479.2L218.3 468.0L205.1 456.4L193.6 444.5L183.7 432.3L175.4 419.8L168.6 407.2L163.3 394.4L159.6 381.5L157.3 368.5L156.6 355.5L157.3 342.5L159.6 329.5L163.3 316.6L168.6 303.8L175.4 291.2L183.7 278.7L193.6 266.5L205.1 254.6L218.3 243.0L233.2 231.8L250.0 221.0L268.8 210.6L289.8 200.9L313.3 191.7L340.0 183.3L370.9 175.9L408.7 169.6L474.5 165.5" stroke="#a293a8" stroke-width="0.85" fill="none" opacity="0.52"/>
</g>
<ellipse cx="474.5" cy="355.5" rx="381.5" ry="190" fill="none" stroke="#b9a9b9" stroke-width="0.8"/>
<text class="gl" x="156.3" y="355.7" text-anchor="middle">150</text>
<text class="gl" x="219.9" y="355.7" text-anchor="middle">120</text>
<text class="gl" x="283.4" y="355.7" text-anchor="middle">90</text>
<text class="gl" x="347.0" y="355.7" text-anchor="middle">60</text>
<text class="gl" x="410.6" y="355.7" text-anchor="middle">30</text>
<text class="gl" x="474.2" y="355.7" text-anchor="middle">0</text>
<text class="gl" x="537.8" y="355.7" text-anchor="middle">-30</text>
<text class="gl" x="601.4" y="355.7" text-anchor="middle">-60</text>
<text class="gl" x="665.0" y="355.7" text-anchor="middle">-90</text>
<text class="gl" x="728.5" y="355.7" text-anchor="middle">-120</text>
<text class="gl" x="792.1" y="355.7" text-anchor="middle">-150</text>
<clipPath id="c180"><rect x="89.8" y="340" width="30" height="20"/></clipPath>
<text class="gl" x="93.2" y="355.7" text-anchor="middle" clip-path="url(#c180)">180</text>
<text class="gl" x="474.5" y="163.7" text-anchor="middle">90</text>
<text class="gl" x="474.5" y="210.0" text-anchor="middle">60</text>
<text class="gl" x="474.5" y="278.1" text-anchor="middle">30</text>
<text class="gl" x="474.5" y="431.7" text-anchor="middle">-30</text>
<text class="gl" x="474.5" y="499.8" text-anchor="middle">-60</text>
<text class="gl" x="474.5" y="546.6" text-anchor="middle">-90</text>
<path d="M325.0 293.0L336.6 290.5L346.6 295.0L366.5 311.5L383.0 316.0L413.0 313.0L433.0 306.5L446.5 293.0L456.5 266.6L464.7 251.6L476.3 245.0L496.3 245.0L506.3 256.6L516.2 280.0L526.2 303.0L536.2 310.0L592.7 311.5L612.7 296.5L632.0 288.0L654.5 280.0L679.5 272.5L704.5 270.0L714.5 277.5L718.0 290.0L714.5 305.0L702.0 332.5L687.0 362.5L667.0 390.0L649.7 411.0L645.6 429.0L641.4 445.6L641.4 460.8L648.3 464.4L663.5 476.0L680.0 488.4L689.7 498.0L692.5 505.0L682.8 511.3L655.2 512.4L627.6 509.0L600.0 503.6L592.0 503.0L583.5 500.0L566.0 486.0L553.5 462.5L536.0 430.0L529.6 423.0L513.0 396.5L493.0 383.0L473.0 371.5L446.5 365.0L410.0 361.5L366.5 358.0L343.3 355.0L333.3 345.0L323.3 340.0L320.6 326.5L322.6 303.0Z" stroke="#e2b4da" stroke-width="1.05" opacity="0.95" fill="none" stroke-linejoin="round"/>
<path d="M306.0 320.0L320.0 334.0L333.0 345.0L343.0 343.0L363.0 330.0L383.0 319.0L406.0 317.0L420.0 321.0L430.0 333.0L436.0 346.0L446.0 353.0L473.0 361.0L496.0 368.0L501.0 380.0L500.0 403.0L494.0 421.0L488.0 442.0L481.0 457.0L471.0 462.0L458.0 457.0L441.0 435.0L423.0 420.0L403.0 406.0L390.0 400.0L370.0 400.0L340.0 405.0L316.0 397.0L292.0 382.0L284.0 365.0L285.0 347.0L292.0 329.0Z" stroke="#78c850" stroke-width="1.05" opacity="0.95" fill="none" stroke-linejoin="round"/>
<path d="M337.0 178.0L332.5 180.0L308.8 207.5L306.0 222.5L311.0 240.0L327.5 255.0L351.0 264.0L385.0 276.0L398.5 267.5L418.5 242.5L428.5 238.0L434.0 245.0L435.0 262.5L432.0 285.0L428.5 292.0L418.5 300.0L386.0 312.5L361.0 322.5L336.0 328.5L320.0 335.0L297.5 355.0L280.0 372.5L262.5 390.0L261.0 400.0L270.0 430.0L272.5 435.0L280.0 452.5L275.0 472.5L277.5 485.0L297.5 505.0L330.0 520.0L368.5 531.0L428.5 543.0M634.5 182.5L664.5 192.5L662.0 200.0L679.5 212.5L704.5 225.0L719.5 237.5L723.0 262.5L723.0 295.0L722.0 315.0L734.5 350.0L737.0 365.0L742.0 382.5L752.0 390.0L767.0 382.5L792.0 365.0L807.0 360.0L813.0 365.0L809.5 375.0L792.0 390.0L767.0 410.0L752.0 430.0L742.0 432.5L717.0 450.0L692.0 472.5L667.0 487.5L629.5 499.5L592.0 506.0L561.0 501.0L541.0 492.5L526.0 477.5L508.5 467.5L471.0 466.0L436.0 461.0L416.0 453.8L351.0 453.8L334.0 457.5L336.0 464.0L358.5 470.0L368.5 474.0L370.0 480.0L358.5 487.5L357.0 497.5L361.0 505.0L373.5 520.0L398.5 532.5L428.5 542.5" stroke="#ea3e40" stroke-width="1" opacity="0.85" fill="none" stroke-linejoin="round"/>
<path d="M618.8 384.3L641.4 384.8L666.3 384.8L674.5 379.3L691.0 371.0L710.4 366.9L729.8 365.5L749.0 367.7L762.9 372.4L767.6 378.0L767.0 390.4L762.9 407.0L757.4 419.4L749.0 431.8L738.0 445.6L724.2 459.4L710.4 470.4L700.8 477.3L700.0 481.5L706.3 486.5L716.0 491.1L720.0 496.7L716.0 500.8L704.9 505.5M618.8 384.3L619.9 398.7L624.8 412.5L633.0 429.0L638.7 442.8L642.8 456.6L646.9 466.3L655.2 476.0L669.0 489.8L680.0 503.6L685.6 512.4" stroke="#2626d0" stroke-width="1.05" fill="none" stroke-linejoin="round"/>
<use href="#cs" x="193.8" y="264.2" stroke="#74ecec" fill="#74ecec"/>
<text class="cl" x="197.5" y="265.5">Pi1 UMa</text>
<use href="#cs" x="443.5" y="207.5" stroke="#74ecec" fill="#74ecec"/>
<text class="cl" x="447.0" y="208.0">Xi Boo A</text>
<path d="M556.8 243.2L566.0 248.8" stroke="#7fe8ee" stroke-width="0.8"/>
<use href="#cs" x="556.8" y="243.2" stroke="#74ecec" fill="#74ecec"/>
<text class="cl" x="561.0" y="243.5">61 Vir</text>
<path d="M611.5 182.5L592.0 180.0" stroke="#7fe8ee" stroke-width="0.8"/>
<use href="#cs" x="611.5" y="182.5" stroke="#74ecec" fill="#74ecec"/>
<text class="cl" x="615.0" y="181.5">GJ 436</text>
<use href="#cs" x="252.5" y="355.5" stroke="#74ecec" fill="#74ecec"/>
<text class="cl" x="256.0" y="356.0">GJ 860A</text>
<use href="#cs" x="241.2" y="363.8" stroke="#74ecec" fill="#74ecec"/>
<text class="cl" x="245.0" y="365.0">GJ 892</text>
<path d="M300.5 371.2L275.0 369.5" stroke="#7fe8ee" stroke-width="0.8"/>
<use href="#cs" x="300.5" y="371.2" stroke="#74ecec" fill="#74ecec"/>
<text class="cl" x="304.0" y="372.0">61 Cyg A</text>
<use href="#cs" x="265.0" y="389.5" stroke="#74ecec" fill="#74ecec"/>
<text class="cl" x="268.0" y="389.5">EV Lac</text>
<use href="#cs" x="477.2" y="335.5" stroke="#74ecec" fill="#74ecec"/>
<text class="cl" x="481.0" y="336.0">36 Oph A</text>
<path d="M509.8 477.0L534.0 478.0" stroke="#7fe8ee" stroke-width="0.8"/>
<use href="#cs" x="509.8" y="477.0" stroke="#74ecec" fill="#74ecec"/>
<text class="cl" x="512.5" y="476.5">Eps Ind</text>
<path d="M463.5 513.8L472.2 541.0" stroke="#7fe8ee" stroke-width="0.8"/>
<use href="#cs" x="463.5" y="513.8" stroke="#74ecec" fill="#74ecec"/>
<text class="cl" x="466.0" y="513.5">GJ 887</text>
<use href="#cs" x="761.5" y="444.2" stroke="#74ecec" fill="#74ecec"/>
<text class="cl" x="764.5" y="444.5">GJ 173</text>
<use href="#cs" x="754.0" y="469.2" stroke="#74ecec" fill="#74ecec"/>
<text class="cl" x="757.0" y="469.0">Delta Eri</text>
<path d="M790.8 404.5L777.0 407.5" stroke="#7fe8ee" stroke-width="0.8"/>
<use href="#cs" x="790.8" y="404.5" stroke="#74ecec" fill="#74ecec"/>
<text class="cl" x="794.5" y="404.5">GJ 205</text>
<text class="wl" x="263.5" y="279.5">NEP</text>
<use href="#st" x="286.2" y="279.0" stroke="#fff" fill="#fff"/>
<text class="wl" x="206.0" y="412.5">M31</text>
<use href="#st" x="228.2" y="411.8" stroke="#fff" fill="#fff"/>
<text class="wl" x="195.0" y="436.5">M33</text>
<use href="#st" x="216.8" y="436.2" stroke="#fff" fill="#fff"/>
<text class="wl" x="402.8" y="314.6">IPM Upstream</text>
<use href="#st" x="468.0" y="313.8" stroke="#fff" fill="#fff"/>
<text class="wl" x="614.5" y="433.0">SEP</text>
<use href="#st" x="637.0" y="432.0" stroke="#fff" fill="#fff"/>
<text class="wl" x="600.0" y="441.5">LMC</text>
<use href="#st" x="627.0" y="441.2" stroke="#fff" fill="#fff"/>
<text class="wl" x="547.0" y="468.5">SMC</text>
<use href="#st" x="573.5" y="467.5" stroke="#fff" fill="#fff"/>
<text class="wl" x="764.0" y="397.5">IPM Downstream</text>
<use href="#st" x="840.0" y="397.0" stroke="#fff" fill="#fff"/>
<text class="wl" x="792" y="319" opacity="0.8">Sun</text>
<text x="559.5" y="369" style="font-size:8px;fill:#fff">G</text>
<text x="142.5" y="316.5" style="font-size:9.5px;font-weight:bold;font-style:italic;fill:#e8303a">LIC</text>
<text x="381.5" y="383.5" style="font-size:8px;font-weight:bold;font-style:italic;fill:#8fd84a">Aql</text>
<text x="695" y="421" style="font-size:8px;font-weight:bold;font-style:italic;fill:#2a2ad8">Blue</text>
<circle cx="436.5" cy="181" r="8.3" fill="#fffb57" stroke="#1a1a5a" stroke-width="1"/>
<circle cx="141.2" cy="336.6" r="8.4" fill="#fffb57" stroke="#1a1a5a" stroke-width="1"/>
<circle cx="206.75" cy="480" r="8.4" fill="#fffb57" stroke="#1a1a5a" stroke-width="1"/>
<circle cx="725.75" cy="373.25" r="5.2" fill="#fffb57" stroke="#1a1a5a" stroke-width="1"/>
<circle cx="743.25" cy="390.5" r="5.2" fill="#fffb57" stroke="#1a1a5a" stroke-width="1"/>
<path d="M741.4 153H745.8V338.5H752L743.6 355.5L735.2 338.5H741.4Z" fill="#fffb57"/>
<path d="M503.7 143.5L474.5 286.6L468.6 285.4L473.4 303.3L484.9 288.7L479.0 287.5L508.3 144.5Z" fill="#7dfbf8"/>
<g class="mt">
<rect x="162.1" y="22.1" width="205.9" height="31.6" fill="#fffb5c"/>
<text x="165.8" y="45.2" textLength="187.67" lengthAdjust="spacingAndGlyphs" xml:space="preserve" style="font-size:20.8px;">Three White Dwarfs</text>
<rect x="98.4" y="64.8" width="333.3" height="81.7" fill="#fff" stroke="#151515" stroke-width="1.7"/>
<text x="118.08" y="88.4" textLength="99.27" lengthAdjust="spacingAndGlyphs" xml:space="preserve" style="font-size:20.8px;">G191-B2B</text>
<text x="222.67" y="88.4" textLength="189.77" lengthAdjust="spacingAndGlyphs" xml:space="preserve" style="font-size:20.8px;">(ℓ = 156.0, b = +7.1)</text>
<text x="113.74" y="113" textLength="83.22" lengthAdjust="spacingAndGlyphs" xml:space="preserve" style="font-size:20.8px;">Feige 24</text>
<text x="220.97" y="113" textLength="196.22" lengthAdjust="spacingAndGlyphs" xml:space="preserve" style="font-size:20.8px;">(ℓ = 166.0, b = -50.3)</text>
<text x="111.25" y="137.7" textLength="72.28" lengthAdjust="spacingAndGlyphs" xml:space="preserve" style="font-size:20.8px;">HZ 43A</text>
<text x="218.17" y="137.7" textLength="201.45" lengthAdjust="spacingAndGlyphs" xml:space="preserve" style="font-size:20.8px;">(ℓ =   54.1, b = +84.2)</text>
<rect x="453.2" y="91" width="123.8" height="53.8" fill="#7dfbf8"/>
<text x="456.38" y="112.8" textLength="110.39" lengthAdjust="spacingAndGlyphs" xml:space="preserve" style="font-size:19.3px;">Solar Motion</text>
<text x="456.59" y="136.8" textLength="107.49" lengthAdjust="spacingAndGlyphs" xml:space="preserve" style="font-size:19.3px;">(“upstream”)</text>
<rect x="655.2" y="10" width="176.7" height="55.9" fill="#fffb5c"/>
<text x="660.2" y="33" textLength="157.97" lengthAdjust="spacingAndGlyphs" xml:space="preserve" style="font-size:19.7px;">Two Early B-stars</text>
<text x="658.56" y="57.4" textLength="168.82" lengthAdjust="spacingAndGlyphs" xml:space="preserve" style="font-size:19.7px;">(interstellar tunnel)</text>
<rect x="598.5" y="78.2" width="290.2" height="61.8" fill="#fff" stroke="#151515" stroke-width="1.7"/>
<text x="606.81" y="102" textLength="10.85" lengthAdjust="spacingAndGlyphs" xml:space="preserve" style="font-size:20.8px;font-weight:bold;font-style:italic">ϵ</text>
<text x="623.3" y="102" textLength="44.13" lengthAdjust="spacingAndGlyphs" xml:space="preserve" style="font-size:20.8px;">CMa</text>
<text x="680.4" y="102" textLength="13.66" lengthAdjust="spacingAndGlyphs" xml:space="preserve" style="font-size:20.8px;">(ℓ</text>
<text x="705.27" y="102" textLength="175.47" lengthAdjust="spacingAndGlyphs" xml:space="preserve" style="font-size:20.8px;">= 239.8, b = -11.3)</text>
<text x="608.6" y="131.8" textLength="11.97" lengthAdjust="spacingAndGlyphs" xml:space="preserve" style="font-size:20.8px;">β</text>
<text x="627.01" y="131.8" textLength="43.31" lengthAdjust="spacingAndGlyphs" xml:space="preserve" style="font-size:20.8px;">CMa</text>
<text x="683.38" y="131.8" textLength="195.21" lengthAdjust="spacingAndGlyphs" xml:space="preserve" style="font-size:20.8px;">(ℓ = 226.0, b = -14.3)</text>
</g>
<rect x="903.9" y="232.7" width="6.5" height="292.2" fill="url(#cbar)"/>
<rect x="904.4" y="233.5" width="1.6" height="200" fill="#fff" opacity="0.28"/>
<path d="M901.2 232.7H912.7M901.2 261.9H904.1M910.2 261.9H912.7M901.2 291.1H904.1M910.2 291.1H912.7M901.2 320.4H904.1M910.2 320.4H912.7M901.2 349.6H904.1M910.2 349.6H912.7M901.2 378.8H904.1M910.2 378.8H912.7M901.2 408.0H904.1M910.2 408.0H912.7M901.2 437.2H904.1M910.2 437.2H912.7M901.2 466.5H904.1M910.2 466.5H912.7M901.2 495.7H904.1M910.2 495.7H912.7M901.2 524.9H912.7" stroke="#111" stroke-width="1.2"/>
<text class="cb" x="883.8" y="205.2" textLength="46" lengthAdjust="spacingAndGlyphs">Brightness</text>
<text class="cb" x="900.5" y="218.8" textLength="12.7" lengthAdjust="spacingAndGlyphs">(R)</text>
<text class="cb" x="923.4" y="235.3">500</text>
<text class="cb" x="923.4" y="381.2">250</text>
<text class="cb" x="923.4" y="527.4">0</text>
</svg></body></html>
